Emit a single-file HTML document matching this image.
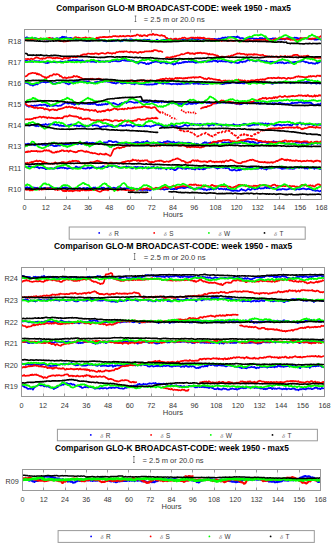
<!DOCTYPE html><html><head><meta charset="utf-8"><style>html,body{margin:0;padding:0;background:#fff;width:333px;height:550px;overflow:hidden}svg{display:block}</style></head><body>
<svg width="333" height="550" viewBox="0 0 333 550" font-family='"Liberation Sans", sans-serif'>
<rect width="333" height="550" fill="#fff"/>
<line x1="45.50" y1="29.5" x2="45.50" y2="199.5" stroke="#f2f2f2" stroke-width="1"/>
<line x1="66.50" y1="29.5" x2="66.50" y2="199.5" stroke="#f2f2f2" stroke-width="1"/>
<line x1="88.50" y1="29.5" x2="88.50" y2="199.5" stroke="#f2f2f2" stroke-width="1"/>
<line x1="109.50" y1="29.5" x2="109.50" y2="199.5" stroke="#f2f2f2" stroke-width="1"/>
<line x1="130.50" y1="29.5" x2="130.50" y2="199.5" stroke="#f2f2f2" stroke-width="1"/>
<line x1="151.50" y1="29.5" x2="151.50" y2="199.5" stroke="#f2f2f2" stroke-width="1"/>
<line x1="173.50" y1="29.5" x2="173.50" y2="199.5" stroke="#f2f2f2" stroke-width="1"/>
<line x1="194.50" y1="29.5" x2="194.50" y2="199.5" stroke="#f2f2f2" stroke-width="1"/>
<line x1="215.50" y1="29.5" x2="215.50" y2="199.5" stroke="#f2f2f2" stroke-width="1"/>
<line x1="236.50" y1="29.5" x2="236.50" y2="199.5" stroke="#f2f2f2" stroke-width="1"/>
<line x1="257.50" y1="29.5" x2="257.50" y2="199.5" stroke="#f2f2f2" stroke-width="1"/>
<line x1="279.50" y1="29.5" x2="279.50" y2="199.5" stroke="#f2f2f2" stroke-width="1"/>
<line x1="300.50" y1="29.5" x2="300.50" y2="199.5" stroke="#f2f2f2" stroke-width="1"/>
<clipPath id="cp0"><rect x="24.5" y="29.5" width="297.00" height="170.00"/></clipPath>
<g clip-path="url(#cp0)">
<polyline points="24.0,37.6 24.8,37.8 25.6,37.9 26.4,37.4 27.2,37.3 28.0,38.3 28.8,38.0 29.6,38.6 30.4,38.3 31.2,38.8 32.0,38.5 32.8,39.0 33.6,38.7 34.4,38.2 35.2,38.1 36.0,38.5 36.8,38.5 37.6,38.9 38.4,38.8 39.2,39.0 40.0,39.2 40.8,39.5 41.6,39.1 42.4,38.7 43.2,38.8 44.0,39.1 44.8,39.4 45.6,39.5 46.4,39.6 47.2,38.8 48.0,39.6 48.8,39.2 49.6,38.9 50.4,38.6 51.2,38.5 52.0,38.7 52.8,38.2 53.6,38.7 54.4,38.9 55.2,39.2 56.0,38.8 56.8,38.0 57.6,38.4 58.4,38.5 59.2,38.5 60.0,38.1 60.8,38.0 61.6,37.3 62.4,36.7 63.2,37.3 64.0,36.9 64.8,37.0 65.6,37.5 66.4,37.2 67.2,38.1 68.0,38.4 68.8,38.0 69.6,38.0 70.4,37.9 71.2,38.1 72.0,38.2 72.8,39.2 73.6,39.0 74.4,38.9 75.2,39.4 76.0,39.4 76.8,39.9 77.6,40.1 78.4,39.6 79.2,39.8 80.0,40.0 80.8,39.7 81.6,39.2 82.4,39.8 83.2,39.4 84.0,40.6 84.8,39.8 85.6,40.7 86.4,40.9 87.2,40.6 88.0,40.5 88.8,40.4 89.6,40.8 90.4,40.8 91.2,40.3 92.0,40.3 92.8,39.9 93.6,40.3 94.4,39.7 95.2,39.7 96.0,39.2 96.8,38.8 97.6,38.9 98.4,39.0 99.2,39.4 100.0,40.0 100.8,40.3 101.6,40.1 102.4,40.5 103.2,40.7 104.0,41.1 104.8,40.9 105.6,41.2 106.4,41.5 107.2,41.1 108.0,41.0 108.8,41.0 109.6,40.9 110.4,40.6 111.2,41.1 112.0,40.4 112.8,41.1 113.6,40.4 114.4,40.5 115.2,41.0 116.0,40.2 116.8,40.8 117.6,39.8 118.4,40.0 119.2,40.6 120.0,40.7 120.8,41.4 121.6,40.8 122.4,41.2 123.2,40.6 124.0,39.6 124.8,39.7 125.6,40.3 126.4,39.3 127.2,40.3 128.0,40.5 128.8,40.2 129.6,39.4 130.4,39.8 131.2,39.3 132.0,39.5 132.8,39.7 133.6,40.5 134.4,39.9 135.2,40.0 136.0,40.5 136.8,39.9 137.6,40.2 138.4,40.2 139.2,40.2 140.0,39.6 140.8,40.1 141.6,40.5 142.4,40.6 143.2,39.7 144.0,39.9 144.8,39.5 145.6,40.0 146.4,40.0 147.2,39.8 148.0,39.9 148.8,39.8 149.6,39.7 150.4,40.7 151.2,40.9 152.0,40.5 152.8,41.4 153.6,41.0 154.4,41.0 155.2,40.8 156.0,40.4 156.8,39.6 157.6,39.9 158.4,41.0 159.2,40.9 160.0,40.9 160.8,40.6 161.6,40.6 162.4,40.9 163.2,39.7 164.0,40.2 164.8,39.8 165.6,40.1 166.4,40.0 167.2,39.6 168.0,39.7 168.8,39.0 169.6,39.5 170.4,39.9 171.2,40.0 172.0,39.5 172.8,39.6 173.6,39.7 174.4,39.6 175.2,39.7 176.0,40.0 176.8,39.5 177.6,39.7 178.4,39.8 179.2,40.3 180.0,40.7 180.8,39.9 181.6,40.0 182.4,39.8 183.2,39.4 184.0,39.6 184.8,40.0 185.6,39.7 186.4,39.7 187.2,40.0 188.0,39.3 188.8,39.1 189.6,39.3 190.4,39.6 191.2,39.2 192.0,39.3 192.8,38.7 193.6,39.0 194.4,39.1 195.2,39.3 196.0,39.5 196.8,39.4 197.6,39.1 198.4,39.2 199.2,39.0 200.0,38.6 200.8,38.8 201.6,38.4 202.4,38.4 203.2,39.2 204.0,39.5 204.8,39.8 205.6,39.5 206.4,39.8 207.2,39.0 208.0,39.9 208.8,39.8 209.6,39.4 210.4,39.3 211.2,39.2 212.0,38.9 212.8,39.1 213.6,39.3 214.4,38.8 215.2,39.2 216.0,39.0 216.8,39.4 217.6,39.5 218.4,38.6 219.2,38.9 220.0,38.7 220.8,38.6 221.6,38.3 222.4,37.7 223.2,37.7 224.0,38.2 224.8,37.5 225.6,37.3 226.4,38.0 227.2,37.5 228.0,37.0 228.8,37.3 229.6,37.3 230.4,37.4 231.2,37.2 232.0,36.8 232.8,37.3 233.6,36.8 234.4,36.9 235.2,37.6 236.0,36.8 236.8,37.3 237.6,36.4 238.4,37.5 239.2,37.4 240.0,38.3 240.8,38.3 241.6,38.0 242.4,38.0 243.2,38.4 244.0,38.5 244.8,39.3 245.6,39.7 246.4,39.3 247.2,39.2 248.0,39.2 248.8,38.9 249.6,38.1 250.4,38.1 251.2,38.6 252.0,38.1 252.8,38.0 253.6,38.8 254.4,38.7 255.2,38.8 256.0,38.6 256.8,38.7 257.6,39.2 258.4,38.9 259.2,38.8 260.0,37.8 260.8,38.8 261.6,38.2 262.4,38.2 263.2,38.9 264.0,38.7 264.8,38.1 265.6,38.5 266.4,37.7 267.2,38.5 268.0,38.7 268.8,38.8 269.6,39.0 270.4,38.9 271.2,39.1 272.0,38.7 272.8,38.3 273.6,38.4 274.4,38.8 275.2,38.3 276.0,38.9 276.8,39.0 277.6,39.7 278.4,39.1 279.2,39.5 280.0,39.2 280.8,39.5 281.6,39.2 282.4,39.3 283.2,39.0 284.0,38.6 284.8,39.6 285.6,38.8 286.4,38.7 287.2,38.2 288.0,38.1 288.8,37.8 289.6,37.9 290.4,38.4 291.2,38.3 292.0,38.2 292.8,38.3 293.6,38.4 294.4,37.6 295.2,37.6 296.0,38.1 296.8,37.7 297.6,38.3 298.4,38.3 299.2,38.6 300.0,38.2 300.8,38.0 301.6,38.8 302.4,38.5 303.2,38.5 304.0,38.7 304.8,38.3 305.6,38.1 306.4,38.6 307.2,38.7 308.0,38.5 308.8,38.9 309.6,38.5 310.4,38.6 311.2,39.3 312.0,38.9 312.8,38.8 313.6,38.9 314.4,39.6 315.2,39.6 316.0,39.5 316.8,39.7 317.6,39.1 318.4,39.3 319.2,39.2 320.0,39.2 320.8,39.7 321.6,39.6" fill="none" stroke="#0000ff" stroke-width="1.7" stroke-linejoin="round" stroke-linecap="round"/>
<polyline points="24.0,60.8 24.8,61.1 25.6,60.9 26.4,60.7 27.2,60.9 28.0,61.4 28.8,61.5 29.6,61.6 30.4,60.6 31.2,61.7 32.0,61.9 32.8,61.5 33.6,61.6 34.4,61.0 35.2,61.3 36.0,61.1 36.8,61.3 37.6,61.3 38.4,61.4 39.2,61.1 40.0,61.4 40.8,61.9 41.6,61.4 42.4,61.7 43.2,61.6 44.0,62.5 44.8,62.4 45.6,63.0 46.4,63.0 47.2,63.1 48.0,62.8 48.8,62.7 49.6,62.2 50.4,62.1 51.2,62.3 52.0,61.9 52.8,61.7 53.6,62.2 54.4,62.2 55.2,62.1 56.0,62.5 56.8,62.2 57.6,62.1 58.4,61.8 59.2,62.0 60.0,61.5 60.8,61.4 61.6,62.2 62.4,61.7 63.2,61.9 64.0,62.0 64.8,61.6 65.6,61.4 66.4,62.2 67.2,61.9 68.0,61.0 68.8,60.4 69.6,60.5 70.4,60.3 71.2,60.7 72.0,60.5 72.8,60.0 73.6,60.0 74.4,60.3 75.2,60.4 76.0,60.3 76.8,60.2 77.6,60.1 78.4,60.6 79.2,60.7 80.0,60.6 80.8,60.7 81.6,60.8 82.4,60.2 83.2,61.3 84.0,61.2 84.8,61.8 85.6,61.3 86.4,61.3 87.2,61.8 88.0,61.2 88.8,61.3 89.6,61.2 90.4,61.7 91.2,61.8 92.0,61.6 92.8,61.6 93.6,61.6 94.4,62.0 95.2,61.9 96.0,62.4 96.8,61.5 97.6,60.9 98.4,60.6 99.2,61.7 100.0,60.9 100.8,61.8 101.6,61.5 102.4,61.3 103.2,61.7 104.0,61.4 104.8,61.9 105.6,61.1 106.4,61.4 107.2,61.2 108.0,61.0 108.8,61.9 109.6,61.8 110.4,61.9 111.2,61.0 112.0,61.2 112.8,61.3 113.6,61.0 114.4,61.0 115.2,61.1 116.0,60.8 116.8,61.3 117.6,61.4 118.4,61.1 119.2,61.4 120.0,61.2 120.8,61.1 121.6,60.2 122.4,60.2 123.2,60.1 124.0,60.6 124.8,59.8 125.6,60.8 126.4,60.5 127.2,61.0 128.0,60.8 128.8,60.7 129.6,60.9 130.4,61.1 131.2,60.2 132.0,60.8 132.8,60.6 133.6,60.9 134.4,61.9 135.2,62.1 136.0,61.8 136.8,62.3 137.6,62.5 138.4,63.7 139.2,62.8 140.0,62.5 140.8,62.4 141.6,62.3 142.4,62.6 143.2,63.1 144.0,62.9 144.8,62.9 145.6,63.8 146.4,64.2 147.2,63.9 148.0,63.2 148.8,64.2 149.6,63.3 150.4,62.9 151.2,63.4 152.0,62.2 152.8,61.7 153.6,62.2 154.4,61.7 155.2,61.4 156.0,61.8 156.8,61.6 157.6,62.0 158.4,61.8 159.2,61.9 160.0,62.6 160.8,63.2 161.6,62.6 162.4,62.5 163.2,62.5 164.0,62.5 164.8,62.4 165.6,63.1 166.4,63.4 167.2,63.6 168.0,63.2 168.8,63.0 169.6,63.0 170.4,63.4 171.2,63.5 172.0,63.8 172.8,63.8 173.6,64.7 174.4,64.0 175.2,64.3 176.0,63.2 176.8,62.5 177.6,63.1 178.4,63.6 179.2,62.8 180.0,63.1 180.8,63.1 181.6,63.0 182.4,62.1 183.2,62.6 184.0,61.7 184.8,62.4 185.6,61.7 186.4,61.9 187.2,62.1 188.0,61.9 188.8,61.3 189.6,62.0 190.4,61.9 191.2,61.7 192.0,61.9 192.8,61.2 193.6,62.2 194.4,61.6 195.2,62.8 196.0,62.7 196.8,62.6 197.6,62.2 198.4,62.5 199.2,62.0 200.0,61.8 200.8,62.3 201.6,61.5 202.4,61.4 203.2,61.8 204.0,61.2 204.8,61.1 205.6,61.2 206.4,61.8 207.2,61.8 208.0,61.7 208.8,61.6 209.6,61.7 210.4,61.4 211.2,61.5 212.0,61.6 212.8,61.0 213.6,60.6 214.4,61.0 215.2,60.6 216.0,61.3 216.8,60.8 217.6,62.0 218.4,61.5 219.2,61.0 220.0,61.0 220.8,61.5 221.6,60.7 222.4,61.4 223.2,61.2 224.0,61.5 224.8,61.2 225.6,61.7 226.4,61.6 227.2,60.8 228.0,61.5 228.8,61.7 229.6,62.1 230.4,62.5 231.2,62.6 232.0,62.4 232.8,61.9 233.6,62.1 234.4,62.6 235.2,62.2 236.0,62.8 236.8,63.0 237.6,63.1 238.4,62.7 239.2,62.8 240.0,61.8 240.8,61.7 241.6,61.7 242.4,62.3 243.2,61.8 244.0,61.6 244.8,61.6 245.6,61.8 246.4,60.7 247.2,60.6 248.0,59.9 248.8,59.8 249.6,60.6 250.4,59.8 251.2,59.5 252.0,60.1 252.8,60.7 253.6,61.0 254.4,60.9 255.2,61.4 256.0,61.4 256.8,60.5 257.6,60.7 258.4,60.2 259.2,60.2 260.0,60.5 260.8,60.5 261.6,60.8 262.4,60.9 263.2,61.4 264.0,60.9 264.8,61.8 265.6,61.6 266.4,60.9 267.2,61.9 268.0,61.9 268.8,62.4 269.6,62.1 270.4,61.7 271.2,62.1 272.0,61.7 272.8,61.8 273.6,62.2 274.4,62.1 275.2,63.1 276.0,62.5 276.8,62.3 277.6,63.1 278.4,62.6 279.2,62.4 280.0,62.7 280.8,62.1 281.6,62.9 282.4,62.2 283.2,62.7 284.0,63.4 284.8,63.3 285.6,63.1 286.4,63.1 287.2,62.5 288.0,62.3 288.8,62.9 289.6,62.6 290.4,62.6 291.2,62.4 292.0,62.7 292.8,62.1 293.6,62.4 294.4,62.1 295.2,61.8 296.0,61.8 296.8,62.0 297.6,61.5 298.4,61.4 299.2,61.7 300.0,61.5 300.8,61.6 301.6,61.3 302.4,60.2 303.2,61.2 304.0,61.6 304.8,61.5 305.6,62.4 306.4,61.9 307.2,62.4 308.0,62.3 308.8,63.3 309.6,63.2 310.4,63.1 311.2,62.7 312.0,63.0 312.8,63.6 313.6,63.3 314.4,63.7 315.2,63.8 316.0,63.1 316.8,62.5 317.6,63.4 318.4,62.3 319.2,62.4 320.0,61.3 320.8,61.6 321.6,61.3" fill="none" stroke="#0000ff" stroke-width="1.7" stroke-linejoin="round" stroke-linecap="round"/>
<polyline points="24.0,82.4 24.8,83.0 25.6,83.0 26.4,83.0 27.2,83.2 28.0,83.6 28.8,83.5 29.6,84.6 30.4,85.0 31.2,85.0 32.0,84.9 32.8,85.6 33.6,85.5 34.4,84.7 35.2,84.7 36.0,84.5 36.8,83.5 37.6,84.4 38.4,83.3 39.2,82.8 40.0,83.0 40.8,82.6 41.6,81.7 42.4,82.0 43.2,82.1 44.0,82.1 44.8,82.0 45.6,82.6 46.4,82.3 47.2,82.1 48.0,82.1 48.8,82.0 49.6,81.8 50.4,81.7 51.2,82.2 52.0,82.5 52.8,83.3 53.6,83.7 54.4,83.5 55.2,83.9 56.0,83.1 56.8,82.8 57.6,82.8 58.4,82.5 59.2,83.2 60.0,82.5 60.8,82.6 61.6,82.1 62.4,82.3 63.2,81.8 64.0,82.5 64.8,82.1 65.6,83.3 66.4,83.3 67.2,83.5 68.0,84.2 68.8,84.4 69.6,83.8 70.4,83.5 71.2,82.9 72.0,82.2 72.8,82.5 73.6,82.0 74.4,81.7 75.2,81.8 76.0,82.0 76.8,81.8 77.6,80.6 78.4,80.4 79.2,81.4 80.0,81.3 80.8,81.6 81.6,82.0 82.4,81.7 83.2,81.3 84.0,81.3 84.8,81.6 85.6,81.3 86.4,81.3 87.2,81.8 88.0,81.3 88.8,81.2 89.6,82.0 90.4,82.7 91.2,82.6 92.0,83.2 92.8,83.0 93.6,83.1 94.4,82.6 95.2,82.0 96.0,82.6 96.8,81.9 97.6,81.7 98.4,82.1 99.2,81.7 100.0,81.7 100.8,80.7 101.6,80.8 102.4,81.0 103.2,81.0 104.0,80.9 104.8,81.7 105.6,80.9 106.4,81.5 107.2,81.2 108.0,82.0 108.8,81.6 109.6,82.0 110.4,82.3 111.2,82.2 112.0,83.0 112.8,82.8 113.6,83.2 114.4,82.7 115.2,83.3 116.0,83.6 116.8,82.7 117.6,82.8 118.4,82.6 119.2,81.9 120.0,82.3 120.8,83.0 121.6,83.5 122.4,83.7 123.2,83.4 124.0,83.2 124.8,83.2 125.6,83.0 126.4,83.3 127.2,82.7 128.0,82.5 128.8,83.1 129.6,83.0 130.4,83.1 131.2,83.7 132.0,84.0 132.8,83.7 133.6,83.4 134.4,84.4 135.2,83.6 136.0,83.4 136.8,83.3 137.6,83.2 138.4,83.4 139.2,84.0 140.0,83.5 140.8,84.2 141.6,84.1 142.4,84.1 143.2,83.7 144.0,84.3 144.8,84.4 145.6,84.0 146.4,84.6 147.2,84.6 148.0,84.6 148.8,84.4 149.6,84.7 150.4,84.3 151.2,84.4 152.0,84.7 152.8,84.4 153.6,84.3 154.4,84.3 155.2,83.3 156.0,84.3 156.8,83.5 157.6,83.6 158.4,83.1 159.2,82.8 160.0,83.2 160.8,83.0 161.6,83.5 162.4,83.1 163.2,83.9 164.0,83.3 164.8,83.1 165.6,83.5 166.4,83.7 167.2,83.6 168.0,83.6 168.8,83.7 169.6,83.7 170.4,83.9 171.2,84.1 172.0,84.4 172.8,83.9 173.6,83.7 174.4,84.0 175.2,84.0 176.0,83.9 176.8,84.1 177.6,84.4 178.4,83.6 179.2,84.1 180.0,83.9 180.8,84.4 181.6,83.8 182.4,83.9 183.2,84.0 184.0,84.0 184.8,83.4 185.6,83.8 186.4,83.8 187.2,83.6 188.0,83.6 188.8,83.7 189.6,83.7 190.4,83.6 191.2,82.9 192.0,83.0 192.8,83.0 193.6,83.8 194.4,83.6 195.2,83.7 196.0,83.5 196.8,83.5 197.6,83.5 198.4,84.0 199.2,83.6 200.0,83.8 200.8,83.7 201.6,83.5 202.4,83.8 203.2,84.2 204.0,84.0 204.8,83.9 205.6,83.5 206.4,83.8 207.2,83.8 208.0,83.8 208.8,83.2 209.6,82.3 210.4,82.4 211.2,82.8 212.0,82.8 212.8,82.4 213.6,82.8 214.4,82.7 215.2,83.3 216.0,83.1 216.8,83.4 217.6,83.1 218.4,83.0 219.2,82.9 220.0,83.3 220.8,83.8 221.6,84.0 222.4,84.2 223.2,83.7 224.0,83.9 224.8,83.5 225.6,83.5 226.4,83.0 227.2,83.4 228.0,82.9 228.8,83.4 229.6,82.8 230.4,83.1 231.2,82.8 232.0,82.2 232.8,82.6 233.6,82.0 234.4,82.4 235.2,82.9 236.0,82.6 236.8,83.1 237.6,83.2 238.4,83.0 239.2,83.3 240.0,82.9 240.8,83.1 241.6,82.7 242.4,83.3 243.2,83.0 244.0,83.6 244.8,82.7 245.6,82.6 246.4,82.6 247.2,82.2 248.0,81.6 248.8,81.8 249.6,82.0 250.4,81.9 251.2,81.5 252.0,81.7 252.8,82.1 253.6,82.1 254.4,82.7 255.2,82.4 256.0,82.5 256.8,82.5 257.6,82.7 258.4,82.2 259.2,82.9 260.0,82.8 260.8,82.4 261.6,82.7 262.4,82.1 263.2,82.3 264.0,82.2 264.8,82.2 265.6,82.9 266.4,82.8 267.2,82.8 268.0,82.5 268.8,82.7 269.6,82.7 270.4,83.1 271.2,83.4 272.0,83.7 272.8,83.8 273.6,83.0 274.4,83.1 275.2,83.0 276.0,83.0 276.8,83.1 277.6,82.8 278.4,82.3 279.2,82.7 280.0,82.8 280.8,82.6 281.6,82.8 282.4,82.5 283.2,82.5 284.0,81.9 284.8,81.7 285.6,81.9 286.4,82.0 287.2,82.3 288.0,82.1 288.8,82.2 289.6,82.3 290.4,83.3 291.2,82.8 292.0,82.4 292.8,82.4 293.6,82.7 294.4,83.0 295.2,82.4 296.0,81.7 296.8,82.0 297.6,82.3 298.4,82.5 299.2,81.8 300.0,81.9 300.8,81.9 301.6,82.4 302.4,82.2 303.2,82.6 304.0,82.1 304.8,82.2 305.6,82.0 306.4,81.9 307.2,82.2 308.0,81.8 308.8,82.5 309.6,82.2 310.4,83.2 311.2,83.6 312.0,83.2 312.8,83.2 313.6,83.1 314.4,83.1 315.2,83.2 316.0,83.6 316.8,83.6 317.6,83.2 318.4,83.2 319.2,83.3 320.0,83.6 320.8,83.2 321.6,83.4" fill="none" stroke="#0000ff" stroke-width="1.7" stroke-linejoin="round" stroke-linecap="round"/>
<polyline points="24.0,104.4 24.8,104.2 25.6,104.2 26.4,105.4 27.2,106.0 28.0,105.9 28.8,106.8 29.6,106.0 30.4,106.4 31.2,105.4 32.0,105.8 32.8,106.2 33.6,105.9 34.4,105.4 35.2,105.9 36.0,105.6 36.8,105.3 37.6,105.6 38.4,105.3 39.2,104.9 40.0,105.0 40.8,104.7 41.6,105.3 42.4,105.0 43.2,105.0 44.0,104.4 44.8,105.0 45.6,104.6 46.4,105.5 47.2,106.3 48.0,105.3 48.8,105.8 49.6,106.2 50.4,105.3 51.2,105.2 52.0,105.8 52.8,105.9 53.6,106.0 54.4,105.4 55.2,105.5 56.0,105.2 56.8,105.5 57.6,106.0 58.4,106.0 59.2,105.7 60.0,105.7 60.8,105.7 61.6,105.1 62.4,104.5 63.2,104.0 64.0,103.7 64.8,103.0 65.6,102.4 66.4,102.9 67.2,102.9 68.0,103.6 68.8,103.4 69.6,103.1 70.4,102.7 71.2,103.5 72.0,104.0 72.8,103.5 73.6,103.9 74.4,104.9 75.2,104.3 76.0,103.7 76.8,103.6 77.6,103.7 78.4,104.5 79.2,104.2 80.0,103.4 80.8,103.3 81.6,103.3 82.4,103.7 83.2,102.8 84.0,103.7 84.8,103.6 85.6,103.6 86.4,103.6 87.2,103.4 88.0,104.2 88.8,103.5 89.6,104.1 90.4,104.2 91.2,103.1 92.0,104.0 92.8,103.3 93.6,104.0 94.4,103.5 95.2,103.7 96.0,104.3 96.8,105.0 97.6,104.9 98.4,105.3 99.2,104.3 100.0,105.0 100.8,105.1 101.6,104.2 102.4,104.8 103.2,104.2 104.0,104.4 104.8,104.4 105.6,103.8 106.4,104.3 107.2,104.3 108.0,103.8 108.8,103.5 109.6,103.1 110.4,103.3 111.2,103.5 112.0,103.2 112.8,103.7 113.6,102.9 114.4,103.7 115.2,103.7 116.0,104.1 116.8,104.4 117.6,104.8 118.4,105.4 119.2,104.5 120.0,103.7 120.8,104.2 121.6,103.0 122.4,103.6 123.2,102.8 124.0,102.8 124.8,102.0 125.6,102.1 126.4,103.0 127.2,102.3 128.0,102.0 128.8,101.8 129.6,101.7 130.4,101.5 131.2,101.7 132.0,102.1 132.8,102.3 133.6,102.5 134.4,102.9 135.2,102.4 136.0,102.6 136.8,102.2 137.6,102.7 138.4,101.7 139.2,101.5 140.0,101.2 140.8,101.2 141.6,101.4 142.4,101.3 143.2,101.1 144.0,102.0 144.8,101.8 145.6,102.0 146.4,102.0 147.2,102.5 148.0,101.9 148.8,101.5 149.6,101.6 150.4,100.8 151.2,100.6 152.0,101.7 152.8,101.8 153.6,101.7 154.4,102.4 155.2,102.1 156.0,101.9 156.8,102.3 157.6,102.5 158.4,102.5 159.2,102.0 160.0,101.4 160.8,101.2 161.6,102.5 162.4,101.5 163.2,101.2 164.0,101.9 164.8,102.2 165.6,101.7 166.4,101.9 167.2,102.2 168.0,102.5 168.8,102.9 169.6,102.9 170.4,103.1 171.2,103.3 172.0,103.4 172.8,103.2 173.6,103.2 174.4,103.0 175.2,102.7 176.0,103.0 176.8,103.3 177.6,104.2 178.4,104.2 179.2,103.8 180.0,104.0 180.8,103.8 181.6,104.3 182.4,103.8 183.2,104.3 184.0,103.9 184.8,103.7 185.6,103.9 186.4,104.3 187.2,104.3 188.0,104.0 188.8,102.9 189.6,103.0 190.4,104.0 191.2,103.9 192.0,103.7 192.8,104.0 193.6,102.7 194.4,103.3 195.2,103.0 196.0,103.9 196.8,103.3 197.6,103.1 198.4,102.9 199.2,102.6 200.0,102.5 200.8,102.8 201.6,102.2 202.4,102.2 203.2,102.9 204.0,102.1 204.8,101.8 205.6,102.2 206.4,102.8 207.2,102.9 208.0,102.4 208.8,102.9 209.6,102.6 210.4,103.0 211.2,102.5 212.0,103.1 212.8,103.4 213.6,103.3 214.4,103.4 215.2,102.8 216.0,103.5 216.8,102.9 217.6,103.1 218.4,102.6 219.2,102.9 220.0,103.1 220.8,102.7 221.6,102.4 222.4,102.5 223.2,102.7 224.0,102.7 224.8,102.7 225.6,102.8 226.4,102.3 227.2,102.4 228.0,101.6 228.8,102.7 229.6,102.7 230.4,103.0 231.2,103.0 232.0,103.3 232.8,103.2 233.6,102.4 234.4,103.1 235.2,103.7 236.0,103.2 236.8,104.2 237.6,103.6 238.4,103.0 239.2,104.4 240.0,104.0 240.8,104.3 241.6,104.1 242.4,103.6 243.2,103.5 244.0,102.5 244.8,102.9 245.6,103.3 246.4,102.5 247.2,103.8 248.0,103.0 248.8,102.3 249.6,101.9 250.4,101.7 251.2,101.9 252.0,102.6 252.8,102.8 253.6,102.6 254.4,102.7 255.2,102.9 256.0,103.1 256.8,102.8 257.6,102.2 258.4,102.7 259.2,104.0 260.0,104.0 260.8,102.6 261.6,103.3 262.4,103.3 263.2,103.5 264.0,103.3 264.8,102.8 265.6,103.0 266.4,103.4 267.2,104.0 268.0,103.6 268.8,104.0 269.6,103.3 270.4,103.0 271.2,103.8 272.0,103.7 272.8,103.0 273.6,104.4 274.4,103.1 275.2,103.5 276.0,103.3 276.8,103.5 277.6,103.5 278.4,103.2 279.2,102.8 280.0,102.7 280.8,102.9 281.6,104.0 282.4,103.5 283.2,104.6 284.0,103.6 284.8,103.8 285.6,104.0 286.4,104.1 287.2,103.7 288.0,103.8 288.8,104.2 289.6,104.3 290.4,103.6 291.2,103.4 292.0,102.5 292.8,103.3 293.6,103.3 294.4,102.8 295.2,102.8 296.0,102.8 296.8,102.7 297.6,103.0 298.4,102.1 299.2,102.4 300.0,102.2 300.8,102.2 301.6,102.1 302.4,102.8 303.2,102.9 304.0,102.6 304.8,103.2 305.6,102.4 306.4,102.9 307.2,102.1 308.0,102.9 308.8,102.7 309.6,102.3 310.4,103.0 311.2,102.9 312.0,103.9 312.8,104.2 313.6,104.8 314.4,105.2 315.2,104.8 316.0,104.5 316.8,104.8 317.6,104.1 318.4,104.0 319.2,104.6 320.0,104.2 320.8,103.4 321.6,103.0" fill="none" stroke="#0000ff" stroke-width="1.7" stroke-linejoin="round" stroke-linecap="round"/>
<polyline points="24.0,125.6 24.8,125.5 25.6,124.6 26.4,125.1 27.2,124.2 28.0,125.0 28.8,125.4 29.6,125.8 30.4,125.5 31.2,124.7 32.0,124.9 32.8,125.1 33.6,124.9 34.4,125.7 35.2,125.2 36.0,126.3 36.8,125.4 37.6,126.0 38.4,126.3 39.2,125.7 40.0,125.3 40.8,124.9 41.6,124.8 42.4,125.2 43.2,124.4 44.0,124.9 44.8,124.7 45.6,124.0 46.4,124.6 47.2,125.0 48.0,124.8 48.8,124.2 49.6,124.4 50.4,124.1 51.2,124.1 52.0,124.5 52.8,124.2 53.6,124.6 54.4,124.0 55.2,125.1 56.0,124.7 56.8,124.8 57.6,124.8 58.4,124.9 59.2,125.9 60.0,125.7 60.8,125.2 61.6,126.0 62.4,125.8 63.2,125.8 64.0,126.1 64.8,126.0 65.6,125.9 66.4,126.0 67.2,125.8 68.0,125.3 68.8,125.1 69.6,125.3 70.4,124.7 71.2,124.4 72.0,124.6 72.8,124.8 73.6,125.2 74.4,125.7 75.2,125.0 76.0,125.3 76.8,126.0 77.6,125.5 78.4,126.0 79.2,126.4 80.0,125.5 80.8,125.7 81.6,125.4 82.4,126.2 83.2,125.4 84.0,126.5 84.8,126.8 85.6,126.0 86.4,126.1 87.2,125.7 88.0,126.4 88.8,126.0 89.6,125.5 90.4,124.7 91.2,124.7 92.0,125.1 92.8,125.8 93.6,125.5 94.4,125.2 95.2,125.1 96.0,125.6 96.8,125.3 97.6,125.6 98.4,125.9 99.2,126.6 100.0,127.2 100.8,127.1 101.6,126.8 102.4,126.5 103.2,126.5 104.0,126.3 104.8,126.1 105.6,126.6 106.4,126.4 107.2,125.9 108.0,126.0 108.8,125.6 109.6,125.8 110.4,125.6 111.2,126.4 112.0,126.5 112.8,126.9 113.6,126.2 114.4,127.2 115.2,126.2 116.0,126.4 116.8,125.6 117.6,126.3 118.4,125.8 119.2,125.8 120.0,125.5 120.8,125.2 121.6,125.4 122.4,126.1 123.2,125.7 124.0,125.8 124.8,125.5 125.6,125.9 126.4,124.4 127.2,125.2 128.0,125.5 128.8,125.1 129.6,125.5 130.4,125.0 131.2,125.3 132.0,126.1 132.8,126.7 133.6,126.3 134.4,125.5 135.2,125.3 136.0,125.5 136.8,125.4 137.6,125.5 138.4,126.2 139.2,126.2 140.0,126.3 140.8,126.0 141.6,126.2 142.4,126.3 143.2,126.1 144.0,126.3 144.8,126.2 145.6,125.8 146.4,125.7 147.2,126.2 148.0,126.0 148.8,126.0 149.6,126.1 150.4,126.8 151.2,126.4 152.0,126.0 152.8,125.9 153.6,125.8 154.4,125.3 155.2,125.2 156.0,124.9 156.8,124.6 157.6,124.8 158.4,124.8 159.2,125.0 160.0,124.6 160.8,125.3 161.6,126.0 162.4,126.1 163.2,127.1 164.0,125.8 164.8,126.5 165.6,125.6 166.4,125.5 167.2,126.1 168.0,125.5 168.8,125.5 169.6,125.5 170.4,125.5 171.2,125.8 172.0,125.0 172.8,125.9 173.6,125.8 174.4,125.9 175.2,125.7 176.0,125.8 176.8,126.2 177.6,126.8 178.4,127.2 179.2,126.7 180.0,126.9 180.8,126.6 181.6,126.6 182.4,126.1 183.2,126.0 184.0,125.2 184.8,124.9 185.6,125.1 186.4,125.3 187.2,125.8 188.0,125.8 188.8,125.5 189.6,125.3 190.4,124.4 191.2,123.7 192.0,124.7 192.8,124.6 193.6,125.2 194.4,124.2 195.2,124.4 196.0,124.3 196.8,124.8 197.6,124.1 198.4,125.2 199.2,124.5 200.0,123.9 200.8,124.1 201.6,124.5 202.4,125.6 203.2,124.9 204.0,124.4 204.8,124.3 205.6,124.5 206.4,124.0 207.2,124.5 208.0,124.9 208.8,125.9 209.6,125.7 210.4,124.9 211.2,124.9 212.0,124.6 212.8,124.4 213.6,125.3 214.4,124.6 215.2,123.7 216.0,123.7 216.8,123.8 217.6,124.1 218.4,124.7 219.2,124.8 220.0,124.9 220.8,125.1 221.6,125.8 222.4,125.1 223.2,124.8 224.0,124.6 224.8,125.1 225.6,124.5 226.4,125.7 227.2,125.5 228.0,124.9 228.8,125.5 229.6,125.0 230.4,125.0 231.2,125.2 232.0,124.7 232.8,124.5 233.6,124.1 234.4,124.6 235.2,125.1 236.0,125.0 236.8,125.3 237.6,125.2 238.4,125.4 239.2,124.9 240.0,124.9 240.8,125.1 241.6,125.1 242.4,124.4 243.2,124.8 244.0,123.7 244.8,124.5 245.6,123.9 246.4,124.4 247.2,125.4 248.0,125.5 248.8,126.0 249.6,125.7 250.4,125.7 251.2,125.3 252.0,125.1 252.8,124.8 253.6,124.6 254.4,124.9 255.2,124.5 256.0,124.7 256.8,124.4 257.6,124.7 258.4,124.7 259.2,123.5 260.0,123.3 260.8,123.3 261.6,123.5 262.4,123.2 263.2,123.5 264.0,124.3 264.8,124.5 265.6,123.3 266.4,124.6 267.2,124.6 268.0,123.5 268.8,123.5 269.6,124.3 270.4,124.1 271.2,124.3 272.0,124.4 272.8,124.7 273.6,124.8 274.4,125.6 275.2,124.9 276.0,125.5 276.8,124.7 277.6,124.9 278.4,124.5 279.2,124.7 280.0,125.4 280.8,124.8 281.6,125.6 282.4,125.3 283.2,125.0 284.0,124.8 284.8,125.2 285.6,125.0 286.4,124.9 287.2,124.7 288.0,124.7 288.8,124.8 289.6,125.2 290.4,124.9 291.2,125.6 292.0,125.4 292.8,124.1 293.6,123.9 294.4,123.9 295.2,124.2 296.0,124.6 296.8,124.5 297.6,124.8 298.4,123.5 299.2,123.1 300.0,122.4 300.8,123.4 301.6,124.6 302.4,123.5 303.2,123.6 304.0,123.6 304.8,124.2 305.6,124.8 306.4,124.1 307.2,124.3 308.0,124.6 308.8,123.8 309.6,124.4 310.4,123.8 311.2,124.0 312.0,124.4 312.8,124.6 313.6,125.4 314.4,124.8 315.2,124.6 316.0,124.3 316.8,124.7 317.6,124.3 318.4,124.1 319.2,124.9 320.0,124.6 320.8,124.9 321.6,125.0" fill="none" stroke="#0000ff" stroke-width="1.7" stroke-linejoin="round" stroke-linecap="round"/>
<polyline points="24.0,144.3 24.8,144.3 25.6,144.2 26.4,144.1 27.2,144.6 28.0,143.6 28.8,143.8 29.6,143.8 30.4,144.0 31.2,144.9 32.0,144.6 32.8,144.3 33.6,144.6 34.4,145.2 35.2,145.4 36.0,144.9 36.8,144.8 37.6,144.8 38.4,144.3 39.2,144.7 40.0,144.2 40.8,144.5 41.6,144.2 42.4,144.9 43.2,144.8 44.0,144.3 44.8,144.8 45.6,145.4 46.4,145.5 47.2,144.7 48.0,145.1 48.8,145.8 49.6,144.9 50.4,145.3 51.2,144.7 52.0,145.1 52.8,145.4 53.6,146.0 54.4,146.2 55.2,145.6 56.0,146.2 56.8,145.6 57.6,145.8 58.4,145.5 59.2,145.4 60.0,145.7 60.8,145.1 61.6,145.1 62.4,144.5 63.2,144.3 64.0,144.4 64.8,145.2 65.6,144.5 66.4,144.5 67.2,144.2 68.0,144.2 68.8,144.3 69.6,143.8 70.4,143.5 71.2,144.4 72.0,142.8 72.8,143.7 73.6,144.3 74.4,144.0 75.2,143.3 76.0,143.9 76.8,144.1 77.6,144.3 78.4,143.8 79.2,143.1 80.0,143.2 80.8,143.8 81.6,144.2 82.4,143.8 83.2,143.5 84.0,142.8 84.8,142.8 85.6,142.6 86.4,142.3 87.2,142.2 88.0,143.3 88.8,143.4 89.6,142.8 90.4,143.0 91.2,143.0 92.0,142.7 92.8,142.8 93.6,142.8 94.4,143.4 95.2,143.4 96.0,143.0 96.8,142.6 97.6,143.3 98.4,143.5 99.2,143.4 100.0,143.3 100.8,143.3 101.6,143.0 102.4,143.7 103.2,143.4 104.0,142.1 104.8,143.0 105.6,142.4 106.4,142.4 107.2,142.7 108.0,141.8 108.8,140.8 109.6,141.1 110.4,141.0 111.2,141.1 112.0,141.8 112.8,142.1 113.6,142.1 114.4,142.0 115.2,141.6 116.0,141.5 116.8,142.0 117.6,142.4 118.4,142.5 119.2,143.1 120.0,142.9 120.8,142.8 121.6,142.9 122.4,143.4 123.2,142.8 124.0,142.9 124.8,143.5 125.6,143.3 126.4,143.5 127.2,144.2 128.0,144.2 128.8,143.3 129.6,143.8 130.4,143.8 131.2,143.1 132.0,144.1 132.8,143.0 133.6,142.8 134.4,143.1 135.2,142.2 136.0,142.0 136.8,142.3 137.6,141.9 138.4,142.2 139.2,142.7 140.0,142.9 140.8,142.9 141.6,142.2 142.4,142.7 143.2,141.8 144.0,142.4 144.8,142.4 145.6,142.1 146.4,141.5 147.2,141.0 148.0,142.1 148.8,142.4 149.6,142.5 150.4,142.8 151.2,142.8 152.0,142.7 152.8,143.5 153.6,143.5 154.4,142.8 155.2,142.8 156.0,143.6 156.8,143.6 157.6,142.4 158.4,142.3 159.2,142.9 160.0,142.3 160.8,142.6 161.6,142.8 162.4,142.8 163.2,143.0 164.0,141.7 164.8,142.6 165.6,141.7 166.4,142.0 167.2,141.0 168.0,141.9 168.8,141.3 169.6,141.7 170.4,142.3 171.2,142.1 172.0,142.6 172.8,142.1 173.6,141.6 174.4,142.4 175.2,143.4 176.0,143.0 176.8,142.6 177.6,142.5 178.4,142.2 179.2,142.4 180.0,142.9 180.8,142.6 181.6,142.8 182.4,142.4 183.2,142.8 184.0,143.1 184.8,143.0 185.6,143.1 186.4,143.1 187.2,143.5 188.0,142.5 188.8,142.8 189.6,142.8 190.4,142.9 191.2,143.4 192.0,143.9 192.8,144.0 193.6,144.5 194.4,143.4 195.2,144.3 196.0,144.3 196.8,143.6 197.6,144.5 198.4,144.2 199.2,144.7 200.0,145.2 200.8,144.8 201.6,144.2 202.4,143.8 203.2,142.9 204.0,143.0 204.8,142.2 205.6,142.8 206.4,142.4 207.2,143.4 208.0,143.6 208.8,143.0 209.6,143.7 210.4,142.3 211.2,143.2 212.0,143.0 212.8,142.4 213.6,142.5 214.4,142.8 215.2,142.5 216.0,142.0 216.8,143.0 217.6,143.2 218.4,141.5 219.2,140.9 220.0,141.3 220.8,141.1 221.6,141.9 222.4,142.4 223.2,142.9 224.0,142.4 224.8,142.2 225.6,142.5 226.4,142.8 227.2,142.6 228.0,142.8 228.8,142.2 229.6,143.5 230.4,142.4 231.2,142.9 232.0,143.1 232.8,142.9 233.6,143.1 234.4,143.6 235.2,143.6 236.0,142.8 236.8,143.1 237.6,143.2 238.4,142.8 239.2,143.0 240.0,143.2 240.8,142.6 241.6,141.6 242.4,142.0 243.2,143.0 244.0,142.3 244.8,140.9 245.6,140.7 246.4,141.7 247.2,141.1 248.0,141.6 248.8,141.4 249.6,142.3 250.4,141.8 251.2,142.2 252.0,142.1 252.8,141.7 253.6,141.8 254.4,143.0 255.2,142.4 256.0,143.1 256.8,143.8 257.6,143.5 258.4,142.7 259.2,142.4 260.0,142.0 260.8,142.0 261.6,142.2 262.4,142.3 263.2,141.9 264.0,141.8 264.8,142.1 265.6,141.5 266.4,142.9 267.2,142.8 268.0,143.4 268.8,142.5 269.6,141.8 270.4,142.7 271.2,142.8 272.0,142.4 272.8,141.7 273.6,141.1 274.4,142.0 275.2,142.3 276.0,141.7 276.8,142.4 277.6,142.1 278.4,142.4 279.2,142.5 280.0,142.1 280.8,142.0 281.6,142.3 282.4,142.0 283.2,142.9 284.0,142.9 284.8,142.9 285.6,144.0 286.4,143.8 287.2,143.5 288.0,143.8 288.8,143.4 289.6,144.1 290.4,144.2 291.2,143.8 292.0,143.6 292.8,143.7 293.6,143.7 294.4,143.6 295.2,143.2 296.0,142.7 296.8,142.3 297.6,142.6 298.4,142.1 299.2,142.8 300.0,142.5 300.8,142.2 301.6,143.1 302.4,142.8 303.2,142.6 304.0,142.9 304.8,141.7 305.6,142.7 306.4,143.1 307.2,142.7 308.0,143.2 308.8,144.2 309.6,144.3 310.4,144.4 311.2,144.8 312.0,144.2 312.8,143.8 313.6,143.3 314.4,142.6 315.2,142.9 316.0,143.2 316.8,142.9 317.6,143.9 318.4,143.2 319.2,143.2 320.0,143.7 320.8,143.9 321.6,144.2" fill="none" stroke="#0000ff" stroke-width="1.7" stroke-linejoin="round" stroke-linecap="round"/>
<polyline points="24.0,166.4 24.8,166.6 25.6,166.8 26.4,167.1 27.2,167.5 28.0,167.0 28.8,166.7 29.6,166.7 30.4,167.0 31.2,166.6 32.0,166.9 32.8,167.1 33.6,166.6 34.4,167.3 35.2,166.7 36.0,167.1 36.8,167.1 37.6,166.9 38.4,167.9 39.2,168.4 40.0,167.6 40.8,167.6 41.6,167.8 42.4,167.8 43.2,168.2 44.0,168.2 44.8,168.2 45.6,169.1 46.4,169.2 47.2,168.4 48.0,168.3 48.8,168.5 49.6,168.4 50.4,168.6 51.2,168.2 52.0,168.3 52.8,168.8 53.6,168.5 54.4,168.6 55.2,167.5 56.0,168.3 56.8,167.8 57.6,168.5 58.4,168.0 59.2,168.1 60.0,167.9 60.8,167.1 61.6,167.7 62.4,167.9 63.2,167.5 64.0,167.6 64.8,168.3 65.6,167.9 66.4,168.3 67.2,168.8 68.0,168.4 68.8,168.1 69.6,168.0 70.4,168.2 71.2,168.2 72.0,168.6 72.8,168.4 73.6,168.1 74.4,168.0 75.2,167.4 76.0,166.5 76.8,167.2 77.6,167.2 78.4,167.9 79.2,167.4 80.0,167.3 80.8,167.3 81.6,167.3 82.4,168.2 83.2,168.3 84.0,168.2 84.8,168.5 85.6,168.6 86.4,168.4 87.2,168.3 88.0,167.2 88.8,167.7 89.6,168.5 90.4,167.9 91.2,168.1 92.0,166.8 92.8,167.5 93.6,167.5 94.4,167.7 95.2,167.8 96.0,167.5 96.8,168.0 97.6,168.1 98.4,167.3 99.2,167.5 100.0,167.7 100.8,167.2 101.6,167.7 102.4,166.6 103.2,166.0 104.0,166.3 104.8,166.8 105.6,166.8 106.4,167.1 107.2,167.2 108.0,166.7 108.8,165.8 109.6,165.8 110.4,165.9 111.2,166.0 112.0,166.8 112.8,165.7 113.6,165.4 114.4,165.5 115.2,165.8 116.0,166.6 116.8,166.2 117.6,166.8 118.4,166.8 119.2,167.0 120.0,167.4 120.8,167.7 121.6,167.7 122.4,167.7 123.2,167.4 124.0,166.8 124.8,166.8 125.6,167.2 126.4,166.4 127.2,166.7 128.0,166.9 128.8,166.5 129.6,167.3 130.4,167.7 131.2,167.4 132.0,168.4 132.8,168.5 133.6,167.3 134.4,167.2 135.2,167.1 136.0,166.9 136.8,167.6 137.6,166.9 138.4,167.0 139.2,167.9 140.0,167.1 140.8,167.0 141.6,167.4 142.4,166.9 143.2,167.2 144.0,168.1 144.8,167.6 145.6,167.0 146.4,167.3 147.2,168.4 148.0,168.3 148.8,168.5 149.6,168.3 150.4,168.0 151.2,167.2 152.0,167.3 152.8,167.2 153.6,166.8 154.4,167.5 155.2,168.2 156.0,168.6 156.8,167.3 157.6,167.1 158.4,168.6 159.2,168.3 160.0,168.5 160.8,168.6 161.6,168.4 162.4,168.1 163.2,168.2 164.0,168.1 164.8,168.3 165.6,168.8 166.4,169.4 167.2,168.3 168.0,168.2 168.8,167.7 169.6,168.5 170.4,169.2 171.2,168.4 172.0,168.6 172.8,169.1 173.6,169.5 174.4,170.1 175.2,170.2 176.0,169.8 176.8,169.0 177.6,168.5 178.4,167.2 179.2,167.7 180.0,167.7 180.8,167.9 181.6,168.2 182.4,168.8 183.2,168.3 184.0,168.2 184.8,168.7 185.6,168.8 186.4,168.8 187.2,167.8 188.0,168.2 188.8,168.6 189.6,168.4 190.4,168.1 191.2,168.5 192.0,169.1 192.8,168.8 193.6,169.1 194.4,169.3 195.2,169.6 196.0,168.5 196.8,168.5 197.6,168.6 198.4,168.8 199.2,169.3 200.0,169.1 200.8,168.4 201.6,168.8 202.4,169.2 203.2,169.4 204.0,168.4 204.8,169.1 205.6,168.3 206.4,167.9 207.2,167.6 208.0,167.3 208.8,167.6 209.6,167.7 210.4,167.2 211.2,167.4 212.0,166.5 212.8,166.7 213.6,166.7 214.4,167.5 215.2,167.0 216.0,167.9 216.8,168.1 217.6,168.7 218.4,167.9 219.2,168.1 220.0,167.6 220.8,167.5 221.6,167.0 222.4,167.7 223.2,167.9 224.0,167.8 224.8,167.3 225.6,168.3 226.4,168.1 227.2,167.5 228.0,168.1 228.8,168.2 229.6,169.7 230.4,170.0 231.2,170.1 232.0,170.4 232.8,170.3 233.6,169.7 234.4,169.4 235.2,170.1 236.0,170.6 236.8,170.5 237.6,170.4 238.4,169.8 239.2,170.3 240.0,169.7 240.8,170.0 241.6,169.3 242.4,168.7 243.2,169.2 244.0,169.0 244.8,169.2 245.6,168.6 246.4,168.5 247.2,168.4 248.0,168.0 248.8,168.6 249.6,167.6 250.4,167.4 251.2,168.3 252.0,167.7 252.8,168.2 253.6,168.6 254.4,168.7 255.2,168.6 256.0,168.4 256.8,168.9 257.6,168.4 258.4,168.6 259.2,168.3 260.0,167.5 260.8,168.1 261.6,168.7 262.4,167.8 263.2,168.3 264.0,168.9 264.8,168.8 265.6,168.8 266.4,169.5 267.2,168.8 268.0,168.4 268.8,168.3 269.6,168.3 270.4,168.5 271.2,168.4 272.0,168.2 272.8,167.2 273.6,167.9 274.4,167.9 275.2,167.6 276.0,167.3 276.8,167.3 277.6,167.6 278.4,167.7 279.2,167.8 280.0,167.9 280.8,168.4 281.6,168.9 282.4,168.8 283.2,168.7 284.0,168.6 284.8,168.5 285.6,168.1 286.4,168.4 287.2,168.4 288.0,168.3 288.8,168.6 289.6,168.4 290.4,168.7 291.2,168.5 292.0,168.6 292.8,168.9 293.6,168.6 294.4,168.6 295.2,167.6 296.0,167.4 296.8,167.6 297.6,167.3 298.4,167.1 299.2,168.0 300.0,167.5 300.8,167.2 301.6,167.7 302.4,167.0 303.2,167.5 304.0,167.2 304.8,168.7 305.6,167.6 306.4,168.0 307.2,168.7 308.0,168.4 308.8,168.0 309.6,167.7 310.4,167.5 311.2,167.8 312.0,167.9 312.8,167.6 313.6,168.3 314.4,168.9 315.2,168.2 316.0,167.7 316.8,168.4 317.6,168.3 318.4,168.2 319.2,168.3 320.0,169.1 320.8,168.8 321.6,167.9" fill="none" stroke="#0000ff" stroke-width="1.7" stroke-linejoin="round" stroke-linecap="round"/>
<polyline points="24.0,187.2 24.8,187.4 25.6,188.3 26.4,187.4 27.2,187.2 28.0,187.8 28.8,188.5 29.6,187.4 30.4,187.6 31.2,187.7 32.0,187.8 32.8,187.4 33.6,187.7 34.4,187.7 35.2,188.3 36.0,187.7 36.8,188.0 37.6,187.7 38.4,188.2 39.2,188.4 40.0,187.8 40.8,187.5 41.6,188.0 42.4,188.3 43.2,188.4 44.0,188.1 44.8,187.9 45.6,187.8 46.4,188.7 47.2,188.3 48.0,188.0 48.8,188.1 49.6,188.2 50.4,187.2 51.2,187.1 52.0,186.9 52.8,187.3 53.6,187.6 54.4,188.7 55.2,188.4 56.0,188.1 56.8,188.2 57.6,188.1 58.4,188.4 59.2,188.1 60.0,187.7 60.8,188.2 61.6,188.1 62.4,187.2 63.2,187.6 64.0,188.2 64.8,187.5 65.6,187.3 66.4,187.5 67.2,188.0 68.0,188.1 68.8,188.7 69.6,188.4 70.4,188.2 71.2,188.0 72.0,188.7 72.8,189.3 73.6,188.3 74.4,189.1 75.2,188.5 76.0,187.8 76.8,188.4 77.6,188.6 78.4,188.1 79.2,188.7 80.0,187.8 80.8,188.9 81.6,188.7 82.4,188.3 83.2,188.2 84.0,187.9 84.8,188.7 85.6,188.3 86.4,188.2 87.2,187.8 88.0,188.2 88.8,188.3 89.6,188.1 90.4,188.2 91.2,188.6 92.0,188.1 92.8,188.1 93.6,187.5 94.4,187.8 95.2,187.4 96.0,188.1 96.8,188.1 97.6,188.2 98.4,188.6 99.2,188.2 100.0,188.6 100.8,188.3 101.6,187.5 102.4,188.2 103.2,187.7 104.0,187.8 104.8,188.4 105.6,188.5 106.4,188.6 107.2,188.3 108.0,188.2 108.8,187.8 109.6,188.2 110.4,187.7 111.2,188.2 112.0,188.1 112.8,188.2 113.6,187.6 114.4,187.8 115.2,188.1 116.0,188.4 116.8,188.0 117.6,187.6 118.4,186.7 119.2,186.9 120.0,187.3 120.8,187.9 121.6,188.9 122.4,188.6 123.2,188.4 124.0,188.6 124.8,188.1 125.6,188.6 126.4,188.2 127.2,188.1 128.0,188.6 128.8,188.4 129.6,188.1 130.4,189.2 131.2,188.9 132.0,188.8 132.8,188.3 133.6,188.6 134.4,188.9 135.2,189.2 136.0,189.1 136.8,188.7 137.6,188.8 138.4,189.4 139.2,189.7 140.0,190.0 140.8,189.7 141.6,189.9 142.4,189.7 143.2,189.9 144.0,189.7 144.8,189.8 145.6,189.8 146.4,189.1 147.2,190.3 148.0,189.8 148.8,189.6 149.6,190.4 150.4,190.3 151.2,189.6 152.0,189.2 152.8,188.8 153.6,189.3 154.4,188.7 155.2,189.0 156.0,188.1 156.8,188.0 157.6,188.7 158.4,188.4 159.2,187.8 160.0,189.1 160.8,189.5 161.6,188.6 162.4,189.1 163.2,188.9 164.0,189.7 164.8,189.6 165.6,189.1 166.4,189.0 167.2,189.1 168.0,189.1 168.8,187.8 169.6,188.4 170.4,189.1 171.2,189.1 172.0,189.2 172.8,189.2 173.6,188.8 174.4,189.2 175.2,188.8 176.0,189.1 176.8,189.2 177.6,188.0 178.4,188.2 179.2,187.9 180.0,187.9 180.8,187.8 181.6,187.4 182.4,187.6 183.2,187.9 184.0,188.2 184.8,187.9 185.6,187.8 186.4,187.4 187.2,187.1 188.0,187.2 188.8,187.6 189.6,187.3 190.4,187.9 191.2,187.6 192.0,187.9 192.8,188.4 193.6,189.3 194.4,188.9 195.2,188.6 196.0,188.8 196.8,188.0 197.6,188.7 198.4,188.7 199.2,188.0 200.0,189.0 200.8,188.7 201.6,188.6 202.4,189.2 203.2,189.1 204.0,189.8 204.8,189.0 205.6,189.4 206.4,190.3 207.2,190.0 208.0,189.5 208.8,189.4 209.6,189.6 210.4,188.8 211.2,189.3 212.0,188.7 212.8,189.0 213.6,189.6 214.4,188.6 215.2,188.6 216.0,189.0 216.8,187.8 217.6,187.8 218.4,188.4 219.2,189.2 220.0,189.0 220.8,188.5 221.6,189.0 222.4,188.9 223.2,189.4 224.0,189.0 224.8,188.9 225.6,189.6 226.4,188.7 227.2,189.5 228.0,189.7 228.8,189.6 229.6,190.0 230.4,189.8 231.2,190.7 232.0,190.1 232.8,191.0 233.6,190.9 234.4,190.5 235.2,190.4 236.0,190.6 236.8,190.3 237.6,191.0 238.4,191.0 239.2,190.9 240.0,190.2 240.8,189.6 241.6,189.0 242.4,189.9 243.2,189.8 244.0,190.2 244.8,190.3 245.6,190.9 246.4,190.4 247.2,189.7 248.0,189.0 248.8,189.0 249.6,189.7 250.4,189.9 251.2,189.6 252.0,188.4 252.8,188.8 253.6,188.4 254.4,189.3 255.2,189.4 256.0,188.9 256.8,188.9 257.6,189.0 258.4,188.1 259.2,187.7 260.0,188.3 260.8,188.6 261.6,188.4 262.4,188.4 263.2,188.2 264.0,188.4 264.8,187.2 265.6,187.1 266.4,188.2 267.2,187.7 268.0,187.7 268.8,188.1 269.6,188.3 270.4,187.6 271.2,188.0 272.0,188.2 272.8,188.1 273.6,187.9 274.4,188.2 275.2,188.9 276.0,188.6 276.8,190.0 277.6,189.9 278.4,189.4 279.2,189.6 280.0,189.1 280.8,189.7 281.6,189.4 282.4,188.9 283.2,189.0 284.0,189.1 284.8,189.5 285.6,189.4 286.4,189.6 287.2,189.5 288.0,189.2 288.8,189.1 289.6,188.6 290.4,188.4 291.2,188.8 292.0,188.9 292.8,188.9 293.6,189.0 294.4,189.3 295.2,189.1 296.0,189.8 296.8,188.8 297.6,189.0 298.4,189.2 299.2,189.5 300.0,189.0 300.8,189.2 301.6,188.8 302.4,188.7 303.2,188.4 304.0,188.6 304.8,188.9 305.6,189.0 306.4,189.5 307.2,189.1 308.0,188.9 308.8,188.8 309.6,189.1 310.4,189.1 311.2,189.6 312.0,189.7 312.8,190.4 313.6,190.3 314.4,190.0 315.2,190.9 316.0,190.6 316.8,190.7 317.6,190.4 318.4,190.9 319.2,191.4 320.0,191.3 320.8,190.8 321.6,191.0" fill="none" stroke="#0000ff" stroke-width="1.7" stroke-linejoin="round" stroke-linecap="round"/>
<polyline points="24.0,40.2 24.8,40.4 25.6,40.5 26.4,40.0 27.2,39.5 28.0,39.5 28.8,39.5 29.6,39.8 30.4,39.5 31.2,39.1 32.0,39.1 32.8,38.9 33.6,39.0 34.4,39.1 35.2,39.6 36.0,39.4 36.8,39.0 37.6,39.3 38.4,38.9 39.2,39.1 40.0,38.5 40.8,38.3 41.6,38.5 42.4,39.4 43.2,38.8 44.0,38.8 44.8,39.7 45.6,38.9 46.4,39.2 47.2,38.7 48.0,38.1 48.8,38.3 49.6,37.8 50.4,38.3 51.2,38.9 52.0,38.4 52.8,39.3 53.6,39.9 54.4,39.3 55.2,39.5 56.0,40.2 56.8,40.2 57.6,40.1 58.4,40.2 59.2,41.1 60.0,40.6 60.8,40.7 61.6,40.9 62.4,41.1 63.2,41.5 64.0,41.6 64.8,41.1 65.6,41.5 66.4,41.0 67.2,41.2 68.0,41.1 68.8,40.9 69.6,40.1 70.4,39.7 71.2,40.2 72.0,39.8 72.8,38.9 73.6,38.7 74.4,37.6 75.2,37.4 76.0,37.0 76.8,37.8 77.6,38.0 78.4,37.5 79.2,37.9 80.0,38.0 80.8,38.3 81.6,38.3 82.4,38.4 83.2,37.8 84.0,38.0 84.8,37.8 85.6,37.3 86.4,37.7 87.2,38.1 88.0,38.4 88.8,38.3 89.6,37.7 90.4,38.2 91.2,38.3 92.0,38.6 92.8,38.8 93.6,39.2 94.4,39.2 95.2,38.9 96.0,38.4 96.8,37.7 97.6,38.2 98.4,37.5 99.2,37.7 100.0,37.1 100.8,37.3 101.6,37.3 102.4,37.1 103.2,36.9 104.0,37.2 104.8,36.8 105.6,37.2 106.4,37.1 107.2,37.0 108.0,37.1 108.8,36.9 109.6,36.5 110.4,36.9 111.2,36.9 112.0,36.8 112.8,36.3 113.6,36.1 114.4,36.3 115.2,35.9 116.0,36.3 116.8,36.3 117.6,36.4 118.4,36.6 119.2,36.5 120.0,35.8 120.8,36.3 121.6,36.4 122.4,36.2 123.2,35.8 124.0,36.3 124.8,36.4 125.6,36.4 126.4,36.0 127.2,35.7 128.0,35.9 128.8,35.8 129.6,36.1 130.4,36.5 131.2,36.2 132.0,35.9 132.8,36.1 133.6,35.8 134.4,35.5 135.2,35.8 136.0,35.4 136.8,34.7 137.6,34.6 138.4,35.0 139.2,35.3 140.0,36.0 140.8,35.2 141.6,36.2 142.4,36.2 143.2,35.4 144.0,35.4 144.8,35.1 145.6,35.7 146.4,35.8 147.2,36.1 148.0,35.1 148.8,35.0 149.6,34.6 150.4,34.7 151.2,34.7 152.0,34.9 152.8,33.9 153.6,34.1 154.4,35.0 155.2,34.9 156.0,34.6 156.8,34.7 157.6,34.9 158.4,35.3 159.2,35.5 160.0,35.8 160.8,35.4 161.6,35.1 162.4,35.5 163.2,36.0 164.0,35.8 164.8,36.1 165.6,37.5 166.4,38.1 167.2,37.9 168.0,39.0 168.8,39.9 169.6,39.5 170.4,38.7 171.2,38.7 172.0,39.6 172.8,39.6 173.6,39.4 174.4,38.7 175.2,38.5 176.0,38.5 176.8,39.0 177.6,39.4 178.4,39.5 179.2,38.5 180.0,38.7 180.8,38.5 181.6,38.2 182.4,37.7 183.2,38.1 184.0,37.6 184.8,37.7 185.6,38.0 186.4,38.8 187.2,38.7 188.0,38.7 188.8,38.3 189.6,38.0 190.4,37.8 191.2,37.5 192.0,37.5 192.8,37.7 193.6,37.6 194.4,38.2 195.2,37.7 196.0,37.8 196.8,38.0 197.6,37.3 198.4,37.7 199.2,38.3 200.0,37.4 200.8,38.1 201.6,37.9 202.4,38.2 203.2,37.9 204.0,37.6 204.8,38.8 205.6,38.5 206.4,38.9 207.2,38.9 208.0,38.4 208.8,38.8 209.6,38.5 210.4,39.2 211.2,39.7 212.0,38.9 212.8,39.1 213.6,39.4 214.4,39.6 215.2,39.9 216.0,39.8 216.8,40.5 217.6,40.5 218.4,40.3 219.2,41.0 220.0,40.1 220.8,40.5 221.6,41.2 222.4,40.8 223.2,40.5 224.0,40.4 224.8,40.6 225.6,40.3 226.4,40.4 227.2,40.7 228.0,40.1 228.8,40.8 229.6,40.8 230.4,40.3 231.2,40.3 232.0,40.9 232.8,40.9 233.6,41.1 234.4,40.7 235.2,40.4 236.0,40.1 236.8,40.0 237.6,40.4 238.4,40.9 239.2,40.6 240.0,40.2 240.8,40.6 241.6,40.4 242.4,41.4 243.2,40.8 244.0,41.5 244.8,40.6 245.6,40.4 246.4,40.4 247.2,40.2 248.0,39.8 248.8,39.7 249.6,40.4 250.4,40.0 251.2,40.5 252.0,40.9 252.8,40.5 253.6,40.3 254.4,40.4 255.2,40.4 256.0,39.8 256.8,40.2 257.6,40.1 258.4,39.7 259.2,40.2 260.0,39.8 260.8,39.8 261.6,39.8 262.4,39.9 263.2,39.9 264.0,40.0 264.8,39.1 265.6,40.0 266.4,40.7 267.2,40.1 268.0,40.1 268.8,39.8 269.6,39.7 270.4,40.3 271.2,40.1 272.0,40.6 272.8,40.7 273.6,39.3 274.4,39.7 275.2,38.8 276.0,38.7 276.8,38.8 277.6,38.7 278.4,39.1 279.2,37.6 280.0,38.6 280.8,38.3 281.6,38.6 282.4,38.8 283.2,38.7 284.0,39.0 284.8,38.7 285.6,38.5 286.4,38.6 287.2,38.3 288.0,39.1 288.8,39.1 289.6,39.3 290.4,39.9 291.2,39.6 292.0,39.7 292.8,39.8 293.6,39.6 294.4,40.2 295.2,40.2 296.0,39.9 296.8,39.8 297.6,39.6 298.4,40.2 299.2,40.1 300.0,38.8 300.8,38.1 301.6,38.4 302.4,38.3 303.2,38.2 304.0,38.6 304.8,38.1 305.6,38.0 306.4,38.1 307.2,38.2 308.0,38.4 308.8,38.8 309.6,39.1 310.4,39.2 311.2,38.7 312.0,38.8 312.8,38.4 313.6,38.8 314.4,38.4 315.2,38.3 316.0,38.1 316.8,37.3 317.6,37.1 318.4,37.3 319.2,37.1 320.0,36.8 320.8,36.2 321.6,36.9" fill="none" stroke="#ff0000" stroke-width="1.7" stroke-linejoin="round" stroke-linecap="round"/>
<polyline points="24.0,59.0 24.8,59.0 25.6,59.0 26.4,59.0 27.2,59.2 28.0,58.8 28.8,59.2 29.6,59.4 30.4,58.9 31.2,58.5 32.0,58.9 32.8,59.2 33.6,59.0 34.4,58.5 35.2,57.8 36.0,57.7 36.8,57.3 37.6,57.6 38.4,57.9 39.2,58.3 40.0,58.6 40.8,58.8 41.6,58.4 42.4,59.0 43.2,58.2 44.0,58.6 44.8,58.5 45.6,58.4 46.4,57.8 47.2,57.4 48.0,57.5 48.8,57.7 49.6,57.1 50.4,57.6 51.2,57.6 52.0,58.1 52.8,58.5 53.6,57.9 54.4,58.1 55.2,58.4 56.0,57.6 56.8,57.9 57.6,57.9 58.4,58.2 59.2,58.0 60.0,58.2 60.8,58.4 61.6,58.8 62.4,59.2 63.2,58.7 64.0,57.7 64.8,58.5 65.6,58.1 66.4,58.0 67.2,57.8 68.0,58.5 68.8,57.8 69.6,58.0 70.4,57.5 71.2,56.6 72.0,56.6 72.8,57.1 73.6,57.3 74.4,56.3 75.2,57.3 76.0,56.8 76.8,57.2 77.6,56.0 78.4,56.5 79.2,56.3 80.0,55.9 80.8,55.3 81.6,55.3 82.4,54.7 83.2,54.4 84.0,54.6 84.8,54.2 85.6,54.4 86.4,54.5 87.2,53.8 88.0,53.5 88.8,53.5 89.6,53.7 90.4,53.9 91.2,53.9 92.0,53.5 92.8,54.0 93.6,53.9 94.4,53.8 95.2,53.3 96.0,53.3 96.8,53.7 97.6,53.5 98.4,54.4 99.2,53.8 100.0,53.7 100.8,53.3 101.6,53.1 102.4,53.2 103.2,53.2 104.0,53.5 104.8,53.7 105.6,53.6 106.4,53.4 107.2,52.8 108.0,52.5 108.8,53.0 109.6,53.2 110.4,53.2 111.2,53.3 112.0,53.8 112.8,53.2 113.6,53.2 114.4,53.2 115.2,53.4 116.0,52.5 116.8,52.1 117.6,52.3 118.4,52.0 119.2,51.7 120.0,51.6 120.8,52.0 121.6,51.5 122.4,51.5 123.2,52.2 124.0,51.4 124.8,51.6 125.6,51.5 126.4,51.3 127.2,51.7 128.0,52.0 128.8,52.2 129.6,52.3 130.4,51.5 131.2,51.9 132.0,51.9 132.8,52.3 133.6,52.7 134.4,52.0 135.2,52.2 136.0,52.1 136.8,52.6 137.6,52.9 138.4,52.9 139.2,52.0 140.0,52.1 140.8,51.8 141.6,52.6 142.4,52.1 143.2,52.2 144.0,52.0 144.8,51.3 145.6,51.5 146.4,51.4 147.2,51.3 148.0,51.5 148.8,51.3 149.6,51.2 150.4,51.4 151.2,51.3 152.0,50.8 152.8,51.4 153.6,50.4 154.4,50.1 155.2,50.0 156.0,50.3 156.8,50.4 157.6,50.7 158.4,51.4 159.2,51.5 160.0,51.1 160.8,51.3 161.6,51.5 162.4,51.9" fill="none" stroke="#ff0000" stroke-width="1.7" stroke-linejoin="round" stroke-linecap="round"/>
<polyline points="166.0,57.6 166.8,57.4 167.6,57.2 168.4,57.4 169.2,57.5 170.0,57.7 170.8,57.2 171.6,57.3 172.4,56.6 173.2,57.0 174.0,56.7 174.8,56.1 175.6,56.5 176.4,55.9 177.2,55.5 178.0,55.5 178.8,55.5 179.6,55.1 180.4,54.7 181.2,54.2 182.0,54.1 182.8,54.5 183.6,54.3 184.4,54.0 185.2,53.6 186.0,53.1 186.8,53.2 187.6,52.7 188.4,52.7 189.2,53.1 190.0,53.9 190.8,53.3 191.6,53.6 192.4,53.1 193.2,53.9 194.0,53.5 194.8,54.1 195.6,53.2 196.4,53.1 197.2,53.3 198.0,52.6 198.8,53.2 199.6,52.9 200.4,52.6 201.2,52.8 202.0,53.5 202.8,53.2 203.6,53.2 204.4,53.1 205.2,53.3 206.0,53.4 206.8,53.6 207.6,53.7 208.4,54.6 209.2,53.7 210.0,54.5 210.8,54.3 211.6,54.3 212.4,54.2 213.2,54.4 214.0,54.8 214.8,54.9 215.6,55.0 216.4,55.8 217.2,55.4 218.0,55.8 218.8,56.7 219.6,56.8 220.4,57.0 221.2,56.7 222.0,56.7 222.8,56.6 223.6,56.8 224.4,57.2 225.2,57.2 226.0,56.8 226.8,56.7 227.6,56.7 228.4,56.1 229.2,56.5 230.0,56.4 230.8,55.8 231.6,55.4 232.4,55.5 233.2,55.4 234.0,54.8 234.8,54.5 235.6,54.4 236.4,53.9 237.2,53.4 238.0,53.6 238.8,53.5 239.6,53.3 240.4,53.9 241.2,53.9 242.0,53.8 242.8,54.0 243.6,53.9 244.4,54.0 245.2,54.6 246.0,54.6 246.8,54.3 247.6,55.2 248.4,54.4 249.2,54.4 250.0,54.6 250.8,54.3 251.6,54.4 252.4,54.5 253.2,54.9 254.0,54.0 254.8,54.6 255.6,54.3 256.4,54.4 257.2,54.6 258.0,54.7 258.8,55.0 259.6,55.0 260.4,55.4 261.2,55.0 262.0,55.0 262.8,54.7 263.6,55.4 264.4,55.9 265.2,55.9 266.0,56.2 266.8,56.0 267.6,56.4 268.4,57.0 269.2,56.4 270.0,56.8 270.8,56.6 271.6,56.4 272.4,57.0 273.2,56.8 274.0,57.0 274.8,57.0 275.6,56.6 276.4,56.4 277.2,56.6 278.0,57.4 278.8,57.1 279.6,56.9 280.4,56.1 281.2,56.4 282.0,56.7 282.8,56.5 283.6,56.5 284.4,56.9 285.2,55.9 286.0,57.1 286.8,56.9 287.6,56.3 288.4,56.6 289.2,56.6 290.0,56.4 290.8,56.4 291.6,56.5 292.4,56.0 293.2,55.2 294.0,55.2 294.8,54.9 295.6,54.8 296.4,54.8 297.2,54.8 298.0,55.3 298.8,56.0 299.6,56.3 300.4,56.7 301.2,56.1 302.0,56.7 302.8,56.4 303.6,56.0 304.4,56.0 305.2,56.0 306.0,56.2 306.8,55.7 307.6,55.5 308.4,55.7 309.2,56.7 310.0,57.0 310.8,57.2 311.6,57.7 312.4,57.4 313.2,57.5 314.0,57.8 314.8,58.1 315.6,58.0 316.4,57.5 317.2,57.7 318.0,57.8 318.8,57.8 319.6,57.7 320.4,58.0 321.2,57.6 322.0,57.3" fill="none" stroke="#ff0000" stroke-width="1.7" stroke-linejoin="round" stroke-linecap="round"/>
<polyline points="24.0,76.5 24.8,76.6 25.6,76.3 26.4,76.1 27.2,75.5 28.0,74.7 28.8,73.9 29.6,73.7 30.4,73.4 31.2,73.4 32.0,72.9 32.8,72.9 33.6,73.0 34.4,73.2 35.2,73.1 36.0,73.2 36.8,74.3 37.6,73.5 38.4,74.6 39.2,74.1 40.0,74.8 40.8,75.0 41.6,75.7 42.4,76.5 43.2,76.5 44.0,76.7 44.8,77.9 45.6,77.2 46.4,78.3 47.2,77.2 48.0,77.2 48.8,77.0 49.6,75.8 50.4,75.6 51.2,75.6 52.0,75.6 52.8,74.9 53.6,74.1 54.4,74.3 55.2,74.7 56.0,74.7 56.8,74.0 57.6,74.3 58.4,74.5 59.2,74.9 60.0,76.3 60.8,76.0 61.6,76.7 62.4,77.4 63.2,78.0 64.0,77.9 64.8,77.3 65.6,77.9 66.4,78.1 67.2,77.8 68.0,77.9 68.8,77.2 69.6,77.6 70.4,77.4 71.2,77.3 72.0,77.1 72.8,77.2 73.6,75.9 74.4,76.1 75.2,76.6 76.0,76.4 76.8,76.1 77.6,76.5 78.4,77.1 79.2,76.8 80.0,77.6 80.8,77.8 81.6,78.0 82.4,79.0 83.2,79.5 84.0,78.8 84.8,79.3 85.6,79.0 86.4,79.5 87.2,79.2 88.0,79.1 88.8,79.4 89.6,79.6 90.4,78.7 91.2,79.3 92.0,78.6 92.8,79.0 93.6,79.1 94.4,79.5 95.2,79.5 96.0,79.5 96.8,78.9 97.6,79.2 98.4,78.7 99.2,78.7 100.0,79.3 100.8,79.2 101.6,79.5 102.4,79.4 103.2,79.8 104.0,80.2 104.8,80.0 105.6,80.1 106.4,80.2 107.2,80.6 108.0,80.6 108.8,81.2 109.6,80.3 110.4,80.7 111.2,81.2 112.0,81.1 112.8,80.4 113.6,80.6 114.4,80.8 115.2,80.7 116.0,81.2 116.8,80.9 117.6,81.2 118.4,80.9 119.2,81.1 120.0,81.9 120.8,81.7 121.6,81.4 122.4,81.4 123.2,82.1 124.0,81.5 124.8,81.3 125.6,81.0 126.4,81.0 127.2,81.1 128.0,81.5 128.8,81.2 129.6,81.1 130.4,80.3 131.2,80.7 132.0,80.6 132.8,81.1 133.6,81.0 134.4,81.1 135.2,81.1 136.0,81.1 136.8,81.0 137.6,81.1 138.4,80.6 139.2,80.8 140.0,80.8 140.8,80.3 141.6,80.2 142.4,80.9 143.2,80.2 144.0,80.3 144.8,81.2 145.6,81.3 146.4,81.0 147.2,80.3 148.0,81.0 148.8,80.6 149.6,80.5 150.4,80.3 151.2,80.8 152.0,81.3 152.8,81.5 153.6,81.3 154.4,80.7 155.2,80.9 156.0,80.8 156.8,80.2 157.6,80.6 158.4,80.0 159.2,79.7 160.0,79.8 160.8,79.1 161.6,79.7 162.4,78.9 163.2,78.8 164.0,79.3 164.8,79.1 165.6,78.4 166.4,78.4 167.2,78.9 168.0,79.0 168.8,78.9 169.6,78.3 170.4,78.9 171.2,79.6 172.0,78.5 172.8,79.2 173.6,79.1 174.4,78.8 175.2,78.3 176.0,77.8 176.8,78.6 177.6,77.9 178.4,78.5 179.2,77.9 180.0,78.2 180.8,78.1 181.6,78.0 182.4,78.5 183.2,78.7 184.0,78.0 184.8,78.5 185.6,77.9 186.4,78.1 187.2,78.3 188.0,77.7 188.8,77.6 189.6,77.8 190.4,77.4 191.2,77.9 192.0,77.3 192.8,77.3 193.6,77.1 194.4,77.8 195.2,77.1 196.0,77.6 196.8,77.2 197.6,77.4 198.4,77.5 199.2,76.8 200.0,76.9 200.8,77.1 201.6,77.6 202.4,77.8 203.2,78.1 204.0,79.0 204.8,78.7 205.6,78.6 206.4,79.3 207.2,79.2 208.0,78.3 208.8,77.9 209.6,78.6 210.4,78.9 211.2,78.5 212.0,78.7 212.8,79.0 213.6,79.4 214.4,79.3 215.2,79.6 216.0,79.4 216.8,79.9 217.6,79.9 218.4,80.2 219.2,79.7 220.0,80.2 220.8,80.8 221.6,81.1 222.4,81.0 223.2,80.8 224.0,80.5 224.8,81.2 225.6,80.4 226.4,81.0 227.2,81.0 228.0,80.5 228.8,80.7 229.6,80.7 230.4,80.8 231.2,80.8 232.0,80.6 232.8,80.7 233.6,80.9 234.4,80.7 235.2,80.2 236.0,80.5 236.8,80.5 237.6,80.6 238.4,79.5 239.2,80.3 240.0,80.3 240.8,80.2 241.6,80.5 242.4,80.4 243.2,80.9 244.0,80.7 244.8,80.4 245.6,81.0 246.4,81.3 247.2,81.3 248.0,80.7 248.8,81.3 249.6,81.4 250.4,80.8 251.2,80.1 252.0,80.7 252.8,80.2 253.6,80.8 254.4,80.4 255.2,80.8 256.0,79.8 256.8,80.0 257.6,79.5 258.4,80.2 259.2,80.0 260.0,79.5 260.8,79.4 261.6,79.9 262.4,79.2 263.2,79.7 264.0,79.2 264.8,79.8 265.6,79.1 266.4,78.5 267.2,78.5 268.0,77.9 268.8,78.1 269.6,78.0 270.4,78.0 271.2,77.8 272.0,78.4 272.8,78.0 273.6,77.7 274.4,77.9 275.2,78.2 276.0,78.1 276.8,78.2 277.6,77.9 278.4,77.3 279.2,78.1 280.0,77.8 280.8,78.0 281.6,78.5 282.4,78.0 283.2,77.8 284.0,77.8 284.8,78.2 285.6,78.4 286.4,78.8 287.2,78.8 288.0,77.9 288.8,77.9 289.6,78.2 290.4,78.6 291.2,78.0 292.0,78.1 292.8,78.0 293.6,78.0 294.4,77.2 295.2,77.4 296.0,76.5 296.8,76.5 297.6,76.8 298.4,76.1 299.2,76.5 300.0,77.0 300.8,76.6 301.6,77.0 302.4,76.8 303.2,77.2 304.0,77.2 304.8,77.3 305.6,77.5 306.4,77.0 307.2,77.1 308.0,76.9 308.8,76.1 309.6,76.6 310.4,76.0 311.2,76.7 312.0,76.2 312.8,76.0 313.6,76.1 314.4,76.2 315.2,76.5 316.0,76.6 316.8,75.7 317.6,75.7 318.4,75.7 319.2,76.1 320.0,75.5 320.8,76.1 321.6,75.6" fill="none" stroke="#ff0000" stroke-width="1.7" stroke-linejoin="round" stroke-linecap="round"/>
<polyline points="24.0,102.9 24.8,103.3 25.6,103.8 26.4,104.5 27.2,105.3 28.0,105.8 28.8,105.9 29.6,105.7 30.4,106.2 31.2,106.5 32.0,107.1 32.8,106.9 33.6,107.7 34.4,107.8 35.2,108.0 36.0,107.4 36.8,107.5 37.6,108.5 38.4,108.1 39.2,108.0 40.0,107.8 40.8,107.9 41.6,108.2 42.4,108.1 43.2,108.0 44.0,109.0 44.8,109.5 45.6,108.7 46.4,109.1 47.2,109.3 48.0,109.2 48.8,109.7 49.6,110.7 50.4,109.8 51.2,109.9 52.0,109.4 52.8,109.5 53.6,109.3 54.4,110.1 55.2,109.7 56.0,110.1 56.8,110.3 57.6,109.7 58.4,109.1 59.2,109.2 60.0,109.1 60.8,108.7 61.6,108.6 62.4,108.4 63.2,108.1 64.0,107.9 64.8,107.4 65.6,107.2 66.4,106.7 67.2,107.5 68.0,107.2 68.8,106.6 69.6,106.7 70.4,107.4 71.2,107.3 72.0,106.9 72.8,107.2 73.6,107.7 74.4,107.9 75.2,108.1 76.0,107.3 76.8,108.1 77.6,108.7 78.4,108.1 79.2,108.1 80.0,108.9 80.8,108.7 81.6,108.9 82.4,109.2 83.2,109.2 84.0,109.9 84.8,109.9 85.6,109.6 86.4,109.5 87.2,109.9 88.0,109.8 88.8,109.8 89.6,110.8 90.4,110.4 91.2,110.2 92.0,110.2 92.8,110.4 93.6,110.7 94.4,110.8 95.2,109.8 96.0,110.7 96.8,111.4 97.6,112.1 98.4,111.8 99.2,111.3 100.0,111.6 100.8,111.9 101.6,111.3 102.4,110.9 103.2,111.3 104.0,110.6 104.8,111.3 105.6,110.7 106.4,110.0 107.2,110.1 108.0,109.2 108.8,110.3 109.6,110.7 110.4,109.9 111.2,110.2 112.0,109.4 112.8,109.5 113.6,108.7 114.4,108.3 115.2,108.5 116.0,109.1 116.8,108.8 117.6,109.8 118.4,109.4 119.2,109.3 120.0,109.0 120.8,109.0 121.6,109.2 122.4,108.6 123.2,109.2 124.0,109.4 124.8,108.5 125.6,108.8 126.4,109.0 127.2,108.9 128.0,107.8 128.8,108.4 129.6,108.4 130.4,108.4 131.2,108.4 132.0,108.4 132.8,107.6 133.6,108.1 134.4,107.2 135.2,107.7 136.0,107.8 136.8,107.4 137.6,107.4 138.4,107.4 139.2,107.2 140.0,107.3 140.8,107.3 141.6,106.6 142.4,107.2 143.2,106.4 144.0,106.0 144.8,106.3 145.6,106.8 146.4,106.9 147.2,107.5 148.0,106.9 148.8,107.7 149.6,107.1 150.4,107.7 151.2,108.2 152.0,108.0 152.8,107.3 153.6,107.5 154.4,107.0 155.2,107.2 156.0,108.3 156.8,109.7 157.6,110.3 158.4,111.3 159.2,111.9 160.0,112.5" fill="none" stroke="#ff0000" stroke-width="1.7" stroke-linejoin="round" stroke-linecap="round"/>
<polyline points="160.0,111.8 160.8,112.6 161.6,112.8 162.4,112.1 163.2,113.2 164.0,113.5 164.8,113.4 165.6,114.6 166.4,114.0 167.2,114.7 168.0,115.2 168.8,115.2 169.6,115.5 170.4,116.8 171.2,117.9 172.0,117.7 172.8,117.9 173.6,117.9 174.4,118.2 175.2,118.9 176.0,118.9 176.8,119.6" fill="none" stroke="#ff0000" stroke-width="1.7" stroke-linejoin="round" stroke-linecap="butt" stroke-dasharray="1.5 1.5"/>
<polyline points="181.0,109.8 181.8,110.3 182.6,110.3 183.4,111.3 184.2,111.6 185.0,111.6 185.8,112.7 186.6,112.2 187.4,112.3 188.2,112.0 189.0,112.5 189.8,112.1 190.6,112.5 191.4,112.8 192.2,112.8 193.0,112.7 193.8,112.4 194.6,113.3 195.4,113.5 196.2,113.3 197.0,112.7" fill="none" stroke="#ff0000" stroke-width="1.7" stroke-linejoin="round" stroke-linecap="butt" stroke-dasharray="1.5 1.2"/>
<polyline points="201.0,108.5 201.8,108.2 202.6,107.5 203.4,107.7 204.2,107.2 205.0,107.1 205.8,106.9 206.6,107.1 207.4,106.2 208.2,106.1 209.0,106.0 209.8,105.9 210.6,105.4 211.4,105.1 212.2,104.2 213.0,103.6 213.8,103.2 214.6,103.4 215.4,103.2 216.2,102.5 217.0,101.8 217.8,102.2 218.6,102.0 219.4,101.6 220.2,101.2 221.0,100.7 221.8,100.3 222.6,101.1 223.4,100.5 224.2,100.9 225.0,101.4 225.8,101.9 226.6,101.3 227.4,101.5 228.2,101.0 229.0,101.7 229.8,101.8 230.6,101.8 231.4,102.0 232.2,102.6 233.0,102.3 233.8,102.7 234.6,102.9 235.4,103.3 236.2,103.4 237.0,103.1 237.8,103.4 238.6,103.7 239.4,103.7 240.2,102.8 241.0,103.0 241.8,103.0 242.6,102.6 243.4,103.2 244.2,103.2 245.0,103.1 245.8,102.0 246.6,102.0 247.4,102.2 248.2,102.3 249.0,102.1 249.8,102.3 250.6,102.0 251.4,101.9 252.2,101.8 253.0,101.7 253.8,101.0 254.6,101.0 255.4,100.0 256.2,100.2 257.0,100.9 257.8,100.7 258.6,99.6 259.4,99.1 260.2,99.0 261.0,98.8 261.8,98.7 262.6,97.8 263.4,98.1 264.2,98.4 265.0,98.0 265.8,97.7 266.6,99.0 267.4,98.5 268.2,98.5 269.0,98.0 269.8,97.9 270.6,98.4 271.4,98.1 272.2,98.5 273.0,97.8 273.8,97.2 274.6,98.1 275.4,97.0 276.2,97.3 277.0,97.9 277.8,97.0 278.6,96.9 279.4,96.3 280.2,96.1 281.0,96.6 281.8,97.1 282.6,96.8 283.4,96.9 284.2,96.3 285.0,95.8 285.8,96.5 286.6,96.7 287.4,96.9 288.2,96.6 289.0,96.4 289.8,96.7 290.6,96.3 291.4,96.0 292.2,96.3 293.0,95.8 293.8,96.1 294.6,96.3 295.4,96.2 296.2,96.0 297.0,95.8 297.8,95.9 298.6,95.2 299.4,95.4 300.2,95.6 301.0,95.4 301.8,95.3 302.6,96.0 303.4,95.9 304.2,95.9 305.0,95.4 305.8,96.1 306.6,96.1 307.4,95.1 308.2,95.2 309.0,96.1 309.8,96.5 310.6,96.1 311.4,95.9 312.2,96.7 313.0,96.4 313.8,96.3 314.6,95.2 315.4,96.5 316.2,95.6 317.0,96.0 317.8,96.2 318.6,95.4 319.4,95.1 320.2,95.7 321.0,95.2 321.8,95.1" fill="none" stroke="#ff0000" stroke-width="1.7" stroke-linejoin="round" stroke-linecap="round"/>
<polyline points="24.0,118.7 24.8,119.1 25.6,119.4 26.4,119.2 27.2,119.0 28.0,119.2 28.8,119.5 29.6,119.0 30.4,119.5 31.2,119.1 32.0,118.9 32.8,118.8 33.6,118.0 34.4,117.9 35.2,118.3 36.0,117.5 36.8,117.7 37.6,117.5 38.4,117.4 39.2,116.9 40.0,116.5 40.8,116.7 41.6,117.6 42.4,117.1 43.2,116.7 44.0,116.8 44.8,117.5 45.6,117.2 46.4,117.3 47.2,118.3 48.0,117.5 48.8,117.2 49.6,117.8 50.4,118.0 51.2,117.6 52.0,117.9 52.8,117.9 53.6,118.2 54.4,118.2 55.2,118.5 56.0,118.1 56.8,118.4 57.6,117.6 58.4,118.2 59.2,117.8 60.0,118.1 60.8,118.3 61.6,117.9 62.4,118.4 63.2,117.4 64.0,116.6 64.8,116.3 65.6,116.5 66.4,116.1 67.2,116.6 68.0,116.3 68.8,115.8 69.6,115.2 70.4,115.7 71.2,115.8 72.0,116.0 72.8,116.2 73.6,116.3 74.4,116.4 75.2,116.6 76.0,116.3 76.8,116.8 77.6,116.9 78.4,117.0 79.2,118.4 80.0,118.4 80.8,117.5 81.6,118.6 82.4,119.1 83.2,119.1 84.0,119.0 84.8,118.5 85.6,119.2 86.4,118.5 87.2,118.7 88.0,118.3 88.8,118.6 89.6,118.7 90.4,119.5 91.2,120.1 92.0,120.0 92.8,120.0 93.6,120.3 94.4,120.4 95.2,120.7 96.0,120.4 96.8,120.0 97.6,120.0 98.4,120.2 99.2,120.2 100.0,120.4 100.8,120.5 101.6,120.0 102.4,120.8 103.2,120.6 104.0,119.5 104.8,119.8 105.6,119.7 106.4,119.5 107.2,119.7 108.0,120.2 108.8,120.2 109.6,120.2 110.4,120.8 111.2,120.7 112.0,121.4 112.8,121.3 113.6,120.9 114.4,120.4 115.2,120.2 116.0,120.5 116.8,120.3 117.6,120.6 118.4,121.2 119.2,120.9 120.0,120.9 120.8,120.3 121.6,120.4 122.4,120.7 123.2,120.9 124.0,121.0 124.8,120.2 125.6,120.7 126.4,120.8 127.2,121.9 128.0,121.5 128.8,121.4 129.6,121.1 130.4,120.9 131.2,120.9 132.0,121.6 132.8,120.7 133.6,120.8 134.4,120.6 135.2,120.2 136.0,120.7 136.8,120.2 137.6,119.0 138.4,119.0 139.2,118.9 140.0,119.3 140.8,119.9 141.6,119.8 142.4,119.6 143.2,119.7 144.0,119.5 144.8,119.7 145.6,119.4 146.4,118.7 147.2,118.3 148.0,118.4 148.8,118.7 149.6,118.6 150.4,118.6 151.2,118.5 152.0,117.9 152.8,118.2 153.6,118.5 154.4,118.0 155.2,118.3 156.0,117.5 156.8,118.3 157.6,118.3" fill="none" stroke="#ff0000" stroke-width="1.7" stroke-linejoin="round" stroke-linecap="round"/>
<polyline points="176.0,126.9 176.8,127.5 177.6,128.4 178.4,129.1 179.2,129.8 180.0,129.9 180.8,130.3 181.6,131.3 182.4,131.1 183.2,130.8 184.0,131.5 184.8,131.5 185.6,131.6 186.4,131.9 187.2,131.0 188.0,131.2 188.8,131.2 189.6,131.2 190.4,132.2 191.2,132.5 192.0,132.7 192.8,132.7 193.6,133.1 194.4,134.3 195.2,135.1 196.0,136.1 196.8,136.4 197.6,136.5 198.4,136.0 199.2,135.9 200.0,136.0 200.8,135.1 201.6,134.3 202.4,133.9 203.2,133.7 204.0,133.5 204.8,133.6 205.6,132.7 206.4,133.4 207.2,133.9 208.0,134.2 208.8,134.6 209.6,135.4 210.4,134.9 211.2,136.1 212.0,136.1 212.8,136.6 213.6,135.9 214.4,135.1 215.2,134.7 216.0,134.6 216.8,133.9 217.6,132.9 218.4,132.9 219.2,132.5 220.0,133.0 220.8,132.8 221.6,132.5 222.4,131.4 223.2,131.9 224.0,132.1 224.8,132.1 225.6,131.2 226.4,130.3 227.2,130.6 228.0,130.8 228.8,130.4 229.6,131.4 230.4,132.4 231.2,133.0 232.0,132.9 232.8,134.0 233.6,134.1 234.4,135.1 235.2,135.6 236.0,135.7 236.8,137.1 237.6,138.0 238.4,137.3 239.2,136.7 240.0,135.3 240.8,135.5 241.6,134.5 242.4,134.2 243.2,134.8 244.0,134.0 244.8,134.6 245.6,135.1 246.4,134.6 247.2,135.4 248.0,135.1 248.8,135.3 249.6,135.3 250.4,135.7 251.2,136.1 252.0,136.1 252.8,135.6 253.6,135.1 254.4,134.1 255.2,134.4 256.0,133.6 256.8,133.0 257.6,132.5 258.4,133.0 259.2,132.3 260.0,131.6 260.8,131.1" fill="none" stroke="#ff0000" stroke-width="1.7" stroke-linejoin="round" stroke-linecap="butt" stroke-dasharray="3 1.2"/>
<polyline points="262.0,130.5 262.8,130.6 263.6,130.2 264.4,130.4 265.2,130.0 266.0,129.5 266.8,129.5 267.6,129.4 268.4,128.8 269.2,128.9 270.0,129.0 270.8,128.4 271.6,128.5 272.4,128.4 273.2,128.2 274.0,128.6 274.8,128.4 275.6,128.3 276.4,128.3 277.2,128.4 278.0,128.6 278.8,127.8 279.6,128.3 280.4,128.2 281.2,128.5 282.0,128.5 282.8,127.7 283.6,128.1 284.4,127.7 285.2,127.5 286.0,127.5 286.8,127.6 287.6,127.6 288.4,127.8 289.2,127.3 290.0,127.3 290.8,127.6 291.6,127.6 292.4,127.5 293.2,127.4 294.0,128.0 294.8,127.5 295.6,127.6 296.4,127.4 297.2,126.8 298.0,128.1 298.8,127.4 299.6,127.8 300.4,128.0 301.2,128.9 302.0,129.3 302.8,128.7 303.6,129.0 304.4,128.1 305.2,128.0 306.0,128.3 306.8,128.0 307.6,127.6 308.4,127.4 309.2,126.8 310.0,127.2 310.8,126.8 311.6,127.1 312.4,126.8 313.2,127.4 314.0,127.5 314.8,127.3 315.6,127.9 316.4,126.8 317.2,127.3 318.0,127.4 318.8,127.6 319.6,127.8 320.4,127.5 321.2,127.8 322.0,128.2" fill="none" stroke="#ff0000" stroke-width="1.7" stroke-linejoin="round" stroke-linecap="round"/>
<polyline points="24.0,152.2 24.8,152.3 25.6,152.2 26.4,151.6 27.2,152.2 28.0,151.2 28.8,151.8 29.6,151.7 30.4,151.6 31.2,150.8 32.0,151.2 32.8,151.1 33.6,151.2 34.4,151.1 35.2,151.1 36.0,151.2 36.8,150.8 37.6,151.7 38.4,151.3 39.2,151.4 40.0,151.6 40.8,151.4 41.6,151.5 42.4,151.4 43.2,151.0 44.0,150.3 44.8,150.2 45.6,150.7 46.4,150.1 47.2,150.5 48.0,150.8 48.8,150.3 49.6,150.8 50.4,151.7 51.2,151.4 52.0,152.4 52.8,152.6 53.6,152.5 54.4,152.7 55.2,152.2 56.0,151.6 56.8,152.3 57.6,151.4 58.4,151.8 59.2,151.6 60.0,150.9 60.8,151.2 61.6,150.2 62.4,150.4 63.2,150.3 64.0,151.3 64.8,151.1 65.6,151.0 66.4,151.0 67.2,150.6 68.0,151.2 68.8,151.8 69.6,150.9 70.4,150.6 71.2,151.0 72.0,151.3 72.8,151.5 73.6,151.9 74.4,151.8 75.2,152.3 76.0,152.2 76.8,152.2 77.6,151.5 78.4,150.8 79.2,150.8 80.0,150.8 80.8,150.6 81.6,150.7 82.4,150.7 83.2,151.1 84.0,151.6 84.8,151.6 85.6,152.0 86.4,151.1 87.2,151.8 88.0,151.7 88.8,152.0 89.6,152.5 90.4,152.8 91.2,152.7 92.0,152.8 92.8,153.4 93.6,153.2 94.4,153.0 95.2,153.1 96.0,153.6 96.8,153.8 97.6,154.1 98.4,154.5 99.2,154.4 100.0,153.5 100.8,153.6 101.6,154.1 102.4,154.3 103.2,154.4 104.0,154.3 104.8,154.6 105.6,153.6 106.4,153.9 107.2,154.6 108.0,154.6 108.8,155.1 109.6,155.7 110.4,156.0 111.2,154.9 112.0,152.9 112.8,151.2 113.6,149.5 114.4,148.8 115.2,148.8 116.0,148.5 116.8,147.9 117.6,147.7 118.4,147.4 119.2,148.3 120.0,147.7 120.8,147.9 121.6,147.6 122.4,147.1 123.2,147.0 124.0,147.1 124.8,146.8 125.6,145.9 126.4,146.0 127.2,145.4 128.0,145.3 128.8,145.2 129.6,145.8 130.4,145.3 131.2,145.2 132.0,145.2 132.8,144.3 133.6,144.2 134.4,144.1 135.2,144.0 136.0,144.5 136.8,144.2 137.6,143.7 138.4,144.0 139.2,144.2 140.0,143.9 140.8,143.9 141.6,144.9 142.4,144.9 143.2,144.1 144.0,144.6 144.8,144.2 145.6,143.8 146.4,143.5 147.2,144.3 148.0,144.4 148.8,145.0 149.6,145.4 150.4,145.8 151.2,145.8 152.0,145.8 152.8,145.6 153.6,145.6 154.4,146.1 155.2,145.4 156.0,145.0 156.8,145.7 157.6,145.2 158.4,145.3 159.2,145.6 160.0,145.9 160.8,145.5 161.6,145.0 162.4,145.0 163.2,144.8 164.0,144.8 164.8,143.3 165.6,143.6 166.4,144.0 167.2,143.9 168.0,143.7 168.8,143.5 169.6,143.8 170.4,145.1 171.2,145.3 172.0,144.4 172.8,143.9 173.6,144.1 174.4,144.8 175.2,144.7 176.0,144.4 176.8,144.8 177.6,144.8 178.4,145.7 179.2,145.2 180.0,145.7 180.8,145.8 181.6,145.1 182.4,145.3 183.2,145.7 184.0,145.6 184.8,146.1 185.6,146.2 186.4,146.5 187.2,147.3 188.0,147.0 188.8,146.7 189.6,147.2 190.4,147.3 191.2,146.8 192.0,146.8 192.8,147.0 193.6,146.8 194.4,147.1 195.2,146.7 196.0,147.1 196.8,147.1 197.6,147.2 198.4,146.9 199.2,147.3 200.0,147.6 200.8,147.2 201.6,147.3 202.4,146.7 203.2,147.0 204.0,146.8 204.8,145.8 205.6,145.5 206.4,145.4 207.2,145.3 208.0,145.2 208.8,144.1 209.6,143.5 210.4,144.1 211.2,143.6 212.0,142.4 212.8,142.6 213.6,141.6 214.4,141.8 215.2,141.8 216.0,141.9 216.8,141.7 217.6,141.4 218.4,141.1 219.2,141.0 220.0,141.5 220.8,140.7 221.6,141.2 222.4,140.2 223.2,140.0 224.0,140.0 224.8,140.1 225.6,140.1 226.4,140.1 227.2,140.0 228.0,139.8 228.8,140.0 229.6,140.0 230.4,141.3 231.2,141.2 232.0,141.4 232.8,141.1 233.6,141.7 234.4,141.1 235.2,141.6 236.0,141.5 236.8,142.1 237.6,141.4 238.4,141.0 239.2,140.9 240.0,141.3 240.8,140.1 241.6,140.0 242.4,140.4 243.2,140.1 244.0,140.1 244.8,140.0 245.6,139.5 246.4,139.6 247.2,138.8 248.0,138.8 248.8,138.7 249.6,138.9 250.4,138.9 251.2,138.7 252.0,139.6 252.8,139.0 253.6,139.1 254.4,139.0 255.2,139.8 256.0,139.8 256.8,139.7 257.6,140.8 258.4,141.1 259.2,140.9 260.0,140.9 260.8,140.8 261.6,141.2 262.4,141.7 263.2,141.6 264.0,141.8 264.8,141.4 265.6,141.5 266.4,142.1 267.2,141.8 268.0,141.9 268.8,141.6 269.6,142.4 270.4,142.3 271.2,141.6 272.0,142.2 272.8,142.4 273.6,142.3 274.4,142.3 275.2,142.2 276.0,142.4 276.8,142.5 277.6,142.3 278.4,142.1 279.2,141.5 280.0,141.6 280.8,141.8 281.6,142.0 282.4,141.1 283.2,141.0 284.0,141.2 284.8,140.4 285.6,140.7 286.4,140.6 287.2,141.8 288.0,141.5 288.8,140.8 289.6,141.7 290.4,141.1 291.2,140.8 292.0,140.8 292.8,141.7 293.6,141.4 294.4,141.3 295.2,141.1 296.0,141.5 296.8,141.0 297.6,141.4 298.4,141.7 299.2,141.4 300.0,142.2 300.8,142.1 301.6,141.8 302.4,141.8 303.2,141.6 304.0,141.1 304.8,141.7 305.6,141.4 306.4,141.7 307.2,141.3 308.0,142.1 308.8,142.3 309.6,142.7 310.4,142.6 311.2,141.6 312.0,142.4 312.8,142.8 313.6,142.4 314.4,141.9 315.2,142.0 316.0,141.6 316.8,141.7 317.6,141.7 318.4,142.3 319.2,142.6 320.0,142.0 320.8,141.4 321.6,142.3" fill="none" stroke="#ff0000" stroke-width="1.7" stroke-linejoin="round" stroke-linecap="round"/>
<polyline points="24.0,163.7 24.8,163.3 25.6,163.2 26.4,163.8 27.2,162.6 28.0,163.3 28.8,163.3 29.6,162.5 30.4,162.4 31.2,162.4 32.0,161.7 32.8,162.2 33.6,161.7 34.4,161.2 35.2,161.0 36.0,161.2 36.8,160.5 37.6,161.4 38.4,161.4 39.2,160.7 40.0,160.9 40.8,161.1 41.6,161.5 42.4,162.3 43.2,161.5 44.0,162.2 44.8,162.3 45.6,162.9 46.4,162.9 47.2,163.1 48.0,163.6 48.8,163.6 49.6,163.6 50.4,164.0 51.2,163.3 52.0,163.3 52.8,163.6 53.6,163.1 54.4,163.4 55.2,162.4 56.0,162.7 56.8,163.2 57.6,163.7 58.4,163.3 59.2,163.0 60.0,163.4 60.8,162.7 61.6,162.2 62.4,162.2 63.2,162.1 64.0,162.1 64.8,163.0 65.6,162.5 66.4,162.9 67.2,162.3 68.0,162.1 68.8,161.7 69.6,161.4 70.4,162.0 71.2,161.3 72.0,161.4 72.8,160.7 73.6,161.3 74.4,160.9 75.2,161.0 76.0,160.7 76.8,160.9 77.6,161.3 78.4,161.1 79.2,161.9 80.0,162.8 80.8,163.4 81.6,163.5 82.4,163.4 83.2,163.4 84.0,163.2 84.8,163.9 85.6,163.1 86.4,163.4 87.2,162.8 88.0,163.7 88.8,162.9 89.6,162.5 90.4,162.2 91.2,162.2 92.0,162.7 92.8,162.1 93.6,162.2 94.4,161.7 95.2,161.8 96.0,161.1 96.8,160.8 97.6,160.7 98.4,161.2 99.2,161.2 100.0,161.6 100.8,162.3 101.6,162.0 102.4,162.4 103.2,162.7 104.0,163.2 104.8,163.6 105.6,163.4 106.4,163.5 107.2,163.8 108.0,163.4 108.8,163.5 109.6,162.9 110.4,162.6 111.2,162.7 112.0,162.5 112.8,163.4 113.6,163.2 114.4,163.2 115.2,163.1 116.0,163.2 116.8,162.9 117.6,163.4 118.4,163.4 119.2,163.8 120.0,163.4 120.8,163.2 121.6,162.6 122.4,162.0 123.2,162.4 124.0,161.8 124.8,162.1 125.6,161.3 126.4,161.4 127.2,161.2 128.0,160.8 128.8,160.8 129.6,161.6 130.4,160.8 131.2,160.7 132.0,160.8 132.8,159.4 133.6,160.1 134.4,160.3 135.2,160.1 136.0,160.2 136.8,160.9 137.6,160.6 138.4,160.1 139.2,160.8 140.0,161.4 140.8,160.5 141.6,160.9 142.4,160.4 143.2,161.1 144.0,160.6 144.8,160.4 145.6,160.4 146.4,160.4 147.2,160.2 148.0,161.3 148.8,161.8 149.6,161.7 150.4,162.0 151.2,162.5 152.0,161.6 152.8,162.2 153.6,162.1 154.4,161.8 155.2,161.0 156.0,161.3 156.8,161.0 157.6,160.9 158.4,160.7 159.2,161.1 160.0,160.4 160.8,160.8 161.6,160.7 162.4,161.5 163.2,161.3 164.0,162.1 164.8,161.8 165.6,161.9 166.4,161.4 167.2,161.5 168.0,161.5 168.8,162.0 169.6,161.2 170.4,161.3 171.2,160.5 172.0,160.5 172.8,159.6 173.6,159.7 174.4,159.5 175.2,159.3 176.0,158.6 176.8,158.7 177.6,158.3 178.4,158.8 179.2,159.2 180.0,159.6 180.8,160.0 181.6,160.9 182.4,160.8 183.2,160.8 184.0,161.3 184.8,161.6 185.6,162.6 186.4,162.4 187.2,162.8 188.0,162.6 188.8,162.4 189.6,161.9 190.4,162.4 191.2,161.3 192.0,160.6 192.8,160.1 193.6,160.3 194.4,161.0 195.2,160.6 196.0,160.3 196.8,161.2 197.6,160.2 198.4,160.8 199.2,161.4 200.0,161.2 200.8,161.7 201.6,161.5 202.4,161.6 203.2,161.6 204.0,161.4 204.8,161.4 205.6,161.6 206.4,161.7 207.2,162.2 208.0,161.7 208.8,161.2 209.6,161.3 210.4,160.7 211.2,161.1 212.0,161.7 212.8,161.8 213.6,161.5 214.4,162.3 215.2,161.8 216.0,161.9 216.8,161.6 217.6,162.0 218.4,161.9 219.2,161.9 220.0,161.6 220.8,161.5 221.6,162.4 222.4,161.4 223.2,161.4 224.0,162.3 224.8,161.3 225.6,160.9 226.4,160.4 227.2,160.8 228.0,161.1 228.8,160.8 229.6,160.5 230.4,159.7 231.2,160.2 232.0,160.2 232.8,160.5 233.6,161.0 234.4,161.2 235.2,161.9 236.0,162.3 236.8,162.5 237.6,162.8 238.4,163.1 239.2,163.1 240.0,163.3 240.8,163.2 241.6,162.9 242.4,161.8 243.2,162.0 244.0,161.9 244.8,161.5 245.6,161.7 246.4,161.4 247.2,160.8 248.0,160.7 248.8,160.5 249.6,160.1 250.4,159.8 251.2,160.2 252.0,159.7 252.8,159.7 253.6,159.9 254.4,160.6 255.2,160.7 256.0,161.1 256.8,161.1 257.6,161.1 258.4,161.9 259.2,161.9 260.0,162.1 260.8,162.2 261.6,162.1 262.4,162.1 263.2,162.3 264.0,162.3 264.8,161.8 265.6,162.5 266.4,162.4 267.2,162.8 268.0,162.3 268.8,162.6 269.6,162.7 270.4,162.3 271.2,162.4 272.0,162.1 272.8,162.8 273.6,162.3 274.4,162.0 275.2,161.9 276.0,161.2 276.8,160.8 277.6,161.2 278.4,160.4 279.2,160.1 280.0,159.4 280.8,159.7 281.6,158.7 282.4,158.9 283.2,159.3 284.0,159.6 284.8,160.2 285.6,159.7 286.4,160.4 287.2,159.4 288.0,160.0 288.8,159.8 289.6,160.7 290.4,159.9 291.2,160.7 292.0,160.7 292.8,160.8 293.6,160.6 294.4,160.9 295.2,161.0 296.0,160.2 296.8,160.6 297.6,160.7 298.4,161.1 299.2,160.9 300.0,160.7 300.8,161.2 301.6,161.6 302.4,161.0 303.2,161.2 304.0,160.8 304.8,161.1 305.6,161.2 306.4,161.0 307.2,160.4 308.0,160.9 308.8,160.9 309.6,160.9 310.4,160.9 311.2,160.5 312.0,161.3 312.8,161.2 313.6,161.8 314.4,161.2 315.2,160.7 316.0,161.2 316.8,160.5 317.6,160.6 318.4,161.0 319.2,160.9 320.0,161.6 320.8,161.3 321.6,161.5" fill="none" stroke="#ff0000" stroke-width="1.7" stroke-linejoin="round" stroke-linecap="round"/>
<polyline points="24.0,189.6 24.8,189.0 25.6,189.6 26.4,189.8 27.2,189.8 28.0,189.2 28.8,189.6 29.6,190.4 30.4,190.5 31.2,189.7 32.0,190.4 32.8,190.1 33.6,189.7 34.4,188.7 35.2,189.1 36.0,189.5 36.8,188.7 37.6,188.4 38.4,189.1 39.2,189.8 40.0,189.4 40.8,188.9 41.6,189.6 42.4,189.3 43.2,189.5 44.0,189.1 44.8,189.3 45.6,189.2 46.4,188.3 47.2,188.3 48.0,188.3 48.8,188.5 49.6,189.2 50.4,189.1 51.2,188.8 52.0,188.5 52.8,188.4 53.6,188.5 54.4,189.0 55.2,189.8 56.0,189.0 56.8,189.4 57.6,190.2 58.4,189.4 59.2,189.6 60.0,188.7 60.8,189.2 61.6,189.7 62.4,190.2 63.2,191.2 64.0,190.4 64.8,191.3 65.6,190.8 66.4,191.2 67.2,190.0 68.0,190.6 68.8,191.1 69.6,190.8 70.4,190.8 71.2,190.8 72.0,190.7 72.8,191.4 73.6,190.9 74.4,190.7 75.2,190.5 76.0,190.4 76.8,190.3 77.6,190.6 78.4,190.7 79.2,190.4 80.0,191.0 80.8,190.2 81.6,189.6 82.4,190.3 83.2,189.2 84.0,190.1 84.8,190.5 85.6,190.5 86.4,190.1 87.2,190.4 88.0,189.9 88.8,190.5 89.6,190.2 90.4,190.2 91.2,190.2 92.0,189.9 92.8,189.0 93.6,190.2 94.4,189.7 95.2,190.1 96.0,189.8 96.8,190.5 97.6,191.0 98.4,191.2 99.2,191.6 100.0,191.8 100.8,191.5 101.6,190.8 102.4,190.4 103.2,190.0 104.0,190.1 104.8,189.7 105.6,189.9 106.4,189.9 107.2,189.5 108.0,190.4 108.8,189.7 109.6,188.7 110.4,188.9 111.2,189.0 112.0,189.4 112.8,189.4 113.6,189.4 114.4,190.7 115.2,189.8 116.0,189.3 116.8,190.0 117.6,190.4 118.4,190.1 119.2,189.5 120.0,188.9 120.8,189.4 121.6,189.7 122.4,189.7 123.2,189.1 124.0,190.0 124.8,189.6 125.6,190.2 126.4,190.2 127.2,189.9 128.0,190.0 128.8,190.4 129.6,190.5 130.4,190.5 131.2,191.0 132.0,190.5 132.8,190.7 133.6,189.8 134.4,189.9 135.2,189.1 136.0,189.1 136.8,189.7 137.6,189.9 138.4,189.2 139.2,189.3 140.0,189.0 140.8,188.8 141.6,188.8 142.4,189.8 143.2,188.6 144.0,188.7 144.8,188.9 145.6,188.5 146.4,188.3 147.2,188.0 148.0,188.8 148.8,188.7 149.6,189.2 150.4,189.2 151.2,189.1 152.0,188.4 152.8,188.6 153.6,188.8 154.4,188.4 155.2,188.9 156.0,187.7 156.8,188.5 157.6,188.3 158.4,188.7 159.2,188.7 160.0,188.9 160.8,188.5 161.6,188.6 162.4,187.7 163.2,187.3 164.0,187.7 164.8,187.0 165.6,186.9 166.4,187.7 167.2,187.3 168.0,187.9 168.8,187.7 169.6,186.9 170.4,187.0 171.2,186.7 172.0,186.6 172.8,186.0 173.6,185.5 174.4,186.6 175.2,186.3 176.0,188.1 176.8,187.2 177.6,187.1 178.4,187.2 179.2,186.7 180.0,186.5 180.8,186.3 181.6,186.3 182.4,186.1 183.2,186.2 184.0,186.2 184.8,186.4 185.6,186.3 186.4,186.5 187.2,185.9 188.0,185.5 188.8,185.2 189.6,184.6 190.4,184.5 191.2,184.6 192.0,184.9 192.8,185.0 193.6,184.5 194.4,185.0 195.2,184.3 196.0,184.5 196.8,185.3 197.6,185.4 198.4,185.1 199.2,185.4 200.0,185.5 200.8,185.3 201.6,185.4 202.4,185.7 203.2,186.6 204.0,186.6 204.8,186.5 205.6,185.7 206.4,186.2 207.2,186.3 208.0,185.9 208.8,186.8 209.6,186.4 210.4,186.7 211.2,185.2 212.0,184.9 212.8,185.1 213.6,185.8 214.4,185.8 215.2,186.3 216.0,186.1 216.8,186.4 217.6,186.1 218.4,186.1 219.2,185.6 220.0,186.2 220.8,185.6 221.6,186.3 222.4,186.3 223.2,186.0 224.0,186.6 224.8,186.5 225.6,186.5 226.4,185.9 227.2,186.6 228.0,186.6 228.8,186.5 229.6,186.5 230.4,186.8 231.2,187.8 232.0,187.7 232.8,187.7 233.6,187.2 234.4,186.9 235.2,187.0 236.0,186.0 236.8,186.1 237.6,185.9 238.4,184.9 239.2,185.1 240.0,184.6 240.8,185.2 241.6,185.2 242.4,184.9 243.2,185.5 244.0,185.4 244.8,185.9 245.6,186.4 246.4,185.7 247.2,186.2 248.0,186.3 248.8,185.6 249.6,186.3 250.4,186.4 251.2,186.1 252.0,186.7 252.8,186.4 253.6,185.7 254.4,185.8 255.2,185.7 256.0,186.1 256.8,185.8 257.6,186.1 258.4,185.6 259.2,185.9 260.0,184.9 260.8,185.5 261.6,185.5 262.4,185.4 263.2,185.5 264.0,184.9 264.8,185.0 265.6,185.0 266.4,185.7 267.2,186.4 268.0,186.0 268.8,185.6 269.6,186.3 270.4,186.1 271.2,186.2 272.0,185.5 272.8,184.9 273.6,184.9 274.4,184.6 275.2,184.8 276.0,185.8 276.8,185.8 277.6,185.7 278.4,186.1 279.2,186.0 280.0,186.0 280.8,186.1 281.6,185.9 282.4,186.2 283.2,185.7 284.0,186.0 284.8,186.2 285.6,186.1 286.4,185.4 287.2,185.8 288.0,186.4 288.8,186.6 289.6,185.7 290.4,186.1 291.2,186.5 292.0,186.2 292.8,186.2 293.6,186.2 294.4,186.0 295.2,186.9 296.0,186.7 296.8,186.7 297.6,186.7 298.4,187.0 299.2,186.8 300.0,186.2 300.8,185.8 301.6,184.8 302.4,184.8 303.2,184.8 304.0,185.6 304.8,185.4 305.6,184.9 306.4,185.8 307.2,185.8 308.0,185.7 308.8,185.6 309.6,185.5 310.4,185.2 311.2,185.7 312.0,186.0 312.8,185.5 313.6,186.5 314.4,186.6 315.2,186.0 316.0,185.0 316.8,184.9 317.6,184.3 318.4,184.4 319.2,184.4 320.0,185.1 320.8,185.2 321.6,185.9" fill="none" stroke="#ff0000" stroke-width="1.7" stroke-linejoin="round" stroke-linecap="round"/>
<polyline points="24.0,38.5 24.8,38.4 25.6,38.9 26.4,38.4 27.2,38.5 28.0,38.2 28.8,38.3 29.6,38.8 30.4,38.1 31.2,38.2 32.0,37.3 32.8,37.9 33.6,38.4 34.4,38.6 35.2,38.6 36.0,38.2 36.8,38.6 37.6,39.3 38.4,39.4 39.2,39.6 40.0,39.4 40.8,38.4 41.6,39.2 42.4,39.5 43.2,38.8 44.0,38.3 44.8,39.1 45.6,38.9 46.4,38.1 47.2,38.8 48.0,39.2 48.8,39.0 49.6,39.5 50.4,38.9 51.2,39.5 52.0,39.3 52.8,39.9 53.6,39.0 54.4,39.0 55.2,38.5 56.0,38.4 56.8,39.4 57.6,38.5 58.4,39.0 59.2,39.3 60.0,39.4 60.8,39.2 61.6,38.8 62.4,38.8 63.2,39.0 64.0,39.1 64.8,38.5 65.6,38.6 66.4,38.4 67.2,38.8 68.0,38.5 68.8,38.7 69.6,39.5 70.4,38.7 71.2,39.1 72.0,39.1 72.8,39.9 73.6,39.9 74.4,38.9 75.2,38.1 76.0,38.6 76.8,38.8 77.6,39.0 78.4,39.0 79.2,39.0 80.0,39.2 80.8,38.7 81.6,39.6 82.4,39.1 83.2,38.8 84.0,39.0 84.8,39.4 85.6,38.7 86.4,38.8 87.2,38.8 88.0,38.8 88.8,39.1 89.6,38.3 90.4,39.2 91.2,38.9 92.0,38.6 92.8,38.3 93.6,38.8 94.4,39.6 95.2,39.3 96.0,39.9 96.8,40.1 97.6,40.3 98.4,40.6 99.2,40.1 100.0,40.7 100.8,40.4 101.6,40.1 102.4,40.1 103.2,40.2 104.0,40.6 104.8,39.7 105.6,40.5 106.4,40.5 107.2,40.6 108.0,41.0 108.8,40.0 109.6,40.9 110.4,40.2 111.2,39.8 112.0,39.9 112.8,39.8 113.6,40.0 114.4,40.2 115.2,40.2 116.0,40.8 116.8,40.5 117.6,40.2 118.4,39.7 119.2,39.9 120.0,40.7 120.8,40.7 121.6,40.4 122.4,40.4 123.2,40.3 124.0,40.4 124.8,40.0 125.6,40.3 126.4,40.3 127.2,40.7 128.0,40.3 128.8,40.0 129.6,40.7 130.4,40.6 131.2,40.6 132.0,40.4 132.8,40.7 133.6,40.0 134.4,40.2 135.2,40.1 136.0,39.6 136.8,39.9 137.6,39.9 138.4,39.9 139.2,40.1 140.0,40.1 140.8,40.6 141.6,40.2 142.4,40.5 143.2,40.7 144.0,40.6 144.8,40.1 145.6,40.5 146.4,40.8 147.2,41.1 148.0,40.8 148.8,40.6 149.6,40.7 150.4,40.8 151.2,41.1 152.0,41.0 152.8,40.5 153.6,41.1 154.4,40.7 155.2,40.8 156.0,41.4 156.8,40.9 157.6,40.8 158.4,40.7 159.2,41.0 160.0,40.8 160.8,40.5 161.6,40.1 162.4,40.6 163.2,40.2 164.0,40.6 164.8,41.1 165.6,40.3 166.4,40.9 167.2,40.1 168.0,40.0 168.8,39.7 169.6,40.3 170.4,39.7 171.2,40.8 172.0,40.5 172.8,41.0 173.6,40.8 174.4,40.5 175.2,40.5 176.0,41.0 176.8,40.9 177.6,40.6 178.4,41.1 179.2,41.3 180.0,40.7 180.8,40.5 181.6,40.6 182.4,41.0 183.2,41.1 184.0,40.3 184.8,40.8 185.6,40.8 186.4,40.4 187.2,40.8 188.0,40.8 188.8,40.4 189.6,40.4 190.4,40.0 191.2,40.8 192.0,40.5 192.8,41.2 193.6,40.1 194.4,41.0 195.2,41.0 196.0,40.6 196.8,40.3 197.6,41.0 198.4,41.3 199.2,41.0 200.0,41.3 200.8,41.1 201.6,41.3 202.4,41.0 203.2,41.5 204.0,41.2 204.8,40.4 205.6,40.5 206.4,40.7 207.2,40.1 208.0,40.5 208.8,40.6 209.6,40.4 210.4,40.9 211.2,41.2 212.0,41.2 212.8,40.6 213.6,40.7 214.4,41.1 215.2,41.3 216.0,41.1 216.8,41.0 217.6,41.0 218.4,40.7 219.2,40.8 220.0,40.5 220.8,40.1 221.6,40.2 222.4,40.0 223.2,39.5 224.0,39.6 224.8,39.3 225.6,39.4 226.4,39.3 227.2,38.3 228.0,38.0 228.8,37.5 229.6,37.7 230.4,36.9 231.2,37.6 232.0,37.6 232.8,37.6 233.6,38.0 234.4,38.3 235.2,38.4 236.0,38.9 236.8,40.1 237.6,40.0 238.4,40.6 239.2,41.8 240.0,41.7 240.8,41.5 241.6,41.5 242.4,40.5 243.2,40.3 244.0,39.8 244.8,38.6 245.6,38.7 246.4,37.8 247.2,37.6 248.0,37.3 248.8,37.0 249.6,36.5 250.4,36.7 251.2,36.9 252.0,37.0 252.8,35.8 253.6,35.5 254.4,35.1 255.2,35.2 256.0,35.0 256.8,35.0 257.6,35.1 258.4,35.4 259.2,35.0 260.0,35.2 260.8,34.4 261.6,34.7 262.4,35.0 263.2,35.6 264.0,36.0 264.8,36.7 265.6,36.1 266.4,37.5 267.2,38.8 268.0,38.8 268.8,39.6 269.6,40.2 270.4,40.7 271.2,40.8 272.0,41.1 272.8,42.0 273.6,41.7 274.4,40.5 275.2,40.9 276.0,40.0 276.8,39.4 277.6,39.1 278.4,38.7 279.2,38.0 280.0,37.4 280.8,37.4 281.6,37.1 282.4,36.3 283.2,36.1 284.0,35.4 284.8,35.4 285.6,35.0 286.4,35.3 287.2,35.7 288.0,36.0 288.8,37.0 289.6,36.8 290.4,37.7 291.2,37.5 292.0,38.7 292.8,38.3 293.6,38.9 294.4,39.0 295.2,40.7 296.0,40.8 296.8,42.0 297.6,42.3 298.4,41.3 299.2,40.7 300.0,40.4 300.8,40.6 301.6,39.2 302.4,39.3 303.2,39.3 304.0,38.3 304.8,38.7 305.6,38.2 306.4,38.3 307.2,38.1 308.0,37.4 308.8,36.3 309.6,35.8 310.4,35.9 311.2,35.4 312.0,34.4 312.8,35.3 313.6,35.8 314.4,35.8 315.2,36.1 316.0,36.6 316.8,37.7 317.6,37.4 318.4,38.1 319.2,39.0 320.0,39.2 320.8,39.4 321.6,39.1" fill="none" stroke="#00ff00" stroke-width="1.7" stroke-linejoin="round" stroke-linecap="round"/>
<polyline points="24.0,62.9 24.8,62.2 25.6,61.9 26.4,62.2 27.2,62.2 28.0,61.9 28.8,61.8 29.6,61.6 30.4,62.0 31.2,61.1 32.0,61.2 32.8,61.2 33.6,62.1 34.4,61.6 35.2,61.6 36.0,62.1 36.8,61.7 37.6,61.9 38.4,61.9 39.2,62.3 40.0,61.9 40.8,62.1 41.6,61.9 42.4,62.0 43.2,61.5 44.0,61.7 44.8,61.8 45.6,62.0 46.4,61.6 47.2,60.9 48.0,61.2 48.8,61.2 49.6,61.9 50.4,61.3 51.2,62.1 52.0,62.2 52.8,62.0 53.6,61.2 54.4,61.3 55.2,61.7 56.0,61.6 56.8,62.2 57.6,62.5 58.4,62.1 59.2,62.2 60.0,62.1 60.8,62.6 61.6,62.6 62.4,62.5 63.2,62.8 64.0,62.1 64.8,61.9 65.6,62.1 66.4,61.8 67.2,61.4 68.0,62.2 68.8,61.6 69.6,61.7 70.4,62.0 71.2,61.8 72.0,62.3 72.8,61.9 73.6,62.0 74.4,62.4 75.2,62.1 76.0,61.7 76.8,62.4 77.6,61.5 78.4,61.8 79.2,62.0 80.0,61.7 80.8,62.6 81.6,62.2 82.4,61.6 83.2,61.9 84.0,62.0 84.8,62.0 85.6,61.6 86.4,60.9 87.2,60.6 88.0,60.9 88.8,60.9 89.6,61.1 90.4,60.1 91.2,59.7 92.0,59.9 92.8,60.4 93.6,59.6 94.4,60.3 95.2,60.8 96.0,61.5 96.8,60.8 97.6,60.9 98.4,61.8 99.2,61.8 100.0,61.8 100.8,61.8 101.6,61.4 102.4,61.6 103.2,61.4 104.0,62.0 104.8,61.7 105.6,61.3 106.4,61.4 107.2,61.0 108.0,61.6 108.8,61.3 109.6,61.0 110.4,61.2 111.2,60.5 112.0,60.0 112.8,59.8 113.6,60.2 114.4,59.5 115.2,59.7 116.0,59.4 116.8,59.5 117.6,59.1 118.4,60.0 119.2,59.7 120.0,59.5 120.8,59.3 121.6,58.6 122.4,58.9 123.2,57.8 124.0,58.4 124.8,58.5 125.6,58.0 126.4,58.8 127.2,59.8 128.0,59.7 128.8,59.8 129.6,59.8 130.4,60.7 131.2,60.8 132.0,61.1 132.8,61.3 133.6,61.3 134.4,61.8 135.2,62.3 136.0,62.8 136.8,62.9 137.6,61.8 138.4,62.4 139.2,61.4 140.0,60.8 140.8,60.5 141.6,60.2 142.4,59.6 143.2,60.1 144.0,60.2 144.8,60.3 145.6,59.9 146.4,60.0 147.2,59.3 148.0,58.9 148.8,59.1 149.6,59.9 150.4,60.0 151.2,60.2 152.0,60.6 152.8,60.9 153.6,60.8 154.4,60.3 155.2,59.9 156.0,60.0 156.8,60.4 157.6,60.7 158.4,60.9 159.2,61.5 160.0,61.3 160.8,61.6 161.6,61.4 162.4,61.5 163.2,61.6 164.0,61.2 164.8,61.9 165.6,61.7 166.4,61.3 167.2,62.1 168.0,62.5 168.8,62.4 169.6,62.5 170.4,63.0 171.2,63.0 172.0,62.0 172.8,61.9 173.6,61.9 174.4,61.1 175.2,61.5 176.0,61.6 176.8,61.4 177.6,60.8 178.4,60.1 179.2,59.5 180.0,59.2 180.8,58.9 181.6,59.6 182.4,59.2 183.2,58.9 184.0,59.2 184.8,59.0 185.6,58.9 186.4,59.2 187.2,59.2 188.0,59.2 188.8,59.8 189.6,59.3 190.4,59.3 191.2,60.5 192.0,59.7 192.8,59.4 193.6,60.4 194.4,60.6 195.2,61.3 196.0,60.8 196.8,61.4 197.6,61.7 198.4,62.0 199.2,62.3 200.0,62.5 200.8,61.8 201.6,62.4 202.4,62.0 203.2,62.3 204.0,61.5 204.8,61.5 205.6,61.6 206.4,61.8 207.2,60.7 208.0,60.7 208.8,60.4 209.6,60.5 210.4,60.1 211.2,59.7 212.0,58.7 212.8,59.4 213.6,59.1 214.4,58.4 215.2,58.8 216.0,58.3 216.8,58.2 217.6,59.0 218.4,58.4 219.2,59.0 220.0,58.7 220.8,58.6 221.6,58.7 222.4,59.5 223.2,59.3 224.0,59.1 224.8,59.9 225.6,60.1 226.4,60.3 227.2,60.5 228.0,60.6 228.8,60.8 229.6,61.1 230.4,61.4 231.2,61.1 232.0,61.2 232.8,61.5 233.6,62.1 234.4,61.9 235.2,61.0 236.0,61.1 236.8,60.7 237.6,60.2 238.4,60.2 239.2,60.2 240.0,60.2 240.8,60.1 241.6,59.9 242.4,59.4 243.2,59.4 244.0,58.4 244.8,58.5 245.6,58.0 246.4,57.4 247.2,57.9 248.0,58.5 248.8,59.1 249.6,59.4 250.4,60.1 251.2,60.2 252.0,59.7 252.8,60.5 253.6,60.3 254.4,60.9 255.2,60.5 256.0,60.9 256.8,60.2 257.6,60.5 258.4,60.1 259.2,60.4 260.0,61.0 260.8,61.6 261.6,61.7 262.4,61.7 263.2,61.9 264.0,62.2 264.8,62.6 265.6,62.6 266.4,62.4 267.2,63.0 268.0,62.6 268.8,62.9 269.6,63.5 270.4,63.7 271.2,63.7 272.0,62.9 272.8,63.3 273.6,62.4 274.4,62.1 275.2,61.8 276.0,61.8 276.8,61.4 277.6,61.1 278.4,60.4 279.2,60.5 280.0,59.9 280.8,60.0 281.6,59.9 282.4,58.9 283.2,59.4 284.0,59.9 284.8,59.5 285.6,60.5 286.4,60.4 287.2,60.2 288.0,60.7 288.8,60.7 289.6,61.9 290.4,61.7 291.2,62.6 292.0,63.3 292.8,63.5 293.6,64.2 294.4,64.2 295.2,63.3 296.0,63.7 296.8,62.2 297.6,61.9 298.4,62.0 299.2,61.5 300.0,61.1 300.8,60.3 301.6,60.5 302.4,59.6 303.2,59.8 304.0,58.9 304.8,58.3 305.6,58.1 306.4,57.6 307.2,58.6 308.0,58.7 308.8,58.6 309.6,58.6 310.4,59.3 311.2,59.0 312.0,58.8 312.8,59.6 313.6,59.1 314.4,59.9 315.2,60.0 316.0,60.4 316.8,61.5 317.6,61.2 318.4,61.5 319.2,60.5 320.0,61.1 320.8,60.5 321.6,60.0" fill="none" stroke="#00ff00" stroke-width="1.7" stroke-linejoin="round" stroke-linecap="round"/>
<polyline points="24.0,80.7 24.8,81.4 25.6,82.0 26.4,81.6 27.2,82.2 28.0,82.3 28.8,82.4 29.6,83.6 30.4,83.1 31.2,84.0 32.0,83.8 32.8,84.2 33.6,83.9 34.4,83.6 35.2,83.3 36.0,83.0 36.8,82.7 37.6,82.8 38.4,83.1 39.2,82.1 40.0,81.7 40.8,81.3 41.6,81.2 42.4,80.9 43.2,80.8 44.0,79.8 44.8,79.9 45.6,79.3 46.4,80.0 47.2,80.4 48.0,81.1 48.8,80.9 49.6,81.2 50.4,82.6 51.2,82.8 52.0,83.6 52.8,84.1 53.6,84.0 54.4,84.0 55.2,84.0 56.0,83.9 56.8,83.4 57.6,83.4 58.4,82.8 59.2,82.9 60.0,82.9 60.8,82.5 61.6,81.9 62.4,81.8 63.2,81.4 64.0,81.7 64.8,81.7 65.6,82.0 66.4,82.2 67.2,81.4 68.0,81.4 68.8,82.3 69.6,82.0 70.4,82.2 71.2,82.4 72.0,83.1 72.8,83.4 73.6,83.8 74.4,82.9 75.2,83.4 76.0,82.6 76.8,82.3 77.6,82.8 78.4,82.6 79.2,82.0 80.0,81.9 80.8,81.9 81.6,81.9 82.4,81.6 83.2,82.2 84.0,82.7 84.8,82.4 85.6,82.2 86.4,83.0 87.2,83.4 88.0,83.1 88.8,82.9 89.6,82.4 90.4,82.7 91.2,83.0 92.0,83.0 92.8,82.9 93.6,83.6 94.4,83.2 95.2,83.9 96.0,83.4 96.8,83.2 97.6,83.6 98.4,82.3 99.2,82.6 100.0,82.4 100.8,81.9 101.6,82.0 102.4,82.1 103.2,81.9 104.0,81.0 104.8,80.4 105.6,81.4 106.4,80.6 107.2,80.8 108.0,81.2 108.8,80.3 109.6,80.9 110.4,80.7 111.2,80.3 112.0,80.3 112.8,80.6 113.6,80.3 114.4,80.8 115.2,80.5 116.0,80.6 116.8,81.4 117.6,80.6 118.4,81.3 119.2,81.6 120.0,81.7 120.8,82.1 121.6,82.2 122.4,82.4 123.2,82.1 124.0,82.5 124.8,81.7 125.6,82.1 126.4,82.4 127.2,83.1 128.0,82.9 128.8,82.7 129.6,82.6 130.4,82.8 131.2,82.9 132.0,83.1 132.8,83.0 133.6,82.7 134.4,82.8 135.2,82.4 136.0,82.7 136.8,82.6 137.6,83.3 138.4,82.9 139.2,83.9 140.0,83.2 140.8,83.5 141.6,83.0 142.4,83.6 143.2,82.8 144.0,83.4 144.8,82.8 145.6,82.7 146.4,82.3 147.2,81.6 148.0,82.6 148.8,82.4 149.6,81.7 150.4,82.0 151.2,81.7 152.0,81.2 152.8,81.3 153.6,81.5 154.4,81.5 155.2,82.1 156.0,81.8 156.8,82.0 157.6,81.9 158.4,82.8 159.2,82.7 160.0,82.8 160.8,82.7 161.6,82.2 162.4,81.8 163.2,81.8 164.0,82.3 164.8,82.6 165.6,82.5 166.4,81.8 167.2,82.3 168.0,82.2 168.8,82.0 169.6,81.4 170.4,80.9 171.2,81.2 172.0,81.0 172.8,80.7 173.6,80.9 174.4,81.1 175.2,81.6 176.0,81.4 176.8,81.5 177.6,80.6 178.4,80.7 179.2,81.3 180.0,81.5 180.8,81.8 181.6,81.7 182.4,82.3 183.2,82.7 184.0,83.1 184.8,82.2 185.6,82.5 186.4,82.2 187.2,81.8 188.0,81.9 188.8,82.4 189.6,82.9 190.4,82.6 191.2,82.9 192.0,82.2 192.8,81.9 193.6,82.2 194.4,82.1 195.2,82.3 196.0,82.4 196.8,82.2 197.6,81.7 198.4,81.6 199.2,82.0 200.0,82.5 200.8,82.7 201.6,83.0 202.4,83.3 203.2,82.8 204.0,82.9 204.8,82.7 205.6,83.2 206.4,83.1 207.2,83.2 208.0,82.9 208.8,82.9 209.6,83.5 210.4,83.8 211.2,83.6 212.0,84.0 212.8,83.9 213.6,83.5 214.4,83.4 215.2,83.2 216.0,83.3 216.8,83.2 217.6,83.4 218.4,82.8 219.2,83.7 220.0,83.6 220.8,83.2 221.6,83.4 222.4,82.8 223.2,82.7 224.0,82.7 224.8,81.7 225.6,82.1 226.4,81.6 227.2,81.8 228.0,81.0 228.8,81.5 229.6,81.2 230.4,81.4 231.2,80.8 232.0,81.1 232.8,81.3 233.6,81.1 234.4,80.9 235.2,80.1 236.0,80.4 236.8,79.7 237.6,80.4 238.4,81.2 239.2,81.5 240.0,81.7 240.8,81.9 241.6,82.0 242.4,82.0 243.2,81.9 244.0,81.8 244.8,82.3 245.6,82.5 246.4,82.6 247.2,82.5 248.0,83.5 248.8,83.9 249.6,83.3 250.4,84.1 251.2,83.2 252.0,83.0 252.8,83.0 253.6,82.6 254.4,82.9 255.2,82.7 256.0,83.4 256.8,83.7 257.6,83.4 258.4,82.7 259.2,82.8 260.0,83.2 260.8,83.0 261.6,82.8 262.4,83.6 263.2,83.3 264.0,84.0 264.8,83.2 265.6,83.2 266.4,82.5 267.2,83.0 268.0,82.6 268.8,82.7 269.6,82.0 270.4,83.2 271.2,82.4 272.0,82.9 272.8,82.8 273.6,83.2 274.4,82.6 275.2,82.1 276.0,82.8 276.8,82.7 277.6,82.9 278.4,82.0 279.2,82.2 280.0,82.1 280.8,82.1 281.6,82.1 282.4,82.1 283.2,81.6 284.0,81.8 284.8,81.4 285.6,81.0 286.4,81.7 287.2,82.0 288.0,81.6 288.8,82.4 289.6,82.2 290.4,81.9 291.2,82.0 292.0,82.4 292.8,82.7 293.6,81.9 294.4,82.3 295.2,81.7 296.0,82.3 296.8,81.9 297.6,81.4 298.4,80.6 299.2,81.2 300.0,80.7 300.8,80.6 301.6,80.4 302.4,80.1 303.2,80.5 304.0,79.9 304.8,79.3 305.6,78.9 306.4,79.0 307.2,80.0 308.0,80.5 308.8,79.7 309.6,80.3 310.4,80.5 311.2,80.4 312.0,80.3 312.8,80.7 313.6,81.0 314.4,81.3 315.2,80.8 316.0,81.8 316.8,81.4 317.6,80.7 318.4,81.7 319.2,81.6 320.0,82.1 320.8,82.4 321.6,82.7" fill="none" stroke="#00ff00" stroke-width="1.7" stroke-linejoin="round" stroke-linecap="round"/>
<polyline points="24.0,102.6 24.8,102.2 25.6,101.6 26.4,101.1 27.2,100.3 28.0,100.0 28.8,100.0 29.6,99.5 30.4,99.8 31.2,99.3 32.0,99.0 32.8,97.8 33.6,97.9 34.4,98.9 35.2,98.4 36.0,99.4 36.8,99.4 37.6,100.0 38.4,100.4 39.2,100.4 40.0,101.1 40.8,100.5 41.6,102.1 42.4,102.5 43.2,101.7 44.0,101.9 44.8,102.1 45.6,102.6 46.4,103.0 47.2,102.8 48.0,103.7 48.8,103.6 49.6,104.4 50.4,105.6 51.2,105.5 52.0,105.2 52.8,104.3 53.6,104.6 54.4,104.2 55.2,104.3 56.0,103.4 56.8,102.9 57.6,102.7 58.4,102.6 59.2,102.2 60.0,101.4 60.8,101.3 61.6,100.7 62.4,99.8 63.2,99.8 64.0,99.9 64.8,99.2 65.6,99.2 66.4,98.5 67.2,97.7 68.0,98.3 68.8,98.4 69.6,99.2 70.4,99.6 71.2,99.6 72.0,99.7 72.8,100.7 73.6,101.5 74.4,101.9 75.2,102.3 76.0,103.3 76.8,103.2 77.6,104.2 78.4,103.8 79.2,103.1 80.0,102.5 80.8,102.0 81.6,101.7 82.4,101.4 83.2,100.6 84.0,100.5 84.8,99.7 85.6,99.4 86.4,98.6 87.2,98.5 88.0,97.7 88.8,98.6 89.6,98.5 90.4,99.0 91.2,99.8 92.0,99.3 92.8,100.2 93.6,100.4 94.4,101.0 95.2,101.2 96.0,101.2 96.8,101.0 97.6,101.7 98.4,101.4 99.2,101.8 100.0,101.7 100.8,101.3 101.6,101.5 102.4,101.6 103.2,101.5 104.0,101.0 104.8,101.4 105.6,101.7 106.4,101.3 107.2,101.5 108.0,102.6 108.8,101.9 109.6,103.4 110.4,103.4 111.2,103.8 112.0,105.1 112.8,105.8 113.6,106.0 114.4,106.8 115.2,106.5 116.0,106.6 116.8,106.8 117.6,106.7 118.4,106.2 119.2,106.6 120.0,105.8 120.8,105.4 121.6,104.0 122.4,104.5 123.2,103.1 124.0,102.7 124.8,102.2 125.6,101.9 126.4,101.6 127.2,101.5 128.0,100.9 128.8,99.8 129.6,99.2 130.4,99.2 131.2,98.6 132.0,98.8 132.8,98.3 133.6,98.7 134.4,99.6 135.2,99.5 136.0,100.6 136.8,100.1 137.6,100.7 138.4,101.0 139.2,102.1 140.0,102.4 140.8,103.1 141.6,103.3 142.4,104.4 143.2,104.6 144.0,104.6 144.8,104.8 145.6,104.1 146.4,103.8 147.2,104.1 148.0,104.0 148.8,104.1 149.6,104.3 150.4,103.7 151.2,103.5 152.0,103.3 152.8,103.6 153.6,104.1 154.4,104.6 155.2,104.9 156.0,105.0 156.8,105.8 157.6,106.4 158.4,106.7 159.2,106.5 160.0,106.1 160.8,106.9 161.6,106.2 162.4,106.8 163.2,106.9 164.0,105.8 164.8,106.0 165.6,105.9 166.4,105.5 167.2,104.7 168.0,104.7 168.8,104.4 169.6,103.3 170.4,103.1 171.2,102.8 172.0,103.1 172.8,102.3 173.6,102.3 174.4,103.1 175.2,103.8 176.0,103.8 176.8,104.1 177.6,104.9 178.4,105.4 179.2,106.0 180.0,105.6 180.8,106.1 181.6,106.5 182.4,105.4 183.2,104.4 184.0,104.1 184.8,103.0 185.6,103.0 186.4,102.5 187.2,101.7 188.0,100.9 188.8,100.6 189.6,99.9 190.4,99.6 191.2,100.1 192.0,100.0 192.8,99.7 193.6,99.7 194.4,100.2 195.2,100.5 196.0,101.1 196.8,101.8 197.6,101.8 198.4,101.4 199.2,102.0 200.0,102.6 200.8,102.9 201.6,103.3 202.4,103.2 203.2,102.2 204.0,102.4 204.8,100.9 205.6,100.3 206.4,100.5 207.2,99.7 208.0,98.9 208.8,98.2 209.6,96.6 210.4,96.5 211.2,97.0 212.0,97.5 212.8,97.7 213.6,98.4 214.4,99.1 215.2,99.4 216.0,100.1 216.8,100.7 217.6,101.7 218.4,102.2 219.2,102.7 220.0,103.0 220.8,102.7 221.6,102.2 222.4,101.8 223.2,102.2 224.0,101.5 224.8,101.7 225.6,100.8 226.4,100.7 227.2,100.6 228.0,100.2 228.8,99.6 229.6,99.7 230.4,99.2 231.2,99.7 232.0,99.2 232.8,99.1 233.6,99.7 234.4,100.0 235.2,100.8 236.0,100.9 236.8,100.6 237.6,100.4 238.4,100.9 239.2,101.9 240.0,101.3 240.8,101.2 241.6,101.5 242.4,100.8 243.2,101.1 244.0,101.1 244.8,100.8 245.6,101.4 246.4,101.7 247.2,101.0 248.0,100.6 248.8,100.5 249.6,100.7 250.4,99.7 251.2,99.5 252.0,98.8 252.8,99.2 253.6,99.3 254.4,99.8 255.2,100.6 256.0,100.8 256.8,101.3 257.6,101.0 258.4,100.9 259.2,100.9 260.0,100.8 260.8,101.1 261.6,101.8 262.4,101.2 263.2,101.1 264.0,101.3 264.8,101.6 265.6,101.6 266.4,101.8 267.2,102.3 268.0,102.0 268.8,101.4 269.6,101.7 270.4,101.1 271.2,101.4 272.0,100.7 272.8,101.0 273.6,100.9 274.4,101.0 275.2,100.9 276.0,100.5 276.8,101.0 277.6,101.1 278.4,100.5 279.2,100.5 280.0,100.1 280.8,100.6 281.6,100.4 282.4,100.6 283.2,100.4 284.0,100.1 284.8,100.0 285.6,100.3 286.4,100.2 287.2,99.4 288.0,99.9 288.8,100.1 289.6,100.8 290.4,100.5 291.2,100.1 292.0,99.8 292.8,100.6 293.6,100.4 294.4,100.3 295.2,100.4 296.0,100.1 296.8,99.9 297.6,100.0 298.4,100.6 299.2,100.4 300.0,100.6 300.8,100.1 301.6,100.8 302.4,100.1 303.2,100.5 304.0,101.5 304.8,101.1 305.6,100.8 306.4,100.7 307.2,101.1 308.0,101.1 308.8,100.8 309.6,100.5 310.4,100.8 311.2,100.4 312.0,100.0 312.8,100.5 313.6,99.9 314.4,100.5 315.2,100.4 316.0,100.7 316.8,101.1 317.6,101.2 318.4,100.7 319.2,100.6 320.0,100.5 320.8,100.6 321.6,100.0" fill="none" stroke="#00ff00" stroke-width="1.7" stroke-linejoin="round" stroke-linecap="round"/>
<polyline points="24.0,125.0 24.8,124.0 25.6,124.7 26.4,123.9 27.2,124.3 28.0,123.9 28.8,122.8 29.6,122.9 30.4,123.1 31.2,122.5 32.0,122.2 32.8,122.1 33.6,122.4 34.4,123.1 35.2,123.3 36.0,124.3 36.8,124.1 37.6,123.7 38.4,123.8 39.2,124.9 40.0,125.3 40.8,126.1 41.6,126.8 42.4,126.9 43.2,127.8 44.0,128.4 44.8,128.8 45.6,128.2 46.4,128.0 47.2,127.6 48.0,127.0 48.8,126.2 49.6,125.9 50.4,124.3 51.2,124.4 52.0,123.8 52.8,123.2 53.6,122.4 54.4,122.4 55.2,122.0 56.0,121.9 56.8,122.9 57.6,122.9 58.4,122.4 59.2,122.3 60.0,122.7 60.8,123.3 61.6,122.7 62.4,123.2 63.2,123.4 64.0,124.2 64.8,124.6 65.6,125.5 66.4,125.9 67.2,125.9 68.0,126.0 68.8,127.1 69.6,126.1 70.4,125.8 71.2,125.8 72.0,125.3 72.8,124.6 73.6,124.4 74.4,124.4 75.2,123.7 76.0,124.2 76.8,123.1 77.6,122.4 78.4,121.9 79.2,122.8 80.0,122.5 80.8,123.4 81.6,124.1 82.4,124.3 83.2,124.9 84.0,125.3 84.8,125.7 85.6,125.4 86.4,126.2 87.2,126.4 88.0,125.6 88.8,125.7 89.6,125.2 90.4,125.4 91.2,124.5 92.0,123.8 92.8,123.6 93.6,122.6 94.4,122.8 95.2,122.4 96.0,122.7 96.8,121.8 97.6,121.1 98.4,121.7 99.2,121.3 100.0,121.3 100.8,122.1 101.6,122.1 102.4,123.1 103.2,123.4 104.0,123.1 104.8,123.3 105.6,122.9 106.4,123.5 107.2,124.1 108.0,123.7 108.8,124.6 109.6,124.8 110.4,124.6 111.2,125.3 112.0,124.7 112.8,125.7 113.6,126.3 114.4,127.1 115.2,127.0 116.0,126.6 116.8,126.3 117.6,126.5 118.4,124.5 119.2,124.5 120.0,123.7 120.8,123.9 121.6,123.5 122.4,122.1 123.2,122.0 124.0,121.7 124.8,120.8 125.6,121.2 126.4,121.0 127.2,120.8 128.0,120.4 128.8,120.4 129.6,121.3 130.4,122.3 131.2,122.1 132.0,123.1 132.8,122.9 133.6,123.1 134.4,124.4 135.2,124.3 136.0,125.0 136.8,125.1 137.6,124.7 138.4,124.5 139.2,125.4 140.0,124.8 140.8,125.3 141.6,125.5 142.4,125.8 143.2,125.2 144.0,124.2 144.8,124.1 145.6,122.5 146.4,122.0 147.2,121.8 148.0,121.8 148.8,120.5 149.6,121.5 150.4,121.1 151.2,121.2 152.0,120.9 152.8,121.8 153.6,122.7 154.4,122.2 155.2,122.6 156.0,123.0 156.8,123.8 157.6,123.6 158.4,123.1 159.2,123.5 160.0,124.1 160.8,124.3 161.6,124.2 162.4,124.9 163.2,125.2 164.0,125.8 164.8,125.7 165.6,125.4 166.4,125.7 167.2,126.0 168.0,125.9 168.8,124.6 169.6,125.1 170.4,124.6 171.2,123.3 172.0,123.6 172.8,124.0 173.6,124.3 174.4,125.0 175.2,124.1 176.0,123.5 176.8,123.4 177.6,123.7 178.4,123.5 179.2,123.6 180.0,124.0 180.8,123.1 181.6,123.1 182.4,123.3 183.2,122.4 184.0,122.8 184.8,123.0 185.6,123.2 186.4,122.6 187.2,122.8 188.0,122.9 188.8,123.3 189.6,123.4 190.4,124.1 191.2,124.9 192.0,124.6 192.8,123.7 193.6,124.4 194.4,124.4 195.2,124.5 196.0,124.8 196.8,124.8 197.6,124.7 198.4,124.6 199.2,124.8 200.0,125.7 200.8,124.5 201.6,124.9 202.4,124.5 203.2,124.2 204.0,124.4 204.8,124.4 205.6,124.6 206.4,124.4 207.2,123.4 208.0,123.8 208.8,123.5 209.6,123.7 210.4,124.1 211.2,123.9 212.0,123.3 212.8,123.3 213.6,124.0 214.4,123.5 215.2,123.7 216.0,124.6 216.8,124.6 217.6,124.7 218.4,124.3 219.2,124.3 220.0,124.7 220.8,124.3 221.6,124.5 222.4,124.6 223.2,125.5 224.0,125.2 224.8,124.9 225.6,125.0 226.4,124.4 227.2,125.5 228.0,124.7 228.8,125.9 229.6,125.3 230.4,125.3 231.2,125.4 232.0,125.0 232.8,125.6 233.6,125.6 234.4,126.1 235.2,125.6 236.0,125.7 236.8,126.1 237.6,126.0 238.4,125.6 239.2,126.0 240.0,126.3 240.8,125.0 241.6,124.9 242.4,124.6 243.2,124.6 244.0,125.0 244.8,124.4 245.6,124.3 246.4,124.7 247.2,124.7 248.0,124.3 248.8,124.5 249.6,123.5 250.4,123.7 251.2,123.5 252.0,123.2 252.8,123.5 253.6,122.9 254.4,123.2 255.2,123.2 256.0,123.8 256.8,123.4 257.6,123.5 258.4,123.1 259.2,123.8 260.0,123.8 260.8,124.9 261.6,124.2 262.4,124.4 263.2,124.6 264.0,125.0 264.8,125.4 265.6,124.8 266.4,125.1 267.2,126.2 268.0,125.2 268.8,125.0 269.6,125.0 270.4,124.0 271.2,123.6 272.0,124.0 272.8,124.0 273.6,124.3 274.4,124.1 275.2,123.0 276.0,123.3 276.8,122.6 277.6,122.6 278.4,122.2 279.2,121.9 280.0,121.9 280.8,121.9 281.6,122.5 282.4,122.1 283.2,122.0 284.0,122.4 284.8,122.0 285.6,122.1 286.4,122.0 287.2,121.7 288.0,121.6 288.8,122.2 289.6,121.6 290.4,122.3 291.2,123.1 292.0,122.8 292.8,122.7 293.6,123.1 294.4,123.7 295.2,123.8 296.0,123.6 296.8,123.2 297.6,123.2 298.4,123.2 299.2,123.0 300.0,123.0 300.8,123.3 301.6,123.4 302.4,123.8 303.2,123.2 304.0,123.8 304.8,123.9 305.6,123.9 306.4,123.5 307.2,123.7 308.0,123.5 308.8,123.5 309.6,123.2 310.4,123.5 311.2,123.8 312.0,124.3 312.8,124.1 313.6,124.4 314.4,124.5 315.2,124.0 316.0,124.7 316.8,125.1 317.6,125.0 318.4,125.0 319.2,124.2 320.0,124.1 320.8,124.2 321.6,123.2" fill="none" stroke="#00ff00" stroke-width="1.7" stroke-linejoin="round" stroke-linecap="round"/>
<polyline points="24.0,147.5 24.8,146.2 25.6,146.4 26.4,145.9 27.2,145.9 28.0,144.9 28.8,144.8 29.6,145.1 30.4,144.0 31.2,142.7 32.0,141.6 32.8,141.7 33.6,141.9 34.4,142.9 35.2,143.6 36.0,144.4 36.8,145.3 37.6,146.0 38.4,146.9 39.2,147.1 40.0,147.4 40.8,147.6 41.6,148.1 42.4,148.3 43.2,148.1 44.0,147.6 44.8,147.6 45.6,146.8 46.4,146.6 47.2,146.0 48.0,145.9 48.8,144.8 49.6,144.6 50.4,144.1 51.2,143.5 52.0,142.7 52.8,142.9 53.6,142.6 54.4,142.5 55.2,143.1 56.0,143.7 56.8,143.1 57.6,143.7 58.4,144.3 59.2,143.7 60.0,144.4 60.8,144.6 61.6,145.1 62.4,145.2 63.2,146.0 64.0,146.1 64.8,145.7 65.6,146.5 66.4,146.1 67.2,147.2 68.0,146.2 68.8,146.6 69.6,145.7 70.4,145.9 71.2,145.5 72.0,145.5 72.8,144.6 73.6,144.7 74.4,144.4 75.2,144.2 76.0,144.0 76.8,143.9 77.6,143.3 78.4,142.5 79.2,142.4 80.0,141.5 80.8,142.5 81.6,142.8 82.4,143.6 83.2,143.2 84.0,143.6 84.8,144.8 85.6,144.5 86.4,145.4 87.2,145.0 88.0,145.3 88.8,145.6 89.6,146.6 90.4,146.0 91.2,145.6 92.0,145.2 92.8,145.0 93.6,144.1 94.4,144.1 95.2,143.9 96.0,143.3 96.8,142.6 97.6,142.3 98.4,141.9 99.2,141.4 100.0,141.2 100.8,141.8 101.6,142.7 102.4,142.8 103.2,144.0 104.0,143.7 104.8,144.6 105.6,144.3 106.4,144.7 107.2,145.5 108.0,145.6 108.8,146.0 109.6,147.0 110.4,147.0 111.2,147.3 112.0,146.3 112.8,145.7 113.6,145.3 114.4,145.8 115.2,145.2 116.0,144.3 116.8,144.9 117.6,144.1 118.4,143.8 119.2,143.2 120.0,143.4 120.8,143.1 121.6,142.6 122.4,142.8 123.2,142.6 124.0,143.3 124.8,142.3 125.6,142.4 126.4,142.1 127.2,142.7 128.0,142.7 128.8,143.2 129.6,142.9 130.4,142.8 131.2,143.9 132.0,144.1 132.8,143.6 133.6,143.6 134.4,143.8 135.2,144.1 136.0,144.1 136.8,144.7 137.6,144.4 138.4,144.3 139.2,144.5 140.0,143.8 140.8,143.6 141.6,143.6 142.4,143.9 143.2,143.8 144.0,143.5 144.8,143.8 145.6,142.9 146.4,142.9 147.2,142.9 148.0,143.1 148.8,143.1 149.6,143.4 150.4,143.3 151.2,142.9 152.0,142.6 152.8,143.0 153.6,142.2 154.4,142.8 155.2,142.8 156.0,142.8 156.8,142.8 157.6,142.7 158.4,143.2 159.2,143.6 160.0,143.8 160.8,143.8 161.6,144.2 162.4,144.3 163.2,144.8 164.0,144.2 164.8,144.8 165.6,144.6 166.4,145.2 167.2,145.0 168.0,144.2 168.8,144.7 169.6,143.8 170.4,143.7 171.2,143.6 172.0,143.9 172.8,144.1 173.6,144.0 174.4,144.4 175.2,143.8 176.0,143.9 176.8,143.8 177.6,143.8 178.4,143.0 179.2,143.4 180.0,143.4 180.8,142.8 181.6,142.8 182.4,143.3 183.2,143.4 184.0,143.9 184.8,143.0 185.6,143.0 186.4,143.6 187.2,143.8 188.0,143.4 188.8,143.8 189.6,143.8 190.4,143.6 191.2,143.1 192.0,144.0 192.8,143.7 193.6,144.4 194.4,143.9 195.2,144.3 196.0,144.6 196.8,144.6 197.6,144.6 198.4,144.3 199.2,145.2 200.0,144.9 200.8,144.5 201.6,144.4 202.4,144.7 203.2,144.6 204.0,144.5 204.8,144.9 205.6,145.0 206.4,144.3 207.2,144.5 208.0,144.3 208.8,145.0 209.6,145.6 210.4,144.5 211.2,144.6 212.0,144.5 212.8,144.2 213.6,144.6 214.4,143.7 215.2,144.3 216.0,144.5 216.8,144.6 217.6,144.4 218.4,145.4 219.2,145.3 220.0,144.7 220.8,144.8 221.6,144.1 222.4,143.8 223.2,144.7 224.0,143.9 224.8,144.4 225.6,144.0 226.4,144.4 227.2,143.5 228.0,143.8 228.8,144.3 229.6,144.1 230.4,143.8 231.2,144.2 232.0,144.2 232.8,142.7 233.6,143.0 234.4,142.5 235.2,142.6 236.0,142.3 236.8,143.0 237.6,142.4 238.4,142.6 239.2,142.4 240.0,142.1 240.8,142.5 241.6,142.1 242.4,143.4 243.2,142.7 244.0,143.1 244.8,143.5 245.6,143.1 246.4,143.3 247.2,144.0 248.0,144.0 248.8,144.3 249.6,144.1 250.4,143.8 251.2,144.7 252.0,144.4 252.8,144.1 253.6,144.5 254.4,144.6 255.2,144.3 256.0,144.6 256.8,144.5 257.6,145.1 258.4,145.1 259.2,145.7 260.0,145.4 260.8,145.0 261.6,144.5 262.4,144.9 263.2,145.0 264.0,145.4 264.8,145.0 265.6,144.9 266.4,144.8 267.2,144.6 268.0,145.3 268.8,144.5 269.6,143.7 270.4,144.1 271.2,143.4 272.0,144.0 272.8,143.9 273.6,144.6 274.4,144.7 275.2,143.8 276.0,144.0 276.8,144.1 277.6,143.1 278.4,143.5 279.2,142.4 280.0,142.5 280.8,143.3 281.6,143.3 282.4,143.4 283.2,143.1 284.0,143.6 284.8,143.9 285.6,143.7 286.4,143.6 287.2,143.9 288.0,143.4 288.8,144.3 289.6,143.4 290.4,143.7 291.2,144.1 292.0,144.0 292.8,143.6 293.6,144.1 294.4,144.2 295.2,143.9 296.0,144.5 296.8,145.1 297.6,145.5 298.4,144.9 299.2,144.9 300.0,145.4 300.8,144.9 301.6,144.9 302.4,144.3 303.2,145.7 304.0,144.9 304.8,145.4 305.6,145.3 306.4,145.1 307.2,144.5 308.0,145.0 308.8,144.1 309.6,144.2 310.4,144.3 311.2,143.4 312.0,142.9 312.8,143.6 313.6,143.6 314.4,143.5 315.2,142.7 316.0,142.9 316.8,143.4 317.6,143.3 318.4,143.3 319.2,143.0 320.0,143.2 320.8,143.3 321.6,143.0" fill="none" stroke="#00ff00" stroke-width="1.7" stroke-linejoin="round" stroke-linecap="round"/>
<polyline points="24.0,166.7 24.8,166.1 25.6,166.1 26.4,167.1 27.2,167.9 28.0,167.6 28.8,168.5 29.6,168.7 30.4,168.4 31.2,167.8 32.0,166.9 32.8,167.3 33.6,166.5 34.4,166.8 35.2,166.1 36.0,165.9 36.8,165.1 37.6,165.2 38.4,165.5 39.2,165.3 40.0,164.9 40.8,164.6 41.6,165.1 42.4,165.6 43.2,165.3 44.0,166.6 44.8,166.9 45.6,167.5 46.4,168.5 47.2,168.0 48.0,168.8 48.8,168.4 49.6,168.9 50.4,168.0 51.2,168.6 52.0,168.5 52.8,168.5 53.6,168.7 54.4,168.5 55.2,168.3 56.0,167.7 56.8,166.5 57.6,166.4 58.4,166.4 59.2,166.2 60.0,166.1 60.8,165.6 61.6,165.8 62.4,165.2 63.2,165.7 64.0,164.7 64.8,165.0 65.6,164.8 66.4,164.9 67.2,165.8 68.0,166.3 68.8,165.7 69.6,166.6 70.4,167.1 71.2,167.8 72.0,167.9 72.8,168.6 73.6,168.6 74.4,168.0 75.2,168.4 76.0,168.8 76.8,168.3 77.6,168.9 78.4,168.9 79.2,168.4 80.0,168.7 80.8,168.1 81.6,167.2 82.4,166.6 83.2,166.5 84.0,166.0 84.8,165.2 85.6,165.4 86.4,165.7 87.2,165.5 88.0,165.6 88.8,165.6 89.6,165.6 90.4,165.2 91.2,165.4 92.0,165.7 92.8,165.9 93.6,166.6 94.4,167.1 95.2,167.9 96.0,168.1 96.8,168.8 97.6,168.5 98.4,168.3 99.2,168.1 100.0,168.5 100.8,168.8 101.6,168.4 102.4,168.8 103.2,168.3 104.0,168.0 104.8,167.5 105.6,166.6 106.4,166.8 107.2,166.4 108.0,165.2 108.8,165.4 109.6,165.9 110.4,165.9 111.2,165.3 112.0,165.8 112.8,165.6 113.6,165.8 114.4,165.7 115.2,166.0 116.0,166.6 116.8,166.4 117.6,167.3 118.4,167.6 119.2,167.9 120.0,167.8 120.8,168.0 121.6,167.6 122.4,167.3 123.2,167.6 124.0,166.9 124.8,167.1 125.6,167.9 126.4,167.7 127.2,167.8 128.0,167.4 128.8,167.2 129.6,167.6 130.4,167.6 131.2,167.3 132.0,167.8 132.8,167.4 133.6,167.5 134.4,167.8 135.2,168.0 136.0,168.8 136.8,168.5 137.6,168.4 138.4,167.8 139.2,167.7 140.0,167.8 140.8,168.0 141.6,167.4 142.4,168.6 143.2,168.3 144.0,168.0 144.8,167.8 145.6,167.7 146.4,167.7 147.2,168.3 148.0,167.1 148.8,167.2 149.6,167.7 150.4,167.9 151.2,168.0 152.0,168.1 152.8,167.6 153.6,167.5 154.4,167.8 155.2,168.2 156.0,167.5 156.8,167.6 157.6,167.3 158.4,167.4 159.2,167.8 160.0,167.7 160.8,167.2 161.6,167.4 162.4,168.0 163.2,168.4 164.0,168.0 164.8,168.3 165.6,168.4 166.4,168.2 167.2,168.1 168.0,167.8 168.8,168.4 169.6,168.0 170.4,168.0 171.2,167.3 172.0,167.4 172.8,168.3 173.6,168.1 174.4,168.3 175.2,167.5 176.0,167.0 176.8,166.9 177.6,165.9 178.4,166.4 179.2,167.0 180.0,166.4 180.8,167.0 181.6,166.9 182.4,167.2 183.2,168.0 184.0,167.4 184.8,167.9 185.6,167.2 186.4,166.7 187.2,167.3 188.0,166.7 188.8,167.5 189.6,167.6 190.4,167.7 191.2,167.9 192.0,167.7 192.8,167.8 193.6,168.6 194.4,167.9 195.2,167.7 196.0,167.7 196.8,168.0 197.6,167.8 198.4,167.3 199.2,167.1 200.0,167.3 200.8,168.1 201.6,168.0 202.4,167.7 203.2,167.0 204.0,167.3 204.8,167.7 205.6,167.5 206.4,167.5 207.2,167.3 208.0,167.4 208.8,167.5 209.6,167.4 210.4,166.9 211.2,166.8 212.0,166.3 212.8,167.0 213.6,166.7 214.4,166.5 215.2,166.8 216.0,166.5 216.8,167.2 217.6,166.9 218.4,167.0 219.2,167.2 220.0,166.5 220.8,167.3 221.6,166.9 222.4,166.7 223.2,167.3 224.0,166.5 224.8,166.4 225.6,166.7 226.4,166.4 227.2,166.6 228.0,166.8 228.8,166.9 229.6,166.6 230.4,166.2 231.2,166.6 232.0,167.8 232.8,167.1 233.6,167.5 234.4,167.7 235.2,168.2 236.0,167.9 236.8,167.8 237.6,167.8 238.4,168.2 239.2,167.9 240.0,167.9 240.8,168.3 241.6,168.6 242.4,168.8 243.2,168.5 244.0,169.4 244.8,169.1 245.6,169.4 246.4,169.0 247.2,169.3 248.0,168.6 248.8,169.0 249.6,169.0 250.4,169.3 251.2,168.7 252.0,169.3 252.8,168.8 253.6,168.6 254.4,168.4 255.2,168.8 256.0,168.2 256.8,167.8 257.6,168.5 258.4,168.1 259.2,167.6 260.0,167.1 260.8,166.9 261.6,166.5 262.4,166.9 263.2,167.6 264.0,167.6 264.8,168.2 265.6,167.4 266.4,167.2 267.2,167.7 268.0,167.6 268.8,167.4 269.6,167.6 270.4,167.7 271.2,168.1 272.0,168.1 272.8,167.6 273.6,167.5 274.4,167.3 275.2,167.2 276.0,166.8 276.8,166.5 277.6,167.2 278.4,166.9 279.2,166.4 280.0,166.5 280.8,166.8 281.6,166.3 282.4,166.7 283.2,166.7 284.0,167.5 284.8,166.9 285.6,167.5 286.4,167.4 287.2,168.3 288.0,167.9 288.8,168.0 289.6,167.2 290.4,167.4 291.2,167.7 292.0,168.2 292.8,168.2 293.6,167.7 294.4,167.4 295.2,167.3 296.0,166.9 296.8,166.8 297.6,166.9 298.4,167.9 299.2,167.7 300.0,167.2 300.8,166.3 301.6,166.7 302.4,167.1 303.2,167.6 304.0,166.8 304.8,167.1 305.6,167.3 306.4,167.2 307.2,167.2 308.0,166.9 308.8,167.4 309.6,168.4 310.4,167.4 311.2,167.9 312.0,167.2 312.8,167.2 313.6,167.6 314.4,167.2 315.2,167.5 316.0,167.2 316.8,167.5 317.6,167.7 318.4,168.4 319.2,168.6 320.0,167.8 320.8,168.3 321.6,167.8" fill="none" stroke="#00ff00" stroke-width="1.7" stroke-linejoin="round" stroke-linecap="round"/>
<polyline points="24.0,186.6 24.8,185.8 25.6,185.2 26.4,185.2 27.2,184.2 28.0,184.8 28.8,184.9 29.6,185.0 30.4,186.1 31.2,186.4 32.0,187.4 32.8,187.9 33.6,188.7 34.4,189.6 35.2,189.8 36.0,190.0 36.8,189.5 37.6,189.6 38.4,188.9 39.2,188.8 40.0,187.0 40.8,186.6 41.6,185.7 42.4,184.9 43.2,183.8 44.0,183.4 44.8,183.6 45.6,183.4 46.4,184.4 47.2,184.5 48.0,184.5 48.8,184.3 49.6,185.1 50.4,185.9 51.2,186.0 52.0,187.0 52.8,187.7 53.6,187.8 54.4,188.1 55.2,188.3 56.0,187.8 56.8,188.4 57.6,188.6 58.4,188.8 59.2,188.7 60.0,188.0 60.8,187.3 61.6,186.3 62.4,185.7 63.2,185.3 64.0,184.9 64.8,185.7 65.6,185.0 66.4,185.4 67.2,185.2 68.0,185.8 68.8,186.0 69.6,186.7 70.4,187.1 71.2,188.4 72.0,188.7 72.8,188.5 73.6,188.8 74.4,188.7 75.2,187.8 76.0,187.5 76.8,187.4 77.6,186.7 78.4,185.5 79.2,185.2 80.0,184.8 80.8,184.3 81.6,183.9 82.4,183.2 83.2,182.8 84.0,183.1 84.8,184.2 85.6,183.9 86.4,184.4 87.2,184.8 88.0,185.1 88.8,185.1 89.6,186.7 90.4,187.4 91.2,187.8 92.0,189.0 92.8,189.6 93.6,190.1 94.4,189.8 95.2,188.6 96.0,188.6 96.8,188.1 97.6,187.6 98.4,187.6 99.2,187.2 100.0,186.2 100.8,185.9 101.6,185.2 102.4,184.4 103.2,183.8 104.0,183.6 104.8,183.2 105.6,184.1 106.4,183.9 107.2,185.7 108.0,185.8 108.8,186.2 109.6,186.5 110.4,187.6 111.2,188.2 112.0,188.6 112.8,189.2 113.6,189.6 114.4,191.0 115.2,190.4 116.0,189.6 116.8,188.7 117.6,188.1 118.4,186.6 119.2,187.0 120.0,186.0 120.8,185.4 121.6,184.5 122.4,183.5 123.2,183.3 124.0,183.0 124.8,183.7 125.6,184.2 126.4,185.5 127.2,186.8 128.0,187.2 128.8,187.1 129.6,187.6 130.4,188.5 131.2,187.4 132.0,188.7 132.8,188.0 133.6,188.3 134.4,188.8 135.2,188.7 136.0,189.4 136.8,189.8 137.6,189.2 138.4,188.8 139.2,188.7 140.0,187.7 140.8,188.0 141.6,187.1 142.4,186.3 143.2,185.5 144.0,185.1 144.8,185.4 145.6,185.3 146.4,185.1 147.2,185.3 148.0,186.1 148.8,185.8 149.6,186.8 150.4,186.9 151.2,187.2 152.0,188.6 152.8,189.2 153.6,189.7 154.4,189.3 155.2,189.5 156.0,188.7 156.8,189.0 157.6,188.4 158.4,188.3 159.2,188.5 160.0,187.2 160.8,187.3 161.6,186.3 162.4,185.9 163.2,186.0 164.0,185.3 164.8,184.7 165.6,184.9 166.4,185.3 167.2,186.0 168.0,186.4 168.8,186.9 169.6,187.2 170.4,188.2 171.2,186.9 172.0,186.6 172.8,186.6 173.6,186.2 174.4,185.8 175.2,185.7 176.0,185.4 176.8,184.8 177.6,184.7 178.4,184.6 179.2,184.7 180.0,184.8 180.8,184.9 181.6,184.6 182.4,183.8 183.2,183.7 184.0,184.0 184.8,184.6 185.6,184.7 186.4,185.4 187.2,185.5 188.0,185.9 188.8,186.5 189.6,187.1 190.4,186.9 191.2,187.6 192.0,188.0 192.8,188.5 193.6,188.6 194.4,189.6 195.2,189.6 196.0,188.7 196.8,188.8 197.6,188.5 198.4,187.7 199.2,187.7 200.0,187.8 200.8,187.6 201.6,186.9 202.4,186.5 203.2,185.3 204.0,185.2 204.8,185.6 205.6,185.1 206.4,186.1 207.2,186.4 208.0,186.7 208.8,186.8 209.6,187.1 210.4,186.9 211.2,187.5 212.0,187.6 212.8,188.8 213.6,188.3 214.4,188.8 215.2,188.3 216.0,187.5 216.8,187.7 217.6,186.9 218.4,186.2 219.2,185.5 220.0,185.7 220.8,185.0 221.6,184.7 222.4,185.1 223.2,185.2 224.0,183.8 224.8,185.2 225.6,185.0 226.4,185.4 227.2,185.9 228.0,187.5 228.8,188.2 229.6,188.4 230.4,188.7 231.2,188.8 232.0,188.4 232.8,188.9 233.6,188.9 234.4,189.2 235.2,189.0 236.0,188.5 236.8,187.6 237.6,187.1 238.4,186.7 239.2,186.1 240.0,186.4 240.8,185.2 241.6,185.7 242.4,185.1 243.2,185.6 244.0,185.4 244.8,184.8 245.6,185.7 246.4,185.1 247.2,186.2 248.0,186.1 248.8,187.0 249.6,187.5 250.4,187.1 251.2,187.2 252.0,187.5 252.8,187.6 253.6,187.8 254.4,187.9 255.2,188.3 256.0,188.0 256.8,187.6 257.6,187.2 258.4,187.0 259.2,186.2 260.0,185.9 260.8,185.4 261.6,185.2 262.4,185.0 263.2,184.9 264.0,184.8 264.8,185.3 265.6,185.3 266.4,185.3 267.2,185.3 268.0,186.3 268.8,186.4 269.6,187.0 270.4,187.5 271.2,187.8 272.0,188.4 272.8,188.8 273.6,188.8 274.4,188.7 275.2,189.2 276.0,189.0 276.8,188.2 277.6,187.8 278.4,187.0 279.2,186.6 280.0,186.5 280.8,185.9 281.6,185.5 282.4,185.2 283.2,184.8 284.0,184.3 284.8,184.2 285.6,184.5 286.4,185.3 287.2,185.4 288.0,186.2 288.8,186.6 289.6,187.3 290.4,187.6 291.2,187.9 292.0,188.5 292.8,188.7 293.6,189.0 294.4,189.6 295.2,188.7 296.0,188.1 296.8,187.7 297.6,187.6 298.4,187.6 299.2,187.4 300.0,187.2 300.8,186.6 301.6,185.2 302.4,185.7 303.2,185.2 304.0,184.8 304.8,184.5 305.6,184.4 306.4,185.3 307.2,186.0 308.0,186.3 308.8,187.0 309.6,186.9 310.4,187.6 311.2,187.9 312.0,188.2 312.8,188.7 313.6,189.4 314.4,189.0 315.2,189.6 316.0,188.3 316.8,187.7 317.6,188.3 318.4,187.1 319.2,187.2 320.0,186.8 320.8,186.4 321.6,186.5" fill="none" stroke="#00ff00" stroke-width="1.7" stroke-linejoin="round" stroke-linecap="round"/>
<polyline points="24.0,40.3 24.8,40.3 25.6,40.2 26.4,40.5 27.2,40.6 28.0,40.7 28.8,40.6 29.6,40.7 30.4,40.6 31.2,40.8 32.0,40.7 32.8,40.8 33.6,40.7 34.4,40.9 35.2,41.0 36.0,41.0 36.8,41.1 37.6,40.8 38.4,41.2 39.2,41.1 40.0,40.9 40.8,41.3 41.6,41.2 42.4,41.2 43.2,41.4 44.0,41.3 44.8,41.5 45.6,41.5 46.4,41.4 47.2,41.4 48.0,41.4 48.8,41.0 49.6,41.0 50.4,41.1 51.2,41.0 52.0,41.0 52.8,40.9 53.6,41.1 54.4,41.0 55.2,40.9 56.0,40.7 56.8,40.9 57.6,40.5 58.4,40.6 59.2,40.6 60.0,40.9 60.8,41.1 61.6,41.0 62.4,41.0 63.2,41.1 64.0,40.8 64.8,40.7 65.6,40.9 66.4,41.0 67.2,40.9 68.0,40.6 68.8,40.7 69.6,40.8 70.4,40.9 71.2,40.8 72.0,40.7 72.8,40.8 73.6,40.6 74.4,40.7 75.2,40.7 76.0,40.6 76.8,40.6 77.6,40.7 78.4,40.6 79.2,40.5 80.0,40.5 80.8,40.4 81.6,40.4 82.4,40.6 83.2,40.7 84.0,40.8 84.8,40.6 85.6,40.8 86.4,40.9 87.2,40.8 88.0,40.9 88.8,40.8 89.6,40.9 90.4,40.7 91.2,40.6 92.0,40.8 92.8,40.9 93.6,40.7 94.4,40.7 95.2,40.8 96.0,40.6 96.8,40.5 97.6,40.8 98.4,40.6 99.2,40.7 100.0,40.5 100.8,40.5 101.6,40.5 102.4,40.5 103.2,40.6 104.0,40.6 104.8,40.7 105.6,40.7 106.4,40.7 107.2,40.9 108.0,41.0 108.8,40.9 109.6,40.9 110.4,41.0 111.2,40.9 112.0,40.7 112.8,40.8 113.6,40.6 114.4,40.8 115.2,40.5 116.0,40.5 116.8,40.5 117.6,40.4 118.4,40.6 119.2,40.7 120.0,40.7 120.8,40.6 121.6,40.3 122.4,40.2 123.2,40.1 124.0,40.3 124.8,40.4 125.6,40.4 126.4,40.3 127.2,40.5 128.0,40.5 128.8,40.7 129.6,40.8 130.4,40.7 131.2,40.8 132.0,40.7 132.8,40.5 133.6,40.6 134.4,40.7 135.2,40.4 136.0,40.5 136.8,40.4 137.6,40.9 138.4,40.9 139.2,40.9 140.0,40.9 140.8,40.9 141.6,40.7 142.4,41.1 143.2,41.2 144.0,41.1 144.8,41.2 145.6,41.2 146.4,41.1 147.2,41.2 148.0,41.2 148.8,41.3 149.6,41.3 150.4,41.6 151.2,41.6 152.0,41.7 152.8,41.6 153.6,41.5 154.4,41.4 155.2,41.7 156.0,41.7 156.8,41.7 157.6,41.8 158.4,41.8 159.2,41.6 160.0,41.6 160.8,41.5 161.6,41.6 162.4,41.7 163.2,41.7 164.0,41.9 164.8,41.7 165.6,41.8 166.4,41.8 167.2,41.6 168.0,41.6 168.8,41.8 169.6,41.7 170.4,41.8 171.2,41.6 172.0,41.6 172.8,41.4 173.6,41.4 174.4,41.3 175.2,41.3 176.0,41.6 176.8,41.3 177.6,41.4 178.4,41.4 179.2,41.2 180.0,41.3 180.8,41.1 181.6,41.2 182.4,41.0 183.2,40.8 184.0,41.0 184.8,41.0 185.6,41.0 186.4,41.0 187.2,40.9 188.0,41.0 188.8,41.0 189.6,41.2 190.4,41.2 191.2,41.0 192.0,41.0 192.8,41.1 193.6,41.2 194.4,41.2 195.2,41.2 196.0,41.1 196.8,41.1 197.6,40.9 198.4,41.2 199.2,41.1 200.0,41.1 200.8,40.9 201.6,41.2 202.4,41.0 203.2,41.1 204.0,41.0 204.8,41.0 205.6,40.8 206.4,40.7 207.2,40.9 208.0,40.8 208.8,41.0 209.6,40.6 210.4,40.9 211.2,40.8 212.0,40.9 212.8,40.7 213.6,40.9 214.4,40.8 215.2,40.9 216.0,40.6 216.8,40.6 217.6,40.7 218.4,40.8 219.2,40.7 220.0,40.4 220.8,40.5 221.6,40.5 222.4,40.5 223.2,40.6 224.0,40.7 224.8,40.7 225.6,40.7 226.4,40.7 227.2,41.1 228.0,40.8 228.8,40.8 229.6,40.7 230.4,40.8 231.2,40.7 232.0,40.8 232.8,40.6 233.6,40.8 234.4,40.7 235.2,41.0 236.0,40.7 236.8,40.7 237.6,40.8 238.4,40.8 239.2,40.9 240.0,40.9 240.8,41.0 241.6,40.9 242.4,41.0 243.2,41.2 244.0,41.1 244.8,41.2 245.6,41.5 246.4,41.5 247.2,41.4 248.0,41.3 248.8,41.3 249.6,41.0 250.4,41.3 251.2,41.2 252.0,41.3 252.8,41.3 253.6,41.4 254.4,41.2 255.2,41.3 256.0,41.3 256.8,41.2 257.6,41.4 258.4,41.4 259.2,41.4 260.0,41.2 260.8,41.4 261.6,41.4 262.4,41.5 263.2,41.4 264.0,41.5 264.8,41.3 265.6,41.3 266.4,41.7 267.2,41.6 268.0,41.7 268.8,41.6 269.6,41.7 270.4,41.8 271.2,41.7 272.0,42.0 272.8,41.9 273.6,41.9 274.4,42.2 275.2,42.2 276.0,42.0 276.8,42.2 277.6,41.9 278.4,41.9 279.2,42.0 280.0,41.9 280.8,42.1 281.6,41.9 282.4,42.0 283.2,42.1 284.0,42.4 284.8,42.2 285.6,42.2 286.4,42.1 287.2,43.2 288.0,43.3 288.8,43.2 289.6,43.2 290.4,43.7 291.2,43.2 292.0,43.3 292.8,43.4 293.6,43.4 294.4,43.4 295.2,43.3 296.0,43.5 296.8,43.4 297.6,43.3 298.4,43.5 299.2,43.6 300.0,43.8 300.8,43.7 301.6,43.7 302.4,43.8 303.2,43.8 304.0,44.0 304.8,43.7 305.6,43.5 306.4,43.5 307.2,43.7 308.0,43.5 308.8,43.6 309.6,43.4 310.4,43.5 311.2,43.7 312.0,43.7 312.8,43.4 313.6,43.5 314.4,43.5 315.2,43.5 316.0,43.6 316.8,43.5 317.6,43.6 318.4,43.5 319.2,43.3 320.0,43.5 320.8,43.5 321.6,43.4" fill="none" stroke="#000000" stroke-width="1.65" stroke-linejoin="round" stroke-linecap="round"/>
<polyline points="24.0,53.5 24.8,53.4 25.6,53.5 26.4,53.5 27.2,54.0 28.0,55.2 28.8,55.3 29.6,55.1 30.4,55.1 31.2,55.3 32.0,55.1 32.8,55.4 33.6,54.9 34.4,55.2 35.2,55.3 36.0,55.5 36.8,54.9 37.6,55.2 38.4,55.1 39.2,55.4 40.0,55.1 40.8,54.9 41.6,55.1 42.4,55.2 43.2,55.6 44.0,55.6 44.8,55.6 45.6,55.5 46.4,55.3 47.2,55.5 48.0,55.7 48.8,55.7 49.6,55.7 50.4,55.6 51.2,55.4 52.0,55.6 52.8,55.6 53.6,55.4 54.4,55.2 55.2,55.4 56.0,55.4 56.8,55.5 57.6,55.6 58.4,55.6 59.2,55.8 60.0,55.9 60.8,56.1 61.6,56.3 62.4,56.2 63.2,56.4 64.0,56.2 64.8,56.2 65.6,56.2 66.4,56.3 67.2,56.3 68.0,56.2 68.8,56.4 69.6,56.2 70.4,56.4 71.2,56.3 72.0,56.2 72.8,56.4 73.6,56.2 74.4,56.3 75.2,56.4 76.0,56.3 76.8,56.2 77.6,56.5 78.4,56.3 79.2,56.7 80.0,56.6 80.8,56.4 81.6,56.6 82.4,56.5 83.2,56.7 84.0,56.7 84.8,56.6 85.6,56.6 86.4,56.6 87.2,56.4 88.0,56.9 88.8,57.0 89.6,56.8 90.4,57.1 91.2,57.1 92.0,57.1 92.8,57.2 93.6,57.1 94.4,57.1 95.2,57.2 96.0,57.2 96.8,57.3 97.6,57.5 98.4,57.5 99.2,57.5 100.0,57.4 100.8,57.6 101.6,57.3 102.4,57.4 103.2,57.5 104.0,57.3 104.8,57.4 105.6,57.1 106.4,57.1 107.2,56.7 108.0,56.9 108.8,56.8 109.6,56.7 110.4,56.7 111.2,56.6 112.0,56.9 112.8,56.8 113.6,56.9 114.4,57.2 115.2,57.2 116.0,57.0 116.8,56.8 117.6,56.8 118.4,57.0 119.2,56.9 120.0,57.1 120.8,57.0 121.6,57.0 122.4,56.8 123.2,56.8 124.0,56.7 124.8,56.8 125.6,56.8 126.4,56.7 127.2,57.0 128.0,57.0 128.8,57.1 129.6,57.0 130.4,57.2 131.2,57.2 132.0,57.2 132.8,57.4 133.6,57.5 134.4,57.6 135.2,57.4 136.0,57.3 136.8,57.3 137.6,57.7 138.4,57.8 139.2,57.5 140.0,57.3 140.8,57.7 141.6,57.7 142.4,57.9 143.2,57.8 144.0,57.8 144.8,58.0 145.6,57.8 146.4,57.9 147.2,57.8 148.0,57.7 148.8,57.7 149.6,57.9 150.4,57.6 151.2,58.0 152.0,57.9 152.8,57.8 153.6,58.2 154.4,58.2 155.2,58.2 156.0,58.3 156.8,58.4 157.6,58.4 158.4,58.8 159.2,58.6 160.0,58.7 160.8,58.8 161.6,58.7 162.4,58.8 163.2,58.8 164.0,58.8 164.8,58.7 165.6,59.0 166.4,59.0 167.2,58.8 168.0,59.0 168.8,59.2 169.6,59.0 170.4,59.1 171.2,59.1 172.0,59.2 172.8,58.8 173.6,59.0 174.4,59.0 175.2,58.7 176.0,58.9 176.8,58.7 177.6,58.7 178.4,58.8 179.2,58.6 180.0,58.6 180.8,58.7 181.6,58.7 182.4,58.9 183.2,59.1 184.0,59.0 184.8,58.9 185.6,58.8 186.4,58.7 187.2,58.7 188.0,58.7 188.8,58.5 189.6,58.9 190.4,58.7 191.2,58.6 192.0,58.9 192.8,58.8 193.6,58.7 194.4,58.6 195.2,58.4 196.0,58.3 196.8,58.3 197.6,58.2 198.4,58.4 199.2,58.3 200.0,58.4 200.8,58.2 201.6,58.5 202.4,58.3 203.2,58.1 204.0,58.3 204.8,58.1 205.6,58.2 206.4,58.3 207.2,57.8 208.0,57.6 208.8,57.6 209.6,57.7 210.4,57.9 211.2,57.8 212.0,57.9 212.8,58.0 213.6,57.8 214.4,57.6 215.2,57.6 216.0,57.6 216.8,57.3 217.6,57.2 218.4,57.4 219.2,57.3 220.0,57.4 220.8,57.1 221.6,57.0 222.4,57.1 223.2,57.0 224.0,57.3 224.8,57.1 225.6,57.0 226.4,57.0 227.2,57.0 228.0,57.2 228.8,57.3 229.6,57.4 230.4,57.2 231.2,57.2 232.0,57.1 232.8,57.3 233.6,57.2 234.4,57.2 235.2,57.3 236.0,57.0 236.8,57.1 237.6,57.2 238.4,57.3 239.2,57.4 240.0,57.2 240.8,57.2 241.6,57.5 242.4,57.4 243.2,57.3 244.0,57.3 244.8,57.5 245.6,57.5 246.4,57.2 247.2,57.4 248.0,57.4 248.8,57.5 249.6,57.4 250.4,57.3 251.2,57.1 252.0,57.2 252.8,57.5 253.6,57.6 254.4,57.6 255.2,57.6 256.0,57.6 256.8,57.5 257.6,57.4 258.4,57.7 259.2,57.7 260.0,57.6 260.8,57.7 261.6,57.4 262.4,57.3 263.2,57.4 264.0,57.2 264.8,57.1 265.6,57.0 266.4,56.8 267.2,56.8 268.0,56.6 268.8,56.6 269.6,56.5 270.4,56.8 271.2,56.8 272.0,56.6 272.8,56.5 273.6,56.6 274.4,56.7 275.2,56.7 276.0,56.7 276.8,56.8 277.6,56.8 278.4,57.0 279.2,57.0 280.0,56.9 280.8,56.8 281.6,56.7 282.4,56.7 283.2,56.8 284.0,56.9 284.8,56.9 285.6,56.7 286.4,57.1 287.2,57.1 288.0,57.0 288.8,56.9 289.6,57.1 290.4,57.1 291.2,57.2 292.0,57.2 292.8,57.3 293.6,57.3 294.4,57.2 295.2,57.2 296.0,57.1 296.8,57.5 297.6,57.4 298.4,57.6 299.2,57.0 300.0,57.2 300.8,57.2 301.6,57.1 302.4,57.2 303.2,57.2 304.0,57.4 304.8,57.4 305.6,57.2 306.4,56.9 307.2,56.9 308.0,56.6 308.8,56.9 309.6,56.8 310.4,56.7 311.2,56.8 312.0,56.9 312.8,56.9 313.6,57.0 314.4,57.1 315.2,56.8 316.0,56.9 316.8,56.8 317.6,56.9 318.4,56.7 319.2,56.7 320.0,56.7 320.8,56.8 321.6,56.8" fill="none" stroke="#000000" stroke-width="1.65" stroke-linejoin="round" stroke-linecap="round"/>
<polyline points="24.0,80.5 24.8,80.7 25.6,80.8 26.4,80.7 27.2,80.4 28.0,80.6 28.8,80.5 29.6,80.7 30.4,80.8 31.2,80.6 32.0,80.5 32.8,80.4 33.6,80.4 34.4,80.5 35.2,80.4 36.0,80.5 36.8,80.4 37.6,80.5 38.4,80.3 39.2,80.6 40.0,80.4 40.8,80.6 41.6,80.4 42.4,80.4 43.2,80.6 44.0,80.5 44.8,80.7 45.6,80.8 46.4,80.7 47.2,80.7 48.0,81.0 48.8,81.0 49.6,80.9 50.4,80.9 51.2,80.8 52.0,80.8 52.8,80.7 53.6,81.0 54.4,80.8 55.2,80.8 56.0,80.4 56.8,80.2 57.6,80.2 58.4,80.3 59.2,80.3 60.0,80.3 60.8,80.2 61.6,80.3 62.4,80.3 63.2,80.2 64.0,80.3 64.8,80.5 65.6,80.4 66.4,80.4 67.2,80.5 68.0,80.5 68.8,80.6 69.6,80.3 70.4,80.4 71.2,80.2 72.0,80.2 72.8,80.5 73.6,80.5 74.4,80.3 75.2,80.2 76.0,80.3 76.8,80.0 77.6,80.4 78.4,80.4 79.2,79.8 80.0,79.9 80.8,79.6 81.6,79.7 82.4,79.3 83.2,79.4 84.0,79.4 84.8,79.4 85.6,79.0 86.4,79.1 87.2,79.1 88.0,79.2 88.8,79.0 89.6,79.1 90.4,79.2 91.2,79.4 92.0,79.3 92.8,79.4 93.6,79.4 94.4,79.2 95.2,79.2 96.0,79.2 96.8,79.3 97.6,79.3 98.4,79.2 99.2,79.4 100.0,79.4 100.8,79.4 101.6,79.5 102.4,79.7 103.2,79.6 104.0,79.4 104.8,79.5 105.6,79.3 106.4,79.4 107.2,79.4 108.0,79.5 108.8,79.5 109.6,79.7 110.4,79.5 111.2,79.8 112.0,79.6 112.8,79.7 113.6,79.9 114.4,79.9 115.2,79.9 116.0,80.3 116.8,80.4 117.6,80.4 118.4,80.5 119.2,80.5 120.0,80.5 120.8,80.6 121.6,80.7 122.4,80.6 123.2,80.7 124.0,81.0 124.8,80.6 125.6,80.7 126.4,80.6 127.2,80.6 128.0,80.5 128.8,80.6 129.6,80.6 130.4,80.8 131.2,80.5 132.0,80.4 132.8,80.6 133.6,80.8 134.4,80.9 135.2,80.9 136.0,80.7 136.8,80.5 137.6,80.4 138.4,80.5 139.2,80.2 140.0,80.3 140.8,80.2 141.6,80.4 142.4,80.2 143.2,80.3 144.0,80.2 144.8,80.5 145.6,80.6 146.4,80.7 147.2,81.0 148.0,81.0 148.8,80.9 149.6,80.9 150.4,80.5 151.2,80.5 152.0,80.6 152.8,80.6 153.6,80.7 154.4,80.8 155.2,80.9 156.0,80.8 156.8,80.8 157.6,80.5 158.4,80.8 159.2,80.9 160.0,80.7 160.8,80.8 161.6,80.9 162.4,80.7 163.2,80.9 164.0,80.6 164.8,80.8 165.6,80.7 166.4,81.0 167.2,80.9 168.0,80.9 168.8,81.0 169.6,80.9 170.4,80.8 171.2,80.9 172.0,80.6 172.8,80.8 173.6,81.1 174.4,81.0 175.2,81.0 176.0,81.2 176.8,81.4 177.6,81.4 178.4,81.4 179.2,81.4 180.0,81.5 180.8,81.5 181.6,81.5 182.4,81.2 183.2,81.3 184.0,81.4 184.8,81.6 185.6,81.6 186.4,81.4 187.2,81.4 188.0,81.7 188.8,81.7 189.6,81.6 190.4,81.4 191.2,81.3 192.0,81.5 192.8,81.5 193.6,81.5 194.4,81.7 195.2,82.0 196.0,81.9 196.8,81.8 197.6,81.9 198.4,82.0 199.2,81.8 200.0,82.0 200.8,81.9 201.6,81.8 202.4,81.8 203.2,82.0 204.0,82.0 204.8,81.9 205.6,82.1 206.4,82.1 207.2,82.1 208.0,82.0 208.8,82.0 209.6,82.2 210.4,82.2 211.2,82.3 212.0,82.1 212.8,82.2 213.6,82.3 214.4,82.2 215.2,82.5 216.0,82.3 216.8,82.5 217.6,82.3 218.4,82.4 219.2,82.4 220.0,82.5 220.8,82.6 221.6,82.5 222.4,82.5 223.2,82.6 224.0,82.7 224.8,82.4 225.6,82.5 226.4,82.4 227.2,82.2 228.0,82.4 228.8,82.6 229.6,82.6 230.4,82.6 231.2,82.4 232.0,82.4 232.8,82.1 233.6,82.4 234.4,82.5 235.2,82.5 236.0,82.6 236.8,82.6 237.6,82.6 238.4,82.6 239.2,82.5 240.0,82.3 240.8,82.3 241.6,82.1 242.4,82.0 243.2,82.0 244.0,81.9 244.8,82.3 245.6,82.2 246.4,82.6 247.2,82.5 248.0,82.4 248.8,82.3 249.6,82.1 250.4,82.1 251.2,81.9 252.0,81.9 252.8,82.0 253.6,81.8 254.4,81.6 255.2,81.7 256.0,81.7 256.8,81.9 257.6,81.9 258.4,82.1 259.2,81.9 260.0,81.9 260.8,81.8 261.6,81.9 262.4,82.1 263.2,82.4 264.0,82.3 264.8,82.0 265.6,82.1 266.4,82.0 267.2,82.1 268.0,82.3 268.8,82.3 269.6,82.4 270.4,82.3 271.2,82.5 272.0,82.7 272.8,82.6 273.6,82.6 274.4,82.4 275.2,82.4 276.0,82.8 276.8,82.5 277.6,82.5 278.4,82.5 279.2,82.6 280.0,82.4 280.8,82.6 281.6,82.6 282.4,82.6 283.2,82.4 284.0,82.5 284.8,82.7 285.6,82.8 286.4,82.8 287.2,82.8 288.0,82.7 288.8,82.7 289.6,82.6 290.4,82.6 291.2,82.6 292.0,82.7 292.8,82.5 293.6,82.8 294.4,82.7 295.2,82.7 296.0,82.7 296.8,82.7 297.6,82.6 298.4,82.8 299.2,82.6 300.0,82.6 300.8,82.9 301.6,82.7 302.4,82.8 303.2,82.9 304.0,83.0 304.8,82.9 305.6,83.0 306.4,83.1 307.2,83.0 308.0,83.0 308.8,82.8 309.6,82.7 310.4,82.6 311.2,82.7 312.0,82.8 312.8,82.8 313.6,82.7 314.4,82.7 315.2,82.8 316.0,82.8 316.8,82.6 317.6,82.9 318.4,82.9 319.2,82.8 320.0,83.2 320.8,83.0 321.6,83.1" fill="none" stroke="#000000" stroke-width="1.65" stroke-linejoin="round" stroke-linecap="round"/>
<polyline points="24.0,102.0 24.8,101.8 25.6,102.0 26.4,102.2 27.2,101.8 28.0,102.1 28.8,101.7 29.6,101.7 30.4,101.7 31.2,101.5 32.0,101.5 32.8,101.4 33.6,101.5 34.4,101.3 35.2,101.3 36.0,101.4 36.8,101.3 37.6,101.1 38.4,101.2 39.2,101.0 40.0,100.9 40.8,100.7 41.6,100.8 42.4,100.8 43.2,100.9 44.0,101.1 44.8,100.7 45.6,100.9 46.4,100.8 47.2,100.8 48.0,100.7 48.8,101.0 49.6,100.8 50.4,101.0 51.2,100.8 52.0,100.9 52.8,101.2 53.6,101.1 54.4,101.0 55.2,100.9 56.0,100.9 56.8,101.1 57.6,100.9 58.4,101.1 59.2,101.2 60.0,101.3 60.8,101.4 61.6,101.5 62.4,101.6 63.2,101.8 64.0,101.7 64.8,101.9 65.6,102.1 66.4,102.2 67.2,101.9 68.0,102.3 68.8,102.4 69.6,102.2 70.4,102.4 71.2,102.5 72.0,102.4 72.8,102.5 73.6,102.6 74.4,102.5 75.2,102.6 76.0,102.6 76.8,102.9 77.6,102.9 78.4,102.8 79.2,103.0 80.0,103.0 80.8,102.9 81.6,102.6 82.4,102.7 83.2,102.9 84.0,103.1 84.8,103.0 85.6,103.1 86.4,103.1 87.2,103.1 88.0,102.8 88.8,102.7 89.6,102.7 90.4,102.6 91.2,102.8 92.0,102.7 92.8,102.5 93.6,102.3 94.4,102.4 95.2,102.3 96.0,102.0 96.8,102.1 97.6,101.9 98.4,101.6 99.2,101.2 100.0,101.2 100.8,101.2 101.6,100.9 102.4,100.7 103.2,100.6 104.0,100.3 104.8,100.1 105.6,99.7 106.4,99.4 107.2,99.5 108.0,99.0 108.8,99.0 109.6,99.0 110.4,98.8 111.2,98.7 112.0,98.7 112.8,98.6 113.6,98.7 114.4,98.6 115.2,98.3 116.0,98.2 116.8,98.2 117.6,98.1 118.4,98.0 119.2,98.1 120.0,97.7 120.8,98.0 121.6,97.8 122.4,97.6 123.2,97.5 124.0,97.6 124.8,97.5 125.6,97.4 126.4,97.5 127.2,97.5 128.0,97.4 128.8,97.5 129.6,97.3 130.4,97.4 131.2,97.6 132.0,97.3 132.8,97.3 133.6,97.6 134.4,97.5 135.2,97.2 136.0,97.3 136.8,97.1 137.6,97.0 138.4,97.0 139.2,96.9 140.0,96.7 140.8,96.6 141.6,98.0 142.4,100.6 143.2,100.6 144.0,100.4 144.8,100.6 145.6,100.4 146.4,100.2 147.2,100.3 148.0,100.6 148.8,100.5 149.6,100.3 150.4,100.5 151.2,100.9 152.0,100.9 152.8,101.0 153.6,101.0 154.4,101.0 155.2,100.5 156.0,100.8 156.8,101.1 157.6,101.0 158.4,101.1 159.2,101.3 160.0,101.3 160.8,101.2 161.6,101.1 162.4,101.3 163.2,101.4 164.0,101.7 164.8,101.5 165.6,101.6 166.4,101.5 167.2,101.9 168.0,101.7 168.8,101.4 169.6,101.6 170.4,101.6 171.2,101.4 172.0,101.3 172.8,101.3 173.6,101.4 174.4,101.7 175.2,101.9 176.0,101.9 176.8,101.9 177.6,101.8 178.4,101.8 179.2,101.9 180.0,101.9 180.8,101.8 181.6,102.0 182.4,101.8 183.2,101.8 184.0,101.8 184.8,101.9 185.6,101.8 186.4,101.7 187.2,101.7 188.0,101.6 188.8,101.9 189.6,102.2 190.4,102.0 191.2,102.2 192.0,102.2 192.8,102.4 193.6,102.1 194.4,102.0 195.2,102.1 196.0,102.2 196.8,102.3 197.6,102.3 198.4,102.2 199.2,102.1 200.0,102.2 200.8,102.3 201.6,102.2 202.4,102.3 203.2,102.1 204.0,102.3 204.8,102.0 205.6,102.2 206.4,102.2 207.2,102.3 208.0,102.0 208.8,102.1 209.6,101.9 210.4,102.3 211.2,102.3 212.0,102.2 212.8,102.2 213.6,102.2 214.4,102.2 215.2,101.9 216.0,101.9 216.8,102.0 217.6,102.2 218.4,102.0 219.2,102.0 220.0,102.0 220.8,102.2 221.6,102.2 222.4,102.3 223.2,102.3 224.0,102.0 224.8,102.1 225.6,102.4 226.4,102.7 227.2,102.6 228.0,102.6 228.8,102.4 229.6,102.6 230.4,102.5 231.2,102.8 232.0,102.9 232.8,102.6 233.6,102.7 234.4,102.8 235.2,102.7 236.0,102.8 236.8,103.0 237.6,102.8 238.4,102.8 239.2,103.1 240.0,103.0 240.8,103.0 241.6,103.0 242.4,103.3 243.2,103.0 244.0,103.2 244.8,103.3 245.6,103.2 246.4,103.1 247.2,103.1 248.0,103.2 248.8,103.3 249.6,103.3 250.4,103.5 251.2,103.5 252.0,103.3 252.8,103.4 253.6,103.4 254.4,103.5 255.2,103.3 256.0,103.4 256.8,103.8 257.6,103.5 258.4,103.3 259.2,103.5 260.0,103.4 260.8,103.7 261.6,103.5 262.4,103.7 263.2,103.7 264.0,103.7 264.8,103.7 265.6,103.7 266.4,103.8 267.2,104.0 268.0,103.8 268.8,104.0 269.6,104.0 270.4,104.0 271.2,104.0 272.0,104.2 272.8,104.3 273.6,104.2 274.4,104.3 275.2,103.9 276.0,103.8 276.8,104.1 277.6,104.2 278.4,104.0 279.2,104.3 280.0,104.2 280.8,104.2 281.6,104.4 282.4,104.4 283.2,104.3 284.0,104.2 284.8,104.6 285.6,104.5 286.4,104.6 287.2,104.7 288.0,104.7 288.8,104.9 289.6,105.0 290.4,105.0 291.2,105.0 292.0,105.2 292.8,105.5 293.6,105.5 294.4,105.4 295.2,105.2 296.0,105.4 296.8,105.3 297.6,105.3 298.4,105.3 299.2,105.4 300.0,105.4 300.8,105.5 301.6,105.4 302.4,105.4 303.2,105.4 304.0,105.4 304.8,105.6 305.6,105.4 306.4,105.3 307.2,105.6 308.0,105.3 308.8,105.5 309.6,105.1 310.4,105.1 311.2,105.0 312.0,105.2 312.8,105.2 313.6,105.5 314.4,105.2 315.2,105.4 316.0,105.5 316.8,105.1 317.6,105.0 318.4,105.3 319.2,105.3 320.0,105.4 320.8,105.5 321.6,105.5" fill="none" stroke="#000000" stroke-width="1.65" stroke-linejoin="round" stroke-linecap="round"/>
<polyline points="24.0,125.6 24.8,125.4 25.6,125.4 26.4,125.4 27.2,125.3 28.0,125.3 28.8,125.3 29.6,125.2 30.4,125.2 31.2,125.1 32.0,124.8 32.8,124.7 33.6,124.7 34.4,124.6 35.2,124.6 36.0,124.6 36.8,124.4 37.6,124.2 38.4,124.2 39.2,124.4 40.0,124.8 40.8,125.3 41.6,125.8 42.4,126.2 43.2,126.2 44.0,126.5 44.8,126.4 45.6,126.9 46.4,127.0 47.2,127.0 48.0,127.4 48.8,127.3 49.6,127.4 50.4,127.7 51.2,127.9 52.0,128.0 52.8,128.3 53.6,128.4 54.4,128.6 55.2,128.7 56.0,128.7 56.8,128.9 57.6,129.0 58.4,129.0 59.2,129.0 60.0,129.2 60.8,129.2 61.6,129.0 62.4,129.1 63.2,129.1 64.0,129.2 64.8,129.2 65.6,129.3 66.4,129.2 67.2,129.0 68.0,129.2 68.8,129.0 69.6,129.4 70.4,129.0 71.2,129.2 72.0,128.9 72.8,129.2 73.6,129.1 74.4,129.0 75.2,128.8 76.0,128.8 76.8,128.6 77.6,128.7 78.4,128.8 79.2,128.7 80.0,128.8 80.8,128.7 81.6,128.6 82.4,128.5 83.2,128.6 84.0,128.5 84.8,128.6 85.6,128.6 86.4,128.9 87.2,129.0 88.0,129.0 88.8,129.0 89.6,129.0 90.4,129.0 91.2,129.0 92.0,129.1 92.8,129.2 93.6,129.0 94.4,128.8 95.2,128.8 96.0,128.6 96.8,128.5 97.6,128.6 98.4,128.8 99.2,128.6 100.0,128.9 100.8,128.8 101.6,129.3 102.4,129.3 103.2,129.3 104.0,129.3 104.8,129.2 105.6,129.3 106.4,129.4 107.2,129.6 108.0,129.6 108.8,129.8 109.6,130.0 110.4,130.0 111.2,129.9 112.0,129.7 112.8,129.9 113.6,129.8 114.4,129.9 115.2,130.2 116.0,130.0 116.8,129.9 117.6,130.1 118.4,130.2 119.2,130.2 120.0,130.3 120.8,130.3 121.6,130.4 122.4,130.4 123.2,130.3 124.0,130.4 124.8,130.2 125.6,130.2 126.4,130.1 127.2,130.4 128.0,130.5 128.8,130.3 129.6,130.6 130.4,130.7 131.2,130.8 132.0,130.6 132.8,130.5 133.6,130.7 134.4,130.7 135.2,130.8 136.0,131.0 136.8,130.8 137.6,130.9 138.4,131.1 139.2,131.0 140.0,130.9 140.8,131.2 141.6,131.0 142.4,131.2 143.2,131.3 144.0,131.1 144.8,131.4 145.6,131.3 146.4,131.3 147.2,131.4 148.0,131.5 148.8,131.7 149.6,131.8 150.4,131.8 151.2,132.0 152.0,132.0 152.8,132.0 153.6,132.2 154.4,132.2 155.2,132.2 156.0,132.4 156.8,132.4 157.6,132.4" fill="none" stroke="#000000" stroke-width="1.65" stroke-linejoin="round" stroke-linecap="round"/>
<polyline points="159.8,128.2 160.6,127.9 161.4,127.9 162.2,127.7 163.0,127.6 163.8,127.7 164.6,127.9 165.4,127.7 166.2,127.8 167.0,127.5 167.8,127.6 168.6,127.7 169.4,127.4 170.2,127.5 171.0,127.4 171.8,127.5 172.6,127.3 173.4,127.1 174.2,127.4 175.0,127.6 175.8,127.6 176.6,127.7 177.4,128.0 178.2,128.1 179.0,128.3 179.8,128.1 180.6,128.4 181.4,128.6 182.2,128.6 183.0,128.5 183.8,128.6 184.6,128.6 185.4,128.5 186.2,128.6 187.0,128.7 187.8,128.3 188.6,128.6 189.4,128.8 190.2,128.5 191.0,128.6 191.8,128.6 192.6,128.6 193.4,128.8 194.2,129.1 195.0,128.9 195.8,129.0 196.6,128.9 197.4,128.7 198.2,129.0 199.0,128.6 199.8,128.6 200.6,128.5 201.4,128.4 202.2,128.6 203.0,128.4 203.8,128.6 204.6,128.5 205.4,128.6 206.2,128.8 207.0,128.6 207.8,128.6 208.6,128.4 209.4,128.6 210.2,128.5 211.0,128.5 211.8,128.7 212.6,128.6 213.4,128.6 214.2,128.5 215.0,128.6 215.8,128.3 216.6,128.5 217.4,128.5 218.2,128.4 219.0,128.4 219.8,128.4 220.6,128.5 221.4,128.2 222.2,128.2 223.0,128.3 223.8,128.3 224.6,128.5 225.4,128.4 226.2,128.4 227.0,128.5 227.8,128.3 228.6,128.5 229.4,128.7 230.2,128.6 231.0,128.9 231.8,129.1 232.6,128.9 233.4,128.8 234.2,128.8 235.0,128.9 235.8,129.2 236.6,129.0 237.4,128.9 238.2,128.7 239.0,128.8 239.8,128.8 240.6,128.9 241.4,129.2 242.2,129.1 243.0,129.0 243.8,129.1 244.6,128.8 245.4,129.1 246.2,129.2 247.0,129.5 247.8,129.5 248.6,129.2 249.4,129.4 250.2,129.6 251.0,129.4 251.8,129.4 252.6,129.6 253.4,129.4 254.2,129.7 255.0,129.6 255.8,129.6 256.6,129.4 257.4,129.4 258.2,129.4 259.0,129.4 259.8,129.7 260.6,129.9 261.4,129.9 262.2,129.9 263.0,130.1 263.8,130.0 264.6,130.2 265.4,130.0 266.2,130.2 267.0,130.0 267.8,130.2 268.6,130.1 269.4,130.1 270.2,130.1 271.0,130.0 271.8,130.1 272.6,130.2 273.4,130.3 274.2,130.4 275.0,130.3 275.8,130.5 276.6,130.5 277.4,130.6 278.2,130.8 279.0,130.6 279.8,131.0 280.6,130.8 281.4,131.0 282.2,131.0 283.0,130.9 283.8,131.0 284.6,131.1 285.4,131.3 286.2,131.5 287.0,131.3 287.8,131.4 288.6,131.5 289.4,131.7 290.2,131.7 291.0,131.8 291.8,131.8 292.6,131.9 293.4,131.8 294.2,132.1 295.0,132.0 295.8,132.3 296.6,132.3 297.4,132.6 298.2,132.6 299.0,132.8 299.8,132.9 300.6,132.9 301.4,133.2 302.2,133.3 303.0,133.3 303.8,133.3 304.6,133.3 305.4,133.5 306.2,133.8 307.0,134.2 307.8,134.0 308.6,134.0 309.4,134.0 310.2,133.9 311.0,134.1 311.8,134.4 312.6,134.4 313.4,134.3 314.2,134.4 315.0,134.4 315.8,134.4 316.6,134.4 317.4,134.4 318.2,134.8 319.0,134.8 319.8,134.9 320.6,135.3 321.4,135.3" fill="none" stroke="#000000" stroke-width="1.65" stroke-linejoin="round" stroke-linecap="round"/>
<polyline points="24.0,144.7 24.8,144.9 25.6,144.8 26.4,144.8 27.2,144.7 28.0,144.6 28.8,144.5 29.6,144.6 30.4,144.6 31.2,144.4 32.0,144.3 32.8,144.6 33.6,144.5 34.4,144.3 35.2,144.1 36.0,144.3 36.8,144.2 37.6,144.2 38.4,144.0 39.2,144.1 40.0,144.2 40.8,144.1 41.6,143.9 42.4,143.8 43.2,143.7 44.0,143.8 44.8,143.6 45.6,143.6 46.4,143.7 47.2,143.7 48.0,143.8 48.8,143.4 49.6,143.4 50.4,143.7 51.2,143.3 52.0,143.4 52.8,143.3 53.6,143.3 54.4,143.2 55.2,143.4 56.0,143.3 56.8,143.3 57.6,143.6 58.4,143.6 59.2,143.3 60.0,143.2 60.8,143.2 61.6,143.1 62.4,143.3 63.2,143.3 64.0,143.3 64.8,143.3 65.6,143.1 66.4,143.3 67.2,143.1 68.0,143.3 68.8,143.1 69.6,143.1 70.4,142.9 71.2,143.1 72.0,143.0 72.8,142.9 73.6,142.7 74.4,142.9 75.2,142.9 76.0,142.9 76.8,142.7 77.6,142.7 78.4,142.8 79.2,143.1 80.0,143.3 80.8,143.0 81.6,143.3 82.4,143.2 83.2,143.4 84.0,143.4 84.8,143.1 85.6,143.7 86.4,143.4 87.2,143.6 88.0,143.9 88.8,143.9 89.6,143.8 90.4,143.9 91.2,143.9 92.0,143.9 92.8,144.0 93.6,144.0 94.4,143.9 95.2,143.9 96.0,143.8 96.8,143.9 97.6,143.9 98.4,144.1 99.2,144.2 100.0,144.0 100.8,143.9 101.6,143.9 102.4,144.2 103.2,144.4 104.0,144.3 104.8,144.6 105.6,144.4 106.4,144.5 107.2,144.6 108.0,144.7 108.8,144.5 109.6,144.7 110.4,144.9 111.2,145.0 112.0,144.9 112.8,144.9 113.6,145.0 114.4,145.0 115.2,144.8 116.0,144.9 116.8,145.0 117.6,144.9 118.4,145.0 119.2,145.0 120.0,145.1 120.8,145.0 121.6,145.3 122.4,145.4 123.2,145.6 124.0,145.3 124.8,145.4 125.6,145.4 126.4,145.4 127.2,145.7 128.0,145.6 128.8,145.7 129.6,145.7 130.4,145.7 131.2,145.3 132.0,145.3 132.8,145.7 133.6,145.6 134.4,145.8 135.2,145.7 136.0,145.8 136.8,145.7 137.6,145.6 138.4,145.6 139.2,145.8 140.0,145.7 140.8,145.6 141.6,145.5 142.4,145.6 143.2,145.5 144.0,145.6 144.8,145.7 145.6,145.5 146.4,145.4 147.2,145.6 148.0,145.3 148.8,145.4 149.6,145.4 150.4,145.6 151.2,145.4 152.0,145.6 152.8,145.5 153.6,145.5 154.4,145.5 155.2,145.5 156.0,145.5 156.8,145.6 157.6,145.3 158.4,145.2 159.2,145.3 160.0,145.0 160.8,145.2 161.6,145.2 162.4,145.3 163.2,145.2 164.0,145.5 164.8,145.3 165.6,145.2 166.4,145.5 167.2,145.5 168.0,145.4 168.8,145.4 169.6,145.4 170.4,145.5 171.2,145.3 172.0,145.6 172.8,145.6 173.6,145.2 174.4,145.4 175.2,145.2 176.0,145.5 176.8,145.4 177.6,145.5 178.4,145.2 179.2,145.5 180.0,145.6 180.8,145.2 181.6,145.6 182.4,145.1 183.2,145.1 184.0,145.3 184.8,145.2 185.6,145.4 186.4,145.6 187.2,145.5 188.0,145.6 188.8,145.4 189.6,145.6 190.4,145.5 191.2,145.4 192.0,145.6 192.8,145.6 193.6,145.4 194.4,145.4 195.2,145.5 196.0,145.4 196.8,145.4 197.6,145.4 198.4,145.3 199.2,145.4 200.0,145.4 200.8,145.5 201.6,145.6 202.4,145.6 203.2,145.5 204.0,145.7 204.8,145.7 205.6,145.5 206.4,145.6 207.2,145.6 208.0,145.7 208.8,145.8 209.6,145.8 210.4,145.8 211.2,145.8 212.0,145.6 212.8,145.8 213.6,145.6 214.4,145.4 215.2,145.6 216.0,145.7 216.8,145.6 217.6,145.6 218.4,145.9 219.2,146.2 220.0,146.1 220.8,146.2 221.6,145.9 222.4,145.9 223.2,145.7 224.0,145.8 224.8,145.4 225.6,145.5 226.4,145.3 227.2,145.5 228.0,145.4 228.8,145.3 229.6,145.1 230.4,145.3 231.2,145.3 232.0,145.2 232.8,145.4 233.6,145.2 234.4,145.5 235.2,145.6 236.0,145.3 236.8,145.3 237.6,145.2 238.4,145.6 239.2,145.6 240.0,146.0 240.8,145.8 241.6,146.0 242.4,145.8 243.2,145.6 244.0,145.9 244.8,145.9 245.6,145.6 246.4,145.7 247.2,145.6 248.0,145.7 248.8,145.9 249.6,145.8 250.4,145.7 251.2,145.9 252.0,145.8 252.8,146.1 253.6,146.1 254.4,145.9 255.2,145.7 256.0,145.5 256.8,145.6 257.6,145.6 258.4,145.5 259.2,145.8 260.0,145.6 260.8,145.6 261.6,145.4 262.4,145.4 263.2,145.7 264.0,145.8 264.8,145.7 265.6,145.8 266.4,145.9 267.2,145.8 268.0,145.7 268.8,145.9 269.6,145.8 270.4,145.8 271.2,146.0 272.0,145.7 272.8,145.8 273.6,145.8 274.4,145.8 275.2,145.9 276.0,145.9 276.8,145.9 277.6,145.8 278.4,145.7 279.2,145.7 280.0,145.8 280.8,145.9 281.6,146.1 282.4,146.0 283.2,145.9 284.0,145.9 284.8,146.0 285.6,146.2 286.4,146.3 287.2,146.3 288.0,146.1 288.8,146.3 289.6,146.3 290.4,146.2 291.2,146.1 292.0,146.2 292.8,146.2 293.6,146.0 294.4,146.0 295.2,146.1 296.0,146.2 296.8,146.3 297.6,146.5 298.4,146.8 299.2,146.4 300.0,146.5 300.8,146.3 301.6,146.3 302.4,146.0 303.2,146.4 304.0,146.3 304.8,146.1 305.6,146.2 306.4,146.4 307.2,146.2 308.0,146.4 308.8,146.4 309.6,146.5 310.4,146.5 311.2,146.6 312.0,146.5 312.8,146.5 313.6,146.2 314.4,146.3 315.2,146.3 316.0,146.3 316.8,146.4 317.6,146.4 318.4,146.4 319.2,146.3 320.0,146.4 320.8,146.4 321.6,146.3" fill="none" stroke="#000000" stroke-width="1.65" stroke-linejoin="round" stroke-linecap="round"/>
<polyline points="24.0,164.2 24.8,164.0 25.6,164.0 26.4,164.2 27.2,164.3 28.0,164.4 28.8,164.6 29.6,164.6 30.4,164.4 31.2,164.4 32.0,163.9 32.8,164.1 33.6,164.0 34.4,164.2 35.2,163.8 36.0,164.0 36.8,163.8 37.6,163.8 38.4,164.0 39.2,163.9 40.0,163.9 40.8,164.1 41.6,163.8 42.4,163.8 43.2,163.9 44.0,163.8 44.8,163.6 45.6,163.7 46.4,163.6 47.2,163.5 48.0,163.7 48.8,163.6 49.6,163.7 50.4,163.7 51.2,163.7 52.0,163.7 52.8,163.9 53.6,163.7 54.4,163.6 55.2,163.4 56.0,163.4 56.8,163.6 57.6,163.4 58.4,163.3 59.2,163.4 60.0,163.1 60.8,163.3 61.6,163.3 62.4,163.3 63.2,163.2 64.0,163.5 64.8,163.5 65.6,163.5 66.4,163.6 67.2,163.5 68.0,163.3 68.8,163.2 69.6,163.2 70.4,163.4 71.2,163.4 72.0,163.2 72.8,163.2 73.6,163.5 74.4,163.5 75.2,163.3 76.0,163.2 76.8,163.2 77.6,163.1 78.4,163.2 79.2,163.2 80.0,163.2 80.8,163.1 81.6,163.2 82.4,163.1 83.2,163.2 84.0,163.1 84.8,163.0 85.6,163.3 86.4,163.2 87.2,163.0 88.0,163.3 88.8,163.1 89.6,163.1 90.4,162.9 91.2,162.8 92.0,163.0 92.8,163.2 93.6,163.2 94.4,163.1 95.2,163.3 96.0,163.0 96.8,163.1 97.6,163.0 98.4,163.3 99.2,163.1 100.0,163.1 100.8,163.2 101.6,163.0 102.4,163.1 103.2,162.7 104.0,162.9 104.8,162.9 105.6,162.9 106.4,162.9 107.2,163.1 108.0,163.3 108.8,163.3 109.6,163.5 110.4,163.4 111.2,163.3 112.0,163.3 112.8,163.4 113.6,163.2 114.4,163.2 115.2,163.5 116.0,163.2 116.8,163.3 117.6,163.3 118.4,163.3 119.2,163.4 120.0,163.2 120.8,163.3 121.6,163.6 122.4,163.6 123.2,163.9 124.0,163.8 124.8,163.7 125.6,163.5 126.4,163.7 127.2,163.7 128.0,163.7 128.8,163.6 129.6,163.5 130.4,163.7 131.2,163.8 132.0,163.8 132.8,163.8 133.6,163.9 134.4,163.8 135.2,163.8 136.0,163.7 136.8,163.9 137.6,163.6 138.4,163.4 139.2,163.6 140.0,163.6 140.8,163.7 141.6,163.9 142.4,164.0 143.2,164.1 144.0,164.2 144.8,164.2 145.6,163.9 146.4,163.9 147.2,164.1 148.0,164.2 148.8,164.2 149.6,164.0 150.4,164.4 151.2,164.0 152.0,164.4 152.8,164.5 153.6,164.6 154.4,164.6 155.2,164.4 156.0,164.4 156.8,164.5 157.6,164.3 158.4,164.5 159.2,164.4 160.0,164.6 160.8,164.5 161.6,164.6 162.4,164.8 163.2,164.6 164.0,164.9 164.8,164.8 165.6,164.7 166.4,164.7 167.2,165.0 168.0,164.8 168.8,164.8 169.6,164.9 170.4,165.0 171.2,165.0 172.0,164.9 172.8,164.7 173.6,165.0 174.4,164.9 175.2,164.8 176.0,164.8 176.8,164.9 177.6,164.8 178.4,164.9 179.2,164.9 180.0,165.0 180.8,165.1 181.6,165.1 182.4,165.2 183.2,165.0 184.0,164.9 184.8,164.9 185.6,164.6 186.4,165.0 187.2,165.2 188.0,165.1 188.8,165.2 189.6,165.2 190.4,165.3 191.2,165.5 192.0,165.3 192.8,165.3 193.6,165.5 194.4,165.6 195.2,165.7 196.0,165.6 196.8,165.5 197.6,165.7 198.4,165.8 199.2,165.8 200.0,165.8 200.8,166.0 201.6,165.9 202.4,165.7 203.2,165.8 204.0,165.3 204.8,165.4 205.6,165.5 206.4,165.6 207.2,165.9 208.0,165.8 208.8,165.9 209.6,166.0 210.4,166.1 211.2,166.1 212.0,166.1 212.8,165.9 213.6,165.9 214.4,165.9 215.2,165.9 216.0,166.0 216.8,165.9 217.6,166.0 218.4,166.1 219.2,165.9 220.0,165.9 220.8,166.1 221.6,165.7 222.4,165.8 223.2,165.8 224.0,166.0 224.8,166.0 225.6,165.8 226.4,166.0 227.2,166.1 228.0,166.1 228.8,165.9 229.6,166.0 230.4,165.9 231.2,165.8 232.0,165.7 232.8,165.7 233.6,165.8 234.4,165.6 235.2,165.9 236.0,166.0 236.8,166.3 237.6,166.1 238.4,166.0 239.2,166.0 240.0,166.0 240.8,166.0 241.6,166.1 242.4,166.0 243.2,166.4 244.0,166.4 244.8,166.3 245.6,166.6 246.4,166.5 247.2,166.7 248.0,166.5 248.8,166.5 249.6,166.5 250.4,166.4 251.2,166.2 252.0,166.2 252.8,166.4 253.6,166.4 254.4,166.2 255.2,166.2 256.0,166.2 256.8,166.4 257.6,166.5 258.4,166.3 259.2,166.5 260.0,166.9 260.8,166.8 261.6,166.8 262.4,167.3 263.2,167.2 264.0,167.1 264.8,167.1 265.6,167.1 266.4,166.9 267.2,167.1 268.0,166.9 268.8,167.0 269.6,166.6 270.4,166.7 271.2,166.6 272.0,166.5 272.8,166.7 273.6,166.8 274.4,166.9 275.2,166.8 276.0,166.9 276.8,167.0 277.6,166.8 278.4,166.8 279.2,166.8 280.0,166.8 280.8,167.1 281.6,167.0 282.4,167.1 283.2,167.0 284.0,167.2 284.8,167.0 285.6,167.1 286.4,167.1 287.2,167.3 288.0,167.2 288.8,167.2 289.6,167.2 290.4,167.2 291.2,167.1 292.0,167.2 292.8,167.2 293.6,167.2 294.4,167.0 295.2,167.0 296.0,167.0 296.8,167.2 297.6,166.9 298.4,167.2 299.2,167.1 300.0,167.1 300.8,167.3 301.6,167.4 302.4,167.4 303.2,167.5 304.0,167.4 304.8,167.2 305.6,167.3 306.4,167.3 307.2,167.0 308.0,167.0 308.8,167.2 309.6,167.3 310.4,167.4 311.2,167.4 312.0,167.2 312.8,167.0 313.6,167.1 314.4,167.5 315.2,167.3 316.0,167.2 316.8,167.3 317.6,167.2 318.4,167.2 319.2,167.0 320.0,167.3 320.8,167.2 321.6,167.3" fill="none" stroke="#000000" stroke-width="1.65" stroke-linejoin="round" stroke-linecap="round"/>
<polyline points="24.0,189.2 24.8,188.9 25.6,189.0 26.4,188.9 27.2,189.0 28.0,189.0 28.8,188.8 29.6,188.8 30.4,189.1 31.2,188.9 32.0,189.1 32.8,189.0 33.6,189.2 34.4,189.1 35.2,189.1 36.0,189.0 36.8,188.8 37.6,188.9 38.4,188.8 39.2,188.9 40.0,189.0 40.8,189.0 41.6,188.9 42.4,188.9 43.2,188.6 44.0,188.8 44.8,188.6 45.6,189.0 46.4,189.3 47.2,189.2 48.0,189.0 48.8,189.3 49.6,189.2 50.4,189.2 51.2,189.3 52.0,189.2 52.8,189.1 53.6,189.2 54.4,189.3 55.2,189.0 56.0,189.0 56.8,189.0 57.6,188.8 58.4,188.8 59.2,188.7 60.0,188.7 60.8,188.9 61.6,188.9 62.4,188.8 63.2,188.7 64.0,188.7 64.8,188.8 65.6,188.9 66.4,189.0 67.2,189.1 68.0,189.0 68.8,188.6 69.6,188.5 70.4,188.8 71.2,188.8 72.0,188.7 72.8,188.7 73.6,188.8 74.4,188.8 75.2,188.8 76.0,188.7 76.8,188.8 77.6,188.9 78.4,188.5 79.2,188.6 80.0,188.7 80.8,188.8 81.6,189.0 82.4,188.8 83.2,188.8 84.0,189.0 84.8,189.2 85.6,189.3 86.4,189.1 87.2,189.2 88.0,189.0 88.8,188.9 89.6,188.9 90.4,189.1 91.2,188.9 92.0,188.9 92.8,189.1 93.6,189.0 94.4,188.7 95.2,188.7 96.0,188.8 96.8,188.9 97.6,189.0 98.4,189.0 99.2,188.9 100.0,189.0 100.8,189.0 101.6,189.0 102.4,189.1 103.2,189.3 104.0,189.0 104.8,189.0 105.6,188.9 106.4,188.8 107.2,188.7 108.0,189.0 108.8,189.0 109.6,189.1 110.4,189.0 111.2,189.2 112.0,189.1 112.8,189.3 113.6,189.2 114.4,189.2 115.2,189.1 116.0,189.2 116.8,189.2 117.6,189.3 118.4,189.1 119.2,189.3 120.0,189.3 120.8,189.3 121.6,189.3 122.4,189.3 123.2,189.1 124.0,189.1 124.8,189.2 125.6,189.2" fill="none" stroke="#000000" stroke-width="1.65" stroke-linejoin="round" stroke-linecap="round"/>
<polyline points="128.5,192.2 129.3,192.3 130.1,192.4 130.9,192.1 131.7,192.3 132.5,192.1 133.3,192.2 134.1,192.3 134.9,192.6 135.7,192.4 136.5,192.3 137.3,192.3 138.1,192.4 138.9,192.5 139.7,192.6 140.5,192.3 141.3,192.2 142.1,192.4 142.9,192.4 143.7,192.2 144.5,192.5 145.3,192.2 146.1,192.4 146.9,192.2 147.7,192.2" fill="none" stroke="#000000" stroke-width="1.65" stroke-linejoin="round" stroke-linecap="round"/>
<polyline points="169.0,191.7 169.8,191.7 170.6,191.8 171.4,191.9 172.2,191.9 173.0,191.8 173.8,191.4 174.6,191.7 175.4,191.8 176.2,191.9 177.0,192.1 177.8,192.3 178.6,192.4 179.4,192.5 180.2,192.2 181.0,192.6 181.8,192.5 182.6,192.6 183.4,192.5 184.2,192.7 185.0,192.4 185.8,192.5 186.6,192.5 187.4,192.6 188.2,192.6 189.0,192.8 189.8,192.9 190.6,192.8 191.4,192.6 192.2,192.4 193.0,192.6 193.8,192.6 194.6,192.6 195.4,192.5 196.2,192.7 197.0,192.5 197.8,192.7 198.6,193.0 199.4,193.0 200.2,192.8 201.0,193.0 201.8,193.2 202.6,193.2 203.4,193.0 204.2,193.0 205.0,193.1 205.8,193.3 206.6,193.3 207.4,193.3 208.2,193.1 209.0,193.0 209.8,192.9 210.6,192.9 211.4,193.0 212.2,193.0 213.0,193.1 213.8,193.1 214.6,193.1 215.4,193.3 216.2,193.5 217.0,193.7 217.8,193.7 218.6,193.5 219.4,193.6 220.2,193.6 221.0,193.5 221.8,193.6 222.6,193.4 223.4,193.7 224.2,193.4 225.0,193.7 225.8,193.4 226.6,193.4 227.4,193.4 228.2,193.5 229.0,193.3 229.8,193.3 230.6,193.4 231.4,193.3 232.2,193.6 233.0,193.7 233.8,193.5 234.6,193.3 235.4,193.2 236.2,193.5 237.0,193.6 237.8,193.6 238.6,193.7 239.4,193.7 240.2,193.8 241.0,193.8 241.8,193.9 242.6,193.6 243.4,193.6 244.2,193.4 245.0,193.5 245.8,193.5 246.6,193.4 247.4,193.4 248.2,193.4 249.0,193.6 249.8,193.6 250.6,193.3 251.4,193.2 252.2,193.4 253.0,193.5 253.8,193.9 254.6,193.7 255.4,193.7 256.2,193.5 257.0,193.4 257.8,193.7 258.6,193.8 259.4,193.9 260.2,193.8 261.0,193.9 261.8,193.8 262.6,193.6 263.4,193.7 264.2,193.8 265.0,193.9 265.8,193.9 266.6,194.1 267.4,193.8 268.2,194.1 269.0,194.1 269.8,193.9 270.6,194.0 271.4,194.0 272.2,194.2 273.0,194.0 273.8,193.9 274.6,194.0 275.4,194.2 276.2,194.4 277.0,194.0 277.8,194.2 278.6,193.9 279.4,194.0 280.2,193.9 281.0,194.0 281.8,194.0 282.6,194.2 283.4,194.3 284.2,194.5 285.0,194.4 285.8,194.6 286.6,194.4 287.4,194.6 288.2,194.5 289.0,194.2 289.8,194.3 290.6,194.4 291.4,194.1 292.2,194.4 293.0,194.6 293.8,194.7 294.6,194.7 295.4,194.7 296.2,194.5 297.0,194.6 297.8,194.6 298.6,194.6 299.4,194.4 300.2,194.3 301.0,194.3 301.8,194.3 302.6,194.1 303.4,194.3 304.2,194.2 305.0,194.2 305.8,194.5 306.6,194.4 307.4,194.6 308.2,194.6 309.0,194.5 309.8,194.3 310.6,194.4 311.4,194.5 312.2,194.3 313.0,194.4 313.8,194.5 314.6,194.3 315.4,194.6 316.2,194.3 317.0,194.2 317.8,194.1 318.6,194.1 319.4,194.2 320.2,194.4 321.0,194.5 321.8,194.4" fill="none" stroke="#000000" stroke-width="1.65" stroke-linejoin="round" stroke-linecap="round"/>
</g>
<rect x="24.5" y="29.5" width="297.00" height="170.00" fill="none" stroke="#999999" stroke-width="1"/>
<line x1="45.50" y1="29.5" x2="45.50" y2="32.5" stroke="#999999" stroke-width="1"/>
<line x1="45.50" y1="199.5" x2="45.50" y2="196.5" stroke="#999999" stroke-width="1"/>
<line x1="66.50" y1="29.5" x2="66.50" y2="32.5" stroke="#999999" stroke-width="1"/>
<line x1="66.50" y1="199.5" x2="66.50" y2="196.5" stroke="#999999" stroke-width="1"/>
<line x1="88.50" y1="29.5" x2="88.50" y2="32.5" stroke="#999999" stroke-width="1"/>
<line x1="88.50" y1="199.5" x2="88.50" y2="196.5" stroke="#999999" stroke-width="1"/>
<line x1="109.50" y1="29.5" x2="109.50" y2="32.5" stroke="#999999" stroke-width="1"/>
<line x1="109.50" y1="199.5" x2="109.50" y2="196.5" stroke="#999999" stroke-width="1"/>
<line x1="130.50" y1="29.5" x2="130.50" y2="32.5" stroke="#999999" stroke-width="1"/>
<line x1="130.50" y1="199.5" x2="130.50" y2="196.5" stroke="#999999" stroke-width="1"/>
<line x1="151.50" y1="29.5" x2="151.50" y2="32.5" stroke="#999999" stroke-width="1"/>
<line x1="151.50" y1="199.5" x2="151.50" y2="196.5" stroke="#999999" stroke-width="1"/>
<line x1="173.50" y1="29.5" x2="173.50" y2="32.5" stroke="#999999" stroke-width="1"/>
<line x1="173.50" y1="199.5" x2="173.50" y2="196.5" stroke="#999999" stroke-width="1"/>
<line x1="194.50" y1="29.5" x2="194.50" y2="32.5" stroke="#999999" stroke-width="1"/>
<line x1="194.50" y1="199.5" x2="194.50" y2="196.5" stroke="#999999" stroke-width="1"/>
<line x1="215.50" y1="29.5" x2="215.50" y2="32.5" stroke="#999999" stroke-width="1"/>
<line x1="215.50" y1="199.5" x2="215.50" y2="196.5" stroke="#999999" stroke-width="1"/>
<line x1="236.50" y1="29.5" x2="236.50" y2="32.5" stroke="#999999" stroke-width="1"/>
<line x1="236.50" y1="199.5" x2="236.50" y2="196.5" stroke="#999999" stroke-width="1"/>
<line x1="257.50" y1="29.5" x2="257.50" y2="32.5" stroke="#999999" stroke-width="1"/>
<line x1="257.50" y1="199.5" x2="257.50" y2="196.5" stroke="#999999" stroke-width="1"/>
<line x1="279.50" y1="29.5" x2="279.50" y2="32.5" stroke="#999999" stroke-width="1"/>
<line x1="279.50" y1="199.5" x2="279.50" y2="196.5" stroke="#999999" stroke-width="1"/>
<line x1="300.50" y1="29.5" x2="300.50" y2="32.5" stroke="#999999" stroke-width="1"/>
<line x1="300.50" y1="199.5" x2="300.50" y2="196.5" stroke="#999999" stroke-width="1"/>
<text x="24.50" y="210.0" font-size="7.2" fill="#383838" text-anchor="middle">0</text>
<text x="45.71" y="210.0" font-size="7.2" fill="#383838" text-anchor="middle">12</text>
<text x="66.93" y="210.0" font-size="7.2" fill="#383838" text-anchor="middle">24</text>
<text x="88.14" y="210.0" font-size="7.2" fill="#383838" text-anchor="middle">36</text>
<text x="109.36" y="210.0" font-size="7.2" fill="#383838" text-anchor="middle">48</text>
<text x="130.57" y="210.0" font-size="7.2" fill="#383838" text-anchor="middle">60</text>
<text x="151.79" y="210.0" font-size="7.2" fill="#383838" text-anchor="middle">72</text>
<text x="173.00" y="210.0" font-size="7.2" fill="#383838" text-anchor="middle">84</text>
<text x="194.21" y="210.0" font-size="7.2" fill="#383838" text-anchor="middle">96</text>
<text x="215.43" y="210.0" font-size="7.2" fill="#383838" text-anchor="middle">108</text>
<text x="236.64" y="210.0" font-size="7.2" fill="#383838" text-anchor="middle">120</text>
<text x="257.86" y="210.0" font-size="7.2" fill="#383838" text-anchor="middle">132</text>
<text x="279.07" y="210.0" font-size="7.2" fill="#383838" text-anchor="middle">144</text>
<text x="300.29" y="210.0" font-size="7.2" fill="#383838" text-anchor="middle">156</text>
<text x="321.50" y="210.0" font-size="7.2" fill="#383838" text-anchor="middle">168</text>
<text x="173.00" y="217.0" font-size="7.5" fill="#383838" text-anchor="middle">Hours</text>
<text x="21.3" y="43.5" font-size="7.2" fill="#383838" text-anchor="end">R18</text>
<text x="21.3" y="64.5" font-size="7.2" fill="#383838" text-anchor="end">R17</text>
<text x="21.3" y="85.5" font-size="7.2" fill="#383838" text-anchor="end">R16</text>
<text x="21.3" y="106.8" font-size="7.2" fill="#383838" text-anchor="end">R15</text>
<text x="21.3" y="128.1" font-size="7.2" fill="#383838" text-anchor="end">R14</text>
<text x="21.3" y="149.3" font-size="7.2" fill="#383838" text-anchor="end">R13</text>
<text x="21.3" y="170.5" font-size="7.2" fill="#383838" text-anchor="end">R11</text>
<text x="21.3" y="191.5" font-size="7.2" fill="#383838" text-anchor="end">R10</text>
<text x="56.3" y="11.4" font-size="8.3" font-weight="bold" fill="#000">Comparison GLO-M BROADCAST-CODE: week 1950 - max5</text>
<line x1="135.5" y1="16.0" x2="135.5" y2="21.5" stroke="#999" stroke-width="1"/>
<line x1="134.7" y1="16.0" x2="136.3" y2="16.0" stroke="#666" stroke-width="1"/>
<line x1="134.7" y1="21.5" x2="136.3" y2="21.5" stroke="#666" stroke-width="1"/>
<text x="143.8" y="21.7" font-size="7.55" fill="#383838">= 2.5 m or 20.0 ns</text>
<rect x="69.2" y="227.0" width="236.00" height="12.20" fill="#fff" stroke="#999999" stroke-width="1"/>
<circle cx="99.2" cy="232.9" r="0.9" fill="#0000ff"/>
<text x="108.7" y="235.7" font-size="6.4" fill="#888" font-style="italic" font-family="Liberation Serif">δ</text>
<text x="114.2" y="235.7" font-size="6.4" fill="#383838">R</text>
<circle cx="154.2" cy="232.9" r="0.9" fill="#ff0000"/>
<text x="163.7" y="235.7" font-size="6.4" fill="#888" font-style="italic" font-family="Liberation Serif">δ</text>
<text x="169.2" y="235.7" font-size="6.4" fill="#383838">S</text>
<circle cx="208.9" cy="232.9" r="0.9" fill="#00ff00"/>
<text x="218.4" y="235.7" font-size="6.4" fill="#888" font-style="italic" font-family="Liberation Serif">δ</text>
<text x="223.9" y="235.7" font-size="6.4" fill="#383838">W</text>
<circle cx="264.5" cy="232.9" r="0.9" fill="#000000"/>
<text x="274.0" y="235.7" font-size="6.4" fill="#888" font-style="italic" font-family="Liberation Serif">δ</text>
<text x="279.5" y="235.7" font-size="6.4" fill="#383838">T</text>
<line x1="43.50" y1="267.5" x2="43.50" y2="396.5" stroke="#f2f2f2" stroke-width="1"/>
<line x1="64.50" y1="267.5" x2="64.50" y2="396.5" stroke="#f2f2f2" stroke-width="1"/>
<line x1="86.50" y1="267.5" x2="86.50" y2="396.5" stroke="#f2f2f2" stroke-width="1"/>
<line x1="108.50" y1="267.5" x2="108.50" y2="396.5" stroke="#f2f2f2" stroke-width="1"/>
<line x1="129.50" y1="267.5" x2="129.50" y2="396.5" stroke="#f2f2f2" stroke-width="1"/>
<line x1="151.50" y1="267.5" x2="151.50" y2="396.5" stroke="#f2f2f2" stroke-width="1"/>
<line x1="173.50" y1="267.5" x2="173.50" y2="396.5" stroke="#f2f2f2" stroke-width="1"/>
<line x1="194.50" y1="267.5" x2="194.50" y2="396.5" stroke="#f2f2f2" stroke-width="1"/>
<line x1="216.50" y1="267.5" x2="216.50" y2="396.5" stroke="#f2f2f2" stroke-width="1"/>
<line x1="237.50" y1="267.5" x2="237.50" y2="396.5" stroke="#f2f2f2" stroke-width="1"/>
<line x1="259.50" y1="267.5" x2="259.50" y2="396.5" stroke="#f2f2f2" stroke-width="1"/>
<line x1="281.50" y1="267.5" x2="281.50" y2="396.5" stroke="#f2f2f2" stroke-width="1"/>
<line x1="302.50" y1="267.5" x2="302.50" y2="396.5" stroke="#f2f2f2" stroke-width="1"/>
<clipPath id="cp1"><rect x="21.5" y="267.5" width="303.00" height="129.00"/></clipPath>
<g clip-path="url(#cp1)">
<polyline points="21.0,277.0 21.8,277.0 22.6,275.9 23.4,276.1 24.2,276.1 25.0,277.3 25.8,276.7 26.6,277.4 27.4,276.8 28.2,277.3 29.0,276.9 29.8,277.0 30.6,277.7 31.4,278.0 32.2,277.8 33.0,277.6 33.8,276.7 34.6,277.4 35.4,276.7 36.2,277.3 37.0,277.2 37.8,277.1 38.6,277.2 39.4,277.7 40.2,277.6 41.0,277.1 41.8,276.4 42.6,277.0 43.4,276.2 44.2,275.9 45.0,277.2 45.8,277.2 46.6,277.2 47.4,277.2 48.2,276.9 49.0,276.5 49.8,277.4 50.6,276.6 51.4,277.3 52.2,277.2 53.0,277.0 53.8,277.3 54.6,276.9 55.4,277.6 56.2,277.7 57.0,278.0 57.8,279.2 58.6,279.0 59.4,279.7 60.2,278.9 61.0,278.6 61.8,278.1 62.6,277.9 63.4,277.9 64.2,277.3 65.0,277.7 65.8,277.6 66.6,277.6 67.4,277.5 68.2,277.6 69.0,278.0 69.8,278.1 70.6,278.0 71.4,277.3 72.2,276.9 73.0,277.0 73.8,277.1 74.6,277.2 75.4,276.9 76.2,276.9 77.0,278.5 77.8,278.4 78.6,278.4 79.4,278.3 80.2,278.3 81.0,277.9 81.8,277.8 82.6,277.7 83.4,277.9 84.2,277.9 85.0,277.8 85.8,278.2 86.6,278.0 87.4,276.8 88.2,277.2 89.0,276.8 89.8,276.7 90.6,277.6 91.4,277.2 92.2,277.3 93.0,277.7 93.8,277.5 94.6,276.9 95.4,277.2 96.2,277.1 97.0,276.3 97.8,275.9 98.6,276.3 99.4,276.5 100.2,276.1 101.0,276.8 101.8,277.0 102.6,277.8 103.4,277.3 104.2,277.3 105.0,277.6 105.8,277.6 106.6,277.9 107.4,277.1 108.2,278.0 109.0,278.5 109.8,277.6 110.6,278.3 111.4,277.9 112.2,277.6 113.0,278.0 113.8,278.7 114.6,278.3 115.4,277.9 116.2,278.6 117.0,278.7 117.8,279.0 118.6,278.7 119.4,277.9 120.2,278.2 121.0,277.7 121.8,277.5 122.6,276.9 123.4,277.4 124.2,276.4 125.0,276.5 125.8,276.4 126.6,277.8 127.4,278.4 128.2,278.2 129.0,278.4 129.8,278.1 130.6,278.6 131.4,278.3 132.2,278.2 133.0,277.1 133.8,277.5 134.6,277.6 135.4,276.9 136.2,277.2 137.0,276.8 137.8,276.8 138.6,277.1 139.4,276.8 140.2,277.2 141.0,277.5 141.8,277.1 142.6,276.9 143.4,276.0 144.2,276.7 145.0,275.9 145.8,275.2 146.6,275.2 147.4,275.3 148.2,275.2 149.0,275.6 149.8,275.4 150.6,275.2 151.4,275.4 152.2,275.8 153.0,275.1 153.8,276.1 154.6,275.7 155.4,276.1 156.2,276.1 157.0,276.8 157.8,276.4 158.6,276.4 159.4,276.5 160.2,276.3 161.0,276.3 161.8,276.8 162.6,276.7 163.4,276.2 164.2,277.1 165.0,276.9 165.8,276.5 166.6,275.9 167.4,276.3 168.2,276.9 169.0,277.1 169.8,276.3 170.6,276.5 171.4,276.7 172.2,276.4 173.0,276.3 173.8,276.4 174.6,276.5 175.4,275.2 176.2,275.9 177.0,276.0 177.8,276.6 178.6,276.5 179.4,276.8 180.2,277.4 181.0,276.7 181.8,276.7 182.6,277.1 183.4,276.8 184.2,276.1 185.0,276.4 185.8,276.6 186.6,276.9 187.4,276.6 188.2,277.3 189.0,276.5 189.8,277.2 190.6,276.3 191.4,276.6 192.2,277.0 193.0,276.7 193.8,276.4 194.6,277.3 195.4,277.2 196.2,277.7 197.0,278.2 197.8,277.0 198.6,277.0 199.4,277.1 200.2,277.1 201.0,277.5 201.8,277.2 202.6,276.9 203.4,277.1 204.2,277.5 205.0,277.0 205.8,278.0 206.6,277.6 207.4,277.2 208.2,277.8 209.0,277.7 209.8,277.1 210.6,277.7 211.4,278.2 212.2,278.7 213.0,278.2 213.8,278.1 214.6,277.3 215.4,277.3 216.2,277.6 217.0,277.9 217.8,277.9 218.6,278.5 219.4,278.5 220.2,278.1 221.0,278.3 221.8,278.0 222.6,278.0 223.4,278.2 224.2,278.2 225.0,277.7 225.8,278.0 226.6,278.0 227.4,278.5 228.2,278.3 229.0,278.2 229.8,277.7 230.6,278.0 231.4,277.9 232.2,278.2 233.0,277.7 233.8,277.2 234.6,276.8 235.4,276.6 236.2,276.6 237.0,276.5 237.8,276.7 238.6,277.7 239.4,277.7 240.2,278.4 241.0,278.4 241.8,278.4 242.6,278.4 243.4,278.8 244.2,279.0 245.0,278.0 245.8,278.7 246.6,279.0 247.4,278.0 248.2,278.5 249.0,278.7 249.8,279.1 250.6,279.0 251.4,279.1 252.2,279.2 253.0,278.5 253.8,278.3 254.6,278.1 255.4,277.5 256.2,277.3 257.0,277.1 257.8,277.3 258.6,277.4 259.4,277.5 260.2,277.8 261.0,277.4 261.8,277.6 262.6,277.0 263.4,277.0 264.2,277.2 265.0,276.3 265.8,276.1 266.6,275.7 267.4,275.7 268.2,275.9 269.0,276.1 269.8,276.5 270.6,276.1 271.4,276.3 272.2,276.1 273.0,275.9 273.8,277.1 274.6,276.6 275.4,277.2 276.2,276.9 277.0,277.2 277.8,276.7 278.6,276.6 279.4,276.8 280.2,277.1 281.0,276.7 281.8,276.3 282.6,275.7 283.4,276.3 284.2,276.7 285.0,276.6 285.8,276.7 286.6,277.3 287.4,277.9 288.2,277.7 289.0,278.0 289.8,278.0 290.6,278.8 291.4,278.6 292.2,278.4 293.0,277.5 293.8,278.8 294.6,278.6 295.4,278.2 296.2,277.0 297.0,277.2 297.8,276.6 298.6,277.4 299.4,276.8 300.2,276.1 301.0,276.6 301.8,276.4 302.6,277.3 303.4,276.9 304.2,276.6 305.0,276.8 305.8,276.0 306.6,276.4 307.4,277.2 308.2,277.5 309.0,276.9 309.8,276.6 310.6,276.3 311.4,277.0 312.2,276.3 313.0,276.6 313.8,276.3 314.6,276.0 315.4,275.9 316.2,276.1 317.0,276.3 317.8,275.7 318.6,275.6 319.4,275.6 320.2,275.5 321.0,275.4 321.8,276.0 322.6,276.3 323.4,276.2" fill="none" stroke="#0000ff" stroke-width="1.7" stroke-linejoin="round" stroke-linecap="round"/>
<polyline points="21.0,300.2 21.8,300.3 22.6,300.4 23.4,299.9 24.2,299.8 25.0,299.4 25.8,299.4 26.6,299.7 27.4,299.3 28.2,300.2 29.0,301.4 29.8,301.0 30.6,300.2 31.4,300.5 32.2,300.6 33.0,300.6 33.8,301.2 34.6,300.7 35.4,301.5 36.2,300.8 37.0,300.8 37.8,300.2 38.6,299.3 39.4,300.0 40.2,299.8 41.0,299.9 41.8,300.1 42.6,300.7 43.4,300.5 44.2,300.1 45.0,300.4 45.8,300.8 46.6,300.2 47.4,300.1 48.2,299.9 49.0,299.5 49.8,299.6 50.6,299.0 51.4,299.1 52.2,299.5 53.0,299.5 53.8,300.5 54.6,300.3 55.4,299.9 56.2,300.3 57.0,299.8 57.8,300.3 58.6,300.2 59.4,300.9 60.2,300.4 61.0,299.8 61.8,300.0 62.6,299.1 63.4,300.0 64.2,300.2 65.0,300.4 65.8,300.7 66.6,301.2 67.4,299.8 68.2,300.6 69.0,300.3 69.8,300.4 70.6,299.7 71.4,299.3 72.2,299.9 73.0,300.1 73.8,300.8 74.6,301.1 75.4,301.3 76.2,301.3 77.0,301.4 77.8,301.1 78.6,301.0 79.4,300.2 80.2,299.7 81.0,299.9 81.8,300.3 82.6,300.5 83.4,300.7 84.2,300.7 85.0,300.1 85.8,300.5 86.6,301.0 87.4,300.3 88.2,300.4 89.0,299.9 89.8,299.8 90.6,298.7 91.4,299.4 92.2,299.5 93.0,299.5 93.8,300.2 94.6,299.5 95.4,299.7 96.2,300.4 97.0,299.8 97.8,300.7 98.6,300.3 99.4,300.5 100.2,300.8 101.0,300.3 101.8,300.6 102.6,300.7 103.4,299.7 104.2,299.9 105.0,300.0 105.8,300.4 106.6,300.6 107.4,300.3 108.2,300.5 109.0,300.9 109.8,300.7 110.6,301.5 111.4,301.6 112.2,300.8 113.0,301.7 113.8,300.9 114.6,301.4 115.4,302.0 116.2,301.6 117.0,302.0 117.8,301.1 118.6,301.0 119.4,300.8 120.2,300.7 121.0,301.1 121.8,301.1 122.6,301.0 123.4,300.9 124.2,300.5 125.0,300.0 125.8,300.4 126.6,300.8 127.4,299.9 128.2,300.2 129.0,299.4 129.8,299.4 130.6,300.1 131.4,299.5 132.2,299.8 133.0,299.5 133.8,299.8 134.6,300.0 135.4,299.3 136.2,300.5 137.0,300.1 137.8,301.0 138.6,300.5 139.4,300.1 140.2,299.9 141.0,299.8 141.8,300.2 142.6,300.2 143.4,299.7 144.2,299.1 145.0,299.5 145.8,299.5 146.6,300.2 147.4,300.2 148.2,301.0 149.0,300.0 149.8,300.5 150.6,300.7 151.4,300.4 152.2,301.2 153.0,301.5 153.8,301.0 154.6,301.1 155.4,301.5 156.2,300.5 157.0,300.4 157.8,299.9 158.6,300.7 159.4,300.0 160.2,300.3 161.0,299.6 161.8,299.7 162.6,300.5 163.4,299.1 164.2,300.3 165.0,299.2 165.8,299.7 166.6,299.8 167.4,301.2 168.2,301.0 169.0,300.5 169.8,301.0 170.6,301.4 171.4,301.3 172.2,301.3 173.0,300.6 173.8,299.9 174.6,300.0 175.4,299.4 176.2,299.5 177.0,299.6 177.8,299.2 178.6,299.6 179.4,300.0 180.2,300.5 181.0,300.1 181.8,300.1 182.6,300.3 183.4,300.1 184.2,300.0 185.0,300.3 185.8,299.0 186.6,298.2 187.4,298.6 188.2,299.4 189.0,299.9 189.8,299.9 190.6,299.0 191.4,299.0 192.2,300.0 193.0,299.6 193.8,299.5 194.6,300.2 195.4,300.2 196.2,301.4 197.0,300.3 197.8,299.2 198.6,299.3 199.4,298.9 200.2,299.3 201.0,299.8 201.8,300.5 202.6,300.0 203.4,299.5 204.2,299.7 205.0,299.3 205.8,298.9 206.6,299.5 207.4,298.9 208.2,299.5 209.0,299.2 209.8,299.7 210.6,299.0 211.4,298.0 212.2,298.9 213.0,297.6 213.8,297.8 214.6,297.9 215.4,298.2 216.2,297.6 217.0,297.9 217.8,298.6 218.6,298.0 219.4,298.6 220.2,298.8 221.0,298.8 221.8,298.7 222.6,299.1 223.4,299.6 224.2,298.9 225.0,298.4 225.8,298.2 226.6,298.6 227.4,298.3 228.2,297.8 229.0,298.4 229.8,298.5 230.6,299.4 231.4,298.9 232.2,299.4 233.0,299.4 233.8,299.9 234.6,299.6 235.4,299.9 236.2,299.8 237.0,300.0 237.8,300.0 238.6,300.2 239.4,300.0 240.2,300.6 241.0,300.7 241.8,300.2 242.6,301.5 243.4,301.1 244.2,300.2 245.0,301.1 245.8,300.9 246.6,300.6 247.4,301.2 248.2,300.7 249.0,301.2 249.8,300.9 250.6,301.7 251.4,301.7 252.2,301.0 253.0,301.3 253.8,300.5 254.6,300.4 255.4,301.3 256.2,301.4 257.0,300.8 257.8,301.2 258.6,301.3 259.4,301.3 260.2,300.8 261.0,300.6 261.8,300.0 262.6,300.9 263.4,300.1 264.2,301.1 265.0,300.0 265.8,300.0 266.6,299.8 267.4,299.5 268.2,300.5 269.0,300.1 269.8,300.2 270.6,301.4 271.4,300.6 272.2,300.9 273.0,301.5 273.8,301.2 274.6,300.7 275.4,301.0 276.2,300.8 277.0,300.8 277.8,300.3 278.6,300.2 279.4,300.8 280.2,300.3 281.0,301.2 281.8,301.2 282.6,301.4 283.4,301.7 284.2,302.2 285.0,301.7 285.8,300.3 286.6,301.0 287.4,300.9 288.2,301.2 289.0,300.1 289.8,299.9 290.6,299.5 291.4,299.3 292.2,299.2 293.0,299.1 293.8,299.2 294.6,299.3 295.4,299.4 296.2,298.9 297.0,299.6 297.8,299.8 298.6,299.1 299.4,298.9 300.2,299.3 301.0,299.2 301.8,299.7 302.6,300.1 303.4,300.9 304.2,300.4 305.0,299.6 305.8,300.6 306.6,300.9 307.4,300.7 308.2,300.2 309.0,299.9 309.8,300.0 310.6,299.9 311.4,300.6 312.2,301.1 313.0,301.0 313.8,302.1 314.6,301.1 315.4,300.4 316.2,300.6 317.0,299.8 317.8,299.7 318.6,300.0 319.4,300.5 320.2,299.9 321.0,300.5 321.8,301.0 322.6,301.1 323.4,301.1" fill="none" stroke="#0000ff" stroke-width="1.7" stroke-linejoin="round" stroke-linecap="round"/>
<polyline points="21.0,321.3 21.8,321.8 22.6,321.2 23.4,321.3 24.2,321.3 25.0,320.9 25.8,321.3 26.6,321.4 27.4,321.6 28.2,322.1 29.0,322.4 29.8,321.8 30.6,321.8 31.4,322.5 32.2,322.4 33.0,322.1 33.8,322.7 34.6,322.3 35.4,321.9 36.2,322.2 37.0,321.8 37.8,321.6 38.6,321.6 39.4,322.6 40.2,322.2 41.0,322.0 41.8,321.7 42.6,322.4 43.4,322.0 44.2,322.0 45.0,321.2 45.8,322.0 46.6,321.2 47.4,321.8 48.2,321.5 49.0,321.3 49.8,321.6 50.6,321.7 51.4,322.5 52.2,321.8 53.0,322.6 53.8,321.3 54.6,322.7 55.4,322.1 56.2,321.5 57.0,321.8 57.8,322.3 58.6,322.1 59.4,321.6 60.2,321.1 61.0,320.4 61.8,320.5 62.6,321.7 63.4,321.3 64.2,322.3 65.0,321.9 65.8,321.8 66.6,321.9 67.4,322.4 68.2,321.7 69.0,321.6 69.8,321.9 70.6,321.9 71.4,322.2 72.2,322.5 73.0,322.6 73.8,322.8 74.6,323.1 75.4,322.6 76.2,322.4 77.0,322.6 77.8,322.7 78.6,323.3 79.4,323.4 80.2,322.7 81.0,322.7 81.8,322.1 82.6,321.4 83.4,322.7 84.2,322.5 85.0,321.7 85.8,322.1 86.6,322.1 87.4,322.1 88.2,321.7 89.0,321.3 89.8,320.7 90.6,320.7 91.4,321.3 92.2,321.4 93.0,320.5 93.8,320.2 94.6,320.3 95.4,320.9 96.2,320.8 97.0,320.5 97.8,321.6 98.6,322.1 99.4,322.7 100.2,322.3 101.0,322.3 101.8,322.6 102.6,322.9 103.4,322.5 104.2,322.1 105.0,322.2 105.8,322.2 106.6,321.9 107.4,322.4 108.2,321.6 109.0,322.3 109.8,322.0 110.6,322.0 111.4,321.2 112.2,322.4 113.0,321.7 113.8,322.2 114.6,321.2 115.4,321.2 116.2,322.1 117.0,322.8 117.8,321.7 118.6,322.3 119.4,322.1 120.2,322.7 121.0,321.9 121.8,322.3 122.6,321.9 123.4,321.6 124.2,321.9 125.0,321.2 125.8,321.8 126.6,321.8 127.4,321.6 128.2,321.7 129.0,321.5 129.8,321.2 130.6,321.3 131.4,321.1 132.2,322.2 133.0,321.7 133.8,322.3 134.6,322.1 135.4,321.4 136.2,321.6 137.0,321.1 137.8,321.9 138.6,322.0 139.4,323.2 140.2,322.8 141.0,322.1 141.8,321.7 142.6,322.0 143.4,321.6 144.2,321.5 145.0,322.6 145.8,322.2 146.6,322.1 147.4,322.2 148.2,321.4 149.0,321.0 149.8,321.6 150.6,321.6 151.4,320.7 152.2,321.2 153.0,321.3 153.8,321.5 154.6,321.7 155.4,321.9 156.2,322.4 157.0,322.1 157.8,322.3 158.6,323.1 159.4,322.1 160.2,321.9 161.0,321.9 161.8,321.6 162.6,322.1 163.4,322.0 164.2,322.7 165.0,321.3 165.8,321.5 166.6,321.9 167.4,321.9 168.2,322.3 169.0,322.5 169.8,323.2 170.6,322.3 171.4,322.1 172.2,322.5 173.0,322.3 173.8,322.2 174.6,322.3 175.4,321.6 176.2,321.9 177.0,320.9 177.8,321.5 178.6,321.4 179.4,321.3 180.2,321.3 181.0,321.3 181.8,321.6 182.6,322.2 183.4,321.9 184.2,322.1 185.0,322.1 185.8,322.4 186.6,321.9 187.4,321.7 188.2,321.9 189.0,322.3 189.8,322.6 190.6,322.1 191.4,322.4 192.2,322.6 193.0,321.4 193.8,322.2 194.6,322.1 195.4,322.0 196.2,322.2 197.0,322.0 197.8,321.9 198.6,321.5 199.4,321.8 200.2,321.0 201.0,320.6 201.8,321.6 202.6,321.0 203.4,321.2 204.2,321.6 205.0,322.1 205.8,322.2 206.6,322.9 207.4,321.6 208.2,322.1 209.0,321.0 209.8,320.8 210.6,321.7 211.4,321.3 212.2,321.4 213.0,321.4 213.8,321.3 214.6,322.3 215.4,321.5 216.2,322.4 217.0,321.5 217.8,321.5 218.6,321.4 219.4,321.3 220.2,321.0 221.0,321.6 221.8,320.9 222.6,321.9 223.4,321.7 224.2,322.0 225.0,322.0 225.8,320.9 226.6,321.0 227.4,320.3 228.2,320.3 229.0,321.3 229.8,320.4 230.6,320.7 231.4,320.8 232.2,321.2 233.0,321.5 233.8,321.1 234.6,320.7 235.4,321.0 236.2,321.2 237.0,321.3 237.8,321.0 238.6,322.1 239.4,321.7 240.2,321.5 241.0,321.1 241.8,321.0 242.6,321.7 243.4,321.7 244.2,321.7 245.0,321.2 245.8,320.2 246.6,320.5 247.4,321.2 248.2,321.2 249.0,321.0 249.8,321.2 250.6,321.8 251.4,320.9 252.2,321.7 253.0,321.9 253.8,323.0 254.6,322.9 255.4,322.4 256.2,322.0 257.0,322.9 257.8,322.3 258.6,321.7 259.4,322.3 260.2,322.0 261.0,321.4 261.8,321.8 262.6,321.7 263.4,321.9 264.2,321.6 265.0,321.4 265.8,321.9 266.6,321.5 267.4,321.2 268.2,321.0 269.0,321.5 269.8,320.6 270.6,320.9 271.4,321.3 272.2,321.5 273.0,320.9 273.8,320.5 274.6,321.2 275.4,321.0 276.2,321.2 277.0,320.7 277.8,320.7 278.6,321.2 279.4,321.2 280.2,321.5 281.0,321.1 281.8,321.8 282.6,321.3 283.4,320.3 284.2,320.3 285.0,320.8 285.8,320.9 286.6,321.2 287.4,320.8 288.2,321.0 289.0,321.6 289.8,321.7 290.6,322.2 291.4,321.7 292.2,321.6 293.0,322.0 293.8,321.8 294.6,321.7 295.4,322.4 296.2,322.0 297.0,322.6 297.8,323.1 298.6,322.7 299.4,322.3 300.2,322.4 301.0,321.7 301.8,322.1 302.6,322.4 303.4,322.2 304.2,322.2 305.0,320.9 305.8,320.8 306.6,320.6 307.4,320.5 308.2,319.8 309.0,319.5 309.8,319.9 310.6,320.0 311.4,319.9 312.2,320.4 313.0,320.5 313.8,320.8 314.6,321.3 315.4,321.5 316.2,320.8 317.0,320.4 317.8,320.8 318.6,321.1 319.4,321.5 320.2,321.1 321.0,322.0 321.8,321.4 322.6,320.6 323.4,321.5" fill="none" stroke="#0000ff" stroke-width="1.7" stroke-linejoin="round" stroke-linecap="round"/>
<polyline points="21.0,341.3 21.8,341.3 22.6,341.5 23.4,341.4 24.2,342.2 25.0,341.8 25.8,342.1 26.6,341.6 27.4,342.5 28.2,343.0 29.0,343.1 29.8,342.9 30.6,342.3 31.4,343.0 32.2,342.5 33.0,343.2 33.8,342.5 34.6,342.2 35.4,341.7 36.2,342.0 37.0,342.5 37.8,341.9 38.6,341.9 39.4,341.6 40.2,342.1 41.0,340.9 41.8,341.6 42.6,341.7 43.4,342.4 44.2,342.5 45.0,342.4 45.8,341.3 46.6,342.0 47.4,342.2 48.2,341.8 49.0,342.2 49.8,341.4 50.6,342.3 51.4,342.4 52.2,342.1 53.0,342.9 53.8,342.8 54.6,342.2 55.4,341.9 56.2,341.9 57.0,342.0 57.8,341.5 58.6,341.8 59.4,341.9 60.2,342.4 61.0,341.9 61.8,342.2 62.6,341.6 63.4,341.5 64.2,342.7 65.0,341.5 65.8,341.5 66.6,342.0 67.4,342.4 68.2,341.1 69.0,342.0 69.8,341.7 70.6,342.6 71.4,342.5 72.2,342.3 73.0,342.3 73.8,341.9 74.6,341.5 75.4,341.7 76.2,342.7 77.0,342.2 77.8,343.0 78.6,343.3 79.4,342.4 80.2,343.2 81.0,342.7 81.8,342.8 82.6,342.8 83.4,342.7 84.2,342.0 85.0,342.1 85.8,341.7 86.6,341.5 87.4,341.8 88.2,341.3 89.0,341.7 89.8,341.1 90.6,341.8 91.4,342.1 92.2,342.6 93.0,342.9 93.8,343.2 94.6,343.1 95.4,343.9 96.2,342.7 97.0,343.2 97.8,343.6 98.6,342.4 99.4,342.0 100.2,342.8 101.0,342.4 101.8,341.9 102.6,342.2 103.4,341.4 104.2,341.3 105.0,342.6 105.8,343.1 106.6,343.0 107.4,341.8 108.2,341.2 109.0,341.6 109.8,341.7 110.6,341.5 111.4,341.6 112.2,340.9 113.0,341.1 113.8,341.8 114.6,342.1 115.4,342.3 116.2,342.7 117.0,342.2 117.8,342.5 118.6,342.5 119.4,342.0 120.2,342.1 121.0,342.4 121.8,342.1 122.6,342.4 123.4,341.8 124.2,342.2 125.0,341.6 125.8,341.8 126.6,341.5 127.4,341.4 128.2,342.0 129.0,341.5 129.8,342.1 130.6,341.8 131.4,342.1 132.2,341.3 133.0,341.6 133.8,342.1 134.6,341.8 135.4,341.9 136.2,342.2 137.0,343.2 137.8,343.7 138.6,342.6 139.4,342.7 140.2,342.3 141.0,342.3 141.8,342.4 142.6,342.4 143.4,341.5 144.2,341.8 145.0,342.0 145.8,341.5 146.6,342.0 147.4,341.8 148.2,342.6 149.0,342.9 149.8,342.6 150.6,341.8 151.4,342.2 152.2,342.2 153.0,342.0 153.8,342.7 154.6,343.0 155.4,343.3 156.2,343.7 157.0,343.3 157.8,343.6 158.6,343.2 159.4,343.2 160.2,342.2 161.0,342.6 161.8,341.6 162.6,341.9 163.4,341.7 164.2,341.9 165.0,341.7 165.8,341.3 166.6,342.0 167.4,342.5 168.2,341.5 169.0,342.5 169.8,341.9 170.6,342.1 171.4,340.8 172.2,340.9 173.0,341.6 173.8,342.3 174.6,342.2 175.4,342.3 176.2,342.2 177.0,341.9 177.8,341.7 178.6,342.0 179.4,341.6 180.2,342.1 181.0,342.0 181.8,341.5 182.6,341.7 183.4,341.1 184.2,341.9 185.0,341.1 185.8,341.4 186.6,341.6 187.4,342.3 188.2,342.6 189.0,342.0 189.8,342.3 190.6,342.1 191.4,342.6 192.2,342.9 193.0,343.1 193.8,342.4 194.6,343.0 195.4,342.1 196.2,341.4 197.0,342.3 197.8,342.3 198.6,342.0 199.4,341.7 200.2,342.8 201.0,342.6 201.8,342.7 202.6,342.4 203.4,342.3 204.2,342.9 205.0,342.9 205.8,342.2 206.6,342.9 207.4,342.6 208.2,342.6 209.0,342.9 209.8,342.4 210.6,343.1 211.4,342.5 212.2,342.6 213.0,343.1 213.8,343.0 214.6,342.7 215.4,342.2 216.2,342.6 217.0,342.6 217.8,342.4 218.6,342.9 219.4,343.7 220.2,342.4 221.0,342.0 221.8,343.4 222.6,342.9 223.4,343.7 224.2,343.1 225.0,342.6 225.8,342.2 226.6,342.6 227.4,342.5 228.2,342.0 229.0,342.6 229.8,342.7 230.6,343.1 231.4,342.5 232.2,342.8 233.0,342.8 233.8,343.0 234.6,342.8 235.4,342.9 236.2,343.0 237.0,341.9 237.8,342.1 238.6,342.3 239.4,341.8 240.2,342.5 241.0,342.4 241.8,342.3 242.6,341.7 243.4,341.9 244.2,342.5 245.0,343.1 245.8,342.4 246.6,342.8 247.4,342.7 248.2,342.5 249.0,343.0 249.8,342.8 250.6,342.9 251.4,342.6 252.2,342.3 253.0,342.7 253.8,342.4 254.6,342.4 255.4,342.8 256.2,343.2 257.0,343.3 257.8,343.8 258.6,343.5 259.4,343.2 260.2,343.5 261.0,343.3 261.8,342.5 262.6,342.4 263.4,341.8 264.2,341.9 265.0,342.4 265.8,342.4 266.6,342.4 267.4,342.4 268.2,342.2 269.0,342.3 269.8,342.6 270.6,342.2 271.4,341.9 272.2,341.7 273.0,342.2 273.8,341.7 274.6,341.7 275.4,342.6 276.2,341.6 277.0,341.6 277.8,341.6 278.6,341.9 279.4,342.1 280.2,342.0 281.0,342.0 281.8,342.0 282.6,341.7 283.4,342.4 284.2,342.4 285.0,342.3 285.8,342.0 286.6,342.3 287.4,342.9 288.2,342.5 289.0,341.6 289.8,342.0 290.6,341.4 291.4,341.3 292.2,342.1 293.0,341.9 293.8,341.8 294.6,342.1 295.4,342.2 296.2,342.1 297.0,341.8 297.8,342.0 298.6,342.4 299.4,343.1 300.2,343.0 301.0,342.6 301.8,342.2 302.6,341.9 303.4,342.3 304.2,342.2 305.0,342.0 305.8,342.4 306.6,342.1 307.4,341.7 308.2,342.3 309.0,342.3 309.8,342.1 310.6,342.6 311.4,342.0 312.2,342.2 313.0,342.2 313.8,342.6 314.6,342.4 315.4,341.5 316.2,341.7 317.0,341.5 317.8,341.9 318.6,341.3 319.4,341.3 320.2,341.5 321.0,340.8 321.8,340.7 322.6,341.7 323.4,341.2" fill="none" stroke="#0000ff" stroke-width="1.7" stroke-linejoin="round" stroke-linecap="round"/>
<polyline points="21.0,363.6 21.8,363.2 22.6,364.2 23.4,363.9 24.2,363.7 25.0,364.1 25.8,364.9 26.6,364.0 27.4,364.0 28.2,364.5 29.0,364.4 29.8,364.5 30.6,365.1 31.4,364.4 32.2,365.1 33.0,365.4 33.8,364.1 34.6,365.5 35.4,365.1 36.2,364.3 37.0,365.0 37.8,364.7 38.6,364.5 39.4,363.7 40.2,365.1 41.0,365.3 41.8,364.6 42.6,364.4 43.4,364.2 44.2,363.9 45.0,364.3 45.8,364.9 46.6,364.5 47.4,365.0 48.2,365.9 49.0,365.4 49.8,365.7 50.6,366.3 51.4,366.0 52.2,366.0 53.0,365.9 53.8,365.9 54.6,365.1 55.4,365.6 56.2,365.8 57.0,365.2 57.8,364.7 58.6,364.5 59.4,364.5 60.2,364.6 61.0,364.1 61.8,363.9 62.6,364.5 63.4,363.7 64.2,363.7 65.0,364.6 65.8,363.6 66.6,363.8 67.4,364.0 68.2,364.4 69.0,364.1 69.8,363.9 70.6,363.7 71.4,362.7 72.2,363.4 73.0,363.9 73.8,364.6 74.6,364.5 75.4,365.5 76.2,365.4 77.0,364.9 77.8,365.3 78.6,364.7 79.4,364.4 80.2,364.4 81.0,364.8 81.8,365.6 82.6,365.5 83.4,365.7 84.2,365.7 85.0,365.7 85.8,365.6 86.6,365.3 87.4,365.2 88.2,364.8 89.0,364.6 89.8,364.9 90.6,364.3 91.4,364.8 92.2,364.6 93.0,365.2 93.8,364.5 94.6,364.5 95.4,365.3 96.2,365.2 97.0,365.9 97.8,365.8 98.6,364.6 99.4,364.8 100.2,365.2 101.0,366.2 101.8,365.4 102.6,365.8 103.4,365.2 104.2,365.8 105.0,365.5 105.8,365.7 106.6,365.9 107.4,366.1 108.2,366.2 109.0,366.2 109.8,365.5 110.6,365.7 111.4,365.6 112.2,365.2 113.0,366.8 113.8,366.3 114.6,365.5 115.4,366.1 116.2,365.5 117.0,365.4 117.8,365.1 118.6,365.6 119.4,365.7 120.2,365.5 121.0,365.3 121.8,365.2 122.6,364.8 123.4,364.1 124.2,365.2 125.0,364.6 125.8,364.5 126.6,364.6 127.4,364.1 128.2,364.1 129.0,363.8 129.8,364.6 130.6,364.4 131.4,364.1 132.2,364.5 133.0,364.1 133.8,365.1 134.6,365.2 135.4,365.6 136.2,365.1 137.0,364.7 137.8,365.5 138.6,364.7 139.4,364.8 140.2,365.0 141.0,365.5 141.8,363.9 142.6,364.2 143.4,364.8 144.2,365.0 145.0,365.2 145.8,364.9 146.6,365.0 147.4,365.9 148.2,366.5 149.0,366.3 149.8,366.6 150.6,366.0 151.4,365.9 152.2,365.4 153.0,366.5 153.8,366.6 154.6,366.2 155.4,366.0 156.2,366.2 157.0,365.2 157.8,366.3 158.6,365.7 159.4,365.9 160.2,366.5 161.0,366.1 161.8,366.1 162.6,366.5 163.4,365.7 164.2,365.7 165.0,366.0 165.8,366.1 166.6,365.8 167.4,365.6 168.2,365.6 169.0,365.7 169.8,366.4 170.6,366.1 171.4,366.6 172.2,366.7 173.0,366.2 173.8,365.8 174.6,365.8 175.4,366.2 176.2,365.8 177.0,366.0 177.8,365.7 178.6,365.9 179.4,366.0 180.2,366.3 181.0,367.0 181.8,366.6 182.6,366.3 183.4,366.2 184.2,367.0 185.0,365.9 185.8,365.8 186.6,365.8 187.4,366.6 188.2,366.7 189.0,367.0 189.8,365.9 190.6,366.1 191.4,366.7 192.2,366.1 193.0,366.3 193.8,366.4 194.6,367.0 195.4,367.7 196.2,368.1 197.0,368.0 197.8,367.7 198.6,368.1 199.4,367.1 200.2,367.6 201.0,366.9 201.8,366.4 202.6,366.4 203.4,366.6 204.2,366.4 205.0,365.7 205.8,366.3 206.6,365.8 207.4,366.4 208.2,365.1 209.0,364.6 209.8,364.7 210.6,365.2 211.4,365.1 212.2,364.4 213.0,364.8 213.8,364.9 214.6,365.6 215.4,365.6 216.2,365.3 217.0,365.9 217.8,365.5 218.6,365.0 219.4,365.2 220.2,365.5 221.0,365.5 221.8,365.7 222.6,365.6 223.4,365.4 224.2,365.9 225.0,366.0 225.8,366.4 226.6,366.4 227.4,365.9 228.2,365.4 229.0,365.3 229.8,365.6 230.6,365.8 231.4,365.9 232.2,365.8 233.0,365.9 233.8,366.2 234.6,366.5 235.4,366.7 236.2,366.8 237.0,366.7 237.8,366.8 238.6,366.6 239.4,367.5 240.2,367.1 241.0,367.7 241.8,368.2 242.6,367.6 243.4,367.8 244.2,367.4 245.0,368.1 245.8,367.8 246.6,368.4 247.4,367.6 248.2,367.3 249.0,367.5 249.8,367.4 250.6,367.2 251.4,366.8 252.2,367.1 253.0,367.3 253.8,367.2 254.6,366.9 255.4,368.0 256.2,368.3 257.0,367.7 257.8,367.6 258.6,368.0 259.4,367.6 260.2,366.6 261.0,366.6 261.8,367.1 262.6,366.8 263.4,366.8 264.2,366.4 265.0,367.0 265.8,366.7 266.6,367.1 267.4,367.7 268.2,366.9 269.0,367.1 269.8,366.7 270.6,367.2 271.4,367.1 272.2,366.9 273.0,367.0 273.8,366.8 274.6,367.4 275.4,366.4 276.2,366.8 277.0,367.0 277.8,365.9 278.6,365.6 279.4,366.4 280.2,365.9 281.0,366.8 281.8,366.3 282.6,366.5 283.4,366.9 284.2,366.7 285.0,366.4 285.8,366.3 286.6,366.3 287.4,366.1 288.2,365.8 289.0,366.4 289.8,366.6 290.6,365.5 291.4,365.9 292.2,365.5 293.0,365.9 293.8,366.3 294.6,366.5 295.4,365.7 296.2,366.7 297.0,366.5 297.8,366.7 298.6,367.2 299.4,367.8 300.2,368.2 301.0,366.9 301.8,365.9 302.6,365.9 303.4,366.2 304.2,366.7 305.0,366.6 305.8,366.9 306.6,367.1 307.4,367.0 308.2,366.6 309.0,367.0 309.8,367.8 310.6,366.9 311.4,366.5 312.2,366.1 313.0,366.5 313.8,366.3 314.6,365.7 315.4,366.5 316.2,366.2 317.0,365.9 317.8,365.7 318.6,366.1 319.4,365.5 320.2,365.8 321.0,366.1 321.8,366.8 322.6,366.8 323.4,367.2" fill="none" stroke="#0000ff" stroke-width="1.7" stroke-linejoin="round" stroke-linecap="round"/>
<polyline points="21.0,385.1 21.8,385.3 22.6,385.6 23.4,386.4 24.2,386.7 25.0,387.3 25.8,387.3 26.6,387.7 27.4,388.6 28.2,388.9 29.0,388.7 29.8,388.7 30.6,388.9 31.4,388.4 32.2,388.7 33.0,389.7 33.8,388.2 34.6,387.2 35.4,386.7 36.2,386.4 37.0,385.7 37.8,385.4 38.6,384.7 39.4,385.2 40.2,384.4 41.0,385.7 41.8,385.0 42.6,384.9 43.4,385.9 44.2,386.3 45.0,386.4 45.8,385.9 46.6,386.7 47.4,386.0 48.2,386.6 49.0,387.0 49.8,387.5 50.6,387.3 51.4,387.7 52.2,387.5 53.0,388.4 53.8,389.0 54.6,388.3 55.4,388.2 56.2,387.8 57.0,387.3 57.8,387.1 58.6,385.8 59.4,385.7 60.2,385.4 61.0,385.3 61.8,384.5 62.6,384.6 63.4,384.8 64.2,384.0 65.0,383.6 65.8,383.4 66.6,383.1 67.4,383.4 68.2,383.9 69.0,384.0 69.8,384.2 70.6,383.5 71.4,383.8 72.2,384.7 73.0,384.4 73.8,384.4 74.6,385.0 75.4,385.4 76.2,385.8 77.0,385.7 77.8,385.7 78.6,386.0 79.4,386.1 80.2,386.9 81.0,386.6 81.8,387.9 82.6,388.0 83.4,387.6 84.2,387.1 85.0,387.0 85.8,387.3 86.6,386.4 87.4,387.1 88.2,387.6 89.0,386.4 89.8,386.8 90.6,387.2 91.4,386.8 92.2,387.5 93.0,387.6 93.8,387.6 94.6,388.7 95.4,388.7 96.2,388.3 97.0,388.5 97.8,388.2 98.6,388.2 99.4,388.7 100.2,388.4 101.0,388.1 101.8,388.0 102.6,388.4 103.4,388.4 104.2,388.1 105.0,388.0 105.8,388.0 106.6,388.6 107.4,388.5 108.2,388.2 109.0,387.7 109.8,387.5 110.6,387.7 111.4,388.2 112.2,387.5 113.0,387.8 113.8,387.4 114.6,388.0 115.4,387.7 116.2,387.5 117.0,387.4 117.8,387.5 118.6,388.1 119.4,388.2 120.2,388.5 121.0,388.5 121.8,388.3 122.6,388.6 123.4,388.8 124.2,388.5 125.0,387.8 125.8,387.3 126.6,387.8 127.4,387.1 128.2,387.5 129.0,387.1 129.8,387.1 130.6,386.3 131.4,385.7 132.2,386.6 133.0,386.1 133.8,385.6 134.6,385.6 135.4,385.5 136.2,385.4 137.0,385.5 137.8,384.2 138.6,384.4 139.4,383.8 140.2,384.4 141.0,384.6 141.8,384.6 142.6,384.6 143.4,383.7 144.2,384.4 145.0,384.2 145.8,384.2 146.6,384.4 147.4,384.1 148.2,383.7 149.0,383.7 149.8,383.2 150.6,383.5 151.4,383.8 152.2,383.5 153.0,383.2 153.8,383.2 154.6,383.4 155.4,382.9 156.2,383.5 157.0,383.8 157.8,384.6 158.6,383.6 159.4,383.7 160.2,383.9 161.0,383.9 161.8,384.0 162.6,384.4 163.4,383.6 164.2,383.9 165.0,383.9 165.8,384.7 166.6,385.0 167.4,385.0 168.2,386.3 169.0,386.2 169.8,385.8 170.6,385.1 171.4,384.9 172.2,385.8 173.0,385.7 173.8,386.2 174.6,385.5 175.4,385.5 176.2,385.2 177.0,385.9 177.8,386.1 178.6,386.1 179.4,386.9 180.2,385.9 181.0,386.0 181.8,386.7 182.6,386.6 183.4,386.5 184.2,386.1 185.0,386.6 185.8,387.0 186.6,387.0 187.4,387.0 188.2,386.2 189.0,385.9 189.8,385.7 190.6,386.3 191.4,386.3 192.2,386.4 193.0,385.6 193.8,386.5 194.6,386.9 195.4,387.5 196.2,387.1 197.0,387.5 197.8,386.5 198.6,386.1 199.4,387.1 200.2,386.9 201.0,386.9 201.8,387.1 202.6,386.9 203.4,386.7 204.2,387.4 205.0,386.7 205.8,387.3 206.6,387.4 207.4,387.1 208.2,387.7 209.0,388.1 209.8,387.4 210.6,387.5 211.4,387.2 212.2,388.1 213.0,387.9 213.8,388.8 214.6,389.1 215.4,389.1 216.2,389.1 217.0,388.8 217.8,388.0 218.6,389.3 219.4,388.9 220.2,389.5 221.0,389.3 221.8,389.6 222.6,388.9 223.4,388.3 224.2,388.9 225.0,388.8 225.8,388.8 226.6,389.3 227.4,389.7 228.2,389.6 229.0,389.7 229.8,389.3 230.6,388.7 231.4,389.0 232.2,388.4 233.0,388.7 233.8,389.0 234.6,389.1 235.4,389.1 236.2,388.8 237.0,389.6 237.8,389.3 238.6,388.6 239.4,388.8 240.2,388.3 241.0,387.6 241.8,388.0 242.6,387.8 243.4,388.4 244.2,387.9 245.0,388.4 245.8,387.7 246.6,387.8 247.4,387.1 248.2,387.3 249.0,387.6 249.8,387.0 250.6,387.5 251.4,387.3 252.2,387.5 253.0,387.6 253.8,387.0 254.6,388.1 255.4,387.6 256.2,387.5 257.0,388.0 257.8,388.0 258.6,387.8 259.4,388.0 260.2,388.5 261.0,388.6 261.8,388.3 262.6,388.0 263.4,389.2 264.2,389.1 265.0,388.8 265.8,389.3 266.6,388.9 267.4,388.8 268.2,388.1 269.0,388.1 269.8,388.2 270.6,387.9 271.4,388.1 272.2,389.2 273.0,388.1 273.8,388.3 274.6,388.9 275.4,388.4 276.2,388.9 277.0,388.7 277.8,388.4 278.6,388.3 279.4,388.1 280.2,388.8 281.0,388.6 281.8,389.1 282.6,389.3 283.4,388.7 284.2,388.8 285.0,389.1 285.8,388.2 286.6,389.4 287.4,389.1 288.2,388.6 289.0,388.7 289.8,389.1 290.6,389.0 291.4,389.2 292.2,388.6 293.0,388.7 293.8,388.4 294.6,388.5 295.4,389.7 296.2,389.5 297.0,389.8 297.8,389.6 298.6,390.3 299.4,389.3 300.2,389.1 301.0,389.4 301.8,389.0 302.6,388.9 303.4,388.8 304.2,389.2 305.0,389.2 305.8,389.5 306.6,388.3 307.4,388.7 308.2,388.1 309.0,388.7 309.8,388.6 310.6,388.2 311.4,389.1 312.2,389.2 313.0,388.6 313.8,388.6 314.6,387.8 315.4,387.6 316.2,387.9 317.0,387.6 317.8,388.8 318.6,388.6 319.4,388.3 320.2,389.2 321.0,388.7 321.8,387.8 322.6,388.4 323.4,388.3" fill="none" stroke="#0000ff" stroke-width="1.7" stroke-linejoin="round" stroke-linecap="round"/>
<polyline points="21.0,281.9 21.8,281.5 22.6,281.8 23.4,280.8 24.2,281.0 25.0,280.4 25.8,280.7 26.6,280.0 27.4,280.7 28.2,280.5 29.0,280.7 29.8,281.4 30.6,281.5 31.4,281.7 32.2,281.8 33.0,281.9 33.8,281.4 34.6,281.5 35.4,281.3 36.2,281.1 37.0,281.4 37.8,281.2 38.6,281.3 39.4,280.9 40.2,281.1 41.0,281.5 41.8,281.6 42.6,281.8 43.4,282.0 44.2,281.4 45.0,280.4 45.8,280.9 46.6,279.7 47.4,280.5 48.2,280.0 49.0,279.6 49.8,279.5 50.6,279.8 51.4,279.6 52.2,280.4 53.0,280.0 53.8,280.0 54.6,279.9 55.4,280.5 56.2,280.7 57.0,281.0 57.8,281.0 58.6,281.0 59.4,281.1 60.2,281.8 61.0,281.9 61.8,282.0 62.6,281.2 63.4,280.4 64.2,280.4 65.0,280.1 65.8,279.5 66.6,279.5 67.4,279.1 68.2,279.8 69.0,279.7 69.8,279.2 70.6,279.6 71.4,279.5 72.2,280.5 73.0,280.5 73.8,280.9 74.6,281.0 75.4,280.9 76.2,280.6 77.0,280.9 77.8,280.5 78.6,280.4 79.4,280.8 80.2,279.9 81.0,279.5 81.8,279.6 82.6,279.7 83.4,279.1 84.2,279.0 85.0,279.3 85.8,279.7 86.6,279.4 87.4,279.0 88.2,278.4 89.0,279.2 89.8,279.6 90.6,279.6 91.4,280.5 92.2,281.2 93.0,281.1 93.8,282.0 94.6,281.7 95.4,281.6 96.2,282.1 97.0,282.3 97.8,283.0 98.6,283.0 99.4,283.3 100.2,284.2 101.0,283.6 101.8,283.6 102.6,283.7 103.4,283.0 104.2,281.1 105.0,277.0 105.8,274.4 106.6,274.2 107.4,274.4 108.2,274.1 109.0,273.8 109.8,273.6 110.6,273.0 111.4,273.1 112.2,273.7 113.0,278.5 113.8,278.5 114.6,278.8 115.4,279.3 116.2,278.8 117.0,279.9 117.8,279.6 118.6,280.1 119.4,280.4 120.2,280.8 121.0,280.8 121.8,281.0 122.6,280.1 123.4,280.9 124.2,280.7 125.0,280.3 125.8,280.1 126.6,279.5 127.4,279.9 128.2,280.0 129.0,280.5 129.8,279.6 130.6,279.8 131.4,280.2 132.2,280.0 133.0,280.3 133.8,279.8 134.6,279.4 135.4,280.1 136.2,279.3 137.0,279.7 137.8,280.1 138.6,279.7 139.4,279.9 140.2,279.7 141.0,280.1 141.8,279.4 142.6,279.9 143.4,279.1 144.2,280.0 145.0,279.8 145.8,279.2 146.6,279.4 147.4,278.6 148.2,279.5 149.0,278.7 149.8,279.0 150.6,278.9 151.4,278.3 152.2,278.2 153.0,278.7 153.8,279.0 154.6,278.9 155.4,278.8 156.2,278.9 157.0,278.6 157.8,279.1 158.6,278.5 159.4,278.6 160.2,278.7 161.0,279.2 161.8,279.6 162.6,279.9 163.4,279.8 164.2,279.5 165.0,279.4 165.8,279.9 166.6,279.6 167.4,280.4 168.2,280.3 169.0,279.7 169.8,280.4 170.6,280.2 171.4,280.5 172.2,280.6 173.0,280.6 173.8,280.0 174.6,279.9 175.4,280.6 176.2,280.7 177.0,280.5 177.8,280.3 178.6,280.2 179.4,280.6 180.2,280.1 181.0,280.5 181.8,279.8 182.6,279.7 183.4,280.2 184.2,279.6 185.0,280.3 185.8,279.8 186.6,279.8 187.4,280.1 188.2,279.4 189.0,279.7 189.8,280.0 190.6,280.5 191.4,280.3 192.2,280.7 193.0,280.6 193.8,281.4 194.6,280.6 195.4,281.6 196.2,281.9 197.0,281.2 197.8,281.0 198.6,280.9 199.4,279.7 200.2,279.8 201.0,279.1 201.8,280.7 202.6,280.8 203.4,281.7 204.2,281.3 205.0,281.3 205.8,282.0 206.6,282.1 207.4,282.4 208.2,282.4 209.0,283.0 209.8,283.0 210.6,282.4 211.4,282.8 212.2,282.7 213.0,283.0 213.8,282.7 214.6,282.4 215.4,282.8 216.2,283.3 217.0,283.3 217.8,283.9 218.6,283.7 219.4,284.3 220.2,284.6 221.0,283.7 221.8,284.9 222.6,285.2 223.4,284.4 224.2,283.5 225.0,283.4 225.8,282.5 226.6,282.5 227.4,282.5 228.2,282.4 229.0,283.0 229.8,282.6 230.6,282.8 231.4,282.7 232.2,281.2 233.0,280.8 233.8,280.5 234.6,280.5 235.4,280.6 236.2,280.7 237.0,279.9 237.8,279.9 238.6,279.8 239.4,280.6 240.2,280.3 241.0,280.9 241.8,280.6 242.6,280.7 243.4,280.5 244.2,281.2 245.0,281.4 245.8,282.1 246.6,282.1 247.4,281.1 248.2,281.1 249.0,281.4 249.8,281.3 250.6,281.0 251.4,281.4 252.2,281.9 253.0,281.1 253.8,281.4 254.6,281.9 255.4,281.4 256.2,281.6 257.0,281.2 257.8,281.5 258.6,281.7 259.4,281.1 260.2,280.6 261.0,280.7 261.8,280.7 262.6,281.3 263.4,280.8 264.2,281.1 265.0,281.0 265.8,280.7 266.6,281.2 267.4,281.3 268.2,281.3 269.0,281.2 269.8,281.3 270.6,281.2 271.4,281.7 272.2,281.8 273.0,280.8 273.8,281.2 274.6,282.0 275.4,281.6 276.2,280.8 277.0,281.4 277.8,280.5 278.6,280.6 279.4,280.6 280.2,279.4 281.0,279.7 281.8,279.2 282.6,280.1 283.4,280.3 284.2,279.6 285.0,278.9 285.8,279.3 286.6,279.5 287.4,279.5 288.2,279.9 289.0,279.8 289.8,280.7 290.6,280.3 291.4,280.7 292.2,280.7 293.0,281.2 293.8,281.6 294.6,281.3 295.4,280.5 296.2,281.6 297.0,281.8 297.8,281.5 298.6,282.0 299.4,281.1 300.2,281.4 301.0,281.8 301.8,281.1 302.6,281.2 303.4,281.3 304.2,281.8 305.0,282.5 305.8,282.2 306.6,282.9 307.4,283.5 308.2,283.1 309.0,282.9 309.8,282.8 310.6,281.9 311.4,282.4 312.2,282.6 313.0,282.5 313.8,282.9 314.6,282.5 315.4,282.3 316.2,281.5 317.0,282.1 317.8,282.4 318.6,281.4 319.4,281.8 320.2,281.0 321.0,281.4 321.8,281.2 322.6,280.2 323.4,280.5" fill="none" stroke="#ff0000" stroke-width="1.7" stroke-linejoin="round" stroke-linecap="round"/>
<polyline points="21.0,297.5 21.8,297.4 22.6,297.1 23.4,297.5 24.2,297.3 25.0,297.0 25.8,297.1 26.6,297.1 27.4,298.0 28.2,297.5 29.0,296.6 29.8,297.5 30.6,296.7 31.4,296.5 32.2,297.3 33.0,296.7 33.8,296.4 34.6,296.6 35.4,296.5 36.2,296.0 37.0,296.5 37.8,296.8 38.6,296.6 39.4,296.9 40.2,296.2 41.0,296.3 41.8,296.6 42.6,295.9 43.4,295.7 44.2,295.6 45.0,295.7 45.8,295.9 46.6,295.3 47.4,295.6 48.2,296.0 49.0,295.6 49.8,295.7 50.6,295.2 51.4,295.5 52.2,294.4 53.0,294.5 53.8,294.7 54.6,294.5 55.4,295.1 56.2,294.6 57.0,294.6 57.8,294.8 58.6,294.1 59.4,294.6 60.2,293.6 61.0,293.8 61.8,294.0 62.6,294.0 63.4,294.0 64.2,294.1 65.0,294.5 65.8,294.1 66.6,293.8 67.4,294.2 68.2,294.1 69.0,294.2 69.8,293.6 70.6,293.4 71.4,293.5 72.2,293.1 73.0,293.7 73.8,293.3 74.6,293.1 75.4,292.9 76.2,293.6 77.0,293.7 77.8,294.1 78.6,294.0 79.4,293.5 80.2,293.5 81.0,293.8 81.8,293.8 82.6,293.3 83.4,293.5 84.2,293.0 85.0,292.9 85.8,293.7 86.6,293.2 87.4,292.8 88.2,292.7 89.0,292.4 89.8,293.1 90.6,292.9 91.4,292.4 92.2,292.0 93.0,291.8 93.8,291.6 94.6,291.1 95.4,291.7 96.2,291.9 97.0,293.1 97.8,292.9 98.6,293.5 99.4,294.2 100.2,293.9 101.0,294.1 101.8,293.9 102.6,294.1 103.4,294.4 104.2,294.6 105.0,294.2 105.8,293.9 106.6,293.7 107.4,293.6 108.2,294.3 109.0,294.7 109.8,294.2 110.6,294.7 111.4,293.9 112.2,293.9 113.0,293.7 113.8,294.3 114.6,293.9 115.4,293.8 116.2,293.3 117.0,293.0 117.8,293.4 118.6,293.8 119.4,293.4 120.2,293.7 121.0,293.5 121.8,293.9 122.6,293.5 123.4,293.6 124.2,293.3 125.0,293.9 125.8,293.4 126.6,293.7 127.4,294.1 128.2,293.5 129.0,293.5 129.8,293.3 130.6,293.3 131.4,293.5 132.2,293.4 133.0,292.9 133.8,292.4 134.6,292.4 135.4,292.9 136.2,292.6 137.0,293.1 137.8,293.2 138.6,293.1 139.4,294.0 140.2,295.5 141.0,296.5 141.8,296.9 142.6,297.1 143.4,297.8 144.2,297.5 145.0,297.3 145.8,296.9 146.6,297.5 147.4,297.5 148.2,297.2 149.0,297.3 149.8,297.4 150.6,297.2 151.4,296.7 152.2,296.8 153.0,297.7 153.8,297.3 154.6,297.2 155.4,296.4 156.2,296.9 157.0,296.6 157.8,296.7 158.6,296.7 159.4,296.9 160.2,296.6 161.0,296.1 161.8,296.9 162.6,297.3 163.4,296.8 164.2,298.0 165.0,297.7 165.8,298.1 166.6,297.3 167.4,297.5 168.2,297.5 169.0,296.8 169.8,297.1 170.6,297.1 171.4,297.7 172.2,297.4 173.0,297.7 173.8,297.8 174.6,297.7 175.4,297.9 176.2,297.5 177.0,296.8 177.8,297.2 178.6,296.8 179.4,297.0 180.2,296.5 181.0,296.7 181.8,296.8 182.6,297.2 183.4,296.8 184.2,296.9 185.0,296.8 185.8,296.3 186.6,296.7 187.4,296.4 188.2,296.3 189.0,296.0 189.8,296.1 190.6,296.0 191.4,296.5 192.2,296.1 193.0,295.8 193.8,295.9 194.6,295.7 195.4,296.0 196.2,295.8 197.0,296.5 197.8,295.8 198.6,295.3 199.4,295.4 200.2,296.1 201.0,295.4 201.8,295.3 202.6,295.2 203.4,295.1 204.2,294.0 205.0,293.9 205.8,294.2 206.6,294.6 207.4,294.1 208.2,293.4 209.0,293.2 209.8,293.1 210.6,293.2 211.4,292.8 212.2,292.7 213.0,293.0 213.8,293.3 214.6,292.8 215.4,292.9 216.2,292.7 217.0,292.7 217.8,292.5 218.6,293.1 219.4,292.5 220.2,292.3 221.0,291.7 221.8,292.0 222.6,292.5 223.4,292.3 224.2,291.9 225.0,292.6 225.8,292.9 226.6,292.8 227.4,293.0 228.2,292.9 229.0,292.4 229.8,291.9 230.6,292.4 231.4,291.9 232.2,291.7 233.0,291.8 233.8,291.5 234.6,291.4 235.4,291.2 236.2,291.6 237.0,291.6 237.8,291.5 238.6,291.8 239.4,291.5 240.2,291.4 241.0,291.8 241.8,291.9 242.6,291.7 243.4,291.0 244.2,291.5 245.0,291.3 245.8,291.4 246.6,291.4 247.4,291.3 248.2,291.4 249.0,291.9 249.8,292.2 250.6,291.8 251.4,292.4 252.2,292.0 253.0,292.4 253.8,292.7 254.6,293.5 255.4,293.4 256.2,293.1 257.0,293.2 257.8,293.4 258.6,293.3 259.4,294.1 260.2,293.0 261.0,293.4 261.8,293.1 262.6,293.0 263.4,292.9 264.2,293.0 265.0,293.5 265.8,293.0 266.6,293.0 267.4,293.2 268.2,293.9 269.0,293.7 269.8,293.2 270.6,293.4 271.4,293.1 272.2,293.1 273.0,292.5 273.8,292.6 274.6,292.7 275.4,292.3 276.2,292.6 277.0,292.5 277.8,291.6 278.6,291.2 279.4,291.7 280.2,292.4 281.0,291.8 281.8,291.9 282.6,292.4 283.4,291.6 284.2,292.0 285.0,291.2 285.8,291.5 286.6,290.8 287.4,291.7 288.2,291.4 289.0,290.4 289.8,290.1 290.6,290.7 291.4,290.9 292.2,290.4 293.0,291.1 293.8,290.6 294.6,290.8 295.4,290.4 296.2,291.8 297.0,291.3 297.8,290.9 298.6,290.4 299.4,291.6 300.2,291.3 301.0,290.4 301.8,290.1 302.6,290.3 303.4,290.0 304.2,290.0 305.0,290.4 305.8,290.4 306.6,290.5 307.4,290.4 308.2,290.6 309.0,290.4 309.8,290.5 310.6,290.5 311.4,290.5 312.2,290.0 313.0,291.1 313.8,290.6 314.6,291.2 315.4,291.4 316.2,291.1 317.0,290.5 317.8,290.8 318.6,291.1 319.4,291.7 320.2,292.2 321.0,292.3 321.8,292.1 322.6,292.5 323.4,291.8" fill="none" stroke="#ff0000" stroke-width="1.7" stroke-linejoin="round" stroke-linecap="round"/>
<polyline points="21.0,324.6 21.8,324.7 22.6,325.6 23.4,326.0 24.2,326.0 25.0,326.1 25.8,326.4 26.6,327.5 27.4,327.3 28.2,326.4 29.0,326.8 29.8,326.5 30.6,326.4 31.4,326.1 32.2,325.2 33.0,325.6 33.8,324.5 34.6,325.4 35.4,325.1 36.2,324.8 37.0,324.6 37.8,325.0 38.6,324.5 39.4,324.1 40.2,324.3 41.0,324.4 41.8,323.8 42.6,323.8 43.4,323.8 44.2,324.2 45.0,323.5 45.8,323.6 46.6,323.2 47.4,323.2 48.2,323.4 49.0,323.7 49.8,323.3 50.6,323.1 51.4,323.8 52.2,323.4 53.0,323.0 53.8,323.6 54.6,322.6 55.4,322.7 56.2,323.1 57.0,323.6 57.8,324.0 58.6,324.1 59.4,323.7 60.2,324.4 61.0,323.7 61.8,324.2 62.6,323.7 63.4,323.6 64.2,323.7 65.0,323.0 65.8,323.9 66.6,323.4 67.4,323.4 68.2,323.0 69.0,323.6 69.8,322.7 70.6,322.9 71.4,323.3 72.2,323.5 73.0,323.1 73.8,322.2 74.6,321.8 75.4,321.7 76.2,321.9 77.0,322.5 77.8,321.8 78.6,322.2 79.4,321.9 80.2,321.7 81.0,322.1 81.8,322.4 82.6,322.5 83.4,322.2 84.2,322.9 85.0,323.5 85.8,323.2 86.6,323.3 87.4,323.0 88.2,323.1 89.0,323.5 89.8,323.8 90.6,324.1 91.4,323.1 92.2,323.0 93.0,322.6 93.8,323.0 94.6,323.2 95.4,323.5 96.2,323.0 97.0,323.3 97.8,322.8 98.6,323.7 99.4,323.6 100.2,324.2 101.0,324.0 101.8,323.9 102.6,323.7 103.4,324.4 104.2,324.1 105.0,324.0 105.8,324.6 106.6,325.4 107.4,324.9 108.2,324.5 109.0,324.7 109.8,324.0 110.6,324.3 111.4,324.9 112.2,324.4 113.0,324.7 113.8,324.3 114.6,323.1 115.4,323.7 116.2,323.1 117.0,322.9 117.8,322.2 118.6,322.0 119.4,322.1 120.2,321.6 121.0,321.2 121.8,321.7 122.6,321.5 123.4,320.7 124.2,320.6 125.0,321.0 125.8,321.0 126.6,321.6 127.4,320.9 128.2,321.3 129.0,321.1 129.8,321.8 130.6,321.0 131.4,320.8 132.2,321.2 133.0,320.8 133.8,320.7 134.6,320.4 135.4,320.4 136.2,321.6 137.0,321.3 137.8,321.9 138.6,321.7 139.4,321.7 140.2,321.6 141.0,322.0 141.8,322.4 142.6,322.2 143.4,322.4 144.2,321.9 145.0,322.2 145.8,321.4 146.6,321.5 147.4,321.9 148.2,321.8 149.0,320.9 149.8,321.6 150.6,321.6 151.4,321.3 152.2,321.4 153.0,321.1 153.8,321.3 154.6,321.5 155.4,320.9 156.2,321.5 157.0,321.6 157.8,321.6 158.6,320.8 159.4,321.4 160.2,320.9 161.0,321.5 161.8,321.5 162.6,321.2 163.4,321.3 164.2,321.5 165.0,321.1 165.8,321.5 166.6,320.8 167.4,321.1 168.2,321.7 169.0,321.4 169.8,320.8 170.6,320.7 171.4,320.7 172.2,320.0 173.0,320.3 173.8,320.5 174.6,320.0 175.4,320.2 176.2,320.1 177.0,319.5 177.8,319.8 178.6,319.3 179.4,319.6 180.2,319.2 181.0,319.7 181.8,319.6 182.6,319.9 183.4,319.8 184.2,319.8 185.0,319.7 185.8,319.4 186.6,320.0 187.4,319.3 188.2,318.8 189.0,318.0 189.8,317.8 190.6,318.4 191.4,318.7 192.2,318.4 193.0,318.0 193.8,318.3 194.6,318.6 195.4,318.3 196.2,319.1 197.0,318.8 197.8,318.5 198.6,318.1 199.4,317.9 200.2,317.0 201.0,317.3 201.8,317.3 202.6,317.8 203.4,317.0 204.2,316.6 205.0,316.8 205.8,316.8 206.6,316.6 207.4,316.2 208.2,316.5 209.0,316.1 209.8,316.0 210.6,315.6 211.4,315.7 212.2,316.3 213.0,316.0 213.8,316.3 214.6,316.8 215.4,316.7 216.2,315.5 217.0,315.5 217.8,315.9 218.6,315.8 219.4,315.3 220.2,315.2 221.0,316.0 221.8,315.8 222.6,315.2 223.4,315.7 224.2,315.4 225.0,316.0 225.8,315.6 226.6,314.7 227.4,315.3 228.2,314.8 229.0,315.0 229.8,315.3 230.6,314.9 231.4,315.4 232.2,314.5 233.0,314.8 233.8,314.5 234.6,314.7 235.4,314.5 236.2,314.8 237.0,314.8 237.8,314.8" fill="none" stroke="#ff0000" stroke-width="1.7" stroke-linejoin="round" stroke-linecap="round"/>
<polyline points="240.0,325.5 240.8,325.6 241.6,325.4 242.4,325.8 243.2,326.2 244.0,326.5 244.8,326.6 245.6,326.4 246.4,326.2 247.2,326.4 248.0,326.8 248.8,327.1 249.6,326.5 250.4,327.0 251.2,327.3 252.0,326.8 252.8,327.0 253.6,327.4 254.4,327.2 255.2,326.6 256.0,327.1 256.8,327.6 257.6,328.0 258.4,328.7 259.2,328.5 260.0,328.6 260.8,328.6 261.6,327.9 262.4,327.9 263.2,327.8 264.0,327.8 264.8,328.3 265.6,329.1 266.4,329.1 267.2,328.7 268.0,329.6 268.8,329.0 269.6,329.3 270.4,329.0 271.2,329.2 272.0,329.2 272.8,329.3 273.6,329.2 274.4,329.8 275.2,329.5 276.0,329.9 276.8,329.2 277.6,329.9 278.4,330.3 279.2,329.8 280.0,330.6 280.8,330.7 281.6,330.3 282.4,331.2 283.2,331.1 284.0,331.1 284.8,330.8 285.6,331.5 286.4,330.9 287.2,331.1 288.0,330.8 288.8,330.5 289.6,330.7 290.4,330.6 291.2,330.2 292.0,329.9 292.8,330.8 293.6,330.2 294.4,329.6 295.2,329.5 296.0,329.3 296.8,329.5 297.6,329.0 298.4,328.7 299.2,328.3 300.0,328.1 300.8,327.8 301.6,327.8 302.4,327.7 303.2,328.2 304.0,328.0 304.8,327.4 305.6,328.0 306.4,327.2 307.2,327.2 308.0,326.6 308.8,327.0 309.6,327.6 310.4,327.3 311.2,327.3 312.0,327.2 312.8,327.2 313.6,327.4 314.4,326.8 315.2,326.7 316.0,327.3 316.8,326.9 317.6,327.1 318.4,326.6 319.2,326.8 320.0,327.0 320.8,326.5 321.6,325.7 322.4,326.0 323.2,326.1 324.0,325.7" fill="none" stroke="#ff0000" stroke-width="1.7" stroke-linejoin="round" stroke-linecap="round"/>
<polyline points="21.0,342.1 21.8,341.8 22.6,342.0 23.4,342.1 24.2,341.5 25.0,341.9 25.8,341.0 26.6,341.2 27.4,341.5 28.2,341.4 29.0,341.4 29.8,341.5 30.6,341.5 31.4,341.5 32.2,341.5 33.0,341.8 33.8,342.2 34.6,341.5 35.4,342.1 36.2,342.0 37.0,342.2 37.8,341.7 38.6,342.6 39.4,342.4 40.2,342.8 41.0,342.5 41.8,343.2 42.6,342.7 43.4,343.0 44.2,342.9 45.0,343.2 45.8,343.0 46.6,341.7 47.4,341.6 48.2,342.9 49.0,343.2 49.8,342.8 50.6,343.3 51.4,344.2 52.2,344.1 53.0,343.5 53.8,343.9 54.6,344.5 55.4,345.4 56.2,344.3 57.0,344.1 57.8,344.5 58.6,345.3 59.4,345.5 60.2,345.5 61.0,345.9 61.8,344.7 62.6,344.6 63.4,344.5 64.2,343.9 65.0,343.5 65.8,344.0 66.6,343.8 67.4,343.5 68.2,343.2 69.0,343.8 69.8,342.8 70.6,343.3 71.4,342.9 72.2,342.2 73.0,342.8 73.8,341.7 74.6,341.5 75.4,342.0 76.2,341.5 77.0,341.8 77.8,341.1 78.6,340.9 79.4,341.4 80.2,340.0 81.0,340.3 81.8,340.0 82.6,340.4 83.4,341.0 84.2,341.9 85.0,341.4 85.8,341.8 86.6,341.9 87.4,341.8 88.2,341.2 89.0,341.3 89.8,341.5 90.6,341.7 91.4,342.3 92.2,341.8 93.0,340.9 93.8,341.6 94.6,341.7 95.4,340.7 96.2,340.9 97.0,341.1 97.8,341.2 98.6,340.7 99.4,340.9 100.2,341.3 101.0,341.9 101.8,341.7 102.6,341.2 103.4,341.8 104.2,341.5 105.0,341.3 105.8,341.8 106.6,341.6 107.4,341.8 108.2,341.8 109.0,341.2 109.8,341.9 110.6,342.2 111.4,342.3 112.2,342.2 113.0,342.0 113.8,342.6 114.6,343.1 115.4,342.7 116.2,342.8 117.0,342.3 117.8,343.2 118.6,343.1 119.4,343.1 120.2,342.3 121.0,343.1 121.8,343.1 122.6,343.8 123.4,343.0 124.2,342.6 125.0,342.9 125.8,342.9 126.6,342.7 127.4,343.3 128.2,343.9 129.0,343.1 129.8,342.3 130.6,343.1 131.4,342.6 132.2,342.7 133.0,342.5 133.8,342.6 134.6,343.3 135.4,342.6 136.2,342.7 137.0,342.3 137.8,342.4 138.6,341.9 139.4,342.9 140.2,342.6 141.0,343.0 141.8,342.3 142.6,341.3 143.4,341.5 144.2,342.0 145.0,340.9 145.8,340.7 146.6,341.1 147.4,341.0 148.2,341.7 149.0,342.2 149.8,342.7 150.6,341.8 151.4,342.9 152.2,342.8 153.0,342.0 153.8,341.9 154.6,341.2 155.4,341.5 156.2,342.0 157.0,342.3 157.8,342.1 158.6,342.5 159.4,342.1 160.2,342.3 161.0,342.3 161.8,343.0 162.6,342.7 163.4,342.3 164.2,342.5 165.0,341.8 165.8,341.7 166.6,341.0 167.4,340.8 168.2,341.1 169.0,341.1 169.8,341.4 170.6,341.6 171.4,341.0 172.2,341.7 173.0,341.8 173.8,341.8 174.6,341.9 175.4,341.0 176.2,340.6 177.0,341.8 177.8,341.9 178.6,341.1 179.4,341.6 180.2,340.5 181.0,341.5 181.8,341.4 182.6,341.0 183.4,340.4 184.2,340.7 185.0,341.3 185.8,341.8 186.6,342.0 187.4,341.1 188.2,341.1 189.0,342.1 189.8,341.0 190.6,341.3 191.4,341.7 192.2,341.9 193.0,341.8 193.8,342.4 194.6,342.6 195.4,342.5 196.2,341.9 197.0,341.9 197.8,341.8 198.6,342.1 199.4,341.2 200.2,341.7 201.0,341.1 201.8,341.6 202.6,341.7 203.4,341.7 204.2,341.3 205.0,341.7 205.8,342.0 206.6,341.5 207.4,342.2 208.2,342.1 209.0,342.4 209.8,342.4 210.6,341.6 211.4,341.8 212.2,341.5 213.0,341.6 213.8,341.2 214.6,340.5 215.4,341.2 216.2,341.0 217.0,340.5 217.8,341.1 218.6,341.6 219.4,340.7 220.2,341.7 221.0,340.7 221.8,341.0 222.6,342.0 223.4,342.7 224.2,341.9 225.0,341.9 225.8,341.8 226.6,342.4 227.4,342.6 228.2,342.0 229.0,341.8 229.8,342.0 230.6,341.4 231.4,341.9 232.2,341.6 233.0,341.4 233.8,340.6 234.6,341.2 235.4,341.5 236.2,341.1 237.0,341.0 237.8,341.4 238.6,341.9 239.4,342.5 240.2,341.9 241.0,342.3 241.8,343.0 242.6,343.1 243.4,342.8 244.2,342.4 245.0,342.6 245.8,342.6 246.6,342.8 247.4,342.5 248.2,342.2 249.0,341.5 249.8,341.1 250.6,341.4 251.4,341.6 252.2,341.8 253.0,341.4 253.8,342.3 254.6,342.7 255.4,341.7 256.2,343.1 257.0,342.7 257.8,342.0 258.6,342.8 259.4,342.3 260.2,342.4 261.0,342.3 261.8,342.4 262.6,341.9 263.4,341.3 264.2,341.7 265.0,341.6 265.8,341.1 266.6,341.7 267.4,341.7 268.2,342.1 269.0,341.2 269.8,342.0 270.6,341.8 271.4,341.2 272.2,342.3 273.0,341.8 273.8,341.4 274.6,340.7 275.4,341.4 276.2,340.9 277.0,341.3 277.8,341.3 278.6,341.7 279.4,341.5 280.2,341.4 281.0,342.0 281.8,341.4 282.6,341.6 283.4,342.2 284.2,342.0 285.0,341.9 285.8,342.0 286.6,341.4 287.4,341.5 288.2,341.8 289.0,341.8 289.8,341.4 290.6,341.0 291.4,341.2 292.2,340.9 293.0,340.7 293.8,341.0 294.6,340.5 295.4,340.9 296.2,341.3 297.0,341.6 297.8,342.2 298.6,342.5 299.4,342.4 300.2,342.0 301.0,342.2 301.8,342.2 302.6,341.9 303.4,342.5 304.2,342.7 305.0,342.3 305.8,341.7 306.6,342.1 307.4,342.5 308.2,342.2 309.0,343.1 309.8,343.1 310.6,343.2 311.4,343.6 312.2,343.0 313.0,342.8 313.8,343.0 314.6,342.9 315.4,343.1 316.2,342.3 317.0,342.3 317.8,342.1 318.6,342.9 319.4,342.7 320.2,342.7 321.0,343.2 321.8,342.1 322.6,341.7 323.4,342.3" fill="none" stroke="#ff0000" stroke-width="1.7" stroke-linejoin="round" stroke-linecap="round"/>
<polyline points="21.0,366.5 21.8,367.3 22.6,367.6 23.4,366.9 24.2,367.4 25.0,366.8 25.8,367.4 26.6,366.9 27.4,366.6 28.2,366.5 29.0,365.9 29.8,366.5 30.6,366.0 31.4,366.3 32.2,366.1 33.0,366.0 33.8,365.3 34.6,365.2 35.4,365.4 36.2,365.9 37.0,365.8 37.8,365.6 38.6,366.4 39.4,366.2 40.2,366.5 41.0,366.4 41.8,366.6 42.6,366.4 43.4,366.7 44.2,367.1 45.0,366.9 45.8,366.9 46.6,367.0 47.4,368.2 48.2,367.8 49.0,368.0 49.8,367.7 50.6,368.0 51.4,367.8 52.2,368.8 53.0,367.8 53.8,368.7 54.6,367.4 55.4,367.9 56.2,367.5 57.0,367.9 57.8,368.4 58.6,368.6 59.4,368.3 60.2,368.8 61.0,368.6 61.8,368.8 62.6,368.1 63.4,368.3 64.2,368.9 65.0,369.6 65.8,369.6 66.6,368.7 67.4,369.1 68.2,369.2 69.0,369.2 69.8,369.0 70.6,368.6 71.4,368.9 72.2,368.9 73.0,369.4 73.8,369.1 74.6,369.5 75.4,369.1 76.2,369.1 77.0,368.9 77.8,368.9 78.6,369.6 79.4,369.0 80.2,368.6 81.0,369.5 81.8,369.3 82.6,369.3 83.4,369.4 84.2,369.1 85.0,369.8 85.8,369.1 86.6,370.0 87.4,369.3 88.2,370.1 89.0,369.7 89.8,371.1 90.6,370.5 91.4,370.3 92.2,370.8 93.0,370.7 93.8,370.7 94.6,371.1 95.4,371.4 96.2,371.7 97.0,371.9 97.8,371.5 98.6,370.7 99.4,371.6 100.2,370.7 101.0,371.5 101.8,371.7 102.6,371.6 103.4,371.3 104.2,371.5 105.0,370.7 105.8,370.2 106.6,370.6 107.4,370.7 108.2,370.8 109.0,371.3 109.8,370.7 110.6,370.8 111.4,370.7 112.2,370.3 113.0,370.3 113.8,370.5 114.6,369.8 115.4,368.9 116.2,368.7 117.0,369.2 117.8,368.7 118.6,368.2 119.4,368.2 120.2,367.3 121.0,366.6 121.8,366.6 122.6,366.2 123.4,366.1 124.2,366.3 125.0,366.0 125.8,366.2 126.6,365.5 127.4,365.9 128.2,365.8 129.0,365.2 129.8,365.1 130.6,364.9 131.4,365.1 132.2,365.1 133.0,365.4 133.8,365.1 134.6,364.6 135.4,364.7 136.2,364.8 137.0,365.0 137.8,364.8 138.6,364.1 139.4,364.7 140.2,363.7 141.0,364.1 141.8,364.5 142.6,363.5 143.4,363.4 144.2,363.4 145.0,363.7 145.8,363.7 146.6,362.8 147.4,362.6 148.2,362.1 149.0,362.3 149.8,362.2 150.6,362.0 151.4,362.0 152.2,362.3 153.0,361.6 153.8,361.5 154.6,361.4 155.4,360.8 156.2,361.6 157.0,361.8 157.8,361.2 158.6,361.3 159.4,360.7 160.2,361.3 161.0,361.8 161.8,361.9 162.6,361.7 163.4,362.1 164.2,362.0 165.0,362.4 165.8,362.5 166.6,362.5 167.4,362.0 168.2,362.1 169.0,362.0 169.8,362.9 170.6,362.0 171.4,362.1 172.2,361.6 173.0,362.1 173.8,362.0 174.6,362.4 175.4,362.5 176.2,362.2 177.0,361.7 177.8,361.4 178.6,362.1 179.4,362.2 180.2,361.3 181.0,361.2 181.8,361.2 182.6,360.8 183.4,360.9 184.2,360.5 185.0,360.4 185.8,360.6 186.6,360.4 187.4,360.8 188.2,360.7 189.0,361.0 189.8,359.9 190.6,360.4 191.4,360.8 192.2,360.7 193.0,360.8 193.8,360.9 194.6,360.8 195.4,360.5 196.2,360.8 197.0,360.4 197.8,360.8 198.6,360.5 199.4,359.2 200.2,358.9 201.0,359.0 201.8,359.7 202.6,358.9 203.4,359.0 204.2,358.6 205.0,358.7 205.8,359.3 206.6,358.6 207.4,358.7 208.2,358.7 209.0,358.6 209.8,358.8 210.6,359.2 211.4,358.9 212.2,358.5 213.0,358.3 213.8,358.2 214.6,358.5 215.4,358.6 216.2,358.2 217.0,358.9 217.8,358.4 218.6,359.1 219.4,358.4 220.2,359.0 221.0,359.0 221.8,358.8 222.6,358.8 223.4,359.5 224.2,358.5 225.0,358.2 225.8,359.3 226.6,358.9 227.4,359.1 228.2,358.2 229.0,359.0 229.8,358.8 230.6,357.8 231.4,358.4 232.2,358.2 233.0,357.7 233.8,357.3 234.6,357.5 235.4,358.0 236.2,357.3 237.0,357.2 237.8,357.4 238.6,357.2 239.4,357.2 240.2,357.6 241.0,357.8 241.8,357.7 242.6,357.6 243.4,357.5 244.2,358.6 245.0,357.8 245.8,357.4 246.6,356.9 247.4,357.9 248.2,357.5 249.0,358.0 249.8,358.5 250.6,358.3 251.4,358.5 252.2,358.2 253.0,358.7 253.8,357.8 254.6,357.7 255.4,358.6 256.2,358.4 257.0,358.5 257.8,358.6 258.6,358.8 259.4,357.8 260.2,357.5 261.0,357.8 261.8,357.8 262.6,357.8 263.4,357.9 264.2,357.1 265.0,357.6 265.8,357.4 266.6,357.1 267.4,356.8 268.2,356.6 269.0,356.9 269.8,356.4 270.6,356.5 271.4,357.5 272.2,357.0 273.0,357.3 273.8,357.5 274.6,357.0 275.4,357.5 276.2,357.4 277.0,357.2 277.8,357.9 278.6,358.2 279.4,357.1 280.2,357.9 281.0,357.3 281.8,357.3 282.6,357.0 283.4,357.5 284.2,357.5 285.0,356.7 285.8,356.6 286.6,357.7 287.4,357.6 288.2,358.0 289.0,358.0 289.8,356.9 290.6,357.5 291.4,357.4 292.2,357.6 293.0,356.9 293.8,356.9 294.6,356.4 295.4,356.2 296.2,357.0 297.0,357.0 297.8,357.3 298.6,356.9 299.4,357.3 300.2,356.7 301.0,357.4 301.8,357.4 302.6,357.4 303.4,356.8 304.2,356.9 305.0,356.9 305.8,356.7 306.6,356.5 307.4,356.2 308.2,356.4 309.0,356.5 309.8,356.2 310.6,356.5 311.4,356.1 312.2,356.3 313.0,356.0 313.8,356.4 314.6,356.5 315.4,355.8 316.2,356.3 317.0,356.6 317.8,356.8 318.6,355.9 319.4,356.6 320.2,356.4 321.0,357.0 321.8,356.7 322.6,356.5 323.4,356.1" fill="none" stroke="#ff0000" stroke-width="1.7" stroke-linejoin="round" stroke-linecap="round"/>
<polyline points="21.0,376.0 21.8,376.1 22.6,375.7 23.4,375.7 24.2,375.0 25.0,375.8 25.8,375.9 26.6,375.7 27.4,375.6 28.2,375.7 29.0,375.7 29.8,375.3 30.6,374.8 31.4,375.2 32.2,374.5 33.0,375.1 33.8,375.0 34.6,374.5 35.4,374.8 36.2,374.4 37.0,375.2 37.8,375.1 38.6,375.5 39.4,375.9 40.2,376.5 41.0,376.0 41.8,376.8 42.6,376.9 43.4,378.0 44.2,377.3 45.0,377.2 45.8,377.7 46.6,377.8 47.4,377.6 48.2,376.5 49.0,376.3 49.8,376.2 50.6,376.1 51.4,375.5 52.2,375.6 53.0,375.3 53.8,375.4 54.6,375.7 55.4,375.9 56.2,375.3 57.0,375.2 57.8,375.6 58.6,375.2 59.4,375.2 60.2,375.5 61.0,375.6 61.8,375.6 62.6,375.5 63.4,375.5 64.2,375.0 65.0,374.5 65.8,374.5 66.6,374.4 67.4,374.3 68.2,374.8 69.0,376.1 69.8,375.9 70.6,375.7 71.4,375.8 72.2,375.5 73.0,376.4 73.8,375.8 74.6,376.0 75.4,376.3 76.2,376.3 77.0,375.7 77.8,375.7 78.6,376.4 79.4,376.3 80.2,376.4 81.0,376.0 81.8,376.0 82.6,375.9 83.4,376.7 84.2,375.8 85.0,375.4 85.8,376.0 86.6,374.9 87.4,375.5 88.2,375.5 89.0,375.4 89.8,376.4 90.6,375.9 91.4,377.2 92.2,376.3 93.0,376.9 93.8,376.5 94.6,377.0 95.4,376.4 96.2,376.2 97.0,376.9 97.8,376.8 98.6,376.7 99.4,376.4 100.2,376.3 101.0,376.8 101.8,377.0 102.6,376.7 103.4,376.4 104.2,376.5 105.0,376.8 105.8,377.6 106.6,377.9 107.4,378.3 108.2,379.3 109.0,379.2 109.8,379.2 110.6,378.8 111.4,379.1 112.2,379.5 113.0,379.5 113.8,380.3 114.6,380.6 115.4,380.9 116.2,380.8 117.0,381.5 117.8,381.1 118.6,381.6 119.4,381.1 120.2,381.0 121.0,380.4 121.8,380.3 122.6,380.2 123.4,380.5 124.2,380.4 125.0,380.1 125.8,380.0 126.6,380.2 127.4,380.4 128.2,380.5 129.0,381.4 129.8,381.7 130.6,382.2 131.4,382.5 132.2,381.9 133.0,381.7 133.8,382.5 134.6,382.0 135.4,382.4 136.2,382.2" fill="none" stroke="#ff0000" stroke-width="1.7" stroke-linejoin="round" stroke-linecap="round"/>
<polyline points="163.0,386.9 163.8,387.9 164.6,388.0 165.4,388.2 166.2,388.3 167.0,388.2 167.8,388.6 168.6,389.1 169.4,388.9 170.2,389.3 171.0,389.3 171.8,388.7 172.6,389.6 173.4,390.1 174.2,389.6 175.0,389.7 175.8,389.9 176.6,389.8 177.4,389.8 178.2,390.4 179.0,390.0 179.8,390.3 180.6,390.5 181.4,390.0 182.2,389.5 183.0,389.8 183.8,389.8 184.6,389.8 185.4,390.7 186.2,390.8 187.0,390.4 187.8,390.8 188.6,389.6" fill="none" stroke="#ff0000" stroke-width="1.7" stroke-linejoin="round" stroke-linecap="round"/>
<polyline points="200.0,382.3 200.8,382.4 201.6,382.6 202.4,381.8 203.2,382.4 204.0,381.7 204.8,381.6 205.6,381.8 206.4,381.4 207.2,382.1 208.0,382.2 208.8,381.2 209.6,381.5 210.4,382.3 211.2,382.7 212.0,382.7 212.8,382.2 213.6,382.7 214.4,382.5 215.2,382.7 216.0,382.5 216.8,382.3 217.6,383.0 218.4,382.1 219.2,381.7 220.0,382.2 220.8,382.5 221.6,382.2 222.4,381.9 223.2,381.8 224.0,383.0 224.8,382.6 225.6,382.7 226.4,383.0 227.2,382.3 228.0,382.2 228.8,381.9 229.6,382.2 230.4,382.3 231.2,382.9 232.0,382.4 232.8,383.1 233.6,383.7 234.4,383.4 235.2,383.5 236.0,382.8 236.8,382.6 237.6,382.8 238.4,382.6 239.2,382.5 240.0,382.2 240.8,381.4 241.6,381.5 242.4,381.4 243.2,381.6 244.0,382.2 244.8,381.8 245.6,382.1 246.4,382.4 247.2,382.0 248.0,381.4 248.8,382.1 249.6,381.4 250.4,381.4 251.2,382.3 252.0,382.9 252.8,382.2 253.6,382.2 254.4,381.7 255.2,382.4 256.0,382.4 256.8,382.8 257.6,381.7 258.4,381.1 259.2,381.1 260.0,380.7 260.8,381.0 261.6,381.6 262.4,381.7 263.2,381.6 264.0,381.6 264.8,382.3 265.6,382.1 266.4,381.9 267.2,382.6 268.0,381.8 268.8,382.3 269.6,382.4 270.4,382.1 271.2,381.8 272.0,382.8 272.8,382.4 273.6,382.1 274.4,382.0 275.2,382.2 276.0,382.0 276.8,381.7 277.6,382.6 278.4,382.2 279.2,382.4 280.0,382.1 280.8,381.8 281.6,382.4 282.4,382.2 283.2,382.9 284.0,382.1 284.8,382.1 285.6,381.7 286.4,381.4 287.2,381.2 288.0,381.3 288.8,381.4 289.6,381.2 290.4,381.2 291.2,380.9 292.0,381.7 292.8,380.8 293.6,381.0 294.4,381.5 295.2,381.1 296.0,381.5 296.8,381.3 297.6,381.7 298.4,381.1 299.2,382.0 300.0,382.4 300.8,381.9 301.6,382.6 302.4,382.3 303.2,382.3 304.0,382.5 304.8,382.7 305.6,382.3 306.4,381.8 307.2,381.7 308.0,381.6 308.8,382.1 309.6,382.3 310.4,381.5 311.2,381.1 312.0,381.2 312.8,382.0 313.6,382.1 314.4,381.8 315.2,381.4 316.0,382.6 316.8,382.3 317.6,382.1 318.4,382.4 319.2,382.4 320.0,382.7 320.8,382.9 321.6,382.7 322.4,382.2 323.2,381.9 324.0,382.1" fill="none" stroke="#ff0000" stroke-width="1.7" stroke-linejoin="round" stroke-linecap="round"/>
<polyline points="21.0,277.6 21.8,278.2 22.6,277.9 23.4,277.9 24.2,278.3 25.0,277.8 25.8,278.5 26.6,278.3 27.4,278.0 28.2,277.7 29.0,278.7 29.8,279.2 30.6,278.9 31.4,278.1 32.2,278.4 33.0,278.1 33.8,278.1 34.6,278.5 35.4,278.6 36.2,279.2 37.0,279.3 37.8,278.7 38.6,279.6 39.4,278.9 40.2,278.2 41.0,279.1 41.8,278.7 42.6,278.7 43.4,278.6 44.2,278.8 45.0,278.8 45.8,278.0 46.6,278.7 47.4,278.9 48.2,278.4 49.0,278.9 49.8,279.3 50.6,279.5 51.4,279.5 52.2,279.2 53.0,278.9 53.8,278.9 54.6,278.8 55.4,279.5 56.2,279.3 57.0,279.6 57.8,279.1 58.6,279.3 59.4,278.9 60.2,278.7 61.0,279.0 61.8,278.6 62.6,278.8 63.4,278.4 64.2,279.1 65.0,279.4 65.8,278.6 66.6,278.7 67.4,278.4 68.2,279.0 69.0,279.3 69.8,279.3 70.6,278.9 71.4,279.2 72.2,279.3 73.0,279.7 73.8,278.9 74.6,279.3 75.4,278.9 76.2,279.7 77.0,279.4 77.8,279.1 78.6,278.9 79.4,279.3 80.2,279.1 81.0,279.2 81.8,278.9 82.6,278.4 83.4,277.9 84.2,278.2 85.0,278.6 85.8,278.3 86.6,279.6 87.4,278.4 88.2,278.5 89.0,278.4 89.8,279.0 90.6,277.5 91.4,277.5 92.2,277.6 93.0,277.8 93.8,277.0 94.6,277.6 95.4,278.2 96.2,278.0 97.0,278.1 97.8,278.5 98.6,279.1 99.4,279.7 100.2,279.3 101.0,279.1 101.8,279.5 102.6,278.6 103.4,278.6 104.2,278.2 105.0,278.6 105.8,278.4 106.6,278.6 107.4,278.2 108.2,278.0 109.0,277.7 109.8,278.1 110.6,277.4 111.4,278.1 112.2,277.6 113.0,278.4 113.8,278.2 114.6,278.8 115.4,279.0 116.2,279.2 117.0,278.5 117.8,279.2 118.6,279.4 119.4,279.6 120.2,279.7 121.0,279.8 121.8,279.6 122.6,280.4 123.4,280.0 124.2,279.7 125.0,279.8 125.8,279.8 126.6,279.4 127.4,279.2 128.2,279.4 129.0,279.6 129.8,279.4 130.6,279.2 131.4,279.7 132.2,278.7 133.0,278.6 133.8,278.4 134.6,278.7 135.4,279.4 136.2,279.1 137.0,278.8 137.8,278.0 138.6,278.6 139.4,278.4 140.2,278.1 141.0,279.1 141.8,278.7 142.6,279.6 143.4,279.3 144.2,279.4 145.0,278.6 145.8,278.4 146.6,278.5 147.4,279.3 148.2,279.2 149.0,279.0 149.8,278.9 150.6,278.6 151.4,279.2 152.2,279.0 153.0,279.2 153.8,279.1 154.6,278.3 155.4,278.9 156.2,278.7 157.0,279.1 157.8,278.4 158.6,278.5 159.4,279.3 160.2,278.6 161.0,279.1 161.8,280.1 162.6,279.5 163.4,280.1 164.2,279.9 165.0,279.7 165.8,279.1 166.6,280.3 167.4,279.7 168.2,279.6 169.0,279.7 169.8,278.6 170.6,279.2 171.4,279.2 172.2,279.3 173.0,279.9 173.8,279.9 174.6,279.8 175.4,279.5 176.2,279.5 177.0,280.1 177.8,279.7 178.6,279.6 179.4,280.1 180.2,279.9 181.0,279.5 181.8,279.7 182.6,279.9 183.4,279.9 184.2,279.2 185.0,279.1 185.8,279.1 186.6,278.8 187.4,279.3 188.2,279.9 189.0,279.8 189.8,279.6 190.6,279.1 191.4,279.3 192.2,278.7 193.0,278.4 193.8,277.8 194.6,277.7 195.4,277.3 196.2,277.7 197.0,278.1 197.8,277.7 198.6,278.1 199.4,278.2 200.2,277.8 201.0,277.2 201.8,277.9 202.6,277.8 203.4,278.2 204.2,278.0 205.0,278.7 205.8,279.4 206.6,279.7 207.4,279.4 208.2,280.1 209.0,279.8 209.8,280.5 210.6,279.9 211.4,280.4 212.2,280.0 213.0,279.4 213.8,279.7 214.6,279.9 215.4,279.5 216.2,279.9 217.0,279.3 217.8,279.4 218.6,278.8 219.4,278.8 220.2,278.5 221.0,278.0 221.8,278.5 222.6,278.4 223.4,278.3 224.2,278.5 225.0,278.8 225.8,278.5 226.6,278.5 227.4,278.5 228.2,278.7 229.0,278.0 229.8,278.3 230.6,278.2 231.4,278.0 232.2,278.3 233.0,278.8 233.8,278.7 234.6,279.1 235.4,278.9 236.2,278.5 237.0,278.8 237.8,278.2 238.6,278.3 239.4,279.5 240.2,278.9 241.0,278.9 241.8,279.2 242.6,280.8 243.4,280.6 244.2,281.0 245.0,280.7 245.8,280.7 246.6,281.0 247.4,280.6 248.2,280.6 249.0,281.1 249.8,281.0 250.6,281.1 251.4,281.5 252.2,281.1 253.0,281.4 253.8,281.3 254.6,281.6 255.4,281.0 256.2,280.6 257.0,280.2 257.8,280.1 258.6,279.9 259.4,279.7 260.2,279.0 261.0,279.5 261.8,279.2 262.6,279.8 263.4,279.8 264.2,280.2 265.0,280.6 265.8,279.7 266.6,280.0 267.4,279.4 268.2,279.2 269.0,279.4 269.8,280.1 270.6,279.6 271.4,279.1 272.2,278.6 273.0,279.5 273.8,280.4 274.6,280.5 275.4,279.5 276.2,278.8 277.0,279.2 277.8,279.7 278.6,279.0 279.4,279.3 280.2,279.2 281.0,279.5 281.8,279.8 282.6,278.8 283.4,279.8 284.2,279.9 285.0,278.9 285.8,279.8 286.6,280.3 287.4,279.9 288.2,278.7 289.0,278.6 289.8,278.4 290.6,278.5 291.4,278.7 292.2,278.1 293.0,279.1 293.8,279.2 294.6,278.0 295.4,278.0 296.2,278.8 297.0,278.2 297.8,278.5 298.6,278.3 299.4,278.6 300.2,279.3 301.0,279.4 301.8,279.0 302.6,280.0 303.4,280.1 304.2,280.4 305.0,280.2 305.8,279.8 306.6,279.4 307.4,279.5 308.2,279.9 309.0,278.7 309.8,278.9 310.6,278.5 311.4,279.1 312.2,278.4 313.0,278.4 313.8,279.1 314.6,278.9 315.4,278.9 316.2,279.0 317.0,279.1 317.8,278.4 318.6,278.1 319.4,278.0 320.2,278.3 321.0,278.1 321.8,277.9 322.6,277.7 323.4,278.1" fill="none" stroke="#00ff00" stroke-width="1.7" stroke-linejoin="round" stroke-linecap="round"/>
<polyline points="21.0,299.8 21.8,299.1 22.6,300.3 23.4,300.3 24.2,300.5 25.0,300.5 25.8,300.5 26.6,301.0 27.4,301.2 28.2,301.9 29.0,301.2 29.8,301.2 30.6,300.2 31.4,300.7 32.2,300.3 33.0,301.0 33.8,300.2 34.6,300.3 35.4,300.5 36.2,300.9 37.0,300.0 37.8,300.3 38.6,300.1 39.4,300.6 40.2,300.7 41.0,300.9 41.8,300.8 42.6,300.5 43.4,300.6 44.2,300.6 45.0,300.7 45.8,301.0 46.6,301.0 47.4,301.1 48.2,300.5 49.0,300.0 49.8,300.3 50.6,300.7 51.4,300.4 52.2,300.1 53.0,300.2 53.8,299.9 54.6,299.7 55.4,299.4 56.2,299.4 57.0,299.4 57.8,299.7 58.6,299.7 59.4,299.4 60.2,299.9 61.0,300.3 61.8,299.6 62.6,300.1 63.4,299.1 64.2,299.9 65.0,299.6 65.8,300.3 66.6,300.1 67.4,300.0 68.2,300.1 69.0,299.8 69.8,300.4 70.6,300.4 71.4,299.3 72.2,300.0 73.0,300.0 73.8,299.3 74.6,299.8 75.4,300.5 76.2,300.7 77.0,299.9 77.8,299.5 78.6,300.1 79.4,300.0 80.2,300.2 81.0,300.0 81.8,299.8 82.6,300.2 83.4,299.9 84.2,299.9 85.0,300.1 85.8,299.7 86.6,299.3 87.4,299.2 88.2,298.9 89.0,299.9 89.8,299.9 90.6,300.0 91.4,301.4 92.2,300.9 93.0,300.7 93.8,300.4 94.6,300.2 95.4,299.7 96.2,300.1 97.0,299.7 97.8,299.5 98.6,299.6 99.4,298.5 100.2,298.8 101.0,299.4 101.8,299.1 102.6,298.9 103.4,299.2 104.2,299.1 105.0,299.8 105.8,300.2 106.6,299.9 107.4,300.4 108.2,300.6 109.0,300.2 109.8,300.3 110.6,300.7 111.4,300.0 112.2,300.0 113.0,300.1 113.8,300.5 114.6,300.0 115.4,300.8 116.2,300.3 117.0,300.8 117.8,301.9 118.6,300.4 119.4,299.7 120.2,299.6 121.0,299.9 121.8,300.0 122.6,300.2 123.4,300.9 124.2,300.7 125.0,300.3 125.8,299.8 126.6,298.8 127.4,298.3 128.2,299.3 129.0,298.7 129.8,299.8 130.6,299.5 131.4,300.1 132.2,300.4 133.0,299.9 133.8,300.1 134.6,299.7 135.4,298.9 136.2,299.4 137.0,299.6 137.8,299.4 138.6,299.9 139.4,300.1 140.2,300.6 141.0,299.9 141.8,299.9 142.6,300.1 143.4,299.8 144.2,300.1 145.0,299.7 145.8,299.9 146.6,299.7 147.4,299.8 148.2,299.4 149.0,299.7 149.8,299.7 150.6,299.9 151.4,300.4 152.2,300.4 153.0,301.1 153.8,301.1 154.6,300.7 155.4,300.4 156.2,299.3 157.0,300.1 157.8,300.5 158.6,300.6 159.4,300.7 160.2,301.3 161.0,300.3 161.8,299.6 162.6,299.9 163.4,300.8 164.2,300.0 165.0,300.1 165.8,299.8 166.6,300.1 167.4,299.5 168.2,299.8 169.0,299.6 169.8,299.7 170.6,300.6 171.4,300.8 172.2,301.3 173.0,300.8 173.8,300.7 174.6,299.8 175.4,300.7 176.2,300.2 177.0,301.1 177.8,301.3 178.6,301.4 179.4,301.5 180.2,300.4 181.0,300.4 181.8,300.6 182.6,301.1 183.4,300.7 184.2,300.5 185.0,300.3 185.8,299.9 186.6,300.3 187.4,299.8 188.2,299.9 189.0,299.9 189.8,300.1 190.6,299.9 191.4,299.7 192.2,300.2 193.0,299.6 193.8,299.9 194.6,299.6 195.4,299.6 196.2,299.5 197.0,300.0 197.8,299.8 198.6,299.3 199.4,299.7 200.2,299.7 201.0,299.0 201.8,298.5 202.6,298.9 203.4,298.3 204.2,298.3 205.0,299.3 205.8,299.4 206.6,299.1 207.4,298.5 208.2,298.9 209.0,298.8 209.8,299.0 210.6,299.7 211.4,299.9 212.2,299.4 213.0,299.2 213.8,299.5 214.6,299.6 215.4,299.0 216.2,299.3 217.0,299.4 217.8,300.2 218.6,299.6 219.4,298.8 220.2,299.5 221.0,299.2 221.8,299.1 222.6,299.4 223.4,299.3 224.2,299.4 225.0,299.4 225.8,299.6 226.6,300.1 227.4,300.0 228.2,301.1 229.0,300.0 229.8,300.0 230.6,300.9 231.4,300.5 232.2,300.9 233.0,300.2 233.8,300.6 234.6,300.0 235.4,300.7 236.2,301.1 237.0,300.8 237.8,300.3 238.6,300.1 239.4,300.9 240.2,300.4 241.0,300.3 241.8,299.9 242.6,299.5 243.4,299.6 244.2,299.2 245.0,299.6 245.8,300.5 246.6,300.3 247.4,300.0 248.2,299.9 249.0,299.9 249.8,300.5 250.6,299.8 251.4,299.0 252.2,298.4 253.0,298.2 253.8,298.7 254.6,298.2 255.4,299.0 256.2,298.8 257.0,299.0 257.8,298.2 258.6,299.2 259.4,298.5 260.2,298.2 261.0,298.3 261.8,298.2 262.6,298.6 263.4,298.9 264.2,298.9 265.0,298.5 265.8,299.9 266.6,299.9 267.4,300.3 268.2,300.0 269.0,300.6 269.8,300.1 270.6,300.6 271.4,300.2 272.2,300.5 273.0,299.3 273.8,299.7 274.6,299.6 275.4,300.4 276.2,300.7 277.0,300.7 277.8,300.8 278.6,301.3 279.4,300.4 280.2,300.1 281.0,300.7 281.8,301.0 282.6,301.0 283.4,300.4 284.2,301.2 285.0,300.7 285.8,300.2 286.6,300.2 287.4,300.2 288.2,300.6 289.0,300.8 289.8,300.7 290.6,299.8 291.4,299.7 292.2,300.3 293.0,299.9 293.8,300.1 294.6,300.3 295.4,300.0 296.2,299.7 297.0,299.3 297.8,298.8 298.6,299.3 299.4,299.0 300.2,299.6 301.0,299.2 301.8,299.4 302.6,299.6 303.4,298.7 304.2,299.2 305.0,299.4 305.8,299.1 306.6,299.4 307.4,300.1 308.2,299.8 309.0,300.1 309.8,300.3 310.6,300.3 311.4,300.2 312.2,299.6 313.0,300.6 313.8,300.4 314.6,300.6 315.4,300.6 316.2,299.7 317.0,299.9 317.8,299.8 318.6,299.6 319.4,299.8 320.2,299.9 321.0,299.6 321.8,300.0 322.6,299.7 323.4,299.6" fill="none" stroke="#00ff00" stroke-width="1.7" stroke-linejoin="round" stroke-linecap="round"/>
<polyline points="21.0,320.7 21.8,320.4 22.6,321.0 23.4,321.1 24.2,320.9 25.0,321.0 25.8,321.0 26.6,321.0 27.4,321.7 28.2,321.4 29.0,321.6 29.8,321.1 30.6,322.0 31.4,321.8 32.2,322.7 33.0,322.0 33.8,322.1 34.6,322.6 35.4,322.7 36.2,322.7 37.0,322.6 37.8,323.1 38.6,322.3 39.4,321.7 40.2,322.3 41.0,322.5 41.8,323.2 42.6,322.4 43.4,322.3 44.2,322.4 45.0,321.9 45.8,321.0 46.6,320.9 47.4,320.5 48.2,320.0 49.0,320.2 49.8,319.6 50.6,319.8 51.4,319.3 52.2,319.4 53.0,320.2 53.8,320.5 54.6,320.6 55.4,321.2 56.2,320.5 57.0,320.9 57.8,321.7 58.6,321.6 59.4,321.7 60.2,321.4 61.0,322.0 61.8,322.1 62.6,321.9 63.4,322.4 64.2,322.5 65.0,322.3 65.8,322.4 66.6,322.3 67.4,321.9 68.2,322.6 69.0,322.3 69.8,322.4 70.6,322.3 71.4,321.9 72.2,322.0 73.0,322.1 73.8,321.8 74.6,322.5 75.4,321.9 76.2,321.8 77.0,321.9 77.8,320.8 78.6,321.5 79.4,322.0 80.2,321.1 81.0,320.9 81.8,322.0 82.6,321.9 83.4,322.3 84.2,321.9 85.0,321.9 85.8,322.6 86.6,322.1 87.4,322.6 88.2,322.0 89.0,321.9 89.8,322.2 90.6,323.1 91.4,322.8 92.2,322.2 93.0,322.6 93.8,322.5 94.6,322.9 95.4,322.5 96.2,323.5 97.0,323.2 97.8,322.7 98.6,323.0 99.4,322.5 100.2,323.1 101.0,322.8 101.8,322.2 102.6,322.3 103.4,321.7 104.2,321.3 105.0,321.6 105.8,321.2 106.6,320.7 107.4,321.9 108.2,321.7 109.0,322.5 109.8,322.0 110.6,321.8 111.4,321.8 112.2,322.5 113.0,321.8 113.8,322.0 114.6,321.4 115.4,321.3 116.2,320.3 117.0,320.5 117.8,320.6 118.6,320.9 119.4,320.9 120.2,320.6 121.0,320.9 121.8,320.2 122.6,320.4 123.4,320.1 124.2,320.8 125.0,320.6 125.8,320.2 126.6,320.7 127.4,320.6 128.2,320.2 129.0,320.3 129.8,320.5 130.6,320.5 131.4,320.8 132.2,319.9 133.0,320.5 133.8,320.4 134.6,320.4 135.4,321.4 136.2,321.3 137.0,321.3 137.8,321.2 138.6,321.6 139.4,321.7 140.2,321.1 141.0,321.3 141.8,320.9 142.6,321.1 143.4,320.5 144.2,320.7 145.0,320.7 145.8,321.3 146.6,321.6 147.4,320.9 148.2,320.9 149.0,321.2 149.8,320.7 150.6,320.5 151.4,321.1 152.2,321.3 153.0,321.5 153.8,321.3 154.6,321.2 155.4,320.8 156.2,321.3 157.0,321.3 157.8,320.6 158.6,320.4 159.4,321.0 160.2,320.3 161.0,320.5 161.8,321.1 162.6,321.5 163.4,321.8 164.2,321.4 165.0,321.9 165.8,321.0 166.6,321.3 167.4,321.0 168.2,320.4 169.0,320.1 169.8,320.6 170.6,320.3 171.4,320.1 172.2,319.7 173.0,320.1 173.8,319.9 174.6,319.5 175.4,320.2 176.2,319.6 177.0,320.5 177.8,319.9 178.6,320.7 179.4,321.4 180.2,320.9 181.0,321.3 181.8,320.8 182.6,320.5 183.4,320.8 184.2,320.5 185.0,321.3 185.8,320.4 186.6,321.1 187.4,320.2 188.2,320.6 189.0,321.0 189.8,320.1 190.6,319.6 191.4,320.0 192.2,320.2 193.0,319.5 193.8,320.1 194.6,319.7 195.4,320.3 196.2,319.7 197.0,320.3 197.8,320.5 198.6,319.8 199.4,320.6 200.2,320.4 201.0,320.7 201.8,321.0 202.6,321.2 203.4,320.6 204.2,320.9 205.0,320.5 205.8,321.0 206.6,320.5 207.4,320.9 208.2,320.9 209.0,321.4 209.8,321.5 210.6,320.6 211.4,320.9 212.2,321.0 213.0,320.9 213.8,321.0 214.6,320.3 215.4,320.2 216.2,320.4 217.0,320.5 217.8,320.1 218.6,320.2 219.4,320.7 220.2,320.6 221.0,320.0 221.8,320.1 222.6,320.2 223.4,320.3 224.2,320.9 225.0,320.7 225.8,320.0 226.6,320.3 227.4,320.5 228.2,320.1 229.0,319.7 229.8,319.6 230.6,319.8 231.4,320.1 232.2,320.0 233.0,319.5 233.8,319.6 234.6,319.6 235.4,320.1 236.2,319.9 237.0,319.6 237.8,319.7 238.6,320.0 239.4,320.9 240.2,320.1 241.0,320.9 241.8,321.1 242.6,320.3 243.4,320.2 244.2,321.1 245.0,320.5 245.8,321.5 246.6,320.8 247.4,321.1 248.2,320.7 249.0,320.3 249.8,319.4 250.6,319.4 251.4,319.2 252.2,318.6 253.0,319.0 253.8,319.2 254.6,318.1 255.4,318.6 256.2,318.5 257.0,318.8 257.8,318.9 258.6,319.2 259.4,319.8 260.2,319.8 261.0,319.5 261.8,319.8 262.6,320.2 263.4,320.1 264.2,319.4 265.0,319.0 265.8,319.4 266.6,319.1 267.4,319.9 268.2,319.9 269.0,319.3 269.8,319.7 270.6,319.7 271.4,320.2 272.2,320.6 273.0,321.0 273.8,321.1 274.6,321.4 275.4,321.1 276.2,320.8 277.0,321.1 277.8,321.0 278.6,321.7 279.4,322.2 280.2,321.2 281.0,321.8 281.8,321.6 282.6,321.3 283.4,321.7 284.2,322.0 285.0,321.0 285.8,320.9 286.6,321.2 287.4,321.8 288.2,320.8 289.0,321.6 289.8,321.7 290.6,322.0 291.4,322.3 292.2,321.6 293.0,321.7 293.8,321.0 294.6,321.4 295.4,321.6 296.2,321.7 297.0,320.8 297.8,320.9 298.6,321.4 299.4,321.7 300.2,320.7 301.0,320.7 301.8,319.7 302.6,319.5 303.4,319.8 304.2,318.8 305.0,319.2 305.8,318.7 306.6,318.4 307.4,319.2 308.2,319.7 309.0,319.1 309.8,319.9 310.6,319.9 311.4,320.5 312.2,320.5 313.0,320.5 313.8,319.6 314.6,319.9 315.4,320.3 316.2,320.6 317.0,320.0 317.8,319.4 318.6,319.2 319.4,318.9 320.2,319.6 321.0,320.4 321.8,320.3 322.6,320.5 323.4,320.6" fill="none" stroke="#00ff00" stroke-width="1.7" stroke-linejoin="round" stroke-linecap="round"/>
<polyline points="21.0,340.2 21.8,341.0 22.6,340.6 23.4,340.8 24.2,340.2 25.0,340.3 25.8,340.8 26.6,340.5 27.4,340.6 28.2,341.4 29.0,341.6 29.8,342.1 30.6,342.5 31.4,342.6 32.2,342.2 33.0,342.4 33.8,342.0 34.6,342.7 35.4,342.9 36.2,342.8 37.0,343.2 37.8,342.2 38.6,341.5 39.4,342.3 40.2,342.0 41.0,342.4 41.8,342.3 42.6,342.1 43.4,341.0 44.2,341.4 45.0,341.0 45.8,341.7 46.6,341.4 47.4,341.7 48.2,341.5 49.0,341.3 49.8,340.5 50.6,340.5 51.4,341.1 52.2,340.4 53.0,339.7 53.8,339.5 54.6,339.9 55.4,339.8 56.2,341.1 57.0,341.2 57.8,341.4 58.6,341.1 59.4,341.7 60.2,341.5 61.0,341.6 61.8,341.0 62.6,341.6 63.4,341.6 64.2,342.0 65.0,343.0 65.8,343.1 66.6,343.0 67.4,342.9 68.2,343.1 69.0,342.1 69.8,342.2 70.6,342.8 71.4,342.5 72.2,342.3 73.0,342.3 73.8,341.9 74.6,342.2 75.4,342.0 76.2,341.4 77.0,340.6 77.8,339.9 78.6,340.8 79.4,341.4 80.2,340.9 81.0,340.2 81.8,340.5 82.6,340.6 83.4,340.8 84.2,340.6 85.0,340.0 85.8,341.1 86.6,340.8 87.4,341.4 88.2,342.0 89.0,341.5 89.8,341.5 90.6,342.2 91.4,341.3 92.2,342.3 93.0,341.7 93.8,342.2 94.6,343.2 95.4,343.0 96.2,343.6 97.0,342.9 97.8,343.1 98.6,342.4 99.4,341.5 100.2,341.4 101.0,341.9 101.8,342.0 102.6,341.8 103.4,342.5 104.2,341.8 105.0,341.3 105.8,342.1 106.6,342.2 107.4,342.1 108.2,341.5 109.0,341.4 109.8,341.0 110.6,341.0 111.4,341.0 112.2,341.2 113.0,341.5 113.8,341.3 114.6,341.5 115.4,341.0 116.2,341.2 117.0,341.2 117.8,341.3 118.6,340.7 119.4,340.8 120.2,340.6 121.0,340.7 121.8,340.9 122.6,340.4 123.4,339.7 124.2,340.2 125.0,339.9 125.8,340.1 126.6,339.5 127.4,339.8 128.2,340.1 129.0,340.9 129.8,340.8 130.6,340.1 131.4,340.4 132.2,340.5 133.0,340.8 133.8,340.5 134.6,341.5 135.4,341.4 136.2,340.8 137.0,341.1 137.8,340.6 138.6,340.3 139.4,339.8 140.2,340.3 141.0,339.4 141.8,340.2 142.6,340.6 143.4,340.5 144.2,340.3 145.0,340.3 145.8,341.6 146.6,341.6 147.4,341.6 148.2,341.0 149.0,341.4 149.8,341.4 150.6,341.1 151.4,341.2 152.2,341.2 153.0,341.1 153.8,340.8 154.6,341.1 155.4,340.8 156.2,341.5 157.0,341.4 157.8,341.0 158.6,341.8 159.4,341.1 160.2,340.9 161.0,340.4 161.8,341.2 162.6,340.7 163.4,340.9 164.2,341.2 165.0,341.0 165.8,341.7 166.6,341.0 167.4,341.6 168.2,341.1 169.0,340.8 169.8,341.3 170.6,341.8 171.4,341.1 172.2,341.1 173.0,341.6 173.8,341.3 174.6,341.5 175.4,341.9 176.2,341.0 177.0,340.6 177.8,340.8 178.6,340.7 179.4,339.9 180.2,340.4 181.0,340.1 181.8,340.7 182.6,341.0 183.4,340.8 184.2,340.3 185.0,340.9 185.8,341.0 186.6,341.3 187.4,341.1 188.2,341.4 189.0,341.4 189.8,341.5 190.6,341.5 191.4,340.7 192.2,340.6 193.0,341.3 193.8,341.2 194.6,341.2 195.4,340.5 196.2,341.3 197.0,341.0 197.8,340.7 198.6,341.0 199.4,341.7 200.2,341.4 201.0,341.2 201.8,340.7 202.6,340.9 203.4,340.8 204.2,340.8 205.0,340.6 205.8,341.0 206.6,340.1 207.4,340.0 208.2,340.8 209.0,340.8 209.8,341.3 210.6,341.5 211.4,341.7 212.2,341.9 213.0,342.4 213.8,342.0 214.6,342.1 215.4,342.6 216.2,342.8 217.0,343.2 217.8,343.1 218.6,342.2 219.4,341.5 220.2,342.2 221.0,341.8 221.8,341.3 222.6,341.4 223.4,341.6 224.2,341.9 225.0,341.0 225.8,341.6 226.6,342.0 227.4,342.0 228.2,342.1 229.0,341.3 229.8,341.7 230.6,340.9 231.4,341.2 232.2,341.4 233.0,340.8 233.8,340.8 234.6,340.8 235.4,341.3 236.2,340.9 237.0,341.4 237.8,341.5 238.6,341.8 239.4,341.7 240.2,342.2 241.0,341.6 241.8,341.7 242.6,341.6 243.4,341.5 244.2,341.9 245.0,341.0 245.8,341.8 246.6,341.9 247.4,341.6 248.2,340.8 249.0,340.8 249.8,340.1 250.6,340.2 251.4,340.0 252.2,340.5 253.0,340.5 253.8,340.5 254.6,341.1 255.4,340.8 256.2,341.6 257.0,340.9 257.8,340.7 258.6,341.0 259.4,341.3 260.2,340.7 261.0,340.1 261.8,340.4 262.6,340.6 263.4,340.5 264.2,340.5 265.0,341.4 265.8,341.4 266.6,340.9 267.4,340.3 268.2,341.1 269.0,341.6 269.8,340.8 270.6,340.7 271.4,341.1 272.2,341.8 273.0,342.2 273.8,341.9 274.6,341.3 275.4,341.4 276.2,341.7 277.0,342.0 277.8,341.5 278.6,341.6 279.4,342.1 280.2,342.1 281.0,342.0 281.8,342.3 282.6,342.6 283.4,341.8 284.2,341.5 285.0,342.4 285.8,341.8 286.6,341.8 287.4,342.1 288.2,342.0 289.0,342.6 289.8,341.9 290.6,341.4 291.4,341.8 292.2,342.4 293.0,342.8 293.8,342.4 294.6,342.0 295.4,341.7 296.2,342.0 297.0,341.3 297.8,340.5 298.6,341.4 299.4,340.7 300.2,341.4 301.0,342.0 301.8,341.5 302.6,341.1 303.4,340.3 304.2,340.6 305.0,340.1 305.8,341.0 306.6,340.6 307.4,340.5 308.2,340.7 309.0,340.3 309.8,340.9 310.6,340.9 311.4,340.6 312.2,341.2 313.0,340.9 313.8,340.9 314.6,341.1 315.4,341.2 316.2,341.3 317.0,341.5 317.8,341.7 318.6,341.3 319.4,341.5 320.2,341.8 321.0,341.6 321.8,342.3 322.6,342.2 323.4,342.4" fill="none" stroke="#00ff00" stroke-width="1.7" stroke-linejoin="round" stroke-linecap="round"/>
<polyline points="21.0,363.6 21.8,363.7 22.6,363.8 23.4,364.4 24.2,363.9 25.0,363.9 25.8,363.6 26.6,363.4 27.4,363.4 28.2,362.6 29.0,363.0 29.8,363.6 30.6,362.7 31.4,362.6 32.2,363.4 33.0,362.9 33.8,362.6 34.6,363.0 35.4,362.8 36.2,362.7 37.0,363.4 37.8,363.1 38.6,362.9 39.4,363.7 40.2,363.3 41.0,363.1 41.8,363.4 42.6,362.9 43.4,362.7 44.2,362.9 45.0,363.6 45.8,363.5 46.6,364.5 47.4,364.8 48.2,364.7 49.0,364.0 49.8,363.5 50.6,363.6 51.4,363.4 52.2,363.7 53.0,364.3 53.8,364.0 54.6,364.2 55.4,363.9 56.2,363.8 57.0,364.5 57.8,364.3 58.6,364.9 59.4,364.9 60.2,364.1 61.0,363.8 61.8,363.8 62.6,364.3 63.4,364.4 64.2,364.4 65.0,364.4 65.8,364.0 66.6,364.1 67.4,364.3 68.2,364.0 69.0,363.2 69.8,363.7 70.6,363.8 71.4,363.6 72.2,364.1 73.0,364.1 73.8,363.8 74.6,364.3 75.4,364.3 76.2,363.5 77.0,363.0 77.8,363.6 78.6,363.8 79.4,364.1 80.2,364.6 81.0,364.7 81.8,364.8 82.6,364.5 83.4,364.5 84.2,363.6 85.0,363.8 85.8,363.8 86.6,363.4 87.4,363.4 88.2,363.1 89.0,364.3 89.8,364.0 90.6,364.6 91.4,363.7 92.2,363.9 93.0,364.8 93.8,364.8 94.6,365.0 95.4,364.0 96.2,364.4 97.0,365.0 97.8,364.3 98.6,364.5 99.4,363.9 100.2,364.6 101.0,364.6 101.8,363.9 102.6,364.0 103.4,364.3 104.2,364.2 105.0,363.4 105.8,363.6 106.6,363.9 107.4,363.2 108.2,363.6 109.0,363.5 109.8,363.9 110.6,362.9 111.4,363.2 112.2,363.2 113.0,362.7 113.8,363.0 114.6,363.3 115.4,363.8 116.2,363.2 117.0,363.7 117.8,363.2 118.6,362.8 119.4,363.8 120.2,364.0 121.0,363.5 121.8,364.1 122.6,364.1 123.4,364.0 124.2,364.1 125.0,363.9 125.8,363.5 126.6,363.0 127.4,363.6 128.2,363.3 129.0,363.8 129.8,363.3 130.6,363.1 131.4,363.6 132.2,363.4 133.0,363.8 133.8,363.7 134.6,364.3 135.4,363.6 136.2,364.9 137.0,365.2 137.8,365.7 138.6,365.0 139.4,364.8 140.2,364.5 141.0,364.6 141.8,363.7 142.6,364.4 143.4,364.1 144.2,363.5 145.0,364.0 145.8,364.1 146.6,363.5 147.4,364.4 148.2,364.0 149.0,364.7 149.8,364.7 150.6,364.3 151.4,364.2 152.2,363.8 153.0,364.6 153.8,364.2 154.6,363.9 155.4,363.6 156.2,364.4 157.0,363.8 157.8,364.1 158.6,364.0 159.4,364.2 160.2,365.6 161.0,365.2 161.8,364.6 162.6,364.6 163.4,363.9 164.2,364.1 165.0,363.7 165.8,364.2 166.6,363.6 167.4,364.0 168.2,363.8 169.0,364.0 169.8,364.4 170.6,365.3 171.4,365.0 172.2,365.1 173.0,365.0 173.8,364.5 174.6,364.8 175.4,364.9 176.2,364.9 177.0,364.8 177.8,364.4 178.6,364.7 179.4,364.7 180.2,365.5 181.0,364.6 181.8,364.0 182.6,364.5 183.4,364.4 184.2,364.1 185.0,364.4 185.8,363.6 186.6,364.2 187.4,364.3 188.2,364.6 189.0,364.8 189.8,365.0 190.6,364.6 191.4,364.3 192.2,364.6 193.0,364.0 193.8,364.6 194.6,364.3 195.4,364.6 196.2,364.6 197.0,364.2 197.8,364.7 198.6,364.9 199.4,364.3 200.2,364.8 201.0,364.3 201.8,364.3 202.6,364.0 203.4,363.7 204.2,364.1 205.0,364.1 205.8,364.2 206.6,364.2 207.4,364.1 208.2,363.7 209.0,363.4 209.8,363.9 210.6,364.0 211.4,363.7 212.2,363.6 213.0,363.6 213.8,363.4 214.6,364.1 215.4,364.3 216.2,363.7 217.0,363.8 217.8,363.5 218.6,363.8 219.4,364.1 220.2,363.6 221.0,363.7 221.8,364.1 222.6,364.3 223.4,363.6 224.2,364.5 225.0,364.8 225.8,364.6 226.6,364.9 227.4,365.1 228.2,365.1 229.0,364.4 229.8,365.2 230.6,364.9 231.4,365.5 232.2,365.9 233.0,366.2 233.8,366.3 234.6,366.9 235.4,366.2 236.2,366.7 237.0,366.9 237.8,366.1 238.6,365.9 239.4,366.2 240.2,366.4 241.0,365.5 241.8,365.6 242.6,366.7 243.4,367.5 244.2,366.8 245.0,366.5 245.8,367.0 246.6,366.7 247.4,366.1 248.2,365.7 249.0,365.2 249.8,364.9 250.6,364.4 251.4,364.7 252.2,364.6 253.0,363.9 253.8,363.5 254.6,364.1 255.4,364.2 256.2,364.6 257.0,365.3 257.8,365.2 258.6,365.0 259.4,365.3 260.2,365.8 261.0,366.3 261.8,366.0 262.6,366.6 263.4,366.2 264.2,365.4 265.0,366.0 265.8,366.7 266.6,366.4 267.4,366.7 268.2,366.6 269.0,366.1 269.8,366.0 270.6,365.6 271.4,365.8 272.2,365.5 273.0,365.7 273.8,364.8 274.6,365.1 275.4,364.9 276.2,364.0 277.0,363.9 277.8,364.2 278.6,364.3 279.4,364.0 280.2,363.9 281.0,364.0 281.8,364.9 282.6,365.3 283.4,364.7 284.2,365.4 285.0,365.2 285.8,364.7 286.6,364.5 287.4,365.2 288.2,365.2 289.0,365.8 289.8,366.6 290.6,366.1 291.4,366.4 292.2,367.0 293.0,366.9 293.8,367.3 294.6,366.5 295.4,367.4 296.2,367.4 297.0,366.9 297.8,367.5 298.6,366.5 299.4,366.5 300.2,366.5 301.0,366.6 301.8,366.7 302.6,367.0 303.4,366.1 304.2,366.4 305.0,366.7 305.8,366.9 306.6,366.7 307.4,365.7 308.2,366.7 309.0,366.2 309.8,365.9 310.6,366.4 311.4,365.4 312.2,365.1 313.0,364.8 313.8,365.0 314.6,364.7 315.4,364.9 316.2,365.2 317.0,364.8 317.8,364.0 318.6,363.7 319.4,365.0 320.2,364.9 321.0,365.6 321.8,365.8 322.6,366.2 323.4,367.4" fill="none" stroke="#00ff00" stroke-width="1.7" stroke-linejoin="round" stroke-linecap="round"/>
<polyline points="21.0,384.7 21.8,384.2 22.6,384.7 23.4,384.9 24.2,384.9 25.0,385.1 25.8,384.7 26.6,385.4 27.4,385.0 28.2,385.8 29.0,385.6 29.8,386.6 30.6,387.1 31.4,387.1 32.2,387.7 33.0,386.6 33.8,386.6 34.6,386.5 35.4,386.6 36.2,386.2 37.0,385.8 37.8,385.5 38.6,384.5 39.4,383.6 40.2,384.3 41.0,384.1 41.8,384.0 42.6,384.5 43.4,384.7 44.2,384.4 45.0,385.1 45.8,385.8 46.6,385.6 47.4,385.5 48.2,385.6 49.0,386.0 49.8,386.1 50.6,387.6 51.4,388.0 52.2,387.2 53.0,387.9 53.8,387.4 54.6,387.3 55.4,387.4 56.2,386.6 57.0,385.9 57.8,385.5 58.6,385.9 59.4,385.2 60.2,384.2 61.0,384.0 61.8,383.0 62.6,382.1 63.4,382.8 64.2,383.1 65.0,383.2 65.8,384.4 66.6,384.0 67.4,385.1 68.2,385.0 69.0,385.5 69.8,385.4 70.6,387.0 71.4,387.1 72.2,387.4 73.0,387.6 73.8,387.3 74.6,386.9 75.4,386.5 76.2,385.8 77.0,386.0 77.8,385.2 78.6,385.2 79.4,385.2 80.2,384.7 81.0,384.3 81.8,384.8 82.6,384.3 83.4,384.5 84.2,384.2 85.0,385.1 85.8,384.9 86.6,385.8 87.4,385.7 88.2,386.2 89.0,386.9 89.8,386.8 90.6,386.2 91.4,386.6 92.2,386.9 93.0,386.5 93.8,388.0 94.6,387.6 95.4,387.9 96.2,387.9 97.0,387.1 97.8,387.6 98.6,387.3 99.4,386.3 100.2,385.6 101.0,385.5 101.8,386.6 102.6,386.3 103.4,385.4 104.2,385.0 105.0,385.5 105.8,385.1 106.6,385.4 107.4,385.0 108.2,384.4 109.0,384.4 109.8,385.3 110.6,385.9 111.4,385.6 112.2,385.4 113.0,385.6 113.8,385.5 114.6,385.4 115.4,385.9 116.2,385.9 117.0,385.5 117.8,385.2 118.6,386.2 119.4,385.9 120.2,385.8 121.0,386.4 121.8,386.1 122.6,386.6 123.4,385.9 124.2,386.0 125.0,386.1 125.8,386.3 126.6,386.8 127.4,386.8 128.2,387.2 129.0,387.2 129.8,387.3 130.6,387.2 131.4,386.9 132.2,387.5 133.0,387.4 133.8,387.1 134.6,387.7 135.4,388.2 136.2,388.5 137.0,388.3 137.8,387.8 138.6,388.0 139.4,388.0 140.2,387.7 141.0,387.2 141.8,386.4 142.6,386.3 143.4,386.4 144.2,386.6 145.0,386.7 145.8,386.4 146.6,386.8 147.4,387.1 148.2,387.1 149.0,385.9 149.8,386.4 150.6,387.4 151.4,386.9 152.2,387.0 153.0,387.0 153.8,386.8 154.6,386.2 155.4,387.5 156.2,387.4 157.0,386.7 157.8,386.5 158.6,386.6 159.4,387.2 160.2,387.2 161.0,388.0 161.8,387.6 162.6,387.7 163.4,387.2 164.2,387.1 165.0,386.8 165.8,386.7 166.6,386.3 167.4,386.2 168.2,385.7 169.0,386.4 169.8,385.8 170.6,386.5 171.4,385.8 172.2,385.3 173.0,386.3 173.8,386.3 174.6,385.9 175.4,385.6 176.2,386.3 177.0,386.0 177.8,386.6 178.6,386.5 179.4,386.8 180.2,387.0 181.0,387.0 181.8,387.3 182.6,387.3 183.4,386.9 184.2,387.5 185.0,387.2 185.8,387.2 186.6,386.4 187.4,386.9 188.2,387.1 189.0,386.5 189.8,386.3 190.6,386.2 191.4,385.8 192.2,386.2 193.0,386.2 193.8,385.1 194.6,386.1 195.4,385.7 196.2,385.8 197.0,386.1 197.8,385.6 198.6,385.9 199.4,385.6 200.2,386.4 201.0,386.0 201.8,385.6 202.6,385.1 203.4,385.7 204.2,385.0 205.0,385.8 205.8,385.7 206.6,385.8 207.4,385.0 208.2,386.2 209.0,386.1 209.8,386.1 210.6,386.5 211.4,386.6 212.2,386.0 213.0,386.7 213.8,386.3 214.6,386.2 215.4,385.9 216.2,385.7 217.0,385.3 217.8,386.1 218.6,385.7 219.4,385.9 220.2,385.8 221.0,386.2 221.8,386.0 222.6,385.8 223.4,386.1 224.2,385.9 225.0,386.5 225.8,386.1 226.6,385.8 227.4,386.7 228.2,385.9 229.0,386.4 229.8,386.7 230.6,386.7 231.4,386.3 232.2,386.1 233.0,386.1 233.8,386.1 234.6,386.3 235.4,386.9 236.2,386.5 237.0,387.2 237.8,386.2 238.6,387.0 239.4,386.4 240.2,386.8 241.0,386.8 241.8,386.9 242.6,386.4 243.4,386.5 244.2,387.3 245.0,387.3 245.8,386.4 246.6,386.4 247.4,387.3 248.2,386.9 249.0,387.2 249.8,387.5 250.6,388.3 251.4,387.4 252.2,386.8 253.0,386.6 253.8,387.4 254.6,386.6 255.4,386.4 256.2,386.6 257.0,387.0 257.8,386.7 258.6,387.7 259.4,387.2 260.2,387.3 261.0,386.7 261.8,387.4 262.6,387.5 263.4,387.2 264.2,387.1 265.0,386.6 265.8,386.5 266.6,386.7 267.4,386.0 268.2,385.9 269.0,386.2 269.8,385.4 270.6,385.5 271.4,385.8 272.2,386.4 273.0,385.8 273.8,385.2 274.6,385.6 275.4,385.1 276.2,384.5 277.0,384.6 277.8,385.2 278.6,385.1 279.4,385.5 280.2,385.0 281.0,385.0 281.8,384.8 282.6,385.1 283.4,385.4 284.2,385.8 285.0,385.8 285.8,386.2 286.6,385.4 287.4,385.5 288.2,385.5 289.0,386.4 289.8,386.1 290.6,386.2 291.4,385.5 292.2,386.8 293.0,386.8 293.8,386.7 294.6,386.2 295.4,386.6 296.2,386.7 297.0,387.5 297.8,386.5 298.6,386.5 299.4,386.1 300.2,387.0 301.0,387.1 301.8,386.9 302.6,387.5 303.4,387.2 304.2,387.0 305.0,386.6 305.8,387.3 306.6,386.9 307.4,386.2 308.2,386.2 309.0,385.5 309.8,386.2 310.6,385.9 311.4,386.7 312.2,385.6 313.0,385.9 313.8,385.5 314.6,385.3 315.4,385.8 316.2,385.8 317.0,386.0 317.8,385.7 318.6,386.3 319.4,386.1 320.2,386.0 321.0,386.1 321.8,386.1 322.6,386.4 323.4,385.8" fill="none" stroke="#00ff00" stroke-width="1.7" stroke-linejoin="round" stroke-linecap="round"/>
<polyline points="21.0,275.9 21.8,276.0 22.6,276.3 23.4,276.4 24.2,276.4 25.0,276.7 25.8,276.7 26.6,277.1 27.4,277.4 28.2,277.5 29.0,277.9 29.8,278.1 30.6,278.2 31.4,278.4 32.2,278.2 33.0,278.1 33.8,278.1 34.6,278.0 35.4,278.0 36.2,278.1 37.0,277.6 37.8,278.0 38.6,277.6 39.4,277.3 40.2,277.5 41.0,277.2 41.8,277.1 42.6,277.2 43.4,277.2 44.2,277.1 45.0,277.3 45.8,277.2 46.6,277.1 47.4,276.8 48.2,277.0 49.0,277.1 49.8,276.9 50.6,277.0 51.4,276.9 52.2,276.7 53.0,277.1 53.8,276.7 54.6,277.0 55.4,276.7 56.2,276.8 57.0,276.9 57.8,276.8 58.6,277.2 59.4,277.0 60.2,276.7 61.0,276.7 61.8,276.7 62.6,276.4 63.4,276.5 64.2,276.6 65.0,276.7 65.8,276.6 66.6,276.8 67.4,277.1 68.2,277.1 69.0,277.0 69.8,276.8 70.6,276.9 71.4,276.8 72.2,277.0 73.0,276.9 73.8,277.0 74.6,276.9 75.4,277.0 76.2,276.8 77.0,277.2 77.8,277.0 78.6,277.1 79.4,277.2 80.2,277.1 81.0,277.0 81.8,277.0 82.6,277.1 83.4,277.0 84.2,277.2 85.0,277.1 85.8,277.2 86.6,277.3 87.4,277.4 88.2,277.5 89.0,277.3 89.8,277.3 90.6,277.6 91.4,277.2 92.2,277.1 93.0,277.2 93.8,277.0 94.6,277.0 95.4,276.9 96.2,277.0 97.0,276.8 97.8,276.7 98.6,277.0 99.4,276.9 100.2,276.9 101.0,277.0 101.8,277.0 102.6,276.9 103.4,276.8 104.2,276.6 105.0,276.7 105.8,276.6 106.6,276.7 107.4,276.8 108.2,276.6 109.0,276.5 109.8,276.4 110.6,276.7 111.4,276.4 112.2,276.6 113.0,276.6 113.8,276.5 114.6,276.6 115.4,276.7 116.2,276.5 117.0,276.7 117.8,276.4 118.6,276.4 119.4,276.4 120.2,276.4 121.0,276.6 121.8,276.6 122.6,276.5 123.4,276.4 124.2,276.5 125.0,276.4 125.8,276.1 126.6,276.0 127.4,276.0 128.2,276.0 129.0,276.0 129.8,276.0 130.6,276.0 131.4,275.9 132.2,276.0 133.0,276.2 133.8,276.1 134.6,276.1 135.4,275.9 136.2,276.1 137.0,276.2 137.8,275.8 138.6,276.1 139.4,275.7 140.2,275.7 141.0,275.9 141.8,275.9 142.6,275.6 143.4,275.9 144.2,275.8 145.0,275.4 145.8,275.6 146.6,275.7 147.4,275.4 148.2,275.4 149.0,275.4 149.8,275.5 150.6,275.4 151.4,275.1 152.2,275.3 153.0,275.4 153.8,275.1 154.6,275.3 155.4,275.4 156.2,275.1 157.0,275.2 157.8,275.0 158.6,275.2 159.4,274.8 160.2,274.9 161.0,274.8 161.8,274.7 162.6,274.7 163.4,274.8 164.2,274.7 165.0,274.8 165.8,274.9 166.6,274.8 167.4,274.9 168.2,275.0 169.0,274.6 169.8,274.8 170.6,274.9 171.4,274.8 172.2,274.7 173.0,274.9 173.8,274.8 174.6,274.9 175.4,274.9 176.2,274.8 177.0,274.8 177.8,275.0 178.6,275.1 179.4,274.8 180.2,275.0 181.0,275.1 181.8,275.1 182.6,274.9 183.4,274.7 184.2,274.9 185.0,274.8 185.8,274.7 186.6,274.7 187.4,274.8 188.2,274.8 189.0,274.7 189.8,274.7 190.6,274.8 191.4,274.8 192.2,274.7 193.0,274.7 193.8,274.8 194.6,275.0 195.4,275.1 196.2,275.0 197.0,275.0 197.8,275.4 198.6,275.2 199.4,275.1 200.2,274.7 201.0,274.7 201.8,274.7 202.6,274.8 203.4,274.6 204.2,274.3 205.0,274.4 205.8,274.6 206.6,274.7 207.4,274.9 208.2,275.0 209.0,275.0 209.8,275.2 210.6,275.1 211.4,275.0 212.2,275.0 213.0,274.9 213.8,274.8 214.6,275.2 215.4,275.3 216.2,275.3 217.0,275.2 217.8,275.1 218.6,275.3 219.4,275.4 220.2,275.3 221.0,275.3 221.8,275.4 222.6,275.4 223.4,275.4 224.2,275.5 225.0,275.5 225.8,275.5 226.6,275.5 227.4,275.4 228.2,275.6 229.0,275.5 229.8,275.6 230.6,275.7 231.4,275.6 232.2,275.7 233.0,275.8 233.8,275.9 234.6,275.8 235.4,276.0 236.2,276.2 237.0,276.1 237.8,275.9 238.6,276.0 239.4,275.8 240.2,276.0 241.0,276.0 241.8,275.7 242.6,275.7 243.4,276.0 244.2,275.8 245.0,275.8 245.8,276.1 246.6,276.0 247.4,276.0 248.2,275.9 249.0,276.0 249.8,276.0 250.6,276.0 251.4,276.2 252.2,276.2 253.0,276.0 253.8,276.2 254.6,276.2 255.4,276.2 256.2,276.3 257.0,276.2 257.8,276.0 258.6,276.0 259.4,276.3 260.2,276.1 261.0,276.0 261.8,275.9 262.6,275.9 263.4,275.9 264.2,275.7 265.0,275.7 265.8,275.7 266.6,275.4 267.4,275.4 268.2,275.5 269.0,275.3 269.8,275.3 270.6,275.3 271.4,275.1 272.2,275.3 273.0,275.2 273.8,275.1 274.6,275.1 275.4,275.0 276.2,275.2 277.0,275.1 277.8,275.1 278.6,274.8 279.4,274.8 280.2,274.7 281.0,274.7 281.8,275.0 282.6,274.8 283.4,274.5 284.2,274.9 285.0,274.8 285.8,274.9 286.6,274.8 287.4,275.1 288.2,274.9 289.0,275.0 289.8,275.0 290.6,275.1 291.4,275.0 292.2,274.8 293.0,275.0 293.8,275.1 294.6,275.1 295.4,275.1 296.2,274.9 297.0,275.1 297.8,275.0 298.6,275.0 299.4,274.9 300.2,274.9 301.0,275.0 301.8,274.8 302.6,274.9 303.4,275.1 304.2,274.8 305.0,274.8 305.8,274.7 306.6,274.8 307.4,274.7 308.2,274.7 309.0,274.7 309.8,274.6 310.6,274.6 311.4,274.8 312.2,274.7 313.0,274.8 313.8,274.7 314.6,274.6 315.4,274.5 316.2,274.8 317.0,274.7 317.8,274.7 318.6,274.7 319.4,274.6 320.2,274.8 321.0,274.5 321.8,274.5 322.6,274.7 323.4,274.7" fill="none" stroke="#000000" stroke-width="1.65" stroke-linejoin="round" stroke-linecap="round"/>
<polyline points="21.0,297.1 21.8,297.2 22.6,297.2 23.4,297.2 24.2,297.1 25.0,297.2 25.8,297.4 26.6,297.2 27.4,297.3 28.2,297.1 29.0,297.5 29.8,297.6 30.6,297.3 31.4,297.3 32.2,297.3 33.0,297.5 33.8,297.5 34.6,297.6 35.4,297.7 36.2,297.5 37.0,297.4 37.8,297.4 38.6,297.4 39.4,297.6 40.2,297.5 41.0,297.5 41.8,297.4 42.6,297.6 43.4,297.6 44.2,297.7 45.0,297.5 45.8,297.6 46.6,297.8 47.4,297.6 48.2,297.8 49.0,297.5 49.8,297.4 50.6,297.5 51.4,297.4 52.2,297.3 53.0,297.5 53.8,297.4 54.6,297.2 55.4,297.4 56.2,297.4 57.0,297.5 57.8,297.2 58.6,297.2 59.4,297.3 60.2,297.5 61.0,297.4 61.8,297.5 62.6,297.4 63.4,297.4 64.2,297.3 65.0,297.0 65.8,297.1 66.6,297.3 67.4,297.3 68.2,297.4 69.0,297.4 69.8,297.5 70.6,297.3 71.4,297.4 72.2,297.4 73.0,297.6 73.8,297.6 74.6,297.4 75.4,297.6 76.2,297.7 77.0,297.6 77.8,297.6 78.6,297.3 79.4,297.4 80.2,297.3 81.0,297.3 81.8,297.5 82.6,297.5 83.4,297.5 84.2,297.9 85.0,298.0 85.8,297.8 86.6,298.0 87.4,297.6 88.2,297.6 89.0,297.8 89.8,297.6 90.6,297.6 91.4,297.9 92.2,297.8 93.0,297.9 93.8,298.0 94.6,297.8 95.4,297.7 96.2,297.7 97.0,298.0 97.8,297.8 98.6,297.6 99.4,298.0 100.2,298.1 101.0,297.9 101.8,297.8 102.6,297.9 103.4,297.7 104.2,297.8 105.0,297.6 105.8,297.6 106.6,297.5 107.4,297.4 108.2,297.4 109.0,297.2 109.8,297.2 110.6,297.3 111.4,297.1 112.2,297.2 113.0,297.1 113.8,297.2 114.6,297.1 115.4,297.1 116.2,297.0 117.0,297.1 117.8,297.0 118.6,297.1 119.4,297.4 120.2,297.4 121.0,297.2 121.8,297.1 122.6,297.0 123.4,297.0 124.2,297.2 125.0,297.2 125.8,297.1 126.6,297.0 127.4,297.0 128.2,297.1 129.0,297.2 129.8,297.0 130.6,296.9 131.4,296.9 132.2,296.8 133.0,297.0 133.8,296.7 134.6,296.5 135.4,296.6 136.2,296.7 137.0,296.7 137.8,296.7 138.6,296.6 139.4,296.6 140.2,296.8 141.0,296.7 141.8,296.7 142.6,296.7 143.4,296.4 144.2,296.6 145.0,296.6 145.8,296.9 146.6,297.0 147.4,297.0 148.2,296.9 149.0,296.7 149.8,296.9 150.6,296.9 151.4,296.7 152.2,297.0 153.0,297.1 153.8,296.9 154.6,297.1 155.4,297.1 156.2,296.9 157.0,297.0 157.8,296.7 158.6,296.9 159.4,296.6 160.2,296.6 161.0,296.7 161.8,296.7 162.6,296.5 163.4,296.4 164.2,296.5 165.0,297.0 165.8,297.0 166.6,297.0 167.4,296.8 168.2,296.7 169.0,296.8 169.8,296.5 170.6,296.6 171.4,296.6 172.2,296.5 173.0,296.8 173.8,296.9 174.6,297.0 175.4,297.0 176.2,297.1 177.0,296.8 177.8,297.1 178.6,297.0 179.4,296.8 180.2,296.6 181.0,296.7 181.8,296.8 182.6,296.8 183.4,296.8 184.2,296.8 185.0,296.6 185.8,296.4 186.6,296.6 187.4,296.4 188.2,296.2 189.0,296.4 189.8,296.5 190.6,296.2 191.4,296.4 192.2,296.6 193.0,296.4 193.8,296.4 194.6,296.5 195.4,296.5 196.2,296.4 197.0,296.4 197.8,296.5 198.6,296.4 199.4,296.6 200.2,296.5 201.0,296.6 201.8,296.6 202.6,296.4 203.4,296.3 204.2,296.4 205.0,296.2 205.8,296.5 206.6,296.6 207.4,296.4 208.2,296.6 209.0,296.4 209.8,296.3 210.6,296.5 211.4,296.3 212.2,296.1 213.0,296.1 213.8,296.1 214.6,296.2 215.4,296.1 216.2,296.0 217.0,296.1 217.8,296.1 218.6,296.2 219.4,296.2 220.2,295.9 221.0,295.8 221.8,296.1 222.6,296.4 223.4,296.6 224.2,296.5 225.0,296.5 225.8,296.4 226.6,296.8 227.4,296.7 228.2,296.8 229.0,296.6 229.8,297.0 230.6,296.8 231.4,296.9 232.2,297.1 233.0,297.0 233.8,297.0 234.6,297.0 235.4,297.4 236.2,297.5 237.0,297.5 237.8,297.4 238.6,297.7 239.4,297.8 240.2,297.6 241.0,297.6 241.8,297.5 242.6,297.7 243.4,297.6 244.2,297.5 245.0,297.5 245.8,297.8 246.6,297.8 247.4,297.9 248.2,297.9 249.0,297.8 249.8,297.9 250.6,297.9 251.4,298.0 252.2,297.9 253.0,297.9 253.8,298.0 254.6,298.1 255.4,298.5 256.2,298.3 257.0,298.6 257.8,298.5 258.6,298.6 259.4,298.4 260.2,298.6 261.0,298.5 261.8,298.4 262.6,298.4 263.4,298.2 264.2,298.3 265.0,298.5 265.8,298.6 266.6,298.6 267.4,298.7 268.2,298.7 269.0,298.7 269.8,298.9 270.6,298.8 271.4,298.6 272.2,298.6 273.0,298.9 273.8,299.1 274.6,298.8 275.4,298.9 276.2,299.0 277.0,299.2 277.8,299.4 278.6,299.2 279.4,299.2 280.2,299.4 281.0,299.3 281.8,299.6 282.6,299.5 283.4,299.7 284.2,299.6 285.0,299.7 285.8,299.5 286.6,299.6 287.4,299.9 288.2,299.9 289.0,299.8 289.8,299.9 290.6,300.1 291.4,300.1 292.2,299.9 293.0,299.9 293.8,300.1 294.6,299.9 295.4,300.1 296.2,299.8 297.0,299.9 297.8,299.7 298.6,299.6 299.4,299.8 300.2,300.0 301.0,300.1 301.8,300.1 302.6,300.1 303.4,300.2 304.2,300.4 305.0,300.5 305.8,300.2 306.6,300.4 307.4,300.3 308.2,300.4 309.0,300.4 309.8,300.4 310.6,300.3 311.4,300.6 312.2,300.6 313.0,300.9 313.8,300.7 314.6,300.7 315.4,300.9 316.2,300.6 317.0,300.6 317.8,300.8 318.6,300.7 319.4,300.9 320.2,300.8 321.0,300.9 321.8,300.8 322.6,300.8 323.4,301.1" fill="none" stroke="#000000" stroke-width="1.65" stroke-linejoin="round" stroke-linecap="round"/>
<polyline points="21.0,318.5 21.8,318.6 22.6,318.6 23.4,318.4 24.2,318.5 25.0,318.7 25.8,318.6 26.6,318.4 27.4,318.3 28.2,318.5 29.0,318.5 29.8,318.4 30.6,318.5 31.4,318.5 32.2,318.4 33.0,318.5 33.8,318.2 34.6,318.0 35.4,317.9 36.2,318.2 37.0,318.3 37.8,318.1 38.6,317.9 39.4,318.1 40.2,318.2 41.0,318.2 41.8,317.8 42.6,318.2 43.4,317.8 44.2,317.8 45.0,317.5 45.8,317.4 46.6,317.4 47.4,317.6 48.2,317.7 49.0,317.7 49.8,317.8 50.6,317.8 51.4,317.5 52.2,317.4 53.0,317.5 53.8,317.5 54.6,317.6 55.4,317.6 56.2,317.8 57.0,317.8 57.8,317.9 58.6,318.1 59.4,318.0 60.2,317.9 61.0,318.1 61.8,318.0 62.6,318.2 63.4,318.2 64.2,318.2 65.0,317.9 65.8,318.2 66.6,317.9 67.4,318.0 68.2,317.9 69.0,317.9 69.8,317.7 70.6,317.7 71.4,317.9 72.2,317.6 73.0,318.0 73.8,317.9 74.6,317.7 75.4,317.7 76.2,317.9 77.0,317.9 77.8,318.0 78.6,318.3 79.4,318.3 80.2,318.5 81.0,318.3 81.8,318.6 82.6,318.6 83.4,318.7 84.2,318.9 85.0,318.6 85.8,318.8 86.6,318.8 87.4,318.7 88.2,318.8 89.0,319.1 89.8,318.8 90.6,319.0 91.4,318.9 92.2,318.9 93.0,318.7 93.8,318.7 94.6,318.5 95.4,318.8 96.2,319.1 97.0,319.2 97.8,319.2 98.6,319.5 99.4,319.4 100.2,319.2 101.0,319.4 101.8,319.3 102.6,319.5 103.4,319.8 104.2,319.7 105.0,319.8 105.8,319.9 106.6,319.7 107.4,319.8 108.2,320.0 109.0,319.9 109.8,319.9 110.6,320.0 111.4,319.8 112.2,319.9 113.0,319.9 113.8,319.7 114.6,319.6 115.4,319.8 116.2,319.8 117.0,320.1 117.8,319.7 118.6,320.0 119.4,319.9 120.2,319.7 121.0,320.1 121.8,320.3 122.6,320.0 123.4,320.2 124.2,320.2 125.0,320.3 125.8,320.3 126.6,320.5 127.4,320.7 128.2,320.6 129.0,320.4 129.8,320.7 130.6,320.7 131.4,320.8 132.2,320.6 133.0,320.7 133.8,321.0 134.6,321.1 135.4,321.2 136.2,321.1 137.0,321.3 137.8,321.2 138.6,321.3 139.4,321.3 140.2,321.0 141.0,321.1 141.8,321.4 142.6,321.1 143.4,321.4 144.2,321.0 145.0,321.2 145.8,321.2 146.6,321.3 147.4,321.4 148.2,321.5 149.0,321.4 149.8,321.6 150.6,321.5 151.4,321.6 152.2,321.8 153.0,321.7 153.8,321.9 154.6,322.0 155.4,322.0 156.2,322.2 157.0,322.2 157.8,322.1 158.6,322.0 159.4,322.1 160.2,322.5 161.0,322.4 161.8,322.1 162.6,322.0 163.4,321.9 164.2,321.8 165.0,322.1 165.8,322.1 166.6,322.0 167.4,322.0 168.2,322.0 169.0,321.9 169.8,322.0 170.6,322.2 171.4,321.9 172.2,321.8 173.0,321.7 173.8,322.0 174.6,321.8 175.4,322.1 176.2,322.0 177.0,321.9 177.8,321.9 178.6,322.2 179.4,321.9 180.2,322.0 181.0,321.9 181.8,321.7 182.6,322.0 183.4,322.2 184.2,322.3 185.0,322.0 185.8,322.1 186.6,322.0 187.4,322.0 188.2,322.1 189.0,322.1 189.8,322.3 190.6,322.0 191.4,322.0 192.2,321.9 193.0,321.9 193.8,322.2 194.6,322.1 195.4,322.1 196.2,322.3 197.0,322.3 197.8,322.6 198.6,322.5 199.4,322.6 200.2,322.7 201.0,322.9 201.8,322.8 202.6,323.1 203.4,322.6 204.2,322.6 205.0,322.5 205.8,322.4 206.6,322.7 207.4,322.7 208.2,322.7 209.0,322.8 209.8,322.7 210.6,322.6 211.4,322.5 212.2,322.6 213.0,322.5 213.8,322.3 214.6,322.2 215.4,322.4 216.2,322.4 217.0,322.4 217.8,322.4 218.6,322.5 219.4,322.4 220.2,322.4 221.0,322.8 221.8,322.5 222.6,322.6 223.4,322.6 224.2,322.6 225.0,322.4 225.8,322.2 226.6,322.1 227.4,322.5 228.2,322.3 229.0,322.3 229.8,322.3 230.6,322.2 231.4,322.1 232.2,322.4 233.0,322.4 233.8,322.3 234.6,322.4 235.4,322.4 236.2,322.3 237.0,322.2 237.8,322.3 238.6,322.2 239.4,322.4 240.2,322.3 241.0,322.4 241.8,322.2 242.6,322.3 243.4,322.2 244.2,322.2 245.0,322.1 245.8,321.9 246.6,321.9 247.4,322.1 248.2,321.8 249.0,321.7 249.8,322.2 250.6,322.1 251.4,322.0 252.2,322.0 253.0,322.1 253.8,321.9 254.6,322.0 255.4,322.0 256.2,322.0 257.0,322.0 257.8,322.2 258.6,322.4 259.4,322.4 260.2,322.5 261.0,322.4 261.8,322.5 262.6,322.3 263.4,322.2 264.2,322.3 265.0,322.0 265.8,321.7 266.6,321.8 267.4,321.8 268.2,322.0 269.0,321.8 269.8,322.1 270.6,322.1 271.4,322.0 272.2,322.0 273.0,322.1 273.8,322.4 274.6,322.4 275.4,322.2 276.2,322.1 277.0,322.2 277.8,322.0 278.6,322.2 279.4,322.3 280.2,322.3 281.0,321.9 281.8,321.9 282.6,322.1 283.4,322.0 284.2,322.0 285.0,322.1 285.8,322.0 286.6,322.0 287.4,322.1 288.2,322.0 289.0,321.9 289.8,322.0 290.6,321.9 291.4,322.0 292.2,322.1 293.0,322.1 293.8,322.1 294.6,322.1 295.4,322.2 296.2,322.0 297.0,322.1 297.8,322.1 298.6,322.0 299.4,321.8 300.2,322.2 301.0,321.9 301.8,322.2 302.6,321.8 303.4,321.9 304.2,321.7 305.0,321.7 305.8,321.8 306.6,321.7 307.4,321.7 308.2,321.5 309.0,321.4 309.8,321.5 310.6,321.4 311.4,321.3 312.2,321.5 313.0,321.6 313.8,321.7 314.6,321.5 315.4,321.7 316.2,321.9 317.0,321.5 317.8,321.7 318.6,321.9 319.4,321.8 320.2,321.9 321.0,321.6 321.8,321.7 322.6,321.7 323.4,321.8" fill="none" stroke="#000000" stroke-width="1.65" stroke-linejoin="round" stroke-linecap="round"/>
<polyline points="21.0,338.4 21.8,338.5 22.6,338.5 23.4,338.5 24.2,338.6 25.0,338.4 25.8,338.5 26.6,338.6 27.4,338.6 28.2,338.6 29.0,338.9 29.8,338.7 30.6,338.8 31.4,338.7 32.2,338.7 33.0,338.7 33.8,338.8 34.6,338.6 35.4,338.8 36.2,338.8 37.0,338.8 37.8,338.9 38.6,338.9 39.4,338.6 40.2,338.8 41.0,338.8 41.8,339.0 42.6,339.2 43.4,339.1 44.2,338.8 45.0,339.2 45.8,339.2 46.6,339.1 47.4,339.3 48.2,339.1 49.0,339.0 49.8,339.4 50.6,339.2 51.4,339.5 52.2,339.3 53.0,339.5 53.8,339.5 54.6,339.4 55.4,339.1 56.2,339.2 57.0,339.1 57.8,339.3 58.6,339.2 59.4,339.1 60.2,339.0 61.0,339.1 61.8,339.1 62.6,338.8 63.4,338.8 64.2,339.0 65.0,338.6 65.8,338.6 66.6,338.7 67.4,338.5 68.2,338.6 69.0,339.0 69.8,339.0 70.6,338.5 71.4,338.3 72.2,338.6 73.0,338.6 73.8,338.3 74.6,338.5 75.4,338.1 76.2,338.2 77.0,338.0 77.8,338.0 78.6,338.4 79.4,338.6 80.2,338.8 81.0,338.7 81.8,338.5 82.6,338.7 83.4,338.5 84.2,338.5 85.0,338.6 85.8,338.8 86.6,338.6 87.4,338.6 88.2,338.5 89.0,338.4 89.8,338.7 90.6,338.6 91.4,338.7 92.2,338.6 93.0,338.5 93.8,338.5 94.6,338.3 95.4,338.3 96.2,338.3 97.0,338.6 97.8,338.2 98.6,338.2 99.4,338.1 100.2,338.2 101.0,338.3 101.8,338.3 102.6,338.4 103.4,338.2 104.2,338.3 105.0,338.2 105.8,338.5 106.6,338.3 107.4,338.3 108.2,338.2 109.0,338.4 109.8,338.2 110.6,338.2 111.4,338.0 112.2,338.0 113.0,337.8 113.8,337.7 114.6,337.6 115.4,337.7 116.2,337.7 117.0,337.7 117.8,337.8 118.6,337.7 119.4,337.8 120.2,337.6 121.0,337.6 121.8,337.7 122.6,337.8 123.4,338.0 124.2,338.2 125.0,337.9 125.8,337.9 126.6,338.1 127.4,337.8 128.2,337.8 129.0,337.9 129.8,338.2 130.6,338.0 131.4,338.2 132.2,337.9 133.0,338.3 133.8,338.0 134.6,338.2 135.4,338.1 136.2,338.1 137.0,338.1 137.8,338.1 138.6,338.1 139.4,338.2 140.2,338.2 141.0,338.1 141.8,338.2 142.6,338.2 143.4,338.3 144.2,338.2 145.0,338.3 145.8,337.9 146.6,338.0 147.4,338.2 148.2,338.3 149.0,338.1 149.8,338.2 150.6,338.2 151.4,338.5 152.2,338.3 153.0,338.3 153.8,338.4 154.6,338.3 155.4,338.3 156.2,338.3 157.0,338.4 157.8,338.6 158.6,338.7 159.4,338.8 160.2,338.8 161.0,338.9 161.8,338.6 162.6,338.5 163.4,338.4 164.2,338.5 165.0,338.4 165.8,338.4 166.6,338.6 167.4,338.5 168.2,338.6 169.0,338.7 169.8,338.8 170.6,338.9 171.4,338.7 172.2,338.7 173.0,338.6 173.8,338.8 174.6,338.7 175.4,338.8 176.2,338.8 177.0,338.7 177.8,338.8 178.6,338.9 179.4,339.0 180.2,338.9 181.0,339.0 181.8,338.6 182.6,338.8 183.4,338.8 184.2,338.6 185.0,338.5 185.8,338.6 186.6,338.8 187.4,338.7 188.2,338.8 189.0,338.8 189.8,338.8 190.6,338.8 191.4,338.5 192.2,338.8 193.0,338.9 193.8,339.1 194.6,339.2 195.4,339.3 196.2,339.2 197.0,338.9 197.8,338.9 198.6,339.0 199.4,338.8 200.2,338.8 201.0,339.0 201.8,338.9 202.6,339.3 203.4,338.8 204.2,339.0 205.0,338.9 205.8,339.0 206.6,339.0 207.4,338.9 208.2,339.0 209.0,339.0 209.8,339.1 210.6,339.4 211.4,339.4 212.2,339.3 213.0,339.1 213.8,339.2 214.6,339.2 215.4,339.3 216.2,339.0 217.0,339.1 217.8,339.3 218.6,339.1 219.4,339.2 220.2,339.5 221.0,339.2 221.8,339.5 222.6,339.4 223.4,339.1 224.2,339.1 225.0,339.2 225.8,339.0 226.6,339.1 227.4,339.0 228.2,339.2 229.0,339.0 229.8,338.8 230.6,338.8 231.4,338.9 232.2,338.7 233.0,338.8 233.8,338.8 234.6,339.0 235.4,338.9 236.2,338.8 237.0,339.1 237.8,339.0 238.6,339.2 239.4,339.0 240.2,339.0 241.0,339.1 241.8,339.4 242.6,339.1 243.4,339.2 244.2,339.2 245.0,339.2 245.8,339.3 246.6,339.1 247.4,339.1 248.2,339.1 249.0,339.0 249.8,339.0 250.6,339.0 251.4,339.0 252.2,339.1 253.0,339.0 253.8,339.0 254.6,339.0 255.4,339.2 256.2,339.4 257.0,339.4 257.8,339.3 258.6,339.1 259.4,339.3 260.2,339.2 261.0,339.2 261.8,339.2 262.6,339.3 263.4,339.3 264.2,339.2 265.0,339.2 265.8,339.1 266.6,339.1 267.4,339.1 268.2,339.3 269.0,339.1 269.8,339.2 270.6,339.2 271.4,339.0 272.2,339.1 273.0,338.9 273.8,339.2 274.6,339.0 275.4,339.1 276.2,339.1 277.0,339.2 277.8,339.1 278.6,339.1 279.4,339.0 280.2,338.9 281.0,339.0 281.8,339.3 282.6,339.2 283.4,339.1 284.2,339.2 285.0,339.1 285.8,339.1 286.6,339.3 287.4,339.2 288.2,339.1 289.0,339.1 289.8,339.2 290.6,339.4 291.4,339.4 292.2,339.1 293.0,339.4 293.8,339.0 294.6,339.2 295.4,339.1 296.2,339.4 297.0,339.1 297.8,339.4 298.6,339.2 299.4,339.5 300.2,339.4 301.0,339.2 301.8,339.0 302.6,339.2 303.4,339.4 304.2,339.3 305.0,339.2 305.8,339.3 306.6,339.6 307.4,339.2 308.2,339.2 309.0,339.4 309.8,339.5 310.6,339.4 311.4,339.3 312.2,339.2 313.0,339.5 313.8,339.3 314.6,339.5 315.4,339.5 316.2,339.6 317.0,339.5 317.8,339.6 318.6,339.8 319.4,339.8 320.2,339.6 321.0,339.7 321.8,339.6 322.6,339.4 323.4,339.3" fill="none" stroke="#000000" stroke-width="1.65" stroke-linejoin="round" stroke-linecap="round"/>
<polyline points="21.0,359.6 21.8,359.8 22.6,359.8 23.4,359.9 24.2,359.6 25.0,359.6 25.8,359.8 26.6,359.8 27.4,359.9 28.2,360.2 29.0,360.2 29.8,360.3 30.6,359.9 31.4,360.0 32.2,359.9 33.0,360.2 33.8,360.1 34.6,360.2 35.4,360.0 36.2,359.8 37.0,360.0 37.8,360.1 38.6,360.3 39.4,360.0 40.2,360.0 41.0,360.1 41.8,360.3 42.6,360.2 43.4,360.1 44.2,360.3 45.0,360.3 45.8,360.4 46.6,360.3 47.4,360.5 48.2,360.4 49.0,360.4 49.8,360.5 50.6,360.7 51.4,360.6 52.2,360.5 53.0,360.5 53.8,360.7 54.6,360.9 55.4,360.7 56.2,360.6 57.0,360.6 57.8,360.6 58.6,360.8 59.4,360.7 60.2,360.3 61.0,360.6 61.8,360.4 62.6,360.8 63.4,360.7 64.2,360.7 65.0,361.0 65.8,360.7 66.6,360.6 67.4,360.8 68.2,360.7 69.0,360.7 69.8,361.0 70.6,361.0 71.4,361.0 72.2,361.2 73.0,361.1 73.8,361.4 74.6,361.4 75.4,361.6 76.2,361.6 77.0,361.5 77.8,361.5 78.6,361.5 79.4,361.4 80.2,361.5 81.0,361.7 81.8,361.3 82.6,361.5 83.4,361.4 84.2,361.8 85.0,361.6 85.8,361.6 86.6,361.6 87.4,361.6 88.2,361.8 89.0,361.5 89.8,361.3 90.6,361.4 91.4,361.3 92.2,361.1 93.0,361.3 93.8,361.1 94.6,361.1 95.4,361.3 96.2,361.4 97.0,361.3 97.8,361.4 98.6,361.5 99.4,361.3 100.2,361.5 101.0,361.6 101.8,361.8 102.6,361.8 103.4,362.1 104.2,362.0 105.0,361.7 105.8,361.8 106.6,362.0 107.4,362.0 108.2,362.0 109.0,361.9 109.8,362.0 110.6,362.0 111.4,362.0 112.2,361.9 113.0,361.7 113.8,361.5 114.6,362.0 115.4,361.7 116.2,361.8 117.0,361.8 117.8,361.8 118.6,361.9 119.4,362.0 120.2,362.0 121.0,362.0 121.8,362.1 122.6,362.2 123.4,362.1 124.2,362.1 125.0,362.3 125.8,362.2 126.6,362.2 127.4,362.1 128.2,362.4 129.0,362.4 129.8,362.4 130.6,362.6 131.4,362.5 132.2,362.8 133.0,362.3 133.8,362.3 134.6,362.1 135.4,361.9 136.2,362.2 137.0,362.4 137.8,362.2 138.6,362.2 139.4,362.2 140.2,362.6 141.0,362.3 141.8,362.4 142.6,362.4 143.4,362.6 144.2,362.9 145.0,362.8 145.8,362.8 146.6,362.7 147.4,362.7 148.2,362.4 149.0,362.4 149.8,362.6 150.6,362.5 151.4,362.6 152.2,362.7 153.0,362.5 153.8,362.5 154.6,362.8 155.4,362.8 156.2,362.7 157.0,362.6 157.8,362.7 158.6,362.7 159.4,362.8 160.2,362.8 161.0,362.9 161.8,362.7 162.6,363.1 163.4,362.9 164.2,362.9 165.0,363.0 165.8,363.1 166.6,363.1 167.4,363.2 168.2,363.1 169.0,363.0 169.8,363.1 170.6,363.1 171.4,363.1 172.2,363.1 173.0,363.1 173.8,363.1 174.6,363.2 175.4,363.0 176.2,363.3 177.0,363.1 177.8,363.0 178.6,363.1 179.4,363.4 180.2,363.6 181.0,363.6 181.8,363.6 182.6,363.4 183.4,363.6 184.2,363.5 185.0,363.4 185.8,363.5 186.6,363.3 187.4,363.3 188.2,363.3 189.0,363.3 189.8,363.3 190.6,363.3 191.4,363.4 192.2,363.2 193.0,363.2 193.8,363.3 194.6,363.1 195.4,363.4 196.2,363.5 197.0,363.2 197.8,363.2 198.6,363.3 199.4,363.3 200.2,363.3 201.0,363.3 201.8,363.4 202.6,363.6 203.4,363.5 204.2,363.5 205.0,363.2 205.8,363.2 206.6,363.5 207.4,363.6 208.2,363.5 209.0,363.6 209.8,363.4 210.6,363.7 211.4,363.7 212.2,363.5 213.0,363.6 213.8,363.7 214.6,363.8 215.4,363.9 216.2,363.8 217.0,364.0 217.8,364.0 218.6,364.1 219.4,363.9 220.2,363.8 221.0,363.9 221.8,364.2 222.6,364.1 223.4,364.1 224.2,364.2 225.0,364.1 225.8,363.9 226.6,363.8 227.4,363.8 228.2,364.0 229.0,364.0 229.8,363.9 230.6,363.9 231.4,364.0 232.2,363.9 233.0,363.9 233.8,364.0 234.6,363.9 235.4,363.6 236.2,363.5 237.0,363.5 237.8,363.7 238.6,363.7 239.4,364.0 240.2,363.9 241.0,364.0 241.8,364.1 242.6,364.2 243.4,364.2 244.2,364.2 245.0,364.2 245.8,364.1 246.6,364.2 247.4,364.1 248.2,364.0 249.0,364.1 249.8,363.9 250.6,363.8 251.4,364.1 252.2,363.8 253.0,363.9 253.8,364.2 254.6,364.2 255.4,364.2 256.2,364.3 257.0,364.4 257.8,364.2 258.6,364.3 259.4,364.4 260.2,364.5 261.0,364.5 261.8,364.4 262.6,364.2 263.4,364.4 264.2,364.0 265.0,364.3 265.8,364.2 266.6,364.3 267.4,364.4 268.2,364.5 269.0,364.4 269.8,364.2 270.6,364.5 271.4,364.4 272.2,364.1 273.0,364.0 273.8,364.2 274.6,364.0 275.4,364.0 276.2,364.3 277.0,364.4 277.8,364.2 278.6,364.2 279.4,364.3 280.2,364.1 281.0,364.2 281.8,364.5 282.6,364.3 283.4,364.2 284.2,364.1 285.0,364.3 285.8,364.2 286.6,364.0 287.4,364.1 288.2,364.3 289.0,364.2 289.8,364.2 290.6,364.3 291.4,364.3 292.2,364.2 293.0,364.4 293.8,364.5 294.6,364.5 295.4,364.7 296.2,364.9 297.0,365.0 297.8,364.7 298.6,364.6 299.4,364.8 300.2,364.7 301.0,364.8 301.8,364.8 302.6,364.7 303.4,364.7 304.2,364.7 305.0,364.6 305.8,364.5 306.6,364.5 307.4,364.5 308.2,364.6 309.0,364.6 309.8,364.6 310.6,364.2 311.4,364.2 312.2,364.5 313.0,364.5 313.8,364.4 314.6,364.5 315.4,364.6 316.2,364.6 317.0,364.4 317.8,364.4 318.6,364.3 319.4,364.4 320.2,364.5 321.0,364.4 321.8,364.5 322.6,364.5 323.4,364.5" fill="none" stroke="#000000" stroke-width="1.65" stroke-linejoin="round" stroke-linecap="round"/>
<polyline points="21.0,382.7 21.8,383.0 22.6,382.8 23.4,382.9 24.2,383.0 25.0,383.1 25.8,382.8 26.6,382.6 27.4,382.3 28.2,382.5 29.0,382.2 29.8,382.3 30.6,382.4 31.4,382.4 32.2,382.4 33.0,382.3 33.8,382.3 34.6,382.2 35.4,381.9 36.2,381.9 37.0,381.9 37.8,381.8 38.6,381.9 39.4,381.7 40.2,382.0 41.0,381.6 41.8,381.9 42.6,381.5 43.4,381.8 44.2,381.5 45.0,381.3 45.8,381.5 46.6,381.1 47.4,381.0 48.2,381.0 49.0,381.1 49.8,381.1 50.6,381.3 51.4,381.1 52.2,380.8 53.0,380.9 53.8,380.9 54.6,380.9 55.4,380.8 56.2,381.0 57.0,380.9 57.8,381.0 58.6,380.8 59.4,380.9 60.2,380.8 61.0,380.7 61.8,380.7 62.6,380.4 63.4,380.4 64.2,380.7 65.0,380.2 65.8,380.3 66.6,380.0 67.4,379.9 68.2,379.8 69.0,379.8 69.8,379.5 70.6,379.7 71.4,379.4 72.2,379.7 73.0,379.6 73.8,380.0 74.6,380.1 75.4,380.1 76.2,380.2 77.0,380.3 77.8,380.8 78.6,380.8 79.4,381.1 80.2,381.2 81.0,381.2 81.8,381.1 82.6,381.3 83.4,381.1 84.2,381.2 85.0,381.3 85.8,381.5 86.6,381.4 87.4,381.7 88.2,381.9 89.0,382.1 89.8,382.0 90.6,382.2 91.4,382.4 92.2,382.2 93.0,382.3 93.8,382.4 94.6,382.5 95.4,382.7 96.2,382.4 97.0,382.4 97.8,382.6 98.6,382.9 99.4,383.0 100.2,383.0 101.0,382.9 101.8,383.0 102.6,383.1 103.4,383.0 104.2,383.2 105.0,383.2 105.8,383.4 106.6,383.3 107.4,383.3 108.2,383.6 109.0,383.5 109.8,383.5 110.6,383.3 111.4,383.7 112.2,383.6 113.0,383.5 113.8,383.6 114.6,383.9 115.4,384.0 116.2,384.0 117.0,384.2 117.8,384.4 118.6,384.7 119.4,384.5 120.2,384.7 121.0,384.7 121.8,384.9 122.6,385.0 123.4,385.0 124.2,385.1 125.0,385.2 125.8,385.3 126.6,385.7 127.4,385.6 128.2,385.7 129.0,386.0 129.8,386.1 130.6,386.1 131.4,386.2 132.2,386.2 133.0,386.1 133.8,386.5 134.6,386.5 135.4,386.6 136.2,386.6 137.0,386.6 137.8,386.4 138.6,386.3 139.4,386.2 140.2,386.3 141.0,386.2 141.8,386.2 142.6,386.3 143.4,386.5 144.2,386.5 145.0,386.5 145.8,386.5 146.6,386.2 147.4,386.2 148.2,386.2 149.0,386.3 149.8,386.2 150.6,386.4 151.4,386.2 152.2,386.3 153.0,385.9 153.8,385.6 154.6,385.3 155.4,385.0 156.2,385.1 157.0,384.9 157.8,384.6 158.6,384.7 159.4,384.6 160.2,384.7 161.0,384.3 161.8,384.3 162.6,384.2 163.4,384.2 164.2,384.1 165.0,384.2 165.8,383.9 166.6,383.6 167.4,383.9 168.2,383.6 169.0,383.6 169.8,383.5 170.6,383.3 171.4,383.5 172.2,383.3 173.0,383.2 173.8,383.2 174.6,383.1 175.4,382.9 176.2,383.0 177.0,382.8 177.8,382.8 178.6,383.0 179.4,382.9 180.2,382.9 181.0,383.0 181.8,382.9 182.6,382.9 183.4,383.1 184.2,382.9 185.0,382.9 185.8,382.8 186.6,382.6 187.4,382.7 188.2,383.1 189.0,383.2 189.8,383.2 190.6,383.1 191.4,383.2 192.2,383.1 193.0,382.8 193.8,382.9 194.6,382.9 195.4,383.0 196.2,383.0 197.0,383.1 197.8,383.6 198.6,383.7 199.4,383.5 200.2,383.6 201.0,383.3 201.8,383.1 202.6,383.0 203.4,383.4 204.2,383.3 205.0,383.3 205.8,383.4 206.6,383.2 207.4,383.2 208.2,383.2 209.0,383.5 209.8,383.5 210.6,383.7 211.4,383.5 212.2,383.5 213.0,383.4 213.8,383.4 214.6,383.6 215.4,383.4 216.2,383.5 217.0,383.5 217.8,383.8 218.6,383.4 219.4,383.4 220.2,383.2 221.0,383.1 221.8,383.1 222.6,383.2 223.4,383.2 224.2,383.5 225.0,383.6 225.8,383.7 226.6,383.5 227.4,383.5 228.2,383.7 229.0,383.6 229.8,383.6 230.6,383.6 231.4,383.4 232.2,383.5 233.0,383.5 233.8,383.4 234.6,383.4 235.4,383.4 236.2,383.4 237.0,383.4 237.8,383.3 238.6,383.4 239.4,383.5 240.2,383.7 241.0,383.6 241.8,383.3 242.6,383.3 243.4,383.5 244.2,383.3 245.0,383.7 245.8,383.4 246.6,383.6 247.4,383.3 248.2,383.4 249.0,383.6 249.8,383.3 250.6,383.3 251.4,383.4 252.2,383.3 253.0,383.5 253.8,383.5 254.6,383.7 255.4,383.5 256.2,383.6 257.0,383.6 257.8,383.5 258.6,383.5 259.4,383.7 260.2,383.7 261.0,383.7 261.8,383.8 262.6,383.9 263.4,383.8 264.2,383.7 265.0,383.5 265.8,383.6 266.6,383.7 267.4,383.6 268.2,383.8 269.0,383.7 269.8,383.6 270.6,383.6 271.4,383.5 272.2,383.6 273.0,383.4 273.8,383.7 274.6,383.6 275.4,383.7 276.2,383.6 277.0,383.7 277.8,383.8 278.6,383.9 279.4,383.9 280.2,383.6 281.0,383.9 281.8,383.8 282.6,383.9 283.4,383.9 284.2,384.0 285.0,384.1 285.8,384.0 286.6,384.2 287.4,384.0 288.2,384.1 289.0,383.9 289.8,383.8 290.6,383.6 291.4,383.9 292.2,383.7 293.0,383.5 293.8,383.6 294.6,383.8 295.4,383.7 296.2,383.9 297.0,383.8 297.8,383.9 298.6,384.0 299.4,384.2 300.2,384.2 301.0,384.2 301.8,384.2 302.6,384.2 303.4,384.1 304.2,384.0 305.0,384.0 305.8,384.0 306.6,384.2 307.4,384.0 308.2,384.1 309.0,384.0 309.8,384.0 310.6,384.0 311.4,383.5 312.2,383.5 313.0,383.4 313.8,383.5 314.6,383.6 315.4,383.4 316.2,383.6 317.0,383.6 317.8,383.8 318.6,383.9 319.4,383.6 320.2,383.7 321.0,383.7 321.8,383.8 322.6,383.8 323.4,384.0" fill="none" stroke="#000000" stroke-width="1.65" stroke-linejoin="round" stroke-linecap="round"/>
</g>
<rect x="21.5" y="267.5" width="303.00" height="129.00" fill="none" stroke="#999999" stroke-width="1"/>
<line x1="43.50" y1="267.5" x2="43.50" y2="270.5" stroke="#999999" stroke-width="1"/>
<line x1="43.50" y1="396.5" x2="43.50" y2="393.5" stroke="#999999" stroke-width="1"/>
<line x1="64.50" y1="267.5" x2="64.50" y2="270.5" stroke="#999999" stroke-width="1"/>
<line x1="64.50" y1="396.5" x2="64.50" y2="393.5" stroke="#999999" stroke-width="1"/>
<line x1="86.50" y1="267.5" x2="86.50" y2="270.5" stroke="#999999" stroke-width="1"/>
<line x1="86.50" y1="396.5" x2="86.50" y2="393.5" stroke="#999999" stroke-width="1"/>
<line x1="108.50" y1="267.5" x2="108.50" y2="270.5" stroke="#999999" stroke-width="1"/>
<line x1="108.50" y1="396.5" x2="108.50" y2="393.5" stroke="#999999" stroke-width="1"/>
<line x1="129.50" y1="267.5" x2="129.50" y2="270.5" stroke="#999999" stroke-width="1"/>
<line x1="129.50" y1="396.5" x2="129.50" y2="393.5" stroke="#999999" stroke-width="1"/>
<line x1="151.50" y1="267.5" x2="151.50" y2="270.5" stroke="#999999" stroke-width="1"/>
<line x1="151.50" y1="396.5" x2="151.50" y2="393.5" stroke="#999999" stroke-width="1"/>
<line x1="173.50" y1="267.5" x2="173.50" y2="270.5" stroke="#999999" stroke-width="1"/>
<line x1="173.50" y1="396.5" x2="173.50" y2="393.5" stroke="#999999" stroke-width="1"/>
<line x1="194.50" y1="267.5" x2="194.50" y2="270.5" stroke="#999999" stroke-width="1"/>
<line x1="194.50" y1="396.5" x2="194.50" y2="393.5" stroke="#999999" stroke-width="1"/>
<line x1="216.50" y1="267.5" x2="216.50" y2="270.5" stroke="#999999" stroke-width="1"/>
<line x1="216.50" y1="396.5" x2="216.50" y2="393.5" stroke="#999999" stroke-width="1"/>
<line x1="237.50" y1="267.5" x2="237.50" y2="270.5" stroke="#999999" stroke-width="1"/>
<line x1="237.50" y1="396.5" x2="237.50" y2="393.5" stroke="#999999" stroke-width="1"/>
<line x1="259.50" y1="267.5" x2="259.50" y2="270.5" stroke="#999999" stroke-width="1"/>
<line x1="259.50" y1="396.5" x2="259.50" y2="393.5" stroke="#999999" stroke-width="1"/>
<line x1="281.50" y1="267.5" x2="281.50" y2="270.5" stroke="#999999" stroke-width="1"/>
<line x1="281.50" y1="396.5" x2="281.50" y2="393.5" stroke="#999999" stroke-width="1"/>
<line x1="302.50" y1="267.5" x2="302.50" y2="270.5" stroke="#999999" stroke-width="1"/>
<line x1="302.50" y1="396.5" x2="302.50" y2="393.5" stroke="#999999" stroke-width="1"/>
<text x="21.50" y="408.0" font-size="7.3" fill="#383838" text-anchor="middle">0</text>
<text x="43.14" y="408.0" font-size="7.3" fill="#383838" text-anchor="middle">12</text>
<text x="64.79" y="408.0" font-size="7.3" fill="#383838" text-anchor="middle">24</text>
<text x="86.43" y="408.0" font-size="7.3" fill="#383838" text-anchor="middle">36</text>
<text x="108.07" y="408.0" font-size="7.3" fill="#383838" text-anchor="middle">48</text>
<text x="129.71" y="408.0" font-size="7.3" fill="#383838" text-anchor="middle">60</text>
<text x="151.36" y="408.0" font-size="7.3" fill="#383838" text-anchor="middle">72</text>
<text x="173.00" y="408.0" font-size="7.3" fill="#383838" text-anchor="middle">84</text>
<text x="194.64" y="408.0" font-size="7.3" fill="#383838" text-anchor="middle">96</text>
<text x="216.29" y="408.0" font-size="7.3" fill="#383838" text-anchor="middle">108</text>
<text x="237.93" y="408.0" font-size="7.3" fill="#383838" text-anchor="middle">120</text>
<text x="259.57" y="408.0" font-size="7.3" fill="#383838" text-anchor="middle">132</text>
<text x="281.21" y="408.0" font-size="7.3" fill="#383838" text-anchor="middle">144</text>
<text x="302.86" y="408.0" font-size="7.3" fill="#383838" text-anchor="middle">156</text>
<text x="324.50" y="408.0" font-size="7.3" fill="#383838" text-anchor="middle">168</text>
<text x="173.00" y="415.0" font-size="7.6" fill="#383838" text-anchor="middle">Hours</text>
<text x="17.8" y="281.0" font-size="7.3" fill="#383838" text-anchor="end">R24</text>
<text x="17.8" y="302.6" font-size="7.3" fill="#383838" text-anchor="end">R23</text>
<text x="17.8" y="324.5" font-size="7.3" fill="#383838" text-anchor="end">R22</text>
<text x="17.8" y="346.0" font-size="7.3" fill="#383838" text-anchor="end">R21</text>
<text x="17.8" y="367.6" font-size="7.3" fill="#383838" text-anchor="end">R20</text>
<text x="17.8" y="389.0" font-size="7.3" fill="#383838" text-anchor="end">R19</text>
<text x="54.0" y="248.6" font-size="8.44" font-weight="bold" fill="#000">Comparison GLO-M BROADCAST-CODE: week 1950 - max5</text>
<line x1="134.6" y1="253.5" x2="134.6" y2="259.5" stroke="#999" stroke-width="1"/>
<line x1="133.79999999999998" y1="253.5" x2="135.4" y2="253.5" stroke="#666" stroke-width="1"/>
<line x1="133.79999999999998" y1="259.5" x2="135.4" y2="259.5" stroke="#666" stroke-width="1"/>
<text x="143.7" y="259.7" font-size="7.65" fill="#383838">= 2.5 m or 20.0 ns</text>
<rect x="57.4" y="429.3" width="260.00" height="11.50" fill="#fff" stroke="#999999" stroke-width="1"/>
<circle cx="90.8" cy="434.9" r="0.9" fill="#0000ff"/>
<text x="100.3" y="437.6" font-size="6.5" fill="#888" font-style="italic" font-family="Liberation Serif">δ</text>
<text x="105.8" y="437.6" font-size="6.5" fill="#383838">R</text>
<circle cx="151.1" cy="434.9" r="0.9" fill="#ff0000"/>
<text x="160.6" y="437.6" font-size="6.5" fill="#888" font-style="italic" font-family="Liberation Serif">δ</text>
<text x="166.1" y="437.6" font-size="6.5" fill="#383838">S</text>
<circle cx="210.8" cy="434.9" r="0.9" fill="#00ff00"/>
<text x="220.3" y="437.6" font-size="6.5" fill="#888" font-style="italic" font-family="Liberation Serif">δ</text>
<text x="225.8" y="437.6" font-size="6.5" fill="#383838">W</text>
<circle cx="272.5" cy="434.9" r="0.9" fill="#000000"/>
<text x="282.0" y="437.6" font-size="6.5" fill="#888" font-style="italic" font-family="Liberation Serif">δ</text>
<text x="287.5" y="437.6" font-size="6.5" fill="#383838">T</text>
<line x1="43.50" y1="469.5" x2="43.50" y2="490.5" stroke="#f2f2f2" stroke-width="1"/>
<line x1="65.50" y1="469.5" x2="65.50" y2="490.5" stroke="#f2f2f2" stroke-width="1"/>
<line x1="86.50" y1="469.5" x2="86.50" y2="490.5" stroke="#f2f2f2" stroke-width="1"/>
<line x1="107.50" y1="469.5" x2="107.50" y2="490.5" stroke="#f2f2f2" stroke-width="1"/>
<line x1="128.50" y1="469.5" x2="128.50" y2="490.5" stroke="#f2f2f2" stroke-width="1"/>
<line x1="150.50" y1="469.5" x2="150.50" y2="490.5" stroke="#f2f2f2" stroke-width="1"/>
<line x1="171.50" y1="469.5" x2="171.50" y2="490.5" stroke="#f2f2f2" stroke-width="1"/>
<line x1="192.50" y1="469.5" x2="192.50" y2="490.5" stroke="#f2f2f2" stroke-width="1"/>
<line x1="214.50" y1="469.5" x2="214.50" y2="490.5" stroke="#f2f2f2" stroke-width="1"/>
<line x1="235.50" y1="469.5" x2="235.50" y2="490.5" stroke="#f2f2f2" stroke-width="1"/>
<line x1="256.50" y1="469.5" x2="256.50" y2="490.5" stroke="#f2f2f2" stroke-width="1"/>
<line x1="277.50" y1="469.5" x2="277.50" y2="490.5" stroke="#f2f2f2" stroke-width="1"/>
<line x1="299.50" y1="469.5" x2="299.50" y2="490.5" stroke="#f2f2f2" stroke-width="1"/>
<clipPath id="cp2"><rect x="22.5" y="469.5" width="298.00" height="21.00"/></clipPath>
<g clip-path="url(#cp2)">
<polyline points="22.4,479.1 23.2,479.8 24.0,479.6 24.8,479.5 25.6,479.8 26.4,479.9 27.2,480.0 28.0,479.6 28.8,480.4 29.6,480.6 30.4,480.0 31.2,480.4 32.0,480.9 32.8,481.4 33.6,481.2 34.4,481.8 35.2,481.2 36.0,481.0 36.8,480.8 37.6,480.9 38.4,480.7 39.2,480.2 40.0,479.7 40.8,478.6 41.6,477.4 42.4,477.2 43.2,477.1 44.0,477.1 44.8,476.6 45.6,476.2 46.4,476.4 47.2,476.8 48.0,476.0 48.8,476.8 49.6,476.6 50.4,477.0 51.2,477.0 52.0,477.3 52.8,477.1 53.6,477.8 54.4,477.9 55.2,477.9 56.0,478.4 56.8,478.6 57.6,478.6 58.4,478.5 59.2,478.6 60.0,479.4 60.8,479.7 61.6,479.8 62.4,479.2 63.2,479.4 64.0,480.2 64.8,480.4 65.6,479.9 66.4,480.2 67.2,480.9 68.0,481.6 68.8,481.3 69.6,480.9 70.4,481.6 71.2,481.7 72.0,481.6 72.8,482.6 73.6,482.6 74.4,482.4 75.2,482.3 76.0,481.3 76.8,481.3 77.6,480.7 78.4,480.8 79.2,480.7 80.0,481.0 80.8,480.0 81.6,480.8 82.4,479.5 83.2,479.8 84.0,479.6 84.8,480.0 85.6,480.2 86.4,479.9 87.2,480.3 88.0,480.4 88.8,480.1 89.6,480.0 90.4,480.7 91.2,480.0 92.0,480.7 92.8,481.0 93.6,480.4 94.4,480.2 95.2,480.8 96.0,480.8 96.8,480.0 97.6,480.6 98.4,479.4 99.2,479.0 100.0,479.0 100.8,477.4 101.6,478.0 102.4,478.4 103.2,478.6 104.0,479.1 104.8,479.0 105.6,479.6 106.4,480.3 107.2,480.4 108.0,480.1 108.8,480.6 109.6,481.0 110.4,481.3 111.2,481.5 112.0,480.9 112.8,481.1 113.6,481.6 114.4,481.3 115.2,481.8 116.0,482.2 116.8,482.0 117.6,481.5 118.4,480.9 119.2,481.5 120.0,480.8 120.8,481.2 121.6,480.9 122.4,481.1 123.2,480.7 124.0,481.0 124.8,480.9 125.6,481.0 126.4,481.0 127.2,480.8 128.0,480.3 128.8,480.2 129.6,480.8 130.4,480.1 131.2,480.4 132.0,480.7 132.8,480.5 133.6,480.3 134.4,481.1 135.2,480.6 136.0,480.3 136.8,480.3 137.6,480.7 138.4,480.4 139.2,480.3 140.0,480.4 140.8,480.6 141.6,481.2 142.4,481.4 143.2,481.0 144.0,480.9 144.8,481.2 145.6,481.5 146.4,482.2 147.2,482.2 148.0,482.1 148.8,481.9 149.6,481.9 150.4,481.8 151.2,481.7 152.0,482.3 152.8,481.9 153.6,482.1 154.4,482.2 155.2,481.6 156.0,480.9 156.8,481.3 157.6,480.9 158.4,480.4 159.2,480.0 160.0,479.3 160.8,479.4 161.6,479.7 162.4,478.9 163.2,479.7 164.0,479.1 164.8,479.4 165.6,479.3 166.4,479.8 167.2,479.2 168.0,478.9 168.8,479.1 169.6,479.3 170.4,479.4 171.2,479.3 172.0,479.2 172.8,479.8 173.6,479.3 174.4,478.8 175.2,479.5 176.0,479.1 176.8,479.5 177.6,479.7 178.4,479.8 179.2,480.0 180.0,480.3 180.8,480.0 181.6,479.4 182.4,480.2 183.2,480.4 184.0,479.5 184.8,480.3 185.6,479.6 186.4,480.5 187.2,479.5 188.0,480.1 188.8,479.8 189.6,479.8 190.4,479.7 191.2,479.9 192.0,480.5 192.8,480.1 193.6,480.7 194.4,480.7 195.2,480.7 196.0,481.2 196.8,482.1 197.6,481.8 198.4,482.4 199.2,482.2 200.0,481.4 200.8,481.1 201.6,480.8 202.4,480.3 203.2,480.1 204.0,479.6 204.8,479.9 205.6,480.1 206.4,479.9 207.2,479.5 208.0,479.0 208.8,479.2 209.6,479.2 210.4,479.1 211.2,479.2 212.0,479.2 212.8,479.7 213.6,480.0 214.4,479.5 215.2,480.5 216.0,480.3 216.8,480.2 217.6,480.0 218.4,480.3 219.2,480.5 220.0,479.6 220.8,479.7 221.6,480.2 222.4,479.9 223.2,479.6 224.0,479.7 224.8,479.6 225.6,479.9 226.4,479.9 227.2,480.6 228.0,480.6 228.8,480.9 229.6,481.1 230.4,481.1 231.2,481.1 232.0,481.7 232.8,481.6 233.6,481.5 234.4,481.7 235.2,481.9 236.0,482.3 236.8,481.8 237.6,481.9 238.4,481.5 239.2,481.9 240.0,481.2 240.8,481.0 241.6,481.0 242.4,480.5 243.2,479.8 244.0,479.4 244.8,478.9 245.6,479.3 246.4,478.7 247.2,478.8 248.0,478.8 248.8,479.3 249.6,479.5 250.4,479.8 251.2,479.7 252.0,478.8 252.8,479.0 253.6,478.7 254.4,479.6 255.2,478.9 256.0,479.5 256.8,479.6 257.6,479.6 258.4,479.7 259.2,479.6 260.0,479.4 260.8,479.7 261.6,479.6 262.4,480.3 263.2,479.9 264.0,480.6 264.8,480.1 265.6,480.9 266.4,480.5 267.2,480.2 268.0,480.8 268.8,481.6 269.6,481.5 270.4,481.0 271.2,481.6 272.0,481.5 272.8,481.6 273.6,481.2 274.4,482.1 275.2,482.2 276.0,482.2 276.8,481.7 277.6,482.1 278.4,481.6 279.2,481.8 280.0,481.6 280.8,481.4 281.6,481.2 282.4,480.8 283.2,480.1 284.0,480.1 284.8,480.5 285.6,480.4 286.4,480.0 287.2,480.6 288.0,480.1 288.8,480.7 289.6,479.7 290.4,479.6 291.2,480.1 292.0,480.2 292.8,480.0 293.6,480.4 294.4,479.5 295.2,479.7 296.0,479.4 296.8,479.5 297.6,479.6 298.4,479.3 299.2,478.8 300.0,477.8 300.8,478.1 301.6,477.3 302.4,477.4 303.2,476.6 304.0,476.7 304.8,476.1 305.6,476.1 306.4,476.6 307.2,476.6 308.0,476.7 308.8,476.2 309.6,476.6 310.4,476.9 311.2,477.8 312.0,478.1 312.8,477.4 313.6,478.5 314.4,477.9 315.2,478.8 316.0,479.5 316.8,480.6 317.6,481.7 318.4,481.9 319.2,482.0 320.0,480.8 320.8,480.2" fill="none" stroke="#0000ff" stroke-width="2.1" stroke-linejoin="round" stroke-linecap="round"/>
<polyline points="22.4,478.8 23.2,478.3 24.0,478.7 24.8,478.2 25.6,477.9 26.4,478.8 27.2,478.4 28.0,478.3 28.8,478.0 29.6,478.4 30.4,477.7 31.2,478.2 32.0,478.8 32.8,478.9 33.6,479.3 34.4,479.1 35.2,479.8 36.0,479.1 36.8,479.7 37.6,480.6 38.4,480.1 39.2,480.5 40.0,480.8 40.8,480.5 41.6,480.7 42.4,480.6 43.2,480.8 44.0,481.1 44.8,481.1 45.6,481.0 46.4,481.0 47.2,480.8 48.0,480.0 48.8,480.5 49.6,479.9 50.4,480.1 51.2,479.6 52.0,480.2 52.8,480.3 53.6,480.0 54.4,479.9 55.2,480.3 56.0,480.2 56.8,480.6 57.6,480.7 58.4,480.7 59.2,481.3 60.0,480.9 60.8,481.3 61.6,482.0 62.4,483.0 63.2,482.5 64.0,481.7 64.8,481.1 65.6,481.6 66.4,480.5 67.2,479.9 68.0,480.2 68.8,479.7 69.6,479.7 70.4,479.4 71.2,479.4 72.0,479.2 72.8,478.8 73.6,478.6 74.4,478.5 75.2,478.9 76.0,478.8 76.8,478.9 77.6,478.7 78.4,479.4 79.2,480.3 80.0,480.0 80.8,480.4 81.6,481.1 82.4,480.8 83.2,481.2 84.0,480.5 84.8,481.3 85.6,480.5 86.4,480.3 87.2,480.0 88.0,480.2 88.8,480.1 89.6,479.6 90.4,479.1 91.2,479.1 92.0,479.0 92.8,479.4 93.6,479.1 94.4,479.8 95.2,479.4 96.0,480.2 96.8,480.0 97.6,479.9 98.4,480.1 99.2,480.6 100.0,481.3 100.8,481.5 101.6,482.1 102.4,481.9 103.2,481.9 104.0,482.0 104.8,481.7 105.6,481.3 106.4,480.8 107.2,481.0 108.0,480.7 108.8,479.7 109.6,480.4 110.4,480.1 111.2,480.6 112.0,481.0 112.8,480.6 113.6,480.9 114.4,480.9 115.2,480.6 116.0,480.8 116.8,481.1 117.6,480.4 118.4,480.3 119.2,480.8 120.0,480.6 120.8,480.9 121.6,480.2 122.4,480.7 123.2,480.0 124.0,479.9 124.8,479.8 125.6,479.7 126.4,479.4 127.2,479.4 128.0,479.3 128.8,479.7 129.6,478.9 130.4,478.8 131.2,479.1 132.0,478.8 132.8,478.4 133.6,478.4 134.4,478.9 135.2,478.6 136.0,479.4 136.8,479.6 137.6,479.4 138.4,479.1 139.2,478.7 140.0,479.5 140.8,479.7 141.6,479.9 142.4,480.7 143.2,481.0 144.0,481.7 144.8,481.6 145.6,481.9 146.4,482.7 147.2,482.9 148.0,482.5 148.8,482.7 149.6,481.8 150.4,481.1 151.2,481.5 152.0,480.6 152.8,480.2 153.6,479.8 154.4,478.7 155.2,478.6 156.0,479.6 156.8,480.2 157.6,480.1 158.4,480.4 159.2,480.4 160.0,480.0 160.8,480.6 161.6,480.1 162.4,480.8 163.2,481.2 164.0,480.8 164.8,480.9 165.6,480.8 166.4,480.5 167.2,481.1 168.0,480.7 168.8,480.7 169.6,480.1 170.4,480.6 171.2,480.5 172.0,480.5 172.8,480.5 173.6,480.1 174.4,480.9 175.2,480.5 176.0,480.2 176.8,479.8 177.6,480.0 178.4,480.3 179.2,479.7 180.0,480.4 180.8,481.0 181.6,480.8 182.4,481.1 183.2,481.3 184.0,481.9 184.8,481.5 185.6,480.9 186.4,480.3 187.2,480.5 188.0,480.8 188.8,480.4 189.6,479.8 190.4,479.8 191.2,479.1 192.0,479.7 192.8,480.0 193.6,479.9 194.4,480.0 195.2,479.5 196.0,480.2 196.8,479.9 197.6,480.3 198.4,479.5 199.2,479.6 200.0,479.5 200.8,480.0 201.6,480.4 202.4,479.9 203.2,479.8 204.0,479.9 204.8,479.8 205.6,480.1 206.4,480.0 207.2,479.7 208.0,480.1 208.8,479.7 209.6,479.9 210.4,479.8 211.2,480.3 212.0,480.1 212.8,481.1 213.6,480.8 214.4,480.7 215.2,480.8 216.0,479.7 216.8,480.6 217.6,479.9 218.4,480.6 219.2,480.3 220.0,480.9 220.8,481.4 221.6,481.3 222.4,481.2 223.2,481.3 224.0,482.1 224.8,482.1 225.6,481.7 226.4,481.3 227.2,480.9 228.0,480.5 228.8,480.3 229.6,480.4 230.4,479.7 231.2,479.0 232.0,479.2 232.8,479.3 233.6,478.8 234.4,479.9 235.2,479.6 236.0,480.1 236.8,479.6 237.6,480.0 238.4,480.4 239.2,480.8 240.0,481.3 240.8,482.1 241.6,482.2 242.4,482.5 243.2,482.7 244.0,483.8 244.8,483.6 245.6,482.8 246.4,481.2 247.2,479.6 248.0,478.5 248.8,478.7 249.6,478.2 250.4,479.0 251.2,478.9 252.0,478.4 252.8,478.2 253.6,478.2 254.4,477.9 255.2,478.2 256.0,477.8 256.8,478.4 257.6,478.6 258.4,478.4 259.2,478.0 260.0,478.0 260.8,478.5 261.6,479.9 262.4,480.5 263.2,481.2 264.0,480.6 264.8,480.5 265.6,481.0 266.4,480.8 267.2,480.3 268.0,480.4 268.8,480.2 269.6,480.2 270.4,479.5 271.2,479.5 272.0,479.7 272.8,479.7 273.6,479.5 274.4,479.3 275.2,479.8 276.0,479.7 276.8,480.0 277.6,479.9 278.4,479.4 279.2,479.8 280.0,479.6 280.8,479.6 281.6,479.5 282.4,478.7 283.2,479.0 284.0,478.6 284.8,478.4 285.6,478.8 286.4,478.3 287.2,477.6 288.0,478.0 288.8,477.7 289.6,477.7 290.4,477.8 291.2,477.6 292.0,477.3 292.8,477.1 293.6,478.1 294.4,477.8 295.2,478.0 296.0,478.6 296.8,478.9 297.6,479.7 298.4,480.0 299.2,480.5 300.0,481.1 300.8,481.3 301.6,481.8 302.4,482.8 303.2,481.9 304.0,482.8 304.8,482.6 305.6,483.2 306.4,483.4 307.2,482.8 308.0,482.1 308.8,481.3 309.6,480.9 310.4,481.3 311.2,480.2 312.0,479.5 312.8,479.1 313.6,479.7 314.4,479.8 315.2,480.4 316.0,480.2 316.8,480.5 317.6,480.2 318.4,479.7 319.2,480.0 320.0,480.5 320.8,480.2" fill="none" stroke="#ff0000" stroke-width="2.1" stroke-linejoin="round" stroke-linecap="round"/>
<polyline points="185.0,476.3 185.8,475.9 186.6,476.3 187.4,476.5 188.2,476.1 189.0,475.8 189.8,476.2 190.6,476.0 191.4,476.2 192.2,476.1 193.0,476.1" fill="none" stroke="#ff0000" stroke-width="1.6" stroke-linejoin="round" stroke-linecap="round"/>
<polyline points="22.4,479.5 23.2,479.9 24.0,479.8 24.8,479.8 25.6,478.9 26.4,479.7 27.2,479.8 28.0,479.8 28.8,479.6 29.6,479.6 30.4,479.3 31.2,479.2 32.0,478.8 32.8,478.9 33.6,478.8 34.4,478.6 35.2,478.9 36.0,478.9 36.8,478.4 37.6,477.8 38.4,478.4 39.2,477.6 40.0,477.6 40.8,477.5 41.6,477.7 42.4,479.0 43.2,478.3 44.0,479.6 44.8,479.4 45.6,479.8 46.4,479.5 47.2,479.5 48.0,479.4 48.8,479.1 49.6,479.0 50.4,479.6 51.2,479.4 52.0,479.4 52.8,479.4 53.6,480.4 54.4,480.5 55.2,479.6 56.0,479.5 56.8,479.7 57.6,480.2 58.4,479.8 59.2,479.6 60.0,480.1 60.8,479.9 61.6,480.1 62.4,479.9 63.2,479.6 64.0,479.8 64.8,480.1 65.6,479.5 66.4,479.5 67.2,479.7 68.0,479.4 68.8,480.0 69.6,479.6 70.4,479.5 71.2,479.1 72.0,479.1 72.8,479.0 73.6,479.3 74.4,479.7 75.2,479.1 76.0,479.5 76.8,478.8 77.6,478.9 78.4,479.3 79.2,479.2 80.0,479.6 80.8,479.0 81.6,479.2 82.4,479.4 83.2,479.7 84.0,479.7 84.8,479.3 85.6,479.0 86.4,478.6 87.2,478.9 88.0,478.4 88.8,478.5 89.6,478.4 90.4,478.7 91.2,479.3 92.0,479.4 92.8,478.7 93.6,478.4 94.4,478.9 95.2,478.7 96.0,479.3 96.8,479.0 97.6,478.7 98.4,478.8 99.2,479.2 100.0,478.6 100.8,478.7 101.6,478.7 102.4,479.1 103.2,478.5 104.0,478.7 104.8,479.1 105.6,479.3 106.4,479.7 107.2,479.2 108.0,479.2 108.8,478.6 109.6,478.6 110.4,478.9 111.2,478.5 112.0,478.9 112.8,479.2 113.6,478.6 114.4,478.7 115.2,479.1 116.0,478.5 116.8,478.5 117.6,478.5 118.4,478.4 119.2,479.2 120.0,478.8 120.8,479.1 121.6,479.2 122.4,478.2 123.2,478.7 124.0,478.9 124.8,479.1 125.6,479.0 126.4,479.0 127.2,479.5 128.0,479.5 128.8,479.1 129.6,479.0 130.4,479.6 131.2,479.3 132.0,479.9 132.8,479.7 133.6,480.0 134.4,479.7 135.2,480.1 136.0,479.1 136.8,478.3 137.6,478.6 138.4,478.5 139.2,479.4 140.0,478.9 140.8,478.9 141.6,478.8 142.4,478.7 143.2,478.7 144.0,478.5 144.8,478.6 145.6,478.3 146.4,478.8 147.2,478.1 148.0,478.3 148.8,479.2 149.6,478.9 150.4,478.5 151.2,479.2 152.0,479.2 152.8,479.1 153.6,479.0 154.4,478.3 155.2,478.7 156.0,478.5 156.8,478.7 157.6,479.0 158.4,478.4 159.2,478.5 160.0,479.4 160.8,479.0 161.6,479.2 162.4,479.2 163.2,479.8 164.0,479.6 164.8,480.0 165.6,479.4 166.4,479.7 167.2,479.7 168.0,479.9 168.8,480.4 169.6,479.8 170.4,479.7 171.2,479.8 172.0,480.0 172.8,480.0 173.6,480.5 174.4,480.7 175.2,479.9 176.0,480.2 176.8,481.0 177.6,479.9 178.4,480.6 179.2,480.6 180.0,479.9 180.8,479.5 181.6,479.8 182.4,479.2 183.2,479.7 184.0,479.5 184.8,479.6 185.6,479.3 186.4,479.0 187.2,479.3 188.0,479.2 188.8,479.7 189.6,480.0 190.4,479.6 191.2,480.0 192.0,479.5 192.8,479.3 193.6,480.1 194.4,480.7 195.2,480.4 196.0,480.8 196.8,480.7 197.6,480.6 198.4,480.4 199.2,480.2 200.0,480.5 200.8,480.4 201.6,480.0 202.4,480.2 203.2,480.4 204.0,479.8 204.8,480.2 205.6,479.8 206.4,479.6 207.2,479.6 208.0,479.4 208.8,479.6 209.6,479.7 210.4,480.2 211.2,480.4 212.0,480.5 212.8,480.0 213.6,480.4 214.4,480.4 215.2,481.1 216.0,481.3 216.8,481.6 217.6,481.1 218.4,481.2 219.2,480.6 220.0,480.5 220.8,480.8 221.6,479.5 222.4,479.6 223.2,480.0 224.0,479.8 224.8,479.5 225.6,479.5 226.4,479.5 227.2,479.3 228.0,478.9 228.8,478.8 229.6,479.2 230.4,478.8 231.2,479.2 232.0,478.9 232.8,478.3 233.6,479.2 234.4,479.1 235.2,479.3 236.0,478.9 236.8,479.0 237.6,479.5 238.4,479.1 239.2,479.4 240.0,479.5 240.8,478.7 241.6,479.2 242.4,478.7 243.2,479.2 244.0,479.5 244.8,480.0 245.6,479.2 246.4,479.3 247.2,479.2 248.0,479.9 248.8,479.3 249.6,478.9 250.4,479.4 251.2,479.1 252.0,479.9 252.8,479.7 253.6,479.1 254.4,479.4 255.2,479.1 256.0,478.4 256.8,478.2 257.6,478.7 258.4,479.3 259.2,479.1 260.0,478.7 260.8,479.0 261.6,479.0 262.4,478.7 263.2,479.0 264.0,478.9 264.8,478.9 265.6,479.5 266.4,479.8 267.2,479.4 268.0,478.7 268.8,479.6 269.6,479.3 270.4,479.6 271.2,479.7 272.0,479.6 272.8,478.9 273.6,479.3 274.4,479.0 275.2,479.5 276.0,479.6 276.8,479.0 277.6,479.5 278.4,479.8 279.2,479.7 280.0,479.8 280.8,479.8 281.6,479.1 282.4,479.1 283.2,478.8 284.0,478.8 284.8,479.4 285.6,479.5 286.4,480.0 287.2,479.1 288.0,479.6 288.8,479.2 289.6,479.8 290.4,480.1 291.2,479.8 292.0,479.6 292.8,479.9 293.6,479.2 294.4,479.9 295.2,479.9 296.0,480.4 296.8,480.1 297.6,479.6 298.4,480.5 299.2,480.2 300.0,479.8 300.8,480.1 301.6,480.2 302.4,480.0 303.2,480.6 304.0,479.5 304.8,479.3 305.6,479.7 306.4,480.1 307.2,479.7 308.0,479.8 308.8,479.8 309.6,479.6 310.4,479.7 311.2,479.6 312.0,479.6 312.8,479.8 313.6,479.7 314.4,479.7 315.2,479.1 316.0,479.7 316.8,479.6 317.6,480.5 318.4,479.6 319.2,479.9 320.0,480.4 320.8,479.8" fill="none" stroke="#00ff00" stroke-width="2.6" stroke-linejoin="round" stroke-linecap="round"/>
<polyline points="22.4,475.2 23.2,475.3 24.0,475.3 24.8,475.2 25.6,475.5 26.4,475.4 27.2,475.6 28.0,475.8 28.8,475.9 29.6,475.8 30.4,475.9 31.2,475.9 32.0,475.9 32.8,476.3 33.6,476.2 34.4,476.1 35.2,476.2 36.0,476.4 36.8,476.0 37.6,476.1 38.4,475.9 39.2,475.9 40.0,475.9 40.8,476.0 41.6,475.8 42.4,475.9 43.2,476.1 44.0,476.1 44.8,476.0 45.6,475.7 46.4,475.7 47.2,475.6 48.0,475.6 48.8,475.5 49.6,475.7 50.4,475.7 51.2,475.9 52.0,475.7 52.8,475.8 53.6,475.8 54.4,475.6 55.2,475.7 56.0,475.6 56.8,475.5 57.6,475.7 58.4,476.0 59.2,475.9 60.0,475.9 60.8,475.8 61.6,475.7 62.4,475.6 63.2,475.9 64.0,475.7 64.8,475.8 65.6,475.8 66.4,475.7 67.2,475.8 68.0,476.0 68.8,475.9 69.6,475.9 70.4,475.9 71.2,476.0 72.0,475.9 72.8,476.1 73.6,476.0 74.4,476.2 75.2,476.2 76.0,476.3 76.8,476.2 77.6,476.0 78.4,476.1 79.2,476.2 80.0,476.3 80.8,476.0 81.6,475.9 82.4,476.2 83.2,476.1 84.0,475.9 84.8,476.3 85.6,476.7 86.4,477.0 87.2,476.8 88.0,477.0 88.8,476.8 89.6,476.7 90.4,476.7 91.2,476.7 92.0,476.5 92.8,476.6 93.6,476.7 94.4,476.8 95.2,476.9 96.0,476.9 96.8,476.8 97.6,476.6 98.4,476.8 99.2,476.7 100.0,476.9 100.8,476.6 101.6,476.7 102.4,476.6 103.2,476.7 104.0,476.6 104.8,476.8 105.6,476.6 106.4,476.8 107.2,476.7 108.0,476.7 108.8,476.9 109.6,477.0 110.4,476.6 111.2,476.5 112.0,476.6 112.8,476.5 113.6,476.4 114.4,476.4 115.2,476.5 116.0,476.4 116.8,476.4 117.6,476.3 118.4,476.0 119.2,476.0 120.0,475.9 120.8,476.0 121.6,475.9 122.4,475.9 123.2,476.6 124.0,477.0 124.8,476.8 125.6,476.6 126.4,476.8 127.2,476.9 128.0,476.7 128.8,476.8 129.6,476.7 130.4,476.6 131.2,476.8 132.0,476.9 132.8,476.7 133.6,476.9 134.4,476.9 135.2,476.8 136.0,476.8 136.8,476.8 137.6,476.9 138.4,476.7 139.2,476.8 140.0,476.9 140.8,476.6 141.6,476.6 142.4,476.5 143.2,476.5 144.0,476.5 144.8,476.6 145.6,476.6 146.4,476.5 147.2,476.7 148.0,476.8 148.8,476.6 149.6,476.7 150.4,476.6 151.2,476.9 152.0,476.8 152.8,476.8 153.6,476.8 154.4,477.0 155.2,477.2 156.0,477.1 156.8,477.0 157.6,476.8 158.4,477.0 159.2,477.1 160.0,476.9 160.8,477.0 161.6,477.0 162.4,477.2 163.2,477.1 164.0,477.2 164.8,477.1 165.6,477.1 166.4,477.2 167.2,477.1 168.0,477.1 168.8,477.2 169.6,477.2 170.4,477.0 171.2,477.1 172.0,477.2 172.8,477.3 173.6,477.4 174.4,477.3 175.2,477.4 176.0,477.2 176.8,477.3 177.6,477.1 178.4,477.2 179.2,477.2 180.0,477.2 180.8,477.2 181.6,477.3 182.4,477.5 183.2,477.3 184.0,477.1 184.8,477.4 185.6,477.4 186.4,477.3 187.2,477.2 188.0,477.5 188.8,477.3 189.6,477.4 190.4,477.4 191.2,477.5 192.0,477.6 192.8,477.5 193.6,477.5 194.4,477.5 195.2,477.5 196.0,477.5 196.8,477.4 197.6,477.4 198.4,477.5 199.2,477.4 200.0,477.6 200.8,477.6 201.6,477.3 202.4,477.6 203.2,477.5 204.0,477.5 204.8,477.6 205.6,477.7 206.4,477.3 207.2,477.7 208.0,477.3 208.8,477.3 209.6,477.4 210.4,477.5 211.2,477.4 212.0,477.4 212.8,477.5 213.6,477.6 214.4,477.6 215.2,477.7 216.0,477.7 216.8,477.7 217.6,477.6 218.4,477.4 219.2,477.5 220.0,477.3 220.8,477.4 221.6,477.4 222.4,477.3 223.2,477.2 224.0,477.2 224.8,477.2 225.6,477.1 226.4,477.2 227.2,477.2 228.0,477.2 228.8,477.3 229.6,477.1 230.4,477.3 231.2,477.2 232.0,477.2 232.8,477.1 233.6,476.9 234.4,476.8 235.2,476.9 236.0,477.0 236.8,476.8 237.6,476.9 238.4,477.1 239.2,476.7 240.0,476.9 240.8,477.0 241.6,476.9 242.4,477.1 243.2,476.9 244.0,477.1 244.8,477.1 245.6,477.2 246.4,477.3 247.2,477.3 248.0,477.2 248.8,477.3 249.6,477.3 250.4,477.4 251.2,477.6 252.0,477.5 252.8,477.5 253.6,477.4 254.4,477.2 255.2,477.3 256.0,477.4 256.8,477.5 257.6,477.3 258.4,477.3 259.2,477.4 260.0,477.5 260.8,477.4 261.6,477.5 262.4,477.7 263.2,477.4 264.0,477.4 264.8,477.7 265.6,477.9 266.4,477.9 267.2,477.8 268.0,477.9 268.8,477.9 269.6,477.8 270.4,477.8 271.2,478.0 272.0,478.0 272.8,478.1 273.6,477.9 274.4,478.2 275.2,478.1 276.0,478.1 276.8,478.1 277.6,478.3 278.4,478.0 279.2,478.0 280.0,478.1 280.8,478.2 281.6,478.2 282.4,478.3 283.2,478.1 284.0,478.0 284.8,478.1 285.6,478.0 286.4,478.2 287.2,478.1 288.0,478.1 288.8,478.1 289.6,478.3 290.4,478.3 291.2,478.1 292.0,478.4 292.8,478.5 293.6,478.4 294.4,478.6 295.2,478.6 296.0,478.6 296.8,478.7 297.6,478.5 298.4,478.6 299.2,478.4 300.0,478.6 300.8,478.5 301.6,478.4 302.4,478.4 303.2,478.4 304.0,478.5 304.8,478.5 305.6,478.5 306.4,478.5 307.2,478.5 308.0,478.2 308.8,478.3 309.6,478.2 310.4,478.3 311.2,478.3 312.0,478.4 312.8,478.3 313.6,478.2 314.4,478.3 315.2,478.2 316.0,478.2 316.8,478.0 317.6,477.9 318.4,478.2 319.2,478.0 320.0,477.8 320.8,478.0" fill="none" stroke="#000000" stroke-width="1.5" stroke-linejoin="round" stroke-linecap="round"/>
</g>
<rect x="22.5" y="469.5" width="298.00" height="21.00" fill="none" stroke="#999999" stroke-width="1"/>
<line x1="43.50" y1="469.5" x2="43.50" y2="472.5" stroke="#999999" stroke-width="1"/>
<line x1="43.50" y1="490.5" x2="43.50" y2="487.5" stroke="#999999" stroke-width="1"/>
<line x1="65.50" y1="469.5" x2="65.50" y2="472.5" stroke="#999999" stroke-width="1"/>
<line x1="65.50" y1="490.5" x2="65.50" y2="487.5" stroke="#999999" stroke-width="1"/>
<line x1="86.50" y1="469.5" x2="86.50" y2="472.5" stroke="#999999" stroke-width="1"/>
<line x1="86.50" y1="490.5" x2="86.50" y2="487.5" stroke="#999999" stroke-width="1"/>
<line x1="107.50" y1="469.5" x2="107.50" y2="472.5" stroke="#999999" stroke-width="1"/>
<line x1="107.50" y1="490.5" x2="107.50" y2="487.5" stroke="#999999" stroke-width="1"/>
<line x1="128.50" y1="469.5" x2="128.50" y2="472.5" stroke="#999999" stroke-width="1"/>
<line x1="128.50" y1="490.5" x2="128.50" y2="487.5" stroke="#999999" stroke-width="1"/>
<line x1="150.50" y1="469.5" x2="150.50" y2="472.5" stroke="#999999" stroke-width="1"/>
<line x1="150.50" y1="490.5" x2="150.50" y2="487.5" stroke="#999999" stroke-width="1"/>
<line x1="171.50" y1="469.5" x2="171.50" y2="472.5" stroke="#999999" stroke-width="1"/>
<line x1="171.50" y1="490.5" x2="171.50" y2="487.5" stroke="#999999" stroke-width="1"/>
<line x1="192.50" y1="469.5" x2="192.50" y2="472.5" stroke="#999999" stroke-width="1"/>
<line x1="192.50" y1="490.5" x2="192.50" y2="487.5" stroke="#999999" stroke-width="1"/>
<line x1="214.50" y1="469.5" x2="214.50" y2="472.5" stroke="#999999" stroke-width="1"/>
<line x1="214.50" y1="490.5" x2="214.50" y2="487.5" stroke="#999999" stroke-width="1"/>
<line x1="235.50" y1="469.5" x2="235.50" y2="472.5" stroke="#999999" stroke-width="1"/>
<line x1="235.50" y1="490.5" x2="235.50" y2="487.5" stroke="#999999" stroke-width="1"/>
<line x1="256.50" y1="469.5" x2="256.50" y2="472.5" stroke="#999999" stroke-width="1"/>
<line x1="256.50" y1="490.5" x2="256.50" y2="487.5" stroke="#999999" stroke-width="1"/>
<line x1="277.50" y1="469.5" x2="277.50" y2="472.5" stroke="#999999" stroke-width="1"/>
<line x1="277.50" y1="490.5" x2="277.50" y2="487.5" stroke="#999999" stroke-width="1"/>
<line x1="299.50" y1="469.5" x2="299.50" y2="472.5" stroke="#999999" stroke-width="1"/>
<line x1="299.50" y1="490.5" x2="299.50" y2="487.5" stroke="#999999" stroke-width="1"/>
<text x="22.50" y="501.8" font-size="7.2" fill="#383838" text-anchor="middle">0</text>
<text x="43.79" y="501.8" font-size="7.2" fill="#383838" text-anchor="middle">12</text>
<text x="65.07" y="501.8" font-size="7.2" fill="#383838" text-anchor="middle">24</text>
<text x="86.36" y="501.8" font-size="7.2" fill="#383838" text-anchor="middle">36</text>
<text x="107.64" y="501.8" font-size="7.2" fill="#383838" text-anchor="middle">48</text>
<text x="128.93" y="501.8" font-size="7.2" fill="#383838" text-anchor="middle">60</text>
<text x="150.21" y="501.8" font-size="7.2" fill="#383838" text-anchor="middle">72</text>
<text x="171.50" y="501.8" font-size="7.2" fill="#383838" text-anchor="middle">84</text>
<text x="192.79" y="501.8" font-size="7.2" fill="#383838" text-anchor="middle">96</text>
<text x="214.07" y="501.8" font-size="7.2" fill="#383838" text-anchor="middle">108</text>
<text x="235.36" y="501.8" font-size="7.2" fill="#383838" text-anchor="middle">120</text>
<text x="256.64" y="501.8" font-size="7.2" fill="#383838" text-anchor="middle">132</text>
<text x="277.93" y="501.8" font-size="7.2" fill="#383838" text-anchor="middle">144</text>
<text x="299.21" y="501.8" font-size="7.2" fill="#383838" text-anchor="middle">156</text>
<text x="320.50" y="501.8" font-size="7.2" fill="#383838" text-anchor="middle">168</text>
<text x="171.50" y="508.9" font-size="7.5" fill="#383838" text-anchor="middle">Hours</text>
<text x="18.7" y="483.6" font-size="7.2" fill="#383838" text-anchor="end">R09</text>
<text x="55.0" y="451.1" font-size="8.3" font-weight="bold" fill="#000">Comparison GLO-K BROADCAST-CODE: week 1950 - max5</text>
<line x1="133.9" y1="456.5" x2="133.9" y2="462.5" stroke="#999" stroke-width="1"/>
<line x1="133.1" y1="456.5" x2="134.70000000000002" y2="456.5" stroke="#666" stroke-width="1"/>
<line x1="133.1" y1="462.5" x2="134.70000000000002" y2="462.5" stroke="#666" stroke-width="1"/>
<text x="142.6" y="462.8" font-size="7.55" fill="#383838">= 2.5 m or 20.0 ns</text>
<rect x="58.1" y="530.6" width="256.20" height="11.80" fill="#fff" stroke="#999999" stroke-width="1"/>
<circle cx="91.1" cy="536.4" r="0.9" fill="#0000ff"/>
<text x="100.6" y="539.0" font-size="6.5" fill="#888" font-style="italic" font-family="Liberation Serif">δ</text>
<text x="106.1" y="539.0" font-size="6.5" fill="#383838">R</text>
<circle cx="150.6" cy="536.4" r="0.9" fill="#ff0000"/>
<text x="160.1" y="539.0" font-size="6.5" fill="#888" font-style="italic" font-family="Liberation Serif">δ</text>
<text x="165.6" y="539.0" font-size="6.5" fill="#383838">S</text>
<circle cx="209.4" cy="536.4" r="0.9" fill="#00ff00"/>
<text x="218.9" y="539.0" font-size="6.5" fill="#888" font-style="italic" font-family="Liberation Serif">δ</text>
<text x="224.4" y="539.0" font-size="6.5" fill="#383838">W</text>
<circle cx="270.6" cy="536.4" r="0.9" fill="#000000"/>
<text x="280.1" y="539.0" font-size="6.5" fill="#888" font-style="italic" font-family="Liberation Serif">δ</text>
<text x="285.6" y="539.0" font-size="6.5" fill="#383838">T</text>
</svg></body></html>
